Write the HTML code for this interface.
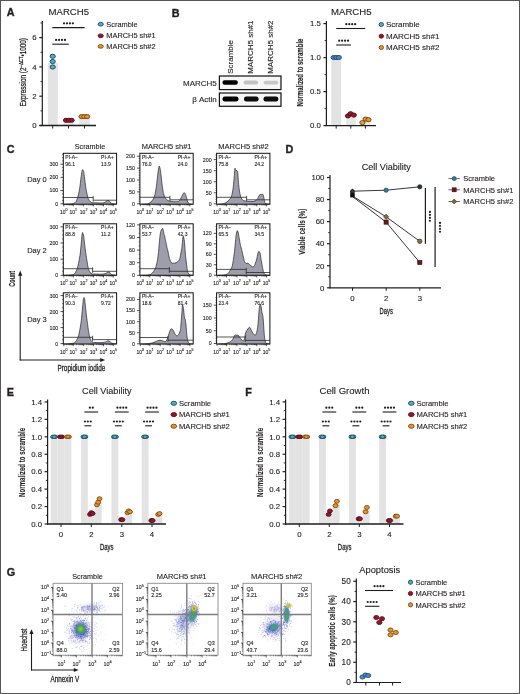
<!DOCTYPE html>
<html><head><meta charset="utf-8"><style>
html,body{margin:0;padding:0;background:#fff;width:520px;height:694px;overflow:hidden}
svg{display:block;filter:blur(0.4px)}
text{font-family:"Liberation Sans",sans-serif;fill:#231f20;stroke:#231f20;stroke-width:0.12px}
</style></head><body>
<svg width="520" height="694" viewBox="0 0 520 694">
<rect width="520" height="694" fill="#fff"/>
<rect x="0.5" y="0.5" width="519" height="693" fill="none" stroke="#555" stroke-width="1"/>
<text x="6.8" y="16" font-size="10.8" text-anchor="start" font-weight="bold" style="stroke-width:0.35px">A</text>
<text x="68.75" y="15" font-size="9" text-anchor="middle" textLength="40.5" lengthAdjust="spacingAndGlyphs">MARCH5</text>
<rect x="47.8" y="62.8" width="10" height="62.7" fill="#e3e3e3"/>
<rect x="63.5" y="120.67" width="10" height="4.83" fill="#e3e3e3"/>
<rect x="79.3" y="117" width="10.5" height="8.5" fill="#e3e6ea"/>
<line x1="42.3" y1="126" x2="42.3" y2="21" stroke="#1e1e1e" stroke-width="1.2"/>
<line x1="39.3" y1="125.5" x2="42.3" y2="125.5" stroke="#1e1e1e" stroke-width="1.2"/>
<text x="36.7" y="128.31" font-size="7.8" text-anchor="end">0</text>
<line x1="39.3" y1="96.2" x2="42.3" y2="96.2" stroke="#1e1e1e" stroke-width="1.2"/>
<text x="36.7" y="99.01" font-size="7.8" text-anchor="end">2</text>
<line x1="39.3" y1="66.9" x2="42.3" y2="66.9" stroke="#1e1e1e" stroke-width="1.2"/>
<text x="36.7" y="69.71" font-size="7.8" text-anchor="end">4</text>
<line x1="39.3" y1="37.6" x2="42.3" y2="37.6" stroke="#1e1e1e" stroke-width="1.2"/>
<text x="36.7" y="40.41" font-size="7.8" text-anchor="end">6</text>
<line x1="40.5" y1="110.85" x2="42.3" y2="110.85" stroke="#1e1e1e" stroke-width="0.9"/>
<line x1="40.5" y1="81.55" x2="42.3" y2="81.55" stroke="#1e1e1e" stroke-width="0.9"/>
<line x1="40.5" y1="52.25" x2="42.3" y2="52.25" stroke="#1e1e1e" stroke-width="0.9"/>
<line x1="40.5" y1="22.95" x2="42.3" y2="22.95" stroke="#1e1e1e" stroke-width="0.9"/>
<line x1="39.5" y1="125.5" x2="96" y2="125.5" stroke="#1e1e1e" stroke-width="1.3"/>
<line x1="52.7" y1="125.5" x2="52.7" y2="128.5" stroke="#1e1e1e" stroke-width="1"/>
<line x1="68.5" y1="125.5" x2="68.5" y2="128.5" stroke="#1e1e1e" stroke-width="1"/>
<line x1="84.5" y1="125.5" x2="84.5" y2="128.5" stroke="#1e1e1e" stroke-width="1"/>
<ellipse cx="52.7" cy="67" rx="2.58" ry="2.05" fill="#5aaac0" stroke="#124e62" stroke-width="1"/>
<ellipse cx="52.7" cy="61.5" rx="2.58" ry="2.05" fill="#5aaac0" stroke="#124e62" stroke-width="1"/>
<ellipse cx="52.7" cy="56.3" rx="2.58" ry="2.05" fill="#5aaac0" stroke="#124e62" stroke-width="1"/>
<ellipse cx="66" cy="120.3" rx="2.58" ry="2.05" fill="#8e1b2d" stroke="#5c0d1a" stroke-width="1"/>
<ellipse cx="68.8" cy="120.3" rx="2.58" ry="2.05" fill="#8e1b2d" stroke="#5c0d1a" stroke-width="1"/>
<ellipse cx="71.6" cy="120.3" rx="2.58" ry="2.05" fill="#8e1b2d" stroke="#5c0d1a" stroke-width="1"/>
<ellipse cx="81.5" cy="116.6" rx="2.58" ry="2.05" fill="#e8932e" stroke="#7a4a10" stroke-width="1"/>
<ellipse cx="84.3" cy="116.6" rx="2.58" ry="2.05" fill="#e8932e" stroke="#7a4a10" stroke-width="1"/>
<ellipse cx="87.1" cy="116.6" rx="2.58" ry="2.05" fill="#e8932e" stroke="#7a4a10" stroke-width="1"/>
<line x1="52.3" y1="27.6" x2="84.6" y2="27.6" stroke="#1e1e1e" stroke-width="1.1"/>
<circle cx="64.02" cy="23.3" r="1.1" fill="#1e1e1e"/>
<circle cx="66.97" cy="23.3" r="1.1" fill="#1e1e1e"/>
<circle cx="69.92" cy="23.3" r="1.1" fill="#1e1e1e"/>
<circle cx="72.87" cy="23.3" r="1.1" fill="#1e1e1e"/>
<line x1="52.3" y1="44.2" x2="68.8" y2="44.2" stroke="#1e1e1e" stroke-width="1.1"/>
<circle cx="56.12" cy="39.9" r="1.1" fill="#1e1e1e"/>
<circle cx="59.07" cy="39.9" r="1.1" fill="#1e1e1e"/>
<circle cx="62.02" cy="39.9" r="1.1" fill="#1e1e1e"/>
<circle cx="64.97" cy="39.9" r="1.1" fill="#1e1e1e"/>
<text x="25.9" y="72.2" font-size="9" style="stroke-width:0.28px" text-anchor="middle" transform="rotate(-90 25.9 72.2)" textLength="68.4" lengthAdjust="spacingAndGlyphs">Expression (2<tspan font-size="6" dy="-3.3">−ΔCT</tspan><tspan dy="3.3">•1000)</tspan></text>
<ellipse cx="100.7" cy="24.2" rx="2.6" ry="1.86" fill="#5aaac0" stroke="#124e62" stroke-width="0.9"/>
<text x="106.3" y="26.86" font-size="7.4" text-anchor="start">Scramble</text>
<ellipse cx="100.7" cy="35.8" rx="2.6" ry="1.86" fill="#8e1b2d" stroke="#5c0d1a" stroke-width="0.9"/>
<text x="106.3" y="38.46" font-size="7.4" text-anchor="start">MARCH5 sh#1</text>
<ellipse cx="100.7" cy="46.4" rx="2.6" ry="1.86" fill="#e8932e" stroke="#7a4a10" stroke-width="0.9"/>
<text x="106.3" y="49.06" font-size="7.4" text-anchor="start">MARCH5 sh#2</text>
<text x="171.8" y="17" font-size="10.8" text-anchor="start" font-weight="bold" style="stroke-width:0.35px">B</text>
<text x="232.6" y="73.8" font-size="8" text-anchor="start" transform="rotate(-90 232.6 73.8)">Scramble</text>
<text x="253" y="73.8" font-size="8" text-anchor="start" transform="rotate(-90 253 73.8)">MARCH5 sh#1</text>
<text x="273" y="73.8" font-size="8" text-anchor="start" transform="rotate(-90 273 73.8)">MARCH5 sh#2</text>
<text x="216.8" y="85.8" font-size="8" text-anchor="end">MARCH5</text>
<text x="216.8" y="102.3" font-size="8" text-anchor="end">β Actin</text>
<rect x="219.4" y="76" width="61.6" height="13.6" fill="#f6f6f6" stroke="#111" stroke-width="1.2"/>
<rect x="219.4" y="93" width="61.6" height="13.3" fill="#f6f6f6" stroke="#111" stroke-width="1.2"/>
<defs><filter id="bl" x="-20%" y="-50%" width="140%" height="200%"><feGaussianBlur stdDeviation="0.6"/></filter><filter id="bl2" x="-20%" y="-50%" width="140%" height="200%"><feGaussianBlur stdDeviation="0.5"/></filter></defs>
<g filter="url(#bl)">
<rect x="222.5" y="80.3" width="15.3" height="4.4" rx="2" fill="#050505"/>
<rect x="243.6" y="80.5" width="14.5" height="4" rx="1.8" fill="#c2c2c2" filter="url(#bl2)"/>
<rect x="263.6" y="80.7" width="14.6" height="3.8" rx="1.8" fill="#c8c8c8" filter="url(#bl2)"/>
<rect x="222.5" y="96.4" width="16" height="5.2" rx="2.4" fill="#050505"/>
<rect x="244" y="96.4" width="14.6" height="5.2" rx="2.4" fill="#080808"/>
<rect x="263.5" y="96.4" width="14.8" height="5.2" rx="2.4" fill="#080808"/>
</g>
<text x="351.25" y="15" font-size="9" text-anchor="middle" textLength="40.5" lengthAdjust="spacingAndGlyphs">MARCH5</text>
<rect x="331.3" y="57.6" width="9.8" height="68" fill="#e3e3e3"/>
<rect x="346.3" y="115.4" width="9.5" height="10.2" fill="#e4e8e8"/>
<rect x="360.8" y="120.84" width="9.7" height="4.76" fill="#e8e8e4"/>
<line x1="326.4" y1="126.1" x2="326.4" y2="21" stroke="#1e1e1e" stroke-width="1.2"/>
<line x1="323.4" y1="125.6" x2="326.4" y2="125.6" stroke="#1e1e1e" stroke-width="1.2"/>
<text x="320.8" y="128.41" font-size="7.8" text-anchor="end">0.0</text>
<line x1="323.4" y1="91.6" x2="326.4" y2="91.6" stroke="#1e1e1e" stroke-width="1.2"/>
<text x="320.8" y="94.41" font-size="7.8" text-anchor="end">0.5</text>
<line x1="323.4" y1="57.6" x2="326.4" y2="57.6" stroke="#1e1e1e" stroke-width="1.2"/>
<text x="320.8" y="60.41" font-size="7.8" text-anchor="end">1.0</text>
<line x1="323.4" y1="23.6" x2="326.4" y2="23.6" stroke="#1e1e1e" stroke-width="1.2"/>
<text x="320.8" y="26.41" font-size="7.8" text-anchor="end">1.5</text>
<line x1="324.6" y1="108.6" x2="326.4" y2="108.6" stroke="#1e1e1e" stroke-width="0.9"/>
<line x1="324.6" y1="74.6" x2="326.4" y2="74.6" stroke="#1e1e1e" stroke-width="0.9"/>
<line x1="324.6" y1="40.6" x2="326.4" y2="40.6" stroke="#1e1e1e" stroke-width="0.9"/>
<line x1="325.6" y1="125.6" x2="376" y2="125.6" stroke="#1e1e1e" stroke-width="1.3"/>
<line x1="336.2" y1="125.6" x2="336.2" y2="128.6" stroke="#1e1e1e" stroke-width="1"/>
<line x1="350.8" y1="125.6" x2="350.8" y2="128.6" stroke="#1e1e1e" stroke-width="1"/>
<line x1="365.4" y1="125.6" x2="365.4" y2="128.6" stroke="#1e1e1e" stroke-width="1"/>
<ellipse cx="333.6" cy="57.5" rx="2.58" ry="2.05" fill="#4a86b8" stroke="#1d4f7a" stroke-width="1"/>
<ellipse cx="336.2" cy="57.5" rx="2.58" ry="2.05" fill="#4a86b8" stroke="#1d4f7a" stroke-width="1"/>
<ellipse cx="338.8" cy="57.5" rx="2.58" ry="2.05" fill="#4a86b8" stroke="#1d4f7a" stroke-width="1"/>
<ellipse cx="348" cy="115.9" rx="2.58" ry="2.05" fill="#8e1b2d" stroke="#5c0d1a" stroke-width="1"/>
<ellipse cx="350.6" cy="113.7" rx="2.58" ry="2.05" fill="#8e1b2d" stroke="#5c0d1a" stroke-width="1"/>
<ellipse cx="353.8" cy="115.1" rx="2.58" ry="2.05" fill="#8e1b2d" stroke="#5c0d1a" stroke-width="1"/>
<ellipse cx="362.4" cy="122.6" rx="2.58" ry="2.05" fill="#c8b040" stroke="#7a4a10" stroke-width="1"/>
<ellipse cx="365.6" cy="119.1" rx="2.58" ry="2.05" fill="#e8932e" stroke="#7a4a10" stroke-width="1"/>
<ellipse cx="368.5" cy="119.7" rx="2.58" ry="2.05" fill="#e8932e" stroke="#7a4a10" stroke-width="1"/>
<line x1="336.2" y1="28.5" x2="365.2" y2="28.5" stroke="#1e1e1e" stroke-width="1.1"/>
<circle cx="346.27" cy="24.2" r="1.1" fill="#1e1e1e"/>
<circle cx="349.22" cy="24.2" r="1.1" fill="#1e1e1e"/>
<circle cx="352.18" cy="24.2" r="1.1" fill="#1e1e1e"/>
<circle cx="355.12" cy="24.2" r="1.1" fill="#1e1e1e"/>
<line x1="336.2" y1="45" x2="351" y2="45" stroke="#1e1e1e" stroke-width="1.1"/>
<circle cx="339.18" cy="40.7" r="1.1" fill="#1e1e1e"/>
<circle cx="342.12" cy="40.7" r="1.1" fill="#1e1e1e"/>
<circle cx="345.08" cy="40.7" r="1.1" fill="#1e1e1e"/>
<circle cx="348.03" cy="40.7" r="1.1" fill="#1e1e1e"/>
<text x="303.4" y="72.5" font-size="9" text-anchor="middle" font-weight="bold" textLength="67.8" lengthAdjust="spacingAndGlyphs" transform="rotate(-90 303.4 72.5)">Normalized to scramble</text>
<ellipse cx="381.3" cy="24.5" rx="2.21" ry="2" fill="#5aaac0" stroke="#124e62" stroke-width="0.9"/>
<text x="386" y="27.38" font-size="8" text-anchor="start">Scramble</text>
<ellipse cx="381.3" cy="36.2" rx="2.21" ry="2" fill="#8e1b2d" stroke="#5c0d1a" stroke-width="0.9"/>
<text x="386" y="39.08" font-size="8" text-anchor="start">MARCH5 sh#1</text>
<ellipse cx="381.3" cy="47.5" rx="2.21" ry="2" fill="#e8932e" stroke="#7a4a10" stroke-width="0.9"/>
<text x="386" y="50.38" font-size="8" text-anchor="start">MARCH5 sh#2</text>
<text x="6.8" y="152.5" font-size="10.8" text-anchor="start" font-weight="bold" style="stroke-width:0.35px">C</text>
<text x="90" y="149.2" font-size="7.6" text-anchor="middle" textLength="30.5" lengthAdjust="spacingAndGlyphs">Scramble</text>
<text x="166.6" y="149.2" font-size="7.6" text-anchor="middle" textLength="49.8" lengthAdjust="spacingAndGlyphs">MARCH5 sh#1</text>
<text x="243.5" y="149.2" font-size="7.6" text-anchor="middle" textLength="50.5" lengthAdjust="spacingAndGlyphs">MARCH5 sh#2</text>
<text x="37" y="181.5" font-size="7.5" text-anchor="middle">Day 0</text>
<text x="37" y="252.7" font-size="7.5" text-anchor="middle">Day 2</text>
<text x="37" y="321.5" font-size="7.5" text-anchor="middle">Day 3</text>
<path d="M64,204.2 C64.6,204.18 69.02,204.07 70,204 C70.98,203.93 73.2,203.75 73.8,203.5 C74.4,203.25 75.65,201.98 76,201.5 C76.35,201.02 77.02,199.55 77.3,198.7 C77.58,197.85 78.54,194.18 78.8,193 C79.06,191.82 79.68,188.4 79.9,186.9 C80.12,185.4 80.8,179.54 81,178 C81.2,176.46 81.72,172.34 81.9,171.5 C82.08,170.66 82.63,169.6 82.8,169.6 C82.97,169.6 83.42,170.66 83.6,171.5 C83.78,172.34 84.39,176.46 84.6,178 C84.81,179.54 85.48,185.4 85.7,186.9 C85.92,188.4 86.54,191.82 86.8,193 C87.06,194.18 87.98,197.85 88.3,198.7 C88.62,199.55 89.66,201.11 90,201.5 C90.34,201.89 91.2,202.47 91.7,202.6 C92.2,202.73 94.17,202.76 95,202.8 C95.83,202.84 99.1,203 100,203 C100.9,203 103.4,202.94 104,202.8 C104.6,202.66 105.65,201.83 106,201.6 C106.35,201.37 107.2,200.58 107.5,200.5 C107.8,200.42 108.72,200.62 109,200.8 C109.28,200.98 110,202.02 110.3,202.3 C110.6,202.58 111.43,203.41 112,203.6 C112.57,203.79 115.6,204.14 116,204.2 L116,204.2 L64,204.2 Z" fill="#9d9dab" stroke="none"/>
<path d="M64,204.2 C64.6,204.18 69.02,204.07 70,204 C70.98,203.93 73.2,203.75 73.8,203.5 C74.4,203.25 75.65,201.98 76,201.5 C76.35,201.02 77.02,199.55 77.3,198.7 C77.58,197.85 78.54,194.18 78.8,193 C79.06,191.82 79.68,188.4 79.9,186.9 C80.12,185.4 80.8,179.54 81,178 C81.2,176.46 81.72,172.34 81.9,171.5 C82.08,170.66 82.63,169.6 82.8,169.6 C82.97,169.6 83.42,170.66 83.6,171.5 C83.78,172.34 84.39,176.46 84.6,178 C84.81,179.54 85.48,185.4 85.7,186.9 C85.92,188.4 86.54,191.82 86.8,193 C87.06,194.18 87.98,197.85 88.3,198.7 C88.62,199.55 89.66,201.11 90,201.5 C90.34,201.89 91.2,202.47 91.7,202.6 C92.2,202.73 94.17,202.76 95,202.8 C95.83,202.84 99.1,203 100,203 C100.9,203 103.4,202.94 104,202.8 C104.6,202.66 105.65,201.83 106,201.6 C106.35,201.37 107.2,200.58 107.5,200.5 C107.8,200.42 108.72,200.62 109,200.8 C109.28,200.98 110,202.02 110.3,202.3 C110.6,202.58 111.43,203.41 112,203.6 C112.57,203.79 115.6,204.14 116,204.2" fill="none" stroke="#222" stroke-width="0.7"/>
<line x1="63.3" y1="197.5" x2="93.2" y2="197.5" stroke="#2a2a2a" stroke-width="0.8"/>
<line x1="93.2" y1="196" x2="93.2" y2="199" stroke="#2a2a2a" stroke-width="0.8"/>
<line x1="93.2" y1="200.2" x2="116.6" y2="200.2" stroke="#2a2a2a" stroke-width="0.8"/>
<line x1="93.2" y1="198.7" x2="93.2" y2="201.7" stroke="#2a2a2a" stroke-width="0.8"/>
<rect x="63.3" y="153.3" width="53.3" height="50.9" fill="none" stroke="#111" stroke-width="1"/>
<line x1="60.5" y1="203.75" x2="63.3" y2="203.75" stroke="#1e1e1e" stroke-width="0.8"/>
<text x="58.3" y="205.65" font-size="5.3" text-anchor="end">0</text>
<line x1="60.5" y1="190.57" x2="63.3" y2="190.57" stroke="#1e1e1e" stroke-width="0.8"/>
<text x="58.3" y="192.47" font-size="5.3" text-anchor="end">100</text>
<line x1="60.5" y1="177.39" x2="63.3" y2="177.39" stroke="#1e1e1e" stroke-width="0.8"/>
<text x="58.3" y="179.29" font-size="5.3" text-anchor="end">200</text>
<line x1="60.5" y1="164.21" x2="63.3" y2="164.21" stroke="#1e1e1e" stroke-width="0.8"/>
<text x="58.3" y="166.11" font-size="5.3" text-anchor="end">300</text>
<line x1="62" y1="200.46" x2="63.3" y2="200.46" stroke="#1e1e1e" stroke-width="0.55"/>
<line x1="62" y1="197.16" x2="63.3" y2="197.16" stroke="#1e1e1e" stroke-width="0.55"/>
<line x1="62" y1="193.87" x2="63.3" y2="193.87" stroke="#1e1e1e" stroke-width="0.55"/>
<line x1="62" y1="187.28" x2="63.3" y2="187.28" stroke="#1e1e1e" stroke-width="0.55"/>
<line x1="62" y1="183.98" x2="63.3" y2="183.98" stroke="#1e1e1e" stroke-width="0.55"/>
<line x1="62" y1="180.69" x2="63.3" y2="180.69" stroke="#1e1e1e" stroke-width="0.55"/>
<line x1="62" y1="174.09" x2="63.3" y2="174.09" stroke="#1e1e1e" stroke-width="0.55"/>
<line x1="62" y1="170.8" x2="63.3" y2="170.8" stroke="#1e1e1e" stroke-width="0.55"/>
<line x1="62" y1="167.5" x2="63.3" y2="167.5" stroke="#1e1e1e" stroke-width="0.55"/>
<line x1="62" y1="160.91" x2="63.3" y2="160.91" stroke="#1e1e1e" stroke-width="0.55"/>
<line x1="62" y1="157.62" x2="63.3" y2="157.62" stroke="#1e1e1e" stroke-width="0.55"/>
<line x1="62" y1="154.32" x2="63.3" y2="154.32" stroke="#1e1e1e" stroke-width="0.55"/>
<line x1="63.8" y1="204.2" x2="63.8" y2="206.4" stroke="#1e1e1e" stroke-width="0.7"/>
<text x="63.7" y="214.2" font-size="5" text-anchor="middle">10<tspan font-size="3.6" dy="-3.2">0</tspan></text>
<line x1="66.66" y1="204.2" x2="66.66" y2="205.4" stroke="#1e1e1e" stroke-width="0.5"/>
<line x1="68.33" y1="204.2" x2="68.33" y2="205.4" stroke="#1e1e1e" stroke-width="0.5"/>
<line x1="69.52" y1="204.2" x2="69.52" y2="205.4" stroke="#1e1e1e" stroke-width="0.5"/>
<line x1="70.44" y1="204.2" x2="70.44" y2="205.4" stroke="#1e1e1e" stroke-width="0.5"/>
<line x1="71.19" y1="204.2" x2="71.19" y2="205.4" stroke="#1e1e1e" stroke-width="0.5"/>
<line x1="71.83" y1="204.2" x2="71.83" y2="205.4" stroke="#1e1e1e" stroke-width="0.5"/>
<line x1="72.38" y1="204.2" x2="72.38" y2="205.4" stroke="#1e1e1e" stroke-width="0.5"/>
<line x1="72.87" y1="204.2" x2="72.87" y2="205.4" stroke="#1e1e1e" stroke-width="0.5"/>
<line x1="73.3" y1="204.2" x2="73.3" y2="206.4" stroke="#1e1e1e" stroke-width="0.7"/>
<text x="73.2" y="214.2" font-size="5" text-anchor="middle">10<tspan font-size="3.6" dy="-3.2">1</tspan></text>
<line x1="76.43" y1="204.2" x2="76.43" y2="205.4" stroke="#1e1e1e" stroke-width="0.5"/>
<line x1="78.26" y1="204.2" x2="78.26" y2="205.4" stroke="#1e1e1e" stroke-width="0.5"/>
<line x1="79.56" y1="204.2" x2="79.56" y2="205.4" stroke="#1e1e1e" stroke-width="0.5"/>
<line x1="80.57" y1="204.2" x2="80.57" y2="205.4" stroke="#1e1e1e" stroke-width="0.5"/>
<line x1="81.39" y1="204.2" x2="81.39" y2="205.4" stroke="#1e1e1e" stroke-width="0.5"/>
<line x1="82.09" y1="204.2" x2="82.09" y2="205.4" stroke="#1e1e1e" stroke-width="0.5"/>
<line x1="82.69" y1="204.2" x2="82.69" y2="205.4" stroke="#1e1e1e" stroke-width="0.5"/>
<line x1="83.22" y1="204.2" x2="83.22" y2="205.4" stroke="#1e1e1e" stroke-width="0.5"/>
<line x1="83.7" y1="204.2" x2="83.7" y2="206.4" stroke="#1e1e1e" stroke-width="0.7"/>
<text x="83.6" y="214.2" font-size="5" text-anchor="middle">10<tspan font-size="3.6" dy="-3.2">2</tspan></text>
<line x1="86.68" y1="204.2" x2="86.68" y2="205.4" stroke="#1e1e1e" stroke-width="0.5"/>
<line x1="88.42" y1="204.2" x2="88.42" y2="205.4" stroke="#1e1e1e" stroke-width="0.5"/>
<line x1="89.66" y1="204.2" x2="89.66" y2="205.4" stroke="#1e1e1e" stroke-width="0.5"/>
<line x1="90.62" y1="204.2" x2="90.62" y2="205.4" stroke="#1e1e1e" stroke-width="0.5"/>
<line x1="91.4" y1="204.2" x2="91.4" y2="205.4" stroke="#1e1e1e" stroke-width="0.5"/>
<line x1="92.07" y1="204.2" x2="92.07" y2="205.4" stroke="#1e1e1e" stroke-width="0.5"/>
<line x1="92.64" y1="204.2" x2="92.64" y2="205.4" stroke="#1e1e1e" stroke-width="0.5"/>
<line x1="93.15" y1="204.2" x2="93.15" y2="205.4" stroke="#1e1e1e" stroke-width="0.5"/>
<line x1="93.6" y1="204.2" x2="93.6" y2="206.4" stroke="#1e1e1e" stroke-width="0.7"/>
<text x="93.5" y="214.2" font-size="5" text-anchor="middle">10<tspan font-size="3.6" dy="-3.2">3</tspan></text>
<line x1="96.58" y1="204.2" x2="96.58" y2="205.4" stroke="#1e1e1e" stroke-width="0.5"/>
<line x1="98.32" y1="204.2" x2="98.32" y2="205.4" stroke="#1e1e1e" stroke-width="0.5"/>
<line x1="99.56" y1="204.2" x2="99.56" y2="205.4" stroke="#1e1e1e" stroke-width="0.5"/>
<line x1="100.52" y1="204.2" x2="100.52" y2="205.4" stroke="#1e1e1e" stroke-width="0.5"/>
<line x1="101.3" y1="204.2" x2="101.3" y2="205.4" stroke="#1e1e1e" stroke-width="0.5"/>
<line x1="101.97" y1="204.2" x2="101.97" y2="205.4" stroke="#1e1e1e" stroke-width="0.5"/>
<line x1="102.54" y1="204.2" x2="102.54" y2="205.4" stroke="#1e1e1e" stroke-width="0.5"/>
<line x1="103.05" y1="204.2" x2="103.05" y2="205.4" stroke="#1e1e1e" stroke-width="0.5"/>
<line x1="103.5" y1="204.2" x2="103.5" y2="206.4" stroke="#1e1e1e" stroke-width="0.7"/>
<text x="103.4" y="214.2" font-size="5" text-anchor="middle">10<tspan font-size="3.6" dy="-3.2">4</tspan></text>
<line x1="106.45" y1="204.2" x2="106.45" y2="205.4" stroke="#1e1e1e" stroke-width="0.5"/>
<line x1="108.18" y1="204.2" x2="108.18" y2="205.4" stroke="#1e1e1e" stroke-width="0.5"/>
<line x1="109.4" y1="204.2" x2="109.4" y2="205.4" stroke="#1e1e1e" stroke-width="0.5"/>
<line x1="110.35" y1="204.2" x2="110.35" y2="205.4" stroke="#1e1e1e" stroke-width="0.5"/>
<line x1="111.13" y1="204.2" x2="111.13" y2="205.4" stroke="#1e1e1e" stroke-width="0.5"/>
<line x1="111.78" y1="204.2" x2="111.78" y2="205.4" stroke="#1e1e1e" stroke-width="0.5"/>
<line x1="112.35" y1="204.2" x2="112.35" y2="205.4" stroke="#1e1e1e" stroke-width="0.5"/>
<line x1="112.85" y1="204.2" x2="112.85" y2="205.4" stroke="#1e1e1e" stroke-width="0.5"/>
<line x1="113.3" y1="204.2" x2="113.3" y2="206.4" stroke="#1e1e1e" stroke-width="0.7"/>
<text x="113.2" y="214.2" font-size="5" text-anchor="middle">10<tspan font-size="3.6" dy="-3.2">5</tspan></text>
<text x="65.3" y="158.9" font-size="5" text-anchor="start">PI-A−</text>
<text x="65.3" y="165.5" font-size="5" text-anchor="start">96.1</text>
<text x="101.1" y="158.9" font-size="5" text-anchor="start">PI-A+</text>
<text x="101.1" y="165.5" font-size="5" text-anchor="start">13.9</text>
<path d="M141,204.2 C141.5,204.18 145.25,204.07 146,204 C146.75,203.93 148,203.7 148.5,203.5 C149,203.3 150.55,202.4 151,202 C151.45,201.6 152.67,200 153,199.5 C153.33,199 154.05,197.75 154.3,197 C154.55,196.25 155.27,193.2 155.5,192 C155.73,190.8 156.39,186.6 156.6,185 C156.81,183.4 157.41,177.6 157.6,176 C157.79,174.4 158.33,169.99 158.5,169 C158.67,168.01 159.14,166.15 159.3,166.1 C159.46,166.05 159.93,167.61 160.1,168.5 C160.27,169.39 160.8,173.35 161,175 C161.2,176.65 161.87,183.25 162.1,185 C162.33,186.75 163.04,191.3 163.3,192.5 C163.56,193.7 164.38,196.3 164.7,197 C165.02,197.7 166.16,199.14 166.5,199.5 C166.84,199.86 167.59,200.4 168.1,200.6 C168.61,200.8 170.91,201.39 171.6,201.5 C172.29,201.61 174.31,201.7 175,201.7 C175.69,201.7 177.97,201.72 178.5,201.5 C179.03,201.28 179.95,200.05 180.3,199.5 C180.65,198.95 181.7,196.62 182,196 C182.3,195.38 183.07,193.63 183.3,193.3 C183.53,192.97 184.1,192.65 184.3,192.7 C184.5,192.75 185.08,193.32 185.3,193.8 C185.52,194.28 186.26,196.68 186.5,197.5 C186.74,198.32 187.4,201.37 187.7,202 C188,202.63 188.97,203.58 189.5,203.8 C190.03,204.02 192.65,204.16 193,204.2 L193,204.2 L141,204.2 Z" fill="#9d9dab" stroke="none"/>
<path d="M141,204.2 C141.5,204.18 145.25,204.07 146,204 C146.75,203.93 148,203.7 148.5,203.5 C149,203.3 150.55,202.4 151,202 C151.45,201.6 152.67,200 153,199.5 C153.33,199 154.05,197.75 154.3,197 C154.55,196.25 155.27,193.2 155.5,192 C155.73,190.8 156.39,186.6 156.6,185 C156.81,183.4 157.41,177.6 157.6,176 C157.79,174.4 158.33,169.99 158.5,169 C158.67,168.01 159.14,166.15 159.3,166.1 C159.46,166.05 159.93,167.61 160.1,168.5 C160.27,169.39 160.8,173.35 161,175 C161.2,176.65 161.87,183.25 162.1,185 C162.33,186.75 163.04,191.3 163.3,192.5 C163.56,193.7 164.38,196.3 164.7,197 C165.02,197.7 166.16,199.14 166.5,199.5 C166.84,199.86 167.59,200.4 168.1,200.6 C168.61,200.8 170.91,201.39 171.6,201.5 C172.29,201.61 174.31,201.7 175,201.7 C175.69,201.7 177.97,201.72 178.5,201.5 C179.03,201.28 179.95,200.05 180.3,199.5 C180.65,198.95 181.7,196.62 182,196 C182.3,195.38 183.07,193.63 183.3,193.3 C183.53,192.97 184.1,192.65 184.3,192.7 C184.5,192.75 185.08,193.32 185.3,193.8 C185.52,194.28 186.26,196.68 186.5,197.5 C186.74,198.32 187.4,201.37 187.7,202 C188,202.63 188.97,203.58 189.5,203.8 C190.03,204.02 192.65,204.16 193,204.2" fill="none" stroke="#222" stroke-width="0.7"/>
<line x1="139.9" y1="197.3" x2="169.9" y2="197.3" stroke="#2a2a2a" stroke-width="0.8"/>
<line x1="169.9" y1="195.8" x2="169.9" y2="198.8" stroke="#2a2a2a" stroke-width="0.8"/>
<line x1="169.9" y1="199.8" x2="193.2" y2="199.8" stroke="#2a2a2a" stroke-width="0.8"/>
<line x1="169.9" y1="198.3" x2="169.9" y2="201.3" stroke="#2a2a2a" stroke-width="0.8"/>
<rect x="139.9" y="153.3" width="53.3" height="50.9" fill="none" stroke="#111" stroke-width="1"/>
<line x1="137.1" y1="203.75" x2="139.9" y2="203.75" stroke="#1e1e1e" stroke-width="0.8"/>
<text x="134.9" y="205.65" font-size="5.3" text-anchor="end">0</text>
<line x1="137.1" y1="191.88" x2="139.9" y2="191.88" stroke="#1e1e1e" stroke-width="0.8"/>
<text x="134.9" y="193.78" font-size="5.3" text-anchor="end">50</text>
<line x1="137.1" y1="180" x2="139.9" y2="180" stroke="#1e1e1e" stroke-width="0.8"/>
<text x="134.9" y="181.9" font-size="5.3" text-anchor="end">100</text>
<line x1="137.1" y1="168.12" x2="139.9" y2="168.12" stroke="#1e1e1e" stroke-width="0.8"/>
<text x="134.9" y="170.03" font-size="5.3" text-anchor="end">150</text>
<line x1="137.1" y1="156.25" x2="139.9" y2="156.25" stroke="#1e1e1e" stroke-width="0.8"/>
<text x="134.9" y="158.15" font-size="5.3" text-anchor="end">200</text>
<line x1="138.6" y1="201.38" x2="139.9" y2="201.38" stroke="#1e1e1e" stroke-width="0.55"/>
<line x1="138.6" y1="199" x2="139.9" y2="199" stroke="#1e1e1e" stroke-width="0.55"/>
<line x1="138.6" y1="196.62" x2="139.9" y2="196.62" stroke="#1e1e1e" stroke-width="0.55"/>
<line x1="138.6" y1="194.25" x2="139.9" y2="194.25" stroke="#1e1e1e" stroke-width="0.55"/>
<line x1="138.6" y1="189.5" x2="139.9" y2="189.5" stroke="#1e1e1e" stroke-width="0.55"/>
<line x1="138.6" y1="187.12" x2="139.9" y2="187.12" stroke="#1e1e1e" stroke-width="0.55"/>
<line x1="138.6" y1="184.75" x2="139.9" y2="184.75" stroke="#1e1e1e" stroke-width="0.55"/>
<line x1="138.6" y1="182.38" x2="139.9" y2="182.38" stroke="#1e1e1e" stroke-width="0.55"/>
<line x1="138.6" y1="177.62" x2="139.9" y2="177.62" stroke="#1e1e1e" stroke-width="0.55"/>
<line x1="138.6" y1="175.25" x2="139.9" y2="175.25" stroke="#1e1e1e" stroke-width="0.55"/>
<line x1="138.6" y1="172.88" x2="139.9" y2="172.88" stroke="#1e1e1e" stroke-width="0.55"/>
<line x1="138.6" y1="170.5" x2="139.9" y2="170.5" stroke="#1e1e1e" stroke-width="0.55"/>
<line x1="138.6" y1="165.75" x2="139.9" y2="165.75" stroke="#1e1e1e" stroke-width="0.55"/>
<line x1="138.6" y1="163.38" x2="139.9" y2="163.38" stroke="#1e1e1e" stroke-width="0.55"/>
<line x1="138.6" y1="161" x2="139.9" y2="161" stroke="#1e1e1e" stroke-width="0.55"/>
<line x1="138.6" y1="158.62" x2="139.9" y2="158.62" stroke="#1e1e1e" stroke-width="0.55"/>
<line x1="140.4" y1="204.2" x2="140.4" y2="206.4" stroke="#1e1e1e" stroke-width="0.7"/>
<text x="140.3" y="214.2" font-size="5" text-anchor="middle">10<tspan font-size="3.6" dy="-3.2">0</tspan></text>
<line x1="143.26" y1="204.2" x2="143.26" y2="205.4" stroke="#1e1e1e" stroke-width="0.5"/>
<line x1="144.93" y1="204.2" x2="144.93" y2="205.4" stroke="#1e1e1e" stroke-width="0.5"/>
<line x1="146.12" y1="204.2" x2="146.12" y2="205.4" stroke="#1e1e1e" stroke-width="0.5"/>
<line x1="147.04" y1="204.2" x2="147.04" y2="205.4" stroke="#1e1e1e" stroke-width="0.5"/>
<line x1="147.79" y1="204.2" x2="147.79" y2="205.4" stroke="#1e1e1e" stroke-width="0.5"/>
<line x1="148.43" y1="204.2" x2="148.43" y2="205.4" stroke="#1e1e1e" stroke-width="0.5"/>
<line x1="148.98" y1="204.2" x2="148.98" y2="205.4" stroke="#1e1e1e" stroke-width="0.5"/>
<line x1="149.47" y1="204.2" x2="149.47" y2="205.4" stroke="#1e1e1e" stroke-width="0.5"/>
<line x1="149.9" y1="204.2" x2="149.9" y2="206.4" stroke="#1e1e1e" stroke-width="0.7"/>
<text x="149.8" y="214.2" font-size="5" text-anchor="middle">10<tspan font-size="3.6" dy="-3.2">1</tspan></text>
<line x1="153.03" y1="204.2" x2="153.03" y2="205.4" stroke="#1e1e1e" stroke-width="0.5"/>
<line x1="154.86" y1="204.2" x2="154.86" y2="205.4" stroke="#1e1e1e" stroke-width="0.5"/>
<line x1="156.16" y1="204.2" x2="156.16" y2="205.4" stroke="#1e1e1e" stroke-width="0.5"/>
<line x1="157.17" y1="204.2" x2="157.17" y2="205.4" stroke="#1e1e1e" stroke-width="0.5"/>
<line x1="157.99" y1="204.2" x2="157.99" y2="205.4" stroke="#1e1e1e" stroke-width="0.5"/>
<line x1="158.69" y1="204.2" x2="158.69" y2="205.4" stroke="#1e1e1e" stroke-width="0.5"/>
<line x1="159.29" y1="204.2" x2="159.29" y2="205.4" stroke="#1e1e1e" stroke-width="0.5"/>
<line x1="159.82" y1="204.2" x2="159.82" y2="205.4" stroke="#1e1e1e" stroke-width="0.5"/>
<line x1="160.3" y1="204.2" x2="160.3" y2="206.4" stroke="#1e1e1e" stroke-width="0.7"/>
<text x="160.2" y="214.2" font-size="5" text-anchor="middle">10<tspan font-size="3.6" dy="-3.2">2</tspan></text>
<line x1="163.28" y1="204.2" x2="163.28" y2="205.4" stroke="#1e1e1e" stroke-width="0.5"/>
<line x1="165.02" y1="204.2" x2="165.02" y2="205.4" stroke="#1e1e1e" stroke-width="0.5"/>
<line x1="166.26" y1="204.2" x2="166.26" y2="205.4" stroke="#1e1e1e" stroke-width="0.5"/>
<line x1="167.22" y1="204.2" x2="167.22" y2="205.4" stroke="#1e1e1e" stroke-width="0.5"/>
<line x1="168" y1="204.2" x2="168" y2="205.4" stroke="#1e1e1e" stroke-width="0.5"/>
<line x1="168.67" y1="204.2" x2="168.67" y2="205.4" stroke="#1e1e1e" stroke-width="0.5"/>
<line x1="169.24" y1="204.2" x2="169.24" y2="205.4" stroke="#1e1e1e" stroke-width="0.5"/>
<line x1="169.75" y1="204.2" x2="169.75" y2="205.4" stroke="#1e1e1e" stroke-width="0.5"/>
<line x1="170.2" y1="204.2" x2="170.2" y2="206.4" stroke="#1e1e1e" stroke-width="0.7"/>
<text x="170.1" y="214.2" font-size="5" text-anchor="middle">10<tspan font-size="3.6" dy="-3.2">3</tspan></text>
<line x1="173.18" y1="204.2" x2="173.18" y2="205.4" stroke="#1e1e1e" stroke-width="0.5"/>
<line x1="174.92" y1="204.2" x2="174.92" y2="205.4" stroke="#1e1e1e" stroke-width="0.5"/>
<line x1="176.16" y1="204.2" x2="176.16" y2="205.4" stroke="#1e1e1e" stroke-width="0.5"/>
<line x1="177.12" y1="204.2" x2="177.12" y2="205.4" stroke="#1e1e1e" stroke-width="0.5"/>
<line x1="177.9" y1="204.2" x2="177.9" y2="205.4" stroke="#1e1e1e" stroke-width="0.5"/>
<line x1="178.57" y1="204.2" x2="178.57" y2="205.4" stroke="#1e1e1e" stroke-width="0.5"/>
<line x1="179.14" y1="204.2" x2="179.14" y2="205.4" stroke="#1e1e1e" stroke-width="0.5"/>
<line x1="179.65" y1="204.2" x2="179.65" y2="205.4" stroke="#1e1e1e" stroke-width="0.5"/>
<line x1="180.1" y1="204.2" x2="180.1" y2="206.4" stroke="#1e1e1e" stroke-width="0.7"/>
<text x="180" y="214.2" font-size="5" text-anchor="middle">10<tspan font-size="3.6" dy="-3.2">4</tspan></text>
<line x1="183.05" y1="204.2" x2="183.05" y2="205.4" stroke="#1e1e1e" stroke-width="0.5"/>
<line x1="184.78" y1="204.2" x2="184.78" y2="205.4" stroke="#1e1e1e" stroke-width="0.5"/>
<line x1="186" y1="204.2" x2="186" y2="205.4" stroke="#1e1e1e" stroke-width="0.5"/>
<line x1="186.95" y1="204.2" x2="186.95" y2="205.4" stroke="#1e1e1e" stroke-width="0.5"/>
<line x1="187.73" y1="204.2" x2="187.73" y2="205.4" stroke="#1e1e1e" stroke-width="0.5"/>
<line x1="188.38" y1="204.2" x2="188.38" y2="205.4" stroke="#1e1e1e" stroke-width="0.5"/>
<line x1="188.95" y1="204.2" x2="188.95" y2="205.4" stroke="#1e1e1e" stroke-width="0.5"/>
<line x1="189.45" y1="204.2" x2="189.45" y2="205.4" stroke="#1e1e1e" stroke-width="0.5"/>
<line x1="189.9" y1="204.2" x2="189.9" y2="206.4" stroke="#1e1e1e" stroke-width="0.7"/>
<text x="189.8" y="214.2" font-size="5" text-anchor="middle">10<tspan font-size="3.6" dy="-3.2">5</tspan></text>
<text x="141.9" y="158.9" font-size="5" text-anchor="start">PI-A−</text>
<text x="141.9" y="165.5" font-size="5" text-anchor="start">76.0</text>
<text x="177.7" y="158.9" font-size="5" text-anchor="start">PI-A+</text>
<text x="177.7" y="165.5" font-size="5" text-anchor="start">24.0</text>
<path d="M218,204.2 C218.4,204.18 221.36,204.09 222,204 C222.64,203.91 223.9,203.5 224.4,203.3 C224.9,203.1 226.49,202.38 227,202 C227.51,201.62 229.07,200 229.5,199.5 C229.93,199 231,197.75 231.3,197 C231.6,196.25 232.29,193.1 232.5,192 C232.71,190.9 233.23,187.5 233.4,186 C233.57,184.5 234.07,178.55 234.2,177 C234.33,175.45 234.61,171.38 234.7,170.5 C234.79,169.62 234.99,168.17 235.1,168.2 C235.21,168.23 235.65,170.57 235.8,170.8 C235.95,171.03 236.42,170.43 236.6,170.5 C236.78,170.57 237.44,170.65 237.6,171.5 C237.76,172.35 238.08,177.55 238.2,179 C238.32,180.45 238.65,184.65 238.8,186 C238.95,187.35 239.5,191.4 239.7,192.5 C239.9,193.6 240.57,196.32 240.8,197 C241.03,197.68 241.74,198.95 242,199.3 C242.26,199.65 242.86,200.3 243.4,200.5 C243.94,200.7 246.42,201.2 247.4,201.3 C248.38,201.4 252.27,201.63 253.2,201.5 C254.13,201.37 256.17,200.45 256.7,200 C257.23,199.55 258.21,197.52 258.5,197 C258.79,196.48 259.3,195.07 259.6,194.8 C259.9,194.53 261.16,194.33 261.5,194.3 C261.84,194.27 262.77,194.18 263,194.5 C263.23,194.82 263.64,196.8 263.8,197.5 C263.96,198.2 264.43,200.9 264.6,201.5 C264.77,202.1 264.96,203.23 265.5,203.5 C266.04,203.77 269.55,204.13 270,204.2 L270,204.2 L218,204.2 Z" fill="#9d9dab" stroke="none"/>
<path d="M218,204.2 C218.4,204.18 221.36,204.09 222,204 C222.64,203.91 223.9,203.5 224.4,203.3 C224.9,203.1 226.49,202.38 227,202 C227.51,201.62 229.07,200 229.5,199.5 C229.93,199 231,197.75 231.3,197 C231.6,196.25 232.29,193.1 232.5,192 C232.71,190.9 233.23,187.5 233.4,186 C233.57,184.5 234.07,178.55 234.2,177 C234.33,175.45 234.61,171.38 234.7,170.5 C234.79,169.62 234.99,168.17 235.1,168.2 C235.21,168.23 235.65,170.57 235.8,170.8 C235.95,171.03 236.42,170.43 236.6,170.5 C236.78,170.57 237.44,170.65 237.6,171.5 C237.76,172.35 238.08,177.55 238.2,179 C238.32,180.45 238.65,184.65 238.8,186 C238.95,187.35 239.5,191.4 239.7,192.5 C239.9,193.6 240.57,196.32 240.8,197 C241.03,197.68 241.74,198.95 242,199.3 C242.26,199.65 242.86,200.3 243.4,200.5 C243.94,200.7 246.42,201.2 247.4,201.3 C248.38,201.4 252.27,201.63 253.2,201.5 C254.13,201.37 256.17,200.45 256.7,200 C257.23,199.55 258.21,197.52 258.5,197 C258.79,196.48 259.3,195.07 259.6,194.8 C259.9,194.53 261.16,194.33 261.5,194.3 C261.84,194.27 262.77,194.18 263,194.5 C263.23,194.82 263.64,196.8 263.8,197.5 C263.96,198.2 264.43,200.9 264.6,201.5 C264.77,202.1 264.96,203.23 265.5,203.5 C266.04,203.77 269.55,204.13 270,204.2" fill="none" stroke="#222" stroke-width="0.7"/>
<line x1="216.6" y1="197.3" x2="246.6" y2="197.3" stroke="#2a2a2a" stroke-width="0.8"/>
<line x1="246.6" y1="195.8" x2="246.6" y2="198.8" stroke="#2a2a2a" stroke-width="0.8"/>
<line x1="246.6" y1="199.8" x2="269.9" y2="199.8" stroke="#2a2a2a" stroke-width="0.8"/>
<line x1="246.6" y1="198.3" x2="246.6" y2="201.3" stroke="#2a2a2a" stroke-width="0.8"/>
<rect x="216.6" y="153.3" width="53.3" height="50.9" fill="none" stroke="#111" stroke-width="1"/>
<line x1="213.8" y1="203.8" x2="216.6" y2="203.8" stroke="#1e1e1e" stroke-width="0.8"/>
<text x="211.6" y="205.7" font-size="5.3" text-anchor="end">0</text>
<line x1="213.8" y1="192.75" x2="216.6" y2="192.75" stroke="#1e1e1e" stroke-width="0.8"/>
<text x="211.6" y="194.65" font-size="5.3" text-anchor="end">50</text>
<line x1="213.8" y1="181.7" x2="216.6" y2="181.7" stroke="#1e1e1e" stroke-width="0.8"/>
<text x="211.6" y="183.6" font-size="5.3" text-anchor="end">100</text>
<line x1="213.8" y1="170.65" x2="216.6" y2="170.65" stroke="#1e1e1e" stroke-width="0.8"/>
<text x="211.6" y="172.55" font-size="5.3" text-anchor="end">150</text>
<line x1="213.8" y1="159.6" x2="216.6" y2="159.6" stroke="#1e1e1e" stroke-width="0.8"/>
<text x="211.6" y="161.5" font-size="5.3" text-anchor="end">200</text>
<line x1="215.3" y1="201.59" x2="216.6" y2="201.59" stroke="#1e1e1e" stroke-width="0.55"/>
<line x1="215.3" y1="199.38" x2="216.6" y2="199.38" stroke="#1e1e1e" stroke-width="0.55"/>
<line x1="215.3" y1="197.17" x2="216.6" y2="197.17" stroke="#1e1e1e" stroke-width="0.55"/>
<line x1="215.3" y1="194.96" x2="216.6" y2="194.96" stroke="#1e1e1e" stroke-width="0.55"/>
<line x1="215.3" y1="190.54" x2="216.6" y2="190.54" stroke="#1e1e1e" stroke-width="0.55"/>
<line x1="215.3" y1="188.33" x2="216.6" y2="188.33" stroke="#1e1e1e" stroke-width="0.55"/>
<line x1="215.3" y1="186.12" x2="216.6" y2="186.12" stroke="#1e1e1e" stroke-width="0.55"/>
<line x1="215.3" y1="183.91" x2="216.6" y2="183.91" stroke="#1e1e1e" stroke-width="0.55"/>
<line x1="215.3" y1="179.49" x2="216.6" y2="179.49" stroke="#1e1e1e" stroke-width="0.55"/>
<line x1="215.3" y1="177.28" x2="216.6" y2="177.28" stroke="#1e1e1e" stroke-width="0.55"/>
<line x1="215.3" y1="175.07" x2="216.6" y2="175.07" stroke="#1e1e1e" stroke-width="0.55"/>
<line x1="215.3" y1="172.86" x2="216.6" y2="172.86" stroke="#1e1e1e" stroke-width="0.55"/>
<line x1="215.3" y1="168.44" x2="216.6" y2="168.44" stroke="#1e1e1e" stroke-width="0.55"/>
<line x1="215.3" y1="166.23" x2="216.6" y2="166.23" stroke="#1e1e1e" stroke-width="0.55"/>
<line x1="215.3" y1="164.02" x2="216.6" y2="164.02" stroke="#1e1e1e" stroke-width="0.55"/>
<line x1="215.3" y1="161.81" x2="216.6" y2="161.81" stroke="#1e1e1e" stroke-width="0.55"/>
<line x1="215.3" y1="157.39" x2="216.6" y2="157.39" stroke="#1e1e1e" stroke-width="0.55"/>
<line x1="215.3" y1="155.18" x2="216.6" y2="155.18" stroke="#1e1e1e" stroke-width="0.55"/>
<line x1="217.1" y1="204.2" x2="217.1" y2="206.4" stroke="#1e1e1e" stroke-width="0.7"/>
<text x="217" y="214.2" font-size="5" text-anchor="middle">10<tspan font-size="3.6" dy="-3.2">0</tspan></text>
<line x1="219.96" y1="204.2" x2="219.96" y2="205.4" stroke="#1e1e1e" stroke-width="0.5"/>
<line x1="221.63" y1="204.2" x2="221.63" y2="205.4" stroke="#1e1e1e" stroke-width="0.5"/>
<line x1="222.82" y1="204.2" x2="222.82" y2="205.4" stroke="#1e1e1e" stroke-width="0.5"/>
<line x1="223.74" y1="204.2" x2="223.74" y2="205.4" stroke="#1e1e1e" stroke-width="0.5"/>
<line x1="224.49" y1="204.2" x2="224.49" y2="205.4" stroke="#1e1e1e" stroke-width="0.5"/>
<line x1="225.13" y1="204.2" x2="225.13" y2="205.4" stroke="#1e1e1e" stroke-width="0.5"/>
<line x1="225.68" y1="204.2" x2="225.68" y2="205.4" stroke="#1e1e1e" stroke-width="0.5"/>
<line x1="226.17" y1="204.2" x2="226.17" y2="205.4" stroke="#1e1e1e" stroke-width="0.5"/>
<line x1="226.6" y1="204.2" x2="226.6" y2="206.4" stroke="#1e1e1e" stroke-width="0.7"/>
<text x="226.5" y="214.2" font-size="5" text-anchor="middle">10<tspan font-size="3.6" dy="-3.2">1</tspan></text>
<line x1="229.73" y1="204.2" x2="229.73" y2="205.4" stroke="#1e1e1e" stroke-width="0.5"/>
<line x1="231.56" y1="204.2" x2="231.56" y2="205.4" stroke="#1e1e1e" stroke-width="0.5"/>
<line x1="232.86" y1="204.2" x2="232.86" y2="205.4" stroke="#1e1e1e" stroke-width="0.5"/>
<line x1="233.87" y1="204.2" x2="233.87" y2="205.4" stroke="#1e1e1e" stroke-width="0.5"/>
<line x1="234.69" y1="204.2" x2="234.69" y2="205.4" stroke="#1e1e1e" stroke-width="0.5"/>
<line x1="235.39" y1="204.2" x2="235.39" y2="205.4" stroke="#1e1e1e" stroke-width="0.5"/>
<line x1="235.99" y1="204.2" x2="235.99" y2="205.4" stroke="#1e1e1e" stroke-width="0.5"/>
<line x1="236.52" y1="204.2" x2="236.52" y2="205.4" stroke="#1e1e1e" stroke-width="0.5"/>
<line x1="237" y1="204.2" x2="237" y2="206.4" stroke="#1e1e1e" stroke-width="0.7"/>
<text x="236.9" y="214.2" font-size="5" text-anchor="middle">10<tspan font-size="3.6" dy="-3.2">2</tspan></text>
<line x1="239.98" y1="204.2" x2="239.98" y2="205.4" stroke="#1e1e1e" stroke-width="0.5"/>
<line x1="241.72" y1="204.2" x2="241.72" y2="205.4" stroke="#1e1e1e" stroke-width="0.5"/>
<line x1="242.96" y1="204.2" x2="242.96" y2="205.4" stroke="#1e1e1e" stroke-width="0.5"/>
<line x1="243.92" y1="204.2" x2="243.92" y2="205.4" stroke="#1e1e1e" stroke-width="0.5"/>
<line x1="244.7" y1="204.2" x2="244.7" y2="205.4" stroke="#1e1e1e" stroke-width="0.5"/>
<line x1="245.37" y1="204.2" x2="245.37" y2="205.4" stroke="#1e1e1e" stroke-width="0.5"/>
<line x1="245.94" y1="204.2" x2="245.94" y2="205.4" stroke="#1e1e1e" stroke-width="0.5"/>
<line x1="246.45" y1="204.2" x2="246.45" y2="205.4" stroke="#1e1e1e" stroke-width="0.5"/>
<line x1="246.9" y1="204.2" x2="246.9" y2="206.4" stroke="#1e1e1e" stroke-width="0.7"/>
<text x="246.8" y="214.2" font-size="5" text-anchor="middle">10<tspan font-size="3.6" dy="-3.2">3</tspan></text>
<line x1="249.88" y1="204.2" x2="249.88" y2="205.4" stroke="#1e1e1e" stroke-width="0.5"/>
<line x1="251.62" y1="204.2" x2="251.62" y2="205.4" stroke="#1e1e1e" stroke-width="0.5"/>
<line x1="252.86" y1="204.2" x2="252.86" y2="205.4" stroke="#1e1e1e" stroke-width="0.5"/>
<line x1="253.82" y1="204.2" x2="253.82" y2="205.4" stroke="#1e1e1e" stroke-width="0.5"/>
<line x1="254.6" y1="204.2" x2="254.6" y2="205.4" stroke="#1e1e1e" stroke-width="0.5"/>
<line x1="255.27" y1="204.2" x2="255.27" y2="205.4" stroke="#1e1e1e" stroke-width="0.5"/>
<line x1="255.84" y1="204.2" x2="255.84" y2="205.4" stroke="#1e1e1e" stroke-width="0.5"/>
<line x1="256.35" y1="204.2" x2="256.35" y2="205.4" stroke="#1e1e1e" stroke-width="0.5"/>
<line x1="256.8" y1="204.2" x2="256.8" y2="206.4" stroke="#1e1e1e" stroke-width="0.7"/>
<text x="256.7" y="214.2" font-size="5" text-anchor="middle">10<tspan font-size="3.6" dy="-3.2">4</tspan></text>
<line x1="259.75" y1="204.2" x2="259.75" y2="205.4" stroke="#1e1e1e" stroke-width="0.5"/>
<line x1="261.48" y1="204.2" x2="261.48" y2="205.4" stroke="#1e1e1e" stroke-width="0.5"/>
<line x1="262.7" y1="204.2" x2="262.7" y2="205.4" stroke="#1e1e1e" stroke-width="0.5"/>
<line x1="263.65" y1="204.2" x2="263.65" y2="205.4" stroke="#1e1e1e" stroke-width="0.5"/>
<line x1="264.43" y1="204.2" x2="264.43" y2="205.4" stroke="#1e1e1e" stroke-width="0.5"/>
<line x1="265.08" y1="204.2" x2="265.08" y2="205.4" stroke="#1e1e1e" stroke-width="0.5"/>
<line x1="265.65" y1="204.2" x2="265.65" y2="205.4" stroke="#1e1e1e" stroke-width="0.5"/>
<line x1="266.15" y1="204.2" x2="266.15" y2="205.4" stroke="#1e1e1e" stroke-width="0.5"/>
<line x1="266.6" y1="204.2" x2="266.6" y2="206.4" stroke="#1e1e1e" stroke-width="0.7"/>
<text x="266.5" y="214.2" font-size="5" text-anchor="middle">10<tspan font-size="3.6" dy="-3.2">5</tspan></text>
<text x="218.6" y="158.9" font-size="5" text-anchor="start">PI-A−</text>
<text x="218.6" y="165.5" font-size="5" text-anchor="start">75.8</text>
<text x="254.4" y="158.9" font-size="5" text-anchor="start">PI-A+</text>
<text x="254.4" y="165.5" font-size="5" text-anchor="start">24.2</text>
<path d="M64,275.3 C64.6,275.27 69.07,275.07 70,275 C70.93,274.93 72.75,274.85 73.3,274.6 C73.85,274.35 75.1,273.12 75.5,272.5 C75.9,271.88 76.97,269.45 77.3,268.4 C77.63,267.35 78.51,263.44 78.8,262 C79.09,260.56 79.96,255.8 80.2,254 C80.44,252.2 81.02,245.9 81.2,244 C81.38,242.1 81.87,236.15 82,235 C82.13,233.85 82.39,232.6 82.5,232.5 C82.61,232.4 82.98,233.62 83.1,234 C83.22,234.38 83.56,235.4 83.7,236.3 C83.84,237.2 84.34,241.63 84.5,243 C84.66,244.37 85.15,248.85 85.3,250 C85.45,251.15 85.83,253.4 86,254.5 C86.17,255.6 86.77,259.61 87,261 C87.23,262.39 88,267.27 88.3,268.4 C88.6,269.53 89.6,271.75 90,272.3 C90.4,272.85 91.7,273.73 92.3,273.9 C92.9,274.07 95.23,273.97 96,274 C96.77,274.03 99.2,274.2 100,274.2 C100.8,274.2 103.35,274.12 104,274 C104.65,273.88 106.06,273.21 106.5,273 C106.94,272.79 108.05,271.92 108.4,271.9 C108.75,271.88 109.69,272.54 110,272.8 C110.31,273.06 110.9,274.25 111.5,274.5 C112.1,274.75 115.55,275.22 116,275.3 L116,275.3 L64,275.3 Z" fill="#9d9dab" stroke="none"/>
<path d="M64,275.3 C64.6,275.27 69.07,275.07 70,275 C70.93,274.93 72.75,274.85 73.3,274.6 C73.85,274.35 75.1,273.12 75.5,272.5 C75.9,271.88 76.97,269.45 77.3,268.4 C77.63,267.35 78.51,263.44 78.8,262 C79.09,260.56 79.96,255.8 80.2,254 C80.44,252.2 81.02,245.9 81.2,244 C81.38,242.1 81.87,236.15 82,235 C82.13,233.85 82.39,232.6 82.5,232.5 C82.61,232.4 82.98,233.62 83.1,234 C83.22,234.38 83.56,235.4 83.7,236.3 C83.84,237.2 84.34,241.63 84.5,243 C84.66,244.37 85.15,248.85 85.3,250 C85.45,251.15 85.83,253.4 86,254.5 C86.17,255.6 86.77,259.61 87,261 C87.23,262.39 88,267.27 88.3,268.4 C88.6,269.53 89.6,271.75 90,272.3 C90.4,272.85 91.7,273.73 92.3,273.9 C92.9,274.07 95.23,273.97 96,274 C96.77,274.03 99.2,274.2 100,274.2 C100.8,274.2 103.35,274.12 104,274 C104.65,273.88 106.06,273.21 106.5,273 C106.94,272.79 108.05,271.92 108.4,271.9 C108.75,271.88 109.69,272.54 110,272.8 C110.31,273.06 110.9,274.25 111.5,274.5 C112.1,274.75 115.55,275.22 116,275.3" fill="none" stroke="#222" stroke-width="0.7"/>
<line x1="63.3" y1="268.7" x2="92.6" y2="268.7" stroke="#2a2a2a" stroke-width="0.8"/>
<line x1="92.6" y1="267.2" x2="92.6" y2="270.2" stroke="#2a2a2a" stroke-width="0.8"/>
<line x1="92.6" y1="271.3" x2="116.6" y2="271.3" stroke="#2a2a2a" stroke-width="0.8"/>
<line x1="92.6" y1="269.8" x2="92.6" y2="272.8" stroke="#2a2a2a" stroke-width="0.8"/>
<rect x="63.3" y="223.8" width="53.3" height="51.5" fill="none" stroke="#111" stroke-width="1"/>
<line x1="60.5" y1="275.3" x2="63.3" y2="275.3" stroke="#1e1e1e" stroke-width="0.8"/>
<text x="58.3" y="277.2" font-size="5.3" text-anchor="end">0</text>
<line x1="60.5" y1="259.15" x2="63.3" y2="259.15" stroke="#1e1e1e" stroke-width="0.8"/>
<text x="58.3" y="261.05" font-size="5.3" text-anchor="end">100</text>
<line x1="60.5" y1="243" x2="63.3" y2="243" stroke="#1e1e1e" stroke-width="0.8"/>
<text x="58.3" y="244.9" font-size="5.3" text-anchor="end">200</text>
<line x1="60.5" y1="226.85" x2="63.3" y2="226.85" stroke="#1e1e1e" stroke-width="0.8"/>
<text x="58.3" y="228.75" font-size="5.3" text-anchor="end">300</text>
<line x1="62" y1="271.26" x2="63.3" y2="271.26" stroke="#1e1e1e" stroke-width="0.55"/>
<line x1="62" y1="267.23" x2="63.3" y2="267.23" stroke="#1e1e1e" stroke-width="0.55"/>
<line x1="62" y1="263.19" x2="63.3" y2="263.19" stroke="#1e1e1e" stroke-width="0.55"/>
<line x1="62" y1="255.11" x2="63.3" y2="255.11" stroke="#1e1e1e" stroke-width="0.55"/>
<line x1="62" y1="251.08" x2="63.3" y2="251.08" stroke="#1e1e1e" stroke-width="0.55"/>
<line x1="62" y1="247.04" x2="63.3" y2="247.04" stroke="#1e1e1e" stroke-width="0.55"/>
<line x1="62" y1="238.96" x2="63.3" y2="238.96" stroke="#1e1e1e" stroke-width="0.55"/>
<line x1="62" y1="234.93" x2="63.3" y2="234.93" stroke="#1e1e1e" stroke-width="0.55"/>
<line x1="62" y1="230.89" x2="63.3" y2="230.89" stroke="#1e1e1e" stroke-width="0.55"/>
<line x1="63.8" y1="275.3" x2="63.8" y2="277.5" stroke="#1e1e1e" stroke-width="0.7"/>
<text x="63.7" y="285.3" font-size="5" text-anchor="middle">10<tspan font-size="3.6" dy="-3.2">0</tspan></text>
<line x1="66.66" y1="275.3" x2="66.66" y2="276.5" stroke="#1e1e1e" stroke-width="0.5"/>
<line x1="68.33" y1="275.3" x2="68.33" y2="276.5" stroke="#1e1e1e" stroke-width="0.5"/>
<line x1="69.52" y1="275.3" x2="69.52" y2="276.5" stroke="#1e1e1e" stroke-width="0.5"/>
<line x1="70.44" y1="275.3" x2="70.44" y2="276.5" stroke="#1e1e1e" stroke-width="0.5"/>
<line x1="71.19" y1="275.3" x2="71.19" y2="276.5" stroke="#1e1e1e" stroke-width="0.5"/>
<line x1="71.83" y1="275.3" x2="71.83" y2="276.5" stroke="#1e1e1e" stroke-width="0.5"/>
<line x1="72.38" y1="275.3" x2="72.38" y2="276.5" stroke="#1e1e1e" stroke-width="0.5"/>
<line x1="72.87" y1="275.3" x2="72.87" y2="276.5" stroke="#1e1e1e" stroke-width="0.5"/>
<line x1="73.3" y1="275.3" x2="73.3" y2="277.5" stroke="#1e1e1e" stroke-width="0.7"/>
<text x="73.2" y="285.3" font-size="5" text-anchor="middle">10<tspan font-size="3.6" dy="-3.2">1</tspan></text>
<line x1="76.43" y1="275.3" x2="76.43" y2="276.5" stroke="#1e1e1e" stroke-width="0.5"/>
<line x1="78.26" y1="275.3" x2="78.26" y2="276.5" stroke="#1e1e1e" stroke-width="0.5"/>
<line x1="79.56" y1="275.3" x2="79.56" y2="276.5" stroke="#1e1e1e" stroke-width="0.5"/>
<line x1="80.57" y1="275.3" x2="80.57" y2="276.5" stroke="#1e1e1e" stroke-width="0.5"/>
<line x1="81.39" y1="275.3" x2="81.39" y2="276.5" stroke="#1e1e1e" stroke-width="0.5"/>
<line x1="82.09" y1="275.3" x2="82.09" y2="276.5" stroke="#1e1e1e" stroke-width="0.5"/>
<line x1="82.69" y1="275.3" x2="82.69" y2="276.5" stroke="#1e1e1e" stroke-width="0.5"/>
<line x1="83.22" y1="275.3" x2="83.22" y2="276.5" stroke="#1e1e1e" stroke-width="0.5"/>
<line x1="83.7" y1="275.3" x2="83.7" y2="277.5" stroke="#1e1e1e" stroke-width="0.7"/>
<text x="83.6" y="285.3" font-size="5" text-anchor="middle">10<tspan font-size="3.6" dy="-3.2">2</tspan></text>
<line x1="86.68" y1="275.3" x2="86.68" y2="276.5" stroke="#1e1e1e" stroke-width="0.5"/>
<line x1="88.42" y1="275.3" x2="88.42" y2="276.5" stroke="#1e1e1e" stroke-width="0.5"/>
<line x1="89.66" y1="275.3" x2="89.66" y2="276.5" stroke="#1e1e1e" stroke-width="0.5"/>
<line x1="90.62" y1="275.3" x2="90.62" y2="276.5" stroke="#1e1e1e" stroke-width="0.5"/>
<line x1="91.4" y1="275.3" x2="91.4" y2="276.5" stroke="#1e1e1e" stroke-width="0.5"/>
<line x1="92.07" y1="275.3" x2="92.07" y2="276.5" stroke="#1e1e1e" stroke-width="0.5"/>
<line x1="92.64" y1="275.3" x2="92.64" y2="276.5" stroke="#1e1e1e" stroke-width="0.5"/>
<line x1="93.15" y1="275.3" x2="93.15" y2="276.5" stroke="#1e1e1e" stroke-width="0.5"/>
<line x1="93.6" y1="275.3" x2="93.6" y2="277.5" stroke="#1e1e1e" stroke-width="0.7"/>
<text x="93.5" y="285.3" font-size="5" text-anchor="middle">10<tspan font-size="3.6" dy="-3.2">3</tspan></text>
<line x1="96.58" y1="275.3" x2="96.58" y2="276.5" stroke="#1e1e1e" stroke-width="0.5"/>
<line x1="98.32" y1="275.3" x2="98.32" y2="276.5" stroke="#1e1e1e" stroke-width="0.5"/>
<line x1="99.56" y1="275.3" x2="99.56" y2="276.5" stroke="#1e1e1e" stroke-width="0.5"/>
<line x1="100.52" y1="275.3" x2="100.52" y2="276.5" stroke="#1e1e1e" stroke-width="0.5"/>
<line x1="101.3" y1="275.3" x2="101.3" y2="276.5" stroke="#1e1e1e" stroke-width="0.5"/>
<line x1="101.97" y1="275.3" x2="101.97" y2="276.5" stroke="#1e1e1e" stroke-width="0.5"/>
<line x1="102.54" y1="275.3" x2="102.54" y2="276.5" stroke="#1e1e1e" stroke-width="0.5"/>
<line x1="103.05" y1="275.3" x2="103.05" y2="276.5" stroke="#1e1e1e" stroke-width="0.5"/>
<line x1="103.5" y1="275.3" x2="103.5" y2="277.5" stroke="#1e1e1e" stroke-width="0.7"/>
<text x="103.4" y="285.3" font-size="5" text-anchor="middle">10<tspan font-size="3.6" dy="-3.2">4</tspan></text>
<line x1="106.45" y1="275.3" x2="106.45" y2="276.5" stroke="#1e1e1e" stroke-width="0.5"/>
<line x1="108.18" y1="275.3" x2="108.18" y2="276.5" stroke="#1e1e1e" stroke-width="0.5"/>
<line x1="109.4" y1="275.3" x2="109.4" y2="276.5" stroke="#1e1e1e" stroke-width="0.5"/>
<line x1="110.35" y1="275.3" x2="110.35" y2="276.5" stroke="#1e1e1e" stroke-width="0.5"/>
<line x1="111.13" y1="275.3" x2="111.13" y2="276.5" stroke="#1e1e1e" stroke-width="0.5"/>
<line x1="111.78" y1="275.3" x2="111.78" y2="276.5" stroke="#1e1e1e" stroke-width="0.5"/>
<line x1="112.35" y1="275.3" x2="112.35" y2="276.5" stroke="#1e1e1e" stroke-width="0.5"/>
<line x1="112.85" y1="275.3" x2="112.85" y2="276.5" stroke="#1e1e1e" stroke-width="0.5"/>
<line x1="113.3" y1="275.3" x2="113.3" y2="277.5" stroke="#1e1e1e" stroke-width="0.7"/>
<text x="113.2" y="285.3" font-size="5" text-anchor="middle">10<tspan font-size="3.6" dy="-3.2">5</tspan></text>
<text x="65.3" y="229.4" font-size="5" text-anchor="start">PI-A−</text>
<text x="65.3" y="236" font-size="5" text-anchor="start">88.8</text>
<text x="101.1" y="229.4" font-size="5" text-anchor="start">PI-A+</text>
<text x="101.1" y="236" font-size="5" text-anchor="start">11.2</text>
<path d="M141,275.3 C141.6,275.28 146.05,275.18 147,275.1 C147.95,275.02 149.95,274.73 150.5,274.5 C151.05,274.27 152.1,273.25 152.5,272.8 C152.9,272.35 154.15,270.63 154.5,270 C154.85,269.37 155.72,267.4 156,266.5 C156.28,265.6 157.08,262.15 157.3,261 C157.52,259.85 158.06,256.1 158.2,255 C158.34,253.9 158.59,251.2 158.7,250 C158.81,248.8 159.19,244.25 159.3,243 C159.41,241.75 159.69,238.5 159.8,237.5 C159.91,236.5 160.26,233.73 160.4,233 C160.54,232.27 161.04,230.6 161.2,230.2 C161.36,229.8 161.84,229.17 162,229 C162.16,228.83 162.6,228.25 162.75,228.5 C162.9,228.75 163.38,230.9 163.5,231.5 C163.62,232.1 163.89,234.09 164,234.5 C164.11,234.91 164.47,235.1 164.6,235.6 C164.73,236.1 165.14,238.71 165.3,239.5 C165.46,240.29 166.01,242.6 166.2,243.5 C166.39,244.4 167.03,247.75 167.2,248.5 C167.37,249.25 167.68,250 167.9,251 C168.12,252 169.06,257.34 169.4,258.5 C169.74,259.66 170.89,262.12 171.25,262.6 C171.61,263.08 172.44,263.31 173,263.3 C173.56,263.29 176.32,262.78 176.9,262.5 C177.48,262.22 178.49,261 178.8,260.5 C179.11,260 179.69,258.8 180,257.5 C180.31,256.2 181.59,249.62 181.9,247.5 C182.21,245.38 182.85,236.88 183.1,236.25 C183.35,235.62 184.15,239.25 184.4,241.25 C184.65,243.25 185.29,253.25 185.6,256.25 C185.91,259.25 187.11,269.4 187.5,271.25 C187.89,273.1 188.95,274.29 189.5,274.7 C190.05,275.11 192.65,275.24 193,275.3 L193,275.3 L141,275.3 Z" fill="#9d9dab" stroke="none"/>
<path d="M141,275.3 C141.6,275.28 146.05,275.18 147,275.1 C147.95,275.02 149.95,274.73 150.5,274.5 C151.05,274.27 152.1,273.25 152.5,272.8 C152.9,272.35 154.15,270.63 154.5,270 C154.85,269.37 155.72,267.4 156,266.5 C156.28,265.6 157.08,262.15 157.3,261 C157.52,259.85 158.06,256.1 158.2,255 C158.34,253.9 158.59,251.2 158.7,250 C158.81,248.8 159.19,244.25 159.3,243 C159.41,241.75 159.69,238.5 159.8,237.5 C159.91,236.5 160.26,233.73 160.4,233 C160.54,232.27 161.04,230.6 161.2,230.2 C161.36,229.8 161.84,229.17 162,229 C162.16,228.83 162.6,228.25 162.75,228.5 C162.9,228.75 163.38,230.9 163.5,231.5 C163.62,232.1 163.89,234.09 164,234.5 C164.11,234.91 164.47,235.1 164.6,235.6 C164.73,236.1 165.14,238.71 165.3,239.5 C165.46,240.29 166.01,242.6 166.2,243.5 C166.39,244.4 167.03,247.75 167.2,248.5 C167.37,249.25 167.68,250 167.9,251 C168.12,252 169.06,257.34 169.4,258.5 C169.74,259.66 170.89,262.12 171.25,262.6 C171.61,263.08 172.44,263.31 173,263.3 C173.56,263.29 176.32,262.78 176.9,262.5 C177.48,262.22 178.49,261 178.8,260.5 C179.11,260 179.69,258.8 180,257.5 C180.31,256.2 181.59,249.62 181.9,247.5 C182.21,245.38 182.85,236.88 183.1,236.25 C183.35,235.62 184.15,239.25 184.4,241.25 C184.65,243.25 185.29,253.25 185.6,256.25 C185.91,259.25 187.11,269.4 187.5,271.25 C187.89,273.1 188.95,274.29 189.5,274.7 C190.05,275.11 192.65,275.24 193,275.3" fill="none" stroke="#222" stroke-width="0.7"/>
<line x1="139.9" y1="268.7" x2="169.4" y2="268.7" stroke="#2a2a2a" stroke-width="0.8"/>
<line x1="169.4" y1="267.2" x2="169.4" y2="270.2" stroke="#2a2a2a" stroke-width="0.8"/>
<line x1="169.4" y1="271.3" x2="193.2" y2="271.3" stroke="#2a2a2a" stroke-width="0.8"/>
<line x1="169.4" y1="269.8" x2="169.4" y2="272.8" stroke="#2a2a2a" stroke-width="0.8"/>
<rect x="139.9" y="223.8" width="53.3" height="51.5" fill="none" stroke="#111" stroke-width="1"/>
<line x1="137.1" y1="275.3" x2="139.9" y2="275.3" stroke="#1e1e1e" stroke-width="0.8"/>
<text x="134.9" y="277.2" font-size="5.3" text-anchor="end">0</text>
<line x1="137.1" y1="262.7" x2="139.9" y2="262.7" stroke="#1e1e1e" stroke-width="0.8"/>
<text x="134.9" y="264.6" font-size="5.3" text-anchor="end">30</text>
<line x1="137.1" y1="250.1" x2="139.9" y2="250.1" stroke="#1e1e1e" stroke-width="0.8"/>
<text x="134.9" y="252" font-size="5.3" text-anchor="end">60</text>
<line x1="137.1" y1="237.5" x2="139.9" y2="237.5" stroke="#1e1e1e" stroke-width="0.8"/>
<text x="134.9" y="239.4" font-size="5.3" text-anchor="end">90</text>
<line x1="137.1" y1="224.9" x2="139.9" y2="224.9" stroke="#1e1e1e" stroke-width="0.8"/>
<text x="134.9" y="226.8" font-size="5.3" text-anchor="end">120</text>
<line x1="138.6" y1="271.1" x2="139.9" y2="271.1" stroke="#1e1e1e" stroke-width="0.55"/>
<line x1="138.6" y1="266.9" x2="139.9" y2="266.9" stroke="#1e1e1e" stroke-width="0.55"/>
<line x1="138.6" y1="258.5" x2="139.9" y2="258.5" stroke="#1e1e1e" stroke-width="0.55"/>
<line x1="138.6" y1="254.3" x2="139.9" y2="254.3" stroke="#1e1e1e" stroke-width="0.55"/>
<line x1="138.6" y1="245.9" x2="139.9" y2="245.9" stroke="#1e1e1e" stroke-width="0.55"/>
<line x1="138.6" y1="241.7" x2="139.9" y2="241.7" stroke="#1e1e1e" stroke-width="0.55"/>
<line x1="138.6" y1="233.3" x2="139.9" y2="233.3" stroke="#1e1e1e" stroke-width="0.55"/>
<line x1="138.6" y1="229.1" x2="139.9" y2="229.1" stroke="#1e1e1e" stroke-width="0.55"/>
<line x1="140.4" y1="275.3" x2="140.4" y2="277.5" stroke="#1e1e1e" stroke-width="0.7"/>
<text x="140.3" y="285.3" font-size="5" text-anchor="middle">10<tspan font-size="3.6" dy="-3.2">0</tspan></text>
<line x1="143.26" y1="275.3" x2="143.26" y2="276.5" stroke="#1e1e1e" stroke-width="0.5"/>
<line x1="144.93" y1="275.3" x2="144.93" y2="276.5" stroke="#1e1e1e" stroke-width="0.5"/>
<line x1="146.12" y1="275.3" x2="146.12" y2="276.5" stroke="#1e1e1e" stroke-width="0.5"/>
<line x1="147.04" y1="275.3" x2="147.04" y2="276.5" stroke="#1e1e1e" stroke-width="0.5"/>
<line x1="147.79" y1="275.3" x2="147.79" y2="276.5" stroke="#1e1e1e" stroke-width="0.5"/>
<line x1="148.43" y1="275.3" x2="148.43" y2="276.5" stroke="#1e1e1e" stroke-width="0.5"/>
<line x1="148.98" y1="275.3" x2="148.98" y2="276.5" stroke="#1e1e1e" stroke-width="0.5"/>
<line x1="149.47" y1="275.3" x2="149.47" y2="276.5" stroke="#1e1e1e" stroke-width="0.5"/>
<line x1="149.9" y1="275.3" x2="149.9" y2="277.5" stroke="#1e1e1e" stroke-width="0.7"/>
<text x="149.8" y="285.3" font-size="5" text-anchor="middle">10<tspan font-size="3.6" dy="-3.2">1</tspan></text>
<line x1="153.03" y1="275.3" x2="153.03" y2="276.5" stroke="#1e1e1e" stroke-width="0.5"/>
<line x1="154.86" y1="275.3" x2="154.86" y2="276.5" stroke="#1e1e1e" stroke-width="0.5"/>
<line x1="156.16" y1="275.3" x2="156.16" y2="276.5" stroke="#1e1e1e" stroke-width="0.5"/>
<line x1="157.17" y1="275.3" x2="157.17" y2="276.5" stroke="#1e1e1e" stroke-width="0.5"/>
<line x1="157.99" y1="275.3" x2="157.99" y2="276.5" stroke="#1e1e1e" stroke-width="0.5"/>
<line x1="158.69" y1="275.3" x2="158.69" y2="276.5" stroke="#1e1e1e" stroke-width="0.5"/>
<line x1="159.29" y1="275.3" x2="159.29" y2="276.5" stroke="#1e1e1e" stroke-width="0.5"/>
<line x1="159.82" y1="275.3" x2="159.82" y2="276.5" stroke="#1e1e1e" stroke-width="0.5"/>
<line x1="160.3" y1="275.3" x2="160.3" y2="277.5" stroke="#1e1e1e" stroke-width="0.7"/>
<text x="160.2" y="285.3" font-size="5" text-anchor="middle">10<tspan font-size="3.6" dy="-3.2">2</tspan></text>
<line x1="163.28" y1="275.3" x2="163.28" y2="276.5" stroke="#1e1e1e" stroke-width="0.5"/>
<line x1="165.02" y1="275.3" x2="165.02" y2="276.5" stroke="#1e1e1e" stroke-width="0.5"/>
<line x1="166.26" y1="275.3" x2="166.26" y2="276.5" stroke="#1e1e1e" stroke-width="0.5"/>
<line x1="167.22" y1="275.3" x2="167.22" y2="276.5" stroke="#1e1e1e" stroke-width="0.5"/>
<line x1="168" y1="275.3" x2="168" y2="276.5" stroke="#1e1e1e" stroke-width="0.5"/>
<line x1="168.67" y1="275.3" x2="168.67" y2="276.5" stroke="#1e1e1e" stroke-width="0.5"/>
<line x1="169.24" y1="275.3" x2="169.24" y2="276.5" stroke="#1e1e1e" stroke-width="0.5"/>
<line x1="169.75" y1="275.3" x2="169.75" y2="276.5" stroke="#1e1e1e" stroke-width="0.5"/>
<line x1="170.2" y1="275.3" x2="170.2" y2="277.5" stroke="#1e1e1e" stroke-width="0.7"/>
<text x="170.1" y="285.3" font-size="5" text-anchor="middle">10<tspan font-size="3.6" dy="-3.2">3</tspan></text>
<line x1="173.18" y1="275.3" x2="173.18" y2="276.5" stroke="#1e1e1e" stroke-width="0.5"/>
<line x1="174.92" y1="275.3" x2="174.92" y2="276.5" stroke="#1e1e1e" stroke-width="0.5"/>
<line x1="176.16" y1="275.3" x2="176.16" y2="276.5" stroke="#1e1e1e" stroke-width="0.5"/>
<line x1="177.12" y1="275.3" x2="177.12" y2="276.5" stroke="#1e1e1e" stroke-width="0.5"/>
<line x1="177.9" y1="275.3" x2="177.9" y2="276.5" stroke="#1e1e1e" stroke-width="0.5"/>
<line x1="178.57" y1="275.3" x2="178.57" y2="276.5" stroke="#1e1e1e" stroke-width="0.5"/>
<line x1="179.14" y1="275.3" x2="179.14" y2="276.5" stroke="#1e1e1e" stroke-width="0.5"/>
<line x1="179.65" y1="275.3" x2="179.65" y2="276.5" stroke="#1e1e1e" stroke-width="0.5"/>
<line x1="180.1" y1="275.3" x2="180.1" y2="277.5" stroke="#1e1e1e" stroke-width="0.7"/>
<text x="180" y="285.3" font-size="5" text-anchor="middle">10<tspan font-size="3.6" dy="-3.2">4</tspan></text>
<line x1="183.05" y1="275.3" x2="183.05" y2="276.5" stroke="#1e1e1e" stroke-width="0.5"/>
<line x1="184.78" y1="275.3" x2="184.78" y2="276.5" stroke="#1e1e1e" stroke-width="0.5"/>
<line x1="186" y1="275.3" x2="186" y2="276.5" stroke="#1e1e1e" stroke-width="0.5"/>
<line x1="186.95" y1="275.3" x2="186.95" y2="276.5" stroke="#1e1e1e" stroke-width="0.5"/>
<line x1="187.73" y1="275.3" x2="187.73" y2="276.5" stroke="#1e1e1e" stroke-width="0.5"/>
<line x1="188.38" y1="275.3" x2="188.38" y2="276.5" stroke="#1e1e1e" stroke-width="0.5"/>
<line x1="188.95" y1="275.3" x2="188.95" y2="276.5" stroke="#1e1e1e" stroke-width="0.5"/>
<line x1="189.45" y1="275.3" x2="189.45" y2="276.5" stroke="#1e1e1e" stroke-width="0.5"/>
<line x1="189.9" y1="275.3" x2="189.9" y2="277.5" stroke="#1e1e1e" stroke-width="0.7"/>
<text x="189.8" y="285.3" font-size="5" text-anchor="middle">10<tspan font-size="3.6" dy="-3.2">5</tspan></text>
<text x="141.9" y="229.4" font-size="5" text-anchor="start">PI-A−</text>
<text x="141.9" y="236" font-size="5" text-anchor="start">53.7</text>
<text x="177.7" y="229.4" font-size="5" text-anchor="start">PI-A+</text>
<text x="177.7" y="236" font-size="5" text-anchor="start">42.3</text>
<path d="M218,275.3 C218.5,275.28 222.2,275.17 223,275.1 C223.8,275.03 225.45,274.81 226,274.6 C226.55,274.39 228.06,273.46 228.5,273 C228.94,272.54 230.08,270.55 230.4,270 C230.72,269.45 231.49,268 231.7,267.5 C231.91,267 232.31,265.95 232.5,265 C232.69,264.05 233.38,259.5 233.6,258 C233.82,256.5 234.51,251.7 234.7,250 C234.89,248.3 235.34,242.6 235.5,241 C235.66,239.4 236.12,235.04 236.3,234 C236.48,232.96 237.1,230.7 237.3,230.6 C237.5,230.5 238.1,232.16 238.3,233 C238.5,233.84 239.08,237.75 239.3,239 C239.52,240.25 240.24,244.35 240.5,245.5 C240.76,246.65 241.62,249.35 241.9,250.5 C242.18,251.65 243.04,255.9 243.3,257 C243.56,258.1 244.23,260.85 244.5,261.5 C244.77,262.15 245.66,263.34 246,263.5 C246.34,263.66 247.55,263 247.9,263.1 C248.25,263.2 249.01,264.11 249.5,264.5 C249.99,264.89 252.3,266.9 252.8,267 C253.3,267.1 254.13,266.2 254.5,265.5 C254.87,264.8 256.15,261.25 256.5,260 C256.85,258.75 257.76,253.87 258,253 C258.24,252.13 258.7,251.3 258.9,251.3 C259.1,251.3 259.74,251.93 260,253 C260.26,254.07 261.15,260.1 261.5,262 C261.85,263.9 263.1,270.72 263.5,272 C263.9,273.28 264.85,274.47 265.5,274.8 C266.15,275.13 269.55,275.25 270,275.3 L270,275.3 L218,275.3 Z" fill="#9d9dab" stroke="none"/>
<path d="M218,275.3 C218.5,275.28 222.2,275.17 223,275.1 C223.8,275.03 225.45,274.81 226,274.6 C226.55,274.39 228.06,273.46 228.5,273 C228.94,272.54 230.08,270.55 230.4,270 C230.72,269.45 231.49,268 231.7,267.5 C231.91,267 232.31,265.95 232.5,265 C232.69,264.05 233.38,259.5 233.6,258 C233.82,256.5 234.51,251.7 234.7,250 C234.89,248.3 235.34,242.6 235.5,241 C235.66,239.4 236.12,235.04 236.3,234 C236.48,232.96 237.1,230.7 237.3,230.6 C237.5,230.5 238.1,232.16 238.3,233 C238.5,233.84 239.08,237.75 239.3,239 C239.52,240.25 240.24,244.35 240.5,245.5 C240.76,246.65 241.62,249.35 241.9,250.5 C242.18,251.65 243.04,255.9 243.3,257 C243.56,258.1 244.23,260.85 244.5,261.5 C244.77,262.15 245.66,263.34 246,263.5 C246.34,263.66 247.55,263 247.9,263.1 C248.25,263.2 249.01,264.11 249.5,264.5 C249.99,264.89 252.3,266.9 252.8,267 C253.3,267.1 254.13,266.2 254.5,265.5 C254.87,264.8 256.15,261.25 256.5,260 C256.85,258.75 257.76,253.87 258,253 C258.24,252.13 258.7,251.3 258.9,251.3 C259.1,251.3 259.74,251.93 260,253 C260.26,254.07 261.15,260.1 261.5,262 C261.85,263.9 263.1,270.72 263.5,272 C263.9,273.28 264.85,274.47 265.5,274.8 C266.15,275.13 269.55,275.25 270,275.3" fill="none" stroke="#222" stroke-width="0.7"/>
<line x1="216.6" y1="269.4" x2="246.3" y2="269.4" stroke="#2a2a2a" stroke-width="0.8"/>
<line x1="246.3" y1="267.9" x2="246.3" y2="270.9" stroke="#2a2a2a" stroke-width="0.8"/>
<line x1="246.3" y1="272.5" x2="269.9" y2="272.5" stroke="#2a2a2a" stroke-width="0.8"/>
<line x1="246.3" y1="271" x2="246.3" y2="274" stroke="#2a2a2a" stroke-width="0.8"/>
<rect x="216.6" y="223.8" width="53.3" height="51.5" fill="none" stroke="#111" stroke-width="1"/>
<line x1="213.8" y1="275.2" x2="216.6" y2="275.2" stroke="#1e1e1e" stroke-width="0.8"/>
<text x="211.6" y="277.1" font-size="5.3" text-anchor="end">0</text>
<line x1="213.8" y1="264.75" x2="216.6" y2="264.75" stroke="#1e1e1e" stroke-width="0.8"/>
<text x="211.6" y="266.65" font-size="5.3" text-anchor="end">30</text>
<line x1="213.8" y1="254.3" x2="216.6" y2="254.3" stroke="#1e1e1e" stroke-width="0.8"/>
<text x="211.6" y="256.2" font-size="5.3" text-anchor="end">60</text>
<line x1="213.8" y1="243.85" x2="216.6" y2="243.85" stroke="#1e1e1e" stroke-width="0.8"/>
<text x="211.6" y="245.75" font-size="5.3" text-anchor="end">90</text>
<line x1="213.8" y1="233.4" x2="216.6" y2="233.4" stroke="#1e1e1e" stroke-width="0.8"/>
<text x="211.6" y="235.3" font-size="5.3" text-anchor="end">120</text>
<line x1="215.3" y1="271.72" x2="216.6" y2="271.72" stroke="#1e1e1e" stroke-width="0.55"/>
<line x1="215.3" y1="268.23" x2="216.6" y2="268.23" stroke="#1e1e1e" stroke-width="0.55"/>
<line x1="215.3" y1="261.27" x2="216.6" y2="261.27" stroke="#1e1e1e" stroke-width="0.55"/>
<line x1="215.3" y1="257.78" x2="216.6" y2="257.78" stroke="#1e1e1e" stroke-width="0.55"/>
<line x1="215.3" y1="250.82" x2="216.6" y2="250.82" stroke="#1e1e1e" stroke-width="0.55"/>
<line x1="215.3" y1="247.33" x2="216.6" y2="247.33" stroke="#1e1e1e" stroke-width="0.55"/>
<line x1="215.3" y1="240.37" x2="216.6" y2="240.37" stroke="#1e1e1e" stroke-width="0.55"/>
<line x1="215.3" y1="236.88" x2="216.6" y2="236.88" stroke="#1e1e1e" stroke-width="0.55"/>
<line x1="215.3" y1="229.92" x2="216.6" y2="229.92" stroke="#1e1e1e" stroke-width="0.55"/>
<line x1="215.3" y1="226.43" x2="216.6" y2="226.43" stroke="#1e1e1e" stroke-width="0.55"/>
<line x1="217.1" y1="275.3" x2="217.1" y2="277.5" stroke="#1e1e1e" stroke-width="0.7"/>
<text x="217" y="285.3" font-size="5" text-anchor="middle">10<tspan font-size="3.6" dy="-3.2">0</tspan></text>
<line x1="219.96" y1="275.3" x2="219.96" y2="276.5" stroke="#1e1e1e" stroke-width="0.5"/>
<line x1="221.63" y1="275.3" x2="221.63" y2="276.5" stroke="#1e1e1e" stroke-width="0.5"/>
<line x1="222.82" y1="275.3" x2="222.82" y2="276.5" stroke="#1e1e1e" stroke-width="0.5"/>
<line x1="223.74" y1="275.3" x2="223.74" y2="276.5" stroke="#1e1e1e" stroke-width="0.5"/>
<line x1="224.49" y1="275.3" x2="224.49" y2="276.5" stroke="#1e1e1e" stroke-width="0.5"/>
<line x1="225.13" y1="275.3" x2="225.13" y2="276.5" stroke="#1e1e1e" stroke-width="0.5"/>
<line x1="225.68" y1="275.3" x2="225.68" y2="276.5" stroke="#1e1e1e" stroke-width="0.5"/>
<line x1="226.17" y1="275.3" x2="226.17" y2="276.5" stroke="#1e1e1e" stroke-width="0.5"/>
<line x1="226.6" y1="275.3" x2="226.6" y2="277.5" stroke="#1e1e1e" stroke-width="0.7"/>
<text x="226.5" y="285.3" font-size="5" text-anchor="middle">10<tspan font-size="3.6" dy="-3.2">1</tspan></text>
<line x1="229.73" y1="275.3" x2="229.73" y2="276.5" stroke="#1e1e1e" stroke-width="0.5"/>
<line x1="231.56" y1="275.3" x2="231.56" y2="276.5" stroke="#1e1e1e" stroke-width="0.5"/>
<line x1="232.86" y1="275.3" x2="232.86" y2="276.5" stroke="#1e1e1e" stroke-width="0.5"/>
<line x1="233.87" y1="275.3" x2="233.87" y2="276.5" stroke="#1e1e1e" stroke-width="0.5"/>
<line x1="234.69" y1="275.3" x2="234.69" y2="276.5" stroke="#1e1e1e" stroke-width="0.5"/>
<line x1="235.39" y1="275.3" x2="235.39" y2="276.5" stroke="#1e1e1e" stroke-width="0.5"/>
<line x1="235.99" y1="275.3" x2="235.99" y2="276.5" stroke="#1e1e1e" stroke-width="0.5"/>
<line x1="236.52" y1="275.3" x2="236.52" y2="276.5" stroke="#1e1e1e" stroke-width="0.5"/>
<line x1="237" y1="275.3" x2="237" y2="277.5" stroke="#1e1e1e" stroke-width="0.7"/>
<text x="236.9" y="285.3" font-size="5" text-anchor="middle">10<tspan font-size="3.6" dy="-3.2">2</tspan></text>
<line x1="239.98" y1="275.3" x2="239.98" y2="276.5" stroke="#1e1e1e" stroke-width="0.5"/>
<line x1="241.72" y1="275.3" x2="241.72" y2="276.5" stroke="#1e1e1e" stroke-width="0.5"/>
<line x1="242.96" y1="275.3" x2="242.96" y2="276.5" stroke="#1e1e1e" stroke-width="0.5"/>
<line x1="243.92" y1="275.3" x2="243.92" y2="276.5" stroke="#1e1e1e" stroke-width="0.5"/>
<line x1="244.7" y1="275.3" x2="244.7" y2="276.5" stroke="#1e1e1e" stroke-width="0.5"/>
<line x1="245.37" y1="275.3" x2="245.37" y2="276.5" stroke="#1e1e1e" stroke-width="0.5"/>
<line x1="245.94" y1="275.3" x2="245.94" y2="276.5" stroke="#1e1e1e" stroke-width="0.5"/>
<line x1="246.45" y1="275.3" x2="246.45" y2="276.5" stroke="#1e1e1e" stroke-width="0.5"/>
<line x1="246.9" y1="275.3" x2="246.9" y2="277.5" stroke="#1e1e1e" stroke-width="0.7"/>
<text x="246.8" y="285.3" font-size="5" text-anchor="middle">10<tspan font-size="3.6" dy="-3.2">3</tspan></text>
<line x1="249.88" y1="275.3" x2="249.88" y2="276.5" stroke="#1e1e1e" stroke-width="0.5"/>
<line x1="251.62" y1="275.3" x2="251.62" y2="276.5" stroke="#1e1e1e" stroke-width="0.5"/>
<line x1="252.86" y1="275.3" x2="252.86" y2="276.5" stroke="#1e1e1e" stroke-width="0.5"/>
<line x1="253.82" y1="275.3" x2="253.82" y2="276.5" stroke="#1e1e1e" stroke-width="0.5"/>
<line x1="254.6" y1="275.3" x2="254.6" y2="276.5" stroke="#1e1e1e" stroke-width="0.5"/>
<line x1="255.27" y1="275.3" x2="255.27" y2="276.5" stroke="#1e1e1e" stroke-width="0.5"/>
<line x1="255.84" y1="275.3" x2="255.84" y2="276.5" stroke="#1e1e1e" stroke-width="0.5"/>
<line x1="256.35" y1="275.3" x2="256.35" y2="276.5" stroke="#1e1e1e" stroke-width="0.5"/>
<line x1="256.8" y1="275.3" x2="256.8" y2="277.5" stroke="#1e1e1e" stroke-width="0.7"/>
<text x="256.7" y="285.3" font-size="5" text-anchor="middle">10<tspan font-size="3.6" dy="-3.2">4</tspan></text>
<line x1="259.75" y1="275.3" x2="259.75" y2="276.5" stroke="#1e1e1e" stroke-width="0.5"/>
<line x1="261.48" y1="275.3" x2="261.48" y2="276.5" stroke="#1e1e1e" stroke-width="0.5"/>
<line x1="262.7" y1="275.3" x2="262.7" y2="276.5" stroke="#1e1e1e" stroke-width="0.5"/>
<line x1="263.65" y1="275.3" x2="263.65" y2="276.5" stroke="#1e1e1e" stroke-width="0.5"/>
<line x1="264.43" y1="275.3" x2="264.43" y2="276.5" stroke="#1e1e1e" stroke-width="0.5"/>
<line x1="265.08" y1="275.3" x2="265.08" y2="276.5" stroke="#1e1e1e" stroke-width="0.5"/>
<line x1="265.65" y1="275.3" x2="265.65" y2="276.5" stroke="#1e1e1e" stroke-width="0.5"/>
<line x1="266.15" y1="275.3" x2="266.15" y2="276.5" stroke="#1e1e1e" stroke-width="0.5"/>
<line x1="266.6" y1="275.3" x2="266.6" y2="277.5" stroke="#1e1e1e" stroke-width="0.7"/>
<text x="266.5" y="285.3" font-size="5" text-anchor="middle">10<tspan font-size="3.6" dy="-3.2">5</tspan></text>
<text x="218.6" y="229.4" font-size="5" text-anchor="start">PI-A−</text>
<text x="218.6" y="236" font-size="5" text-anchor="start">65.5</text>
<text x="254.4" y="229.4" font-size="5" text-anchor="start">PI-A+</text>
<text x="254.4" y="236" font-size="5" text-anchor="start">34.5</text>
<path d="M64,344 C64.6,343.97 68.96,343.82 70,343.7 C71.04,343.58 73.75,343.12 74.4,342.8 C75.05,342.48 76.09,341.18 76.5,340.5 C76.91,339.82 78.15,337.15 78.5,336 C78.85,334.85 79.72,330.55 80,329 C80.28,327.45 81.06,322.5 81.3,320.5 C81.54,318.5 82.2,311.05 82.4,309 C82.6,306.95 83.14,301.15 83.3,300 C83.46,298.85 83.86,297.55 84,297.5 C84.14,297.45 84.53,298.35 84.7,299.5 C84.87,300.65 85.52,307.35 85.7,309 C85.88,310.65 86.36,314.85 86.5,316 C86.64,317.15 86.93,319.2 87.1,320.5 C87.27,321.8 87.97,327.45 88.2,329 C88.43,330.55 89.12,334.85 89.4,336 C89.68,337.15 90.65,339.87 91,340.5 C91.35,341.13 92.3,342.09 92.9,342.3 C93.5,342.51 96.09,342.57 97,342.6 C97.91,342.63 101.15,342.66 102,342.6 C102.85,342.54 104.98,342.14 105.5,342 C106.02,341.86 106.91,341.33 107.2,341.2 C107.49,341.07 108.14,340.67 108.4,340.7 C108.66,340.73 109.49,341.27 109.8,341.5 C110.11,341.73 110.88,342.75 111.5,343 C112.12,343.25 115.55,343.9 116,344 L116,344 L64,344 Z" fill="#9d9dab" stroke="none"/>
<path d="M64,344 C64.6,343.97 68.96,343.82 70,343.7 C71.04,343.58 73.75,343.12 74.4,342.8 C75.05,342.48 76.09,341.18 76.5,340.5 C76.91,339.82 78.15,337.15 78.5,336 C78.85,334.85 79.72,330.55 80,329 C80.28,327.45 81.06,322.5 81.3,320.5 C81.54,318.5 82.2,311.05 82.4,309 C82.6,306.95 83.14,301.15 83.3,300 C83.46,298.85 83.86,297.55 84,297.5 C84.14,297.45 84.53,298.35 84.7,299.5 C84.87,300.65 85.52,307.35 85.7,309 C85.88,310.65 86.36,314.85 86.5,316 C86.64,317.15 86.93,319.2 87.1,320.5 C87.27,321.8 87.97,327.45 88.2,329 C88.43,330.55 89.12,334.85 89.4,336 C89.68,337.15 90.65,339.87 91,340.5 C91.35,341.13 92.3,342.09 92.9,342.3 C93.5,342.51 96.09,342.57 97,342.6 C97.91,342.63 101.15,342.66 102,342.6 C102.85,342.54 104.98,342.14 105.5,342 C106.02,341.86 106.91,341.33 107.2,341.2 C107.49,341.07 108.14,340.67 108.4,340.7 C108.66,340.73 109.49,341.27 109.8,341.5 C110.11,341.73 110.88,342.75 111.5,343 C112.12,343.25 115.55,343.9 116,344" fill="none" stroke="#222" stroke-width="0.7"/>
<line x1="63.3" y1="337.3" x2="92.6" y2="337.3" stroke="#2a2a2a" stroke-width="0.8"/>
<line x1="92.6" y1="335.8" x2="92.6" y2="338.8" stroke="#2a2a2a" stroke-width="0.8"/>
<line x1="92.6" y1="339.6" x2="116.6" y2="339.6" stroke="#2a2a2a" stroke-width="0.8"/>
<line x1="92.6" y1="338.1" x2="92.6" y2="341.1" stroke="#2a2a2a" stroke-width="0.8"/>
<rect x="63.3" y="292.8" width="53.3" height="51.2" fill="none" stroke="#111" stroke-width="1"/>
<line x1="60.5" y1="343.6" x2="63.3" y2="343.6" stroke="#1e1e1e" stroke-width="0.8"/>
<text x="58.3" y="345.5" font-size="5.3" text-anchor="end">0</text>
<line x1="60.5" y1="327.6" x2="63.3" y2="327.6" stroke="#1e1e1e" stroke-width="0.8"/>
<text x="58.3" y="329.5" font-size="5.3" text-anchor="end">100</text>
<line x1="60.5" y1="311.6" x2="63.3" y2="311.6" stroke="#1e1e1e" stroke-width="0.8"/>
<text x="58.3" y="313.5" font-size="5.3" text-anchor="end">200</text>
<line x1="60.5" y1="295.6" x2="63.3" y2="295.6" stroke="#1e1e1e" stroke-width="0.8"/>
<text x="58.3" y="297.5" font-size="5.3" text-anchor="end">300</text>
<line x1="62" y1="339.6" x2="63.3" y2="339.6" stroke="#1e1e1e" stroke-width="0.55"/>
<line x1="62" y1="335.6" x2="63.3" y2="335.6" stroke="#1e1e1e" stroke-width="0.55"/>
<line x1="62" y1="331.6" x2="63.3" y2="331.6" stroke="#1e1e1e" stroke-width="0.55"/>
<line x1="62" y1="323.6" x2="63.3" y2="323.6" stroke="#1e1e1e" stroke-width="0.55"/>
<line x1="62" y1="319.6" x2="63.3" y2="319.6" stroke="#1e1e1e" stroke-width="0.55"/>
<line x1="62" y1="315.6" x2="63.3" y2="315.6" stroke="#1e1e1e" stroke-width="0.55"/>
<line x1="62" y1="307.6" x2="63.3" y2="307.6" stroke="#1e1e1e" stroke-width="0.55"/>
<line x1="62" y1="303.6" x2="63.3" y2="303.6" stroke="#1e1e1e" stroke-width="0.55"/>
<line x1="62" y1="299.6" x2="63.3" y2="299.6" stroke="#1e1e1e" stroke-width="0.55"/>
<line x1="63.8" y1="344" x2="63.8" y2="346.2" stroke="#1e1e1e" stroke-width="0.7"/>
<text x="63.7" y="354" font-size="5" text-anchor="middle">10<tspan font-size="3.6" dy="-3.2">0</tspan></text>
<line x1="66.66" y1="344" x2="66.66" y2="345.2" stroke="#1e1e1e" stroke-width="0.5"/>
<line x1="68.33" y1="344" x2="68.33" y2="345.2" stroke="#1e1e1e" stroke-width="0.5"/>
<line x1="69.52" y1="344" x2="69.52" y2="345.2" stroke="#1e1e1e" stroke-width="0.5"/>
<line x1="70.44" y1="344" x2="70.44" y2="345.2" stroke="#1e1e1e" stroke-width="0.5"/>
<line x1="71.19" y1="344" x2="71.19" y2="345.2" stroke="#1e1e1e" stroke-width="0.5"/>
<line x1="71.83" y1="344" x2="71.83" y2="345.2" stroke="#1e1e1e" stroke-width="0.5"/>
<line x1="72.38" y1="344" x2="72.38" y2="345.2" stroke="#1e1e1e" stroke-width="0.5"/>
<line x1="72.87" y1="344" x2="72.87" y2="345.2" stroke="#1e1e1e" stroke-width="0.5"/>
<line x1="73.3" y1="344" x2="73.3" y2="346.2" stroke="#1e1e1e" stroke-width="0.7"/>
<text x="73.2" y="354" font-size="5" text-anchor="middle">10<tspan font-size="3.6" dy="-3.2">1</tspan></text>
<line x1="76.43" y1="344" x2="76.43" y2="345.2" stroke="#1e1e1e" stroke-width="0.5"/>
<line x1="78.26" y1="344" x2="78.26" y2="345.2" stroke="#1e1e1e" stroke-width="0.5"/>
<line x1="79.56" y1="344" x2="79.56" y2="345.2" stroke="#1e1e1e" stroke-width="0.5"/>
<line x1="80.57" y1="344" x2="80.57" y2="345.2" stroke="#1e1e1e" stroke-width="0.5"/>
<line x1="81.39" y1="344" x2="81.39" y2="345.2" stroke="#1e1e1e" stroke-width="0.5"/>
<line x1="82.09" y1="344" x2="82.09" y2="345.2" stroke="#1e1e1e" stroke-width="0.5"/>
<line x1="82.69" y1="344" x2="82.69" y2="345.2" stroke="#1e1e1e" stroke-width="0.5"/>
<line x1="83.22" y1="344" x2="83.22" y2="345.2" stroke="#1e1e1e" stroke-width="0.5"/>
<line x1="83.7" y1="344" x2="83.7" y2="346.2" stroke="#1e1e1e" stroke-width="0.7"/>
<text x="83.6" y="354" font-size="5" text-anchor="middle">10<tspan font-size="3.6" dy="-3.2">2</tspan></text>
<line x1="86.68" y1="344" x2="86.68" y2="345.2" stroke="#1e1e1e" stroke-width="0.5"/>
<line x1="88.42" y1="344" x2="88.42" y2="345.2" stroke="#1e1e1e" stroke-width="0.5"/>
<line x1="89.66" y1="344" x2="89.66" y2="345.2" stroke="#1e1e1e" stroke-width="0.5"/>
<line x1="90.62" y1="344" x2="90.62" y2="345.2" stroke="#1e1e1e" stroke-width="0.5"/>
<line x1="91.4" y1="344" x2="91.4" y2="345.2" stroke="#1e1e1e" stroke-width="0.5"/>
<line x1="92.07" y1="344" x2="92.07" y2="345.2" stroke="#1e1e1e" stroke-width="0.5"/>
<line x1="92.64" y1="344" x2="92.64" y2="345.2" stroke="#1e1e1e" stroke-width="0.5"/>
<line x1="93.15" y1="344" x2="93.15" y2="345.2" stroke="#1e1e1e" stroke-width="0.5"/>
<line x1="93.6" y1="344" x2="93.6" y2="346.2" stroke="#1e1e1e" stroke-width="0.7"/>
<text x="93.5" y="354" font-size="5" text-anchor="middle">10<tspan font-size="3.6" dy="-3.2">3</tspan></text>
<line x1="96.58" y1="344" x2="96.58" y2="345.2" stroke="#1e1e1e" stroke-width="0.5"/>
<line x1="98.32" y1="344" x2="98.32" y2="345.2" stroke="#1e1e1e" stroke-width="0.5"/>
<line x1="99.56" y1="344" x2="99.56" y2="345.2" stroke="#1e1e1e" stroke-width="0.5"/>
<line x1="100.52" y1="344" x2="100.52" y2="345.2" stroke="#1e1e1e" stroke-width="0.5"/>
<line x1="101.3" y1="344" x2="101.3" y2="345.2" stroke="#1e1e1e" stroke-width="0.5"/>
<line x1="101.97" y1="344" x2="101.97" y2="345.2" stroke="#1e1e1e" stroke-width="0.5"/>
<line x1="102.54" y1="344" x2="102.54" y2="345.2" stroke="#1e1e1e" stroke-width="0.5"/>
<line x1="103.05" y1="344" x2="103.05" y2="345.2" stroke="#1e1e1e" stroke-width="0.5"/>
<line x1="103.5" y1="344" x2="103.5" y2="346.2" stroke="#1e1e1e" stroke-width="0.7"/>
<text x="103.4" y="354" font-size="5" text-anchor="middle">10<tspan font-size="3.6" dy="-3.2">4</tspan></text>
<line x1="106.45" y1="344" x2="106.45" y2="345.2" stroke="#1e1e1e" stroke-width="0.5"/>
<line x1="108.18" y1="344" x2="108.18" y2="345.2" stroke="#1e1e1e" stroke-width="0.5"/>
<line x1="109.4" y1="344" x2="109.4" y2="345.2" stroke="#1e1e1e" stroke-width="0.5"/>
<line x1="110.35" y1="344" x2="110.35" y2="345.2" stroke="#1e1e1e" stroke-width="0.5"/>
<line x1="111.13" y1="344" x2="111.13" y2="345.2" stroke="#1e1e1e" stroke-width="0.5"/>
<line x1="111.78" y1="344" x2="111.78" y2="345.2" stroke="#1e1e1e" stroke-width="0.5"/>
<line x1="112.35" y1="344" x2="112.35" y2="345.2" stroke="#1e1e1e" stroke-width="0.5"/>
<line x1="112.85" y1="344" x2="112.85" y2="345.2" stroke="#1e1e1e" stroke-width="0.5"/>
<line x1="113.3" y1="344" x2="113.3" y2="346.2" stroke="#1e1e1e" stroke-width="0.7"/>
<text x="113.2" y="354" font-size="5" text-anchor="middle">10<tspan font-size="3.6" dy="-3.2">5</tspan></text>
<text x="65.3" y="298.4" font-size="5" text-anchor="start">PI-A−</text>
<text x="65.3" y="305" font-size="5" text-anchor="start">90.3</text>
<text x="101.1" y="298.4" font-size="5" text-anchor="start">PI-A+</text>
<text x="101.1" y="305" font-size="5" text-anchor="start">9.72</text>
<path d="M141,344 C141.6,343.98 145.9,343.9 147,343.8 C148.1,343.7 151.1,343.23 152,343 C152.9,342.77 155.3,341.77 156,341.5 C156.7,341.23 158.5,340.42 159,340.3 C159.5,340.18 160.55,340.21 161,340.3 C161.45,340.39 163.03,341.08 163.5,341.2 C163.97,341.32 165.3,341.77 165.7,341.5 C166.1,341.23 167.17,339.3 167.5,338.5 C167.83,337.7 168.7,334.4 169,333.5 C169.3,332.6 170.23,329.98 170.5,329.5 C170.77,329.02 171.45,328.65 171.7,328.7 C171.95,328.75 172.67,329.47 173,330 C173.33,330.53 174.6,333.4 175,334 C175.4,334.6 176.6,336 177,336 C177.4,336 178.65,334.65 179,334 C179.35,333.35 180.25,331.1 180.5,329.5 C180.75,327.9 181.3,320.43 181.5,318 C181.7,315.57 182.3,306.1 182.5,305.2 C182.7,304.3 183.3,307.72 183.5,309 C183.7,310.28 184.33,316.97 184.5,318 C184.67,319.03 185.05,318.6 185.2,319.3 C185.35,320 185.8,323.13 186,325 C186.2,326.87 186.95,336.25 187.2,338 C187.45,339.75 188.22,341.93 188.5,342.5 C188.78,343.07 189.55,343.55 190,343.7 C190.45,343.85 192.7,343.97 193,344 L193,344 L141,344 Z" fill="#9d9dab" stroke="none"/>
<path d="M141,344 C141.6,343.98 145.9,343.9 147,343.8 C148.1,343.7 151.1,343.23 152,343 C152.9,342.77 155.3,341.77 156,341.5 C156.7,341.23 158.5,340.42 159,340.3 C159.5,340.18 160.55,340.21 161,340.3 C161.45,340.39 163.03,341.08 163.5,341.2 C163.97,341.32 165.3,341.77 165.7,341.5 C166.1,341.23 167.17,339.3 167.5,338.5 C167.83,337.7 168.7,334.4 169,333.5 C169.3,332.6 170.23,329.98 170.5,329.5 C170.77,329.02 171.45,328.65 171.7,328.7 C171.95,328.75 172.67,329.47 173,330 C173.33,330.53 174.6,333.4 175,334 C175.4,334.6 176.6,336 177,336 C177.4,336 178.65,334.65 179,334 C179.35,333.35 180.25,331.1 180.5,329.5 C180.75,327.9 181.3,320.43 181.5,318 C181.7,315.57 182.3,306.1 182.5,305.2 C182.7,304.3 183.3,307.72 183.5,309 C183.7,310.28 184.33,316.97 184.5,318 C184.67,319.03 185.05,318.6 185.2,319.3 C185.35,320 185.8,323.13 186,325 C186.2,326.87 186.95,336.25 187.2,338 C187.45,339.75 188.22,341.93 188.5,342.5 C188.78,343.07 189.55,343.55 190,343.7 C190.45,343.85 192.7,343.97 193,344" fill="none" stroke="#222" stroke-width="0.7"/>
<line x1="139.9" y1="337.5" x2="168" y2="337.5" stroke="#2a2a2a" stroke-width="0.8"/>
<line x1="168" y1="336" x2="168" y2="339" stroke="#2a2a2a" stroke-width="0.8"/>
<line x1="168" y1="340.2" x2="193.2" y2="340.2" stroke="#2a2a2a" stroke-width="0.8"/>
<line x1="168" y1="338.7" x2="168" y2="341.7" stroke="#2a2a2a" stroke-width="0.8"/>
<rect x="139.9" y="292.8" width="53.3" height="51.2" fill="none" stroke="#111" stroke-width="1"/>
<line x1="137.1" y1="343.8" x2="139.9" y2="343.8" stroke="#1e1e1e" stroke-width="0.8"/>
<text x="134.9" y="345.7" font-size="5.3" text-anchor="end">0</text>
<line x1="137.1" y1="332.73" x2="139.9" y2="332.73" stroke="#1e1e1e" stroke-width="0.8"/>
<text x="134.9" y="334.63" font-size="5.3" text-anchor="end">50</text>
<line x1="137.1" y1="321.66" x2="139.9" y2="321.66" stroke="#1e1e1e" stroke-width="0.8"/>
<text x="134.9" y="323.56" font-size="5.3" text-anchor="end">100</text>
<line x1="137.1" y1="310.59" x2="139.9" y2="310.59" stroke="#1e1e1e" stroke-width="0.8"/>
<text x="134.9" y="312.49" font-size="5.3" text-anchor="end">150</text>
<line x1="137.1" y1="299.52" x2="139.9" y2="299.52" stroke="#1e1e1e" stroke-width="0.8"/>
<text x="134.9" y="301.42" font-size="5.3" text-anchor="end">200</text>
<line x1="138.6" y1="341.59" x2="139.9" y2="341.59" stroke="#1e1e1e" stroke-width="0.55"/>
<line x1="138.6" y1="339.37" x2="139.9" y2="339.37" stroke="#1e1e1e" stroke-width="0.55"/>
<line x1="138.6" y1="337.16" x2="139.9" y2="337.16" stroke="#1e1e1e" stroke-width="0.55"/>
<line x1="138.6" y1="334.94" x2="139.9" y2="334.94" stroke="#1e1e1e" stroke-width="0.55"/>
<line x1="138.6" y1="330.52" x2="139.9" y2="330.52" stroke="#1e1e1e" stroke-width="0.55"/>
<line x1="138.6" y1="328.3" x2="139.9" y2="328.3" stroke="#1e1e1e" stroke-width="0.55"/>
<line x1="138.6" y1="326.09" x2="139.9" y2="326.09" stroke="#1e1e1e" stroke-width="0.55"/>
<line x1="138.6" y1="323.87" x2="139.9" y2="323.87" stroke="#1e1e1e" stroke-width="0.55"/>
<line x1="138.6" y1="319.45" x2="139.9" y2="319.45" stroke="#1e1e1e" stroke-width="0.55"/>
<line x1="138.6" y1="317.23" x2="139.9" y2="317.23" stroke="#1e1e1e" stroke-width="0.55"/>
<line x1="138.6" y1="315.02" x2="139.9" y2="315.02" stroke="#1e1e1e" stroke-width="0.55"/>
<line x1="138.6" y1="312.8" x2="139.9" y2="312.8" stroke="#1e1e1e" stroke-width="0.55"/>
<line x1="138.6" y1="308.38" x2="139.9" y2="308.38" stroke="#1e1e1e" stroke-width="0.55"/>
<line x1="138.6" y1="306.16" x2="139.9" y2="306.16" stroke="#1e1e1e" stroke-width="0.55"/>
<line x1="138.6" y1="303.95" x2="139.9" y2="303.95" stroke="#1e1e1e" stroke-width="0.55"/>
<line x1="138.6" y1="301.73" x2="139.9" y2="301.73" stroke="#1e1e1e" stroke-width="0.55"/>
<line x1="138.6" y1="297.31" x2="139.9" y2="297.31" stroke="#1e1e1e" stroke-width="0.55"/>
<line x1="140.4" y1="344" x2="140.4" y2="346.2" stroke="#1e1e1e" stroke-width="0.7"/>
<text x="140.3" y="354" font-size="5" text-anchor="middle">10<tspan font-size="3.6" dy="-3.2">0</tspan></text>
<line x1="143.26" y1="344" x2="143.26" y2="345.2" stroke="#1e1e1e" stroke-width="0.5"/>
<line x1="144.93" y1="344" x2="144.93" y2="345.2" stroke="#1e1e1e" stroke-width="0.5"/>
<line x1="146.12" y1="344" x2="146.12" y2="345.2" stroke="#1e1e1e" stroke-width="0.5"/>
<line x1="147.04" y1="344" x2="147.04" y2="345.2" stroke="#1e1e1e" stroke-width="0.5"/>
<line x1="147.79" y1="344" x2="147.79" y2="345.2" stroke="#1e1e1e" stroke-width="0.5"/>
<line x1="148.43" y1="344" x2="148.43" y2="345.2" stroke="#1e1e1e" stroke-width="0.5"/>
<line x1="148.98" y1="344" x2="148.98" y2="345.2" stroke="#1e1e1e" stroke-width="0.5"/>
<line x1="149.47" y1="344" x2="149.47" y2="345.2" stroke="#1e1e1e" stroke-width="0.5"/>
<line x1="149.9" y1="344" x2="149.9" y2="346.2" stroke="#1e1e1e" stroke-width="0.7"/>
<text x="149.8" y="354" font-size="5" text-anchor="middle">10<tspan font-size="3.6" dy="-3.2">1</tspan></text>
<line x1="153.03" y1="344" x2="153.03" y2="345.2" stroke="#1e1e1e" stroke-width="0.5"/>
<line x1="154.86" y1="344" x2="154.86" y2="345.2" stroke="#1e1e1e" stroke-width="0.5"/>
<line x1="156.16" y1="344" x2="156.16" y2="345.2" stroke="#1e1e1e" stroke-width="0.5"/>
<line x1="157.17" y1="344" x2="157.17" y2="345.2" stroke="#1e1e1e" stroke-width="0.5"/>
<line x1="157.99" y1="344" x2="157.99" y2="345.2" stroke="#1e1e1e" stroke-width="0.5"/>
<line x1="158.69" y1="344" x2="158.69" y2="345.2" stroke="#1e1e1e" stroke-width="0.5"/>
<line x1="159.29" y1="344" x2="159.29" y2="345.2" stroke="#1e1e1e" stroke-width="0.5"/>
<line x1="159.82" y1="344" x2="159.82" y2="345.2" stroke="#1e1e1e" stroke-width="0.5"/>
<line x1="160.3" y1="344" x2="160.3" y2="346.2" stroke="#1e1e1e" stroke-width="0.7"/>
<text x="160.2" y="354" font-size="5" text-anchor="middle">10<tspan font-size="3.6" dy="-3.2">2</tspan></text>
<line x1="163.28" y1="344" x2="163.28" y2="345.2" stroke="#1e1e1e" stroke-width="0.5"/>
<line x1="165.02" y1="344" x2="165.02" y2="345.2" stroke="#1e1e1e" stroke-width="0.5"/>
<line x1="166.26" y1="344" x2="166.26" y2="345.2" stroke="#1e1e1e" stroke-width="0.5"/>
<line x1="167.22" y1="344" x2="167.22" y2="345.2" stroke="#1e1e1e" stroke-width="0.5"/>
<line x1="168" y1="344" x2="168" y2="345.2" stroke="#1e1e1e" stroke-width="0.5"/>
<line x1="168.67" y1="344" x2="168.67" y2="345.2" stroke="#1e1e1e" stroke-width="0.5"/>
<line x1="169.24" y1="344" x2="169.24" y2="345.2" stroke="#1e1e1e" stroke-width="0.5"/>
<line x1="169.75" y1="344" x2="169.75" y2="345.2" stroke="#1e1e1e" stroke-width="0.5"/>
<line x1="170.2" y1="344" x2="170.2" y2="346.2" stroke="#1e1e1e" stroke-width="0.7"/>
<text x="170.1" y="354" font-size="5" text-anchor="middle">10<tspan font-size="3.6" dy="-3.2">3</tspan></text>
<line x1="173.18" y1="344" x2="173.18" y2="345.2" stroke="#1e1e1e" stroke-width="0.5"/>
<line x1="174.92" y1="344" x2="174.92" y2="345.2" stroke="#1e1e1e" stroke-width="0.5"/>
<line x1="176.16" y1="344" x2="176.16" y2="345.2" stroke="#1e1e1e" stroke-width="0.5"/>
<line x1="177.12" y1="344" x2="177.12" y2="345.2" stroke="#1e1e1e" stroke-width="0.5"/>
<line x1="177.9" y1="344" x2="177.9" y2="345.2" stroke="#1e1e1e" stroke-width="0.5"/>
<line x1="178.57" y1="344" x2="178.57" y2="345.2" stroke="#1e1e1e" stroke-width="0.5"/>
<line x1="179.14" y1="344" x2="179.14" y2="345.2" stroke="#1e1e1e" stroke-width="0.5"/>
<line x1="179.65" y1="344" x2="179.65" y2="345.2" stroke="#1e1e1e" stroke-width="0.5"/>
<line x1="180.1" y1="344" x2="180.1" y2="346.2" stroke="#1e1e1e" stroke-width="0.7"/>
<text x="180" y="354" font-size="5" text-anchor="middle">10<tspan font-size="3.6" dy="-3.2">4</tspan></text>
<line x1="183.05" y1="344" x2="183.05" y2="345.2" stroke="#1e1e1e" stroke-width="0.5"/>
<line x1="184.78" y1="344" x2="184.78" y2="345.2" stroke="#1e1e1e" stroke-width="0.5"/>
<line x1="186" y1="344" x2="186" y2="345.2" stroke="#1e1e1e" stroke-width="0.5"/>
<line x1="186.95" y1="344" x2="186.95" y2="345.2" stroke="#1e1e1e" stroke-width="0.5"/>
<line x1="187.73" y1="344" x2="187.73" y2="345.2" stroke="#1e1e1e" stroke-width="0.5"/>
<line x1="188.38" y1="344" x2="188.38" y2="345.2" stroke="#1e1e1e" stroke-width="0.5"/>
<line x1="188.95" y1="344" x2="188.95" y2="345.2" stroke="#1e1e1e" stroke-width="0.5"/>
<line x1="189.45" y1="344" x2="189.45" y2="345.2" stroke="#1e1e1e" stroke-width="0.5"/>
<line x1="189.9" y1="344" x2="189.9" y2="346.2" stroke="#1e1e1e" stroke-width="0.7"/>
<text x="189.8" y="354" font-size="5" text-anchor="middle">10<tspan font-size="3.6" dy="-3.2">5</tspan></text>
<text x="141.9" y="298.4" font-size="5" text-anchor="start">PI-A−</text>
<text x="141.9" y="305" font-size="5" text-anchor="start">18.6</text>
<text x="177.7" y="298.4" font-size="5" text-anchor="start">PI-A+</text>
<text x="177.7" y="305" font-size="5" text-anchor="start">81.4</text>
<path d="M218,344 C218.5,343.98 222.15,343.88 223,343.8 C223.85,343.72 225.85,343.36 226.5,343.2 C227.15,343.04 229.01,342.42 229.5,342.2 C229.99,341.98 231.09,341.27 231.4,341 C231.71,340.73 232.38,339.85 232.6,339.5 C232.82,339.15 233.41,337.9 233.6,337.5 C233.79,337.1 234.33,335.75 234.5,335.5 C234.67,335.25 235.08,335.02 235.3,335 C235.52,334.98 236.43,335.3 236.7,335.3 C236.97,335.3 237.72,334.83 238,335 C238.28,335.17 239.17,336.55 239.5,337 C239.83,337.45 240.99,339.14 241.3,339.5 C241.61,339.86 242.36,340.51 242.6,340.6 C242.84,340.69 243.5,340.56 243.7,340.4 C243.9,340.24 244.43,339.64 244.6,339 C244.77,338.36 245.23,334.8 245.4,334 C245.57,333.2 246.11,331.4 246.3,331 C246.49,330.6 247.08,330.3 247.3,330 C247.52,329.7 248.28,328.27 248.5,328 C248.72,327.73 249.32,327.3 249.5,327.3 C249.68,327.3 250.1,327.68 250.3,328 C250.5,328.32 251.25,330 251.5,330.5 C251.75,331 252.53,332.57 252.8,333 C253.07,333.43 253.92,334.6 254.2,334.8 C254.48,335 255.34,335.28 255.6,335 C255.86,334.72 256.58,332.9 256.8,332 C257.02,331.1 257.63,327.4 257.8,326 C257.97,324.6 258.35,319.8 258.5,318 C258.65,316.2 259.15,309.3 259.3,308 C259.45,306.7 259.88,305.37 260,305 C260.12,304.63 260.38,304.1 260.5,304.3 C260.62,304.5 261.05,306.13 261.2,307 C261.35,307.87 261.85,312.18 262,313 C262.15,313.82 262.57,314.5 262.7,315.2 C262.83,315.9 263.19,318.72 263.3,320 C263.41,321.28 263.69,326.4 263.8,328 C263.91,329.6 264.28,334.75 264.4,336 C264.52,337.25 264.84,339.78 265,340.5 C265.16,341.22 265.5,342.85 266,343.2 C266.5,343.55 269.6,343.92 270,344 L270,344 L218,344 Z" fill="#9d9dab" stroke="none"/>
<path d="M218,344 C218.5,343.98 222.15,343.88 223,343.8 C223.85,343.72 225.85,343.36 226.5,343.2 C227.15,343.04 229.01,342.42 229.5,342.2 C229.99,341.98 231.09,341.27 231.4,341 C231.71,340.73 232.38,339.85 232.6,339.5 C232.82,339.15 233.41,337.9 233.6,337.5 C233.79,337.1 234.33,335.75 234.5,335.5 C234.67,335.25 235.08,335.02 235.3,335 C235.52,334.98 236.43,335.3 236.7,335.3 C236.97,335.3 237.72,334.83 238,335 C238.28,335.17 239.17,336.55 239.5,337 C239.83,337.45 240.99,339.14 241.3,339.5 C241.61,339.86 242.36,340.51 242.6,340.6 C242.84,340.69 243.5,340.56 243.7,340.4 C243.9,340.24 244.43,339.64 244.6,339 C244.77,338.36 245.23,334.8 245.4,334 C245.57,333.2 246.11,331.4 246.3,331 C246.49,330.6 247.08,330.3 247.3,330 C247.52,329.7 248.28,328.27 248.5,328 C248.72,327.73 249.32,327.3 249.5,327.3 C249.68,327.3 250.1,327.68 250.3,328 C250.5,328.32 251.25,330 251.5,330.5 C251.75,331 252.53,332.57 252.8,333 C253.07,333.43 253.92,334.6 254.2,334.8 C254.48,335 255.34,335.28 255.6,335 C255.86,334.72 256.58,332.9 256.8,332 C257.02,331.1 257.63,327.4 257.8,326 C257.97,324.6 258.35,319.8 258.5,318 C258.65,316.2 259.15,309.3 259.3,308 C259.45,306.7 259.88,305.37 260,305 C260.12,304.63 260.38,304.1 260.5,304.3 C260.62,304.5 261.05,306.13 261.2,307 C261.35,307.87 261.85,312.18 262,313 C262.15,313.82 262.57,314.5 262.7,315.2 C262.83,315.9 263.19,318.72 263.3,320 C263.41,321.28 263.69,326.4 263.8,328 C263.91,329.6 264.28,334.75 264.4,336 C264.52,337.25 264.84,339.78 265,340.5 C265.16,341.22 265.5,342.85 266,343.2 C266.5,343.55 269.6,343.92 270,344" fill="none" stroke="#222" stroke-width="0.7"/>
<line x1="216.6" y1="337" x2="245.3" y2="337" stroke="#2a2a2a" stroke-width="0.8"/>
<line x1="245.3" y1="335.5" x2="245.3" y2="338.5" stroke="#2a2a2a" stroke-width="0.8"/>
<line x1="245.3" y1="340.4" x2="269.9" y2="340.4" stroke="#2a2a2a" stroke-width="0.8"/>
<line x1="245.3" y1="338.9" x2="245.3" y2="341.9" stroke="#2a2a2a" stroke-width="0.8"/>
<rect x="216.6" y="292.8" width="53.3" height="51.2" fill="none" stroke="#111" stroke-width="1"/>
<line x1="213.8" y1="343.5" x2="216.6" y2="343.5" stroke="#1e1e1e" stroke-width="0.8"/>
<text x="211.6" y="345.4" font-size="5.3" text-anchor="end">0</text>
<line x1="213.8" y1="330.73" x2="216.6" y2="330.73" stroke="#1e1e1e" stroke-width="0.8"/>
<text x="211.6" y="332.63" font-size="5.3" text-anchor="end">50</text>
<line x1="213.8" y1="317.96" x2="216.6" y2="317.96" stroke="#1e1e1e" stroke-width="0.8"/>
<text x="211.6" y="319.86" font-size="5.3" text-anchor="end">100</text>
<line x1="213.8" y1="305.19" x2="216.6" y2="305.19" stroke="#1e1e1e" stroke-width="0.8"/>
<text x="211.6" y="307.09" font-size="5.3" text-anchor="end">150</text>
<line x1="215.3" y1="340.95" x2="216.6" y2="340.95" stroke="#1e1e1e" stroke-width="0.55"/>
<line x1="215.3" y1="338.39" x2="216.6" y2="338.39" stroke="#1e1e1e" stroke-width="0.55"/>
<line x1="215.3" y1="335.84" x2="216.6" y2="335.84" stroke="#1e1e1e" stroke-width="0.55"/>
<line x1="215.3" y1="333.28" x2="216.6" y2="333.28" stroke="#1e1e1e" stroke-width="0.55"/>
<line x1="215.3" y1="328.18" x2="216.6" y2="328.18" stroke="#1e1e1e" stroke-width="0.55"/>
<line x1="215.3" y1="325.62" x2="216.6" y2="325.62" stroke="#1e1e1e" stroke-width="0.55"/>
<line x1="215.3" y1="323.07" x2="216.6" y2="323.07" stroke="#1e1e1e" stroke-width="0.55"/>
<line x1="215.3" y1="320.51" x2="216.6" y2="320.51" stroke="#1e1e1e" stroke-width="0.55"/>
<line x1="215.3" y1="315.41" x2="216.6" y2="315.41" stroke="#1e1e1e" stroke-width="0.55"/>
<line x1="215.3" y1="312.85" x2="216.6" y2="312.85" stroke="#1e1e1e" stroke-width="0.55"/>
<line x1="215.3" y1="310.3" x2="216.6" y2="310.3" stroke="#1e1e1e" stroke-width="0.55"/>
<line x1="215.3" y1="307.74" x2="216.6" y2="307.74" stroke="#1e1e1e" stroke-width="0.55"/>
<line x1="215.3" y1="302.64" x2="216.6" y2="302.64" stroke="#1e1e1e" stroke-width="0.55"/>
<line x1="215.3" y1="300.08" x2="216.6" y2="300.08" stroke="#1e1e1e" stroke-width="0.55"/>
<line x1="215.3" y1="297.53" x2="216.6" y2="297.53" stroke="#1e1e1e" stroke-width="0.55"/>
<line x1="217.1" y1="344" x2="217.1" y2="346.2" stroke="#1e1e1e" stroke-width="0.7"/>
<text x="217" y="354" font-size="5" text-anchor="middle">10<tspan font-size="3.6" dy="-3.2">0</tspan></text>
<line x1="219.96" y1="344" x2="219.96" y2="345.2" stroke="#1e1e1e" stroke-width="0.5"/>
<line x1="221.63" y1="344" x2="221.63" y2="345.2" stroke="#1e1e1e" stroke-width="0.5"/>
<line x1="222.82" y1="344" x2="222.82" y2="345.2" stroke="#1e1e1e" stroke-width="0.5"/>
<line x1="223.74" y1="344" x2="223.74" y2="345.2" stroke="#1e1e1e" stroke-width="0.5"/>
<line x1="224.49" y1="344" x2="224.49" y2="345.2" stroke="#1e1e1e" stroke-width="0.5"/>
<line x1="225.13" y1="344" x2="225.13" y2="345.2" stroke="#1e1e1e" stroke-width="0.5"/>
<line x1="225.68" y1="344" x2="225.68" y2="345.2" stroke="#1e1e1e" stroke-width="0.5"/>
<line x1="226.17" y1="344" x2="226.17" y2="345.2" stroke="#1e1e1e" stroke-width="0.5"/>
<line x1="226.6" y1="344" x2="226.6" y2="346.2" stroke="#1e1e1e" stroke-width="0.7"/>
<text x="226.5" y="354" font-size="5" text-anchor="middle">10<tspan font-size="3.6" dy="-3.2">1</tspan></text>
<line x1="229.73" y1="344" x2="229.73" y2="345.2" stroke="#1e1e1e" stroke-width="0.5"/>
<line x1="231.56" y1="344" x2="231.56" y2="345.2" stroke="#1e1e1e" stroke-width="0.5"/>
<line x1="232.86" y1="344" x2="232.86" y2="345.2" stroke="#1e1e1e" stroke-width="0.5"/>
<line x1="233.87" y1="344" x2="233.87" y2="345.2" stroke="#1e1e1e" stroke-width="0.5"/>
<line x1="234.69" y1="344" x2="234.69" y2="345.2" stroke="#1e1e1e" stroke-width="0.5"/>
<line x1="235.39" y1="344" x2="235.39" y2="345.2" stroke="#1e1e1e" stroke-width="0.5"/>
<line x1="235.99" y1="344" x2="235.99" y2="345.2" stroke="#1e1e1e" stroke-width="0.5"/>
<line x1="236.52" y1="344" x2="236.52" y2="345.2" stroke="#1e1e1e" stroke-width="0.5"/>
<line x1="237" y1="344" x2="237" y2="346.2" stroke="#1e1e1e" stroke-width="0.7"/>
<text x="236.9" y="354" font-size="5" text-anchor="middle">10<tspan font-size="3.6" dy="-3.2">2</tspan></text>
<line x1="239.98" y1="344" x2="239.98" y2="345.2" stroke="#1e1e1e" stroke-width="0.5"/>
<line x1="241.72" y1="344" x2="241.72" y2="345.2" stroke="#1e1e1e" stroke-width="0.5"/>
<line x1="242.96" y1="344" x2="242.96" y2="345.2" stroke="#1e1e1e" stroke-width="0.5"/>
<line x1="243.92" y1="344" x2="243.92" y2="345.2" stroke="#1e1e1e" stroke-width="0.5"/>
<line x1="244.7" y1="344" x2="244.7" y2="345.2" stroke="#1e1e1e" stroke-width="0.5"/>
<line x1="245.37" y1="344" x2="245.37" y2="345.2" stroke="#1e1e1e" stroke-width="0.5"/>
<line x1="245.94" y1="344" x2="245.94" y2="345.2" stroke="#1e1e1e" stroke-width="0.5"/>
<line x1="246.45" y1="344" x2="246.45" y2="345.2" stroke="#1e1e1e" stroke-width="0.5"/>
<line x1="246.9" y1="344" x2="246.9" y2="346.2" stroke="#1e1e1e" stroke-width="0.7"/>
<text x="246.8" y="354" font-size="5" text-anchor="middle">10<tspan font-size="3.6" dy="-3.2">3</tspan></text>
<line x1="249.88" y1="344" x2="249.88" y2="345.2" stroke="#1e1e1e" stroke-width="0.5"/>
<line x1="251.62" y1="344" x2="251.62" y2="345.2" stroke="#1e1e1e" stroke-width="0.5"/>
<line x1="252.86" y1="344" x2="252.86" y2="345.2" stroke="#1e1e1e" stroke-width="0.5"/>
<line x1="253.82" y1="344" x2="253.82" y2="345.2" stroke="#1e1e1e" stroke-width="0.5"/>
<line x1="254.6" y1="344" x2="254.6" y2="345.2" stroke="#1e1e1e" stroke-width="0.5"/>
<line x1="255.27" y1="344" x2="255.27" y2="345.2" stroke="#1e1e1e" stroke-width="0.5"/>
<line x1="255.84" y1="344" x2="255.84" y2="345.2" stroke="#1e1e1e" stroke-width="0.5"/>
<line x1="256.35" y1="344" x2="256.35" y2="345.2" stroke="#1e1e1e" stroke-width="0.5"/>
<line x1="256.8" y1="344" x2="256.8" y2="346.2" stroke="#1e1e1e" stroke-width="0.7"/>
<text x="256.7" y="354" font-size="5" text-anchor="middle">10<tspan font-size="3.6" dy="-3.2">4</tspan></text>
<line x1="259.75" y1="344" x2="259.75" y2="345.2" stroke="#1e1e1e" stroke-width="0.5"/>
<line x1="261.48" y1="344" x2="261.48" y2="345.2" stroke="#1e1e1e" stroke-width="0.5"/>
<line x1="262.7" y1="344" x2="262.7" y2="345.2" stroke="#1e1e1e" stroke-width="0.5"/>
<line x1="263.65" y1="344" x2="263.65" y2="345.2" stroke="#1e1e1e" stroke-width="0.5"/>
<line x1="264.43" y1="344" x2="264.43" y2="345.2" stroke="#1e1e1e" stroke-width="0.5"/>
<line x1="265.08" y1="344" x2="265.08" y2="345.2" stroke="#1e1e1e" stroke-width="0.5"/>
<line x1="265.65" y1="344" x2="265.65" y2="345.2" stroke="#1e1e1e" stroke-width="0.5"/>
<line x1="266.15" y1="344" x2="266.15" y2="345.2" stroke="#1e1e1e" stroke-width="0.5"/>
<line x1="266.6" y1="344" x2="266.6" y2="346.2" stroke="#1e1e1e" stroke-width="0.7"/>
<text x="266.5" y="354" font-size="5" text-anchor="middle">10<tspan font-size="3.6" dy="-3.2">5</tspan></text>
<text x="218.6" y="298.4" font-size="5" text-anchor="start">PI-A−</text>
<text x="218.6" y="305" font-size="5" text-anchor="start">23.4</text>
<text x="254.4" y="298.4" font-size="5" text-anchor="start">PI-A+</text>
<text x="254.4" y="305" font-size="5" text-anchor="start">76.6</text>
<line x1="20.2" y1="274" x2="20.2" y2="360.5" stroke="#1e1e1e" stroke-width="1.1"/>
<line x1="19.7" y1="360" x2="101.5" y2="360" stroke="#1e1e1e" stroke-width="1.1"/>
<path d="M20.2,270.5 L18.1,275.8 L22.3,275.8 Z" fill="#1e1e1e"/>
<path d="M105.2,360 L100.2,357.9 L100.2,362.1 Z" fill="#1e1e1e"/>
<text x="15" y="278.75" font-size="9.4" text-anchor="middle" font-weight="bold" textLength="15.9" lengthAdjust="spacingAndGlyphs" transform="rotate(-90 15 278.75)">Count</text>
<text x="81.4" y="371" font-size="8.7" text-anchor="middle" textLength="48" lengthAdjust="spacingAndGlyphs" style="stroke-width:0.3px">Propidium iodide</text>
<text x="285.4" y="152.5" font-size="10.8" text-anchor="start" font-weight="bold" style="stroke-width:0.35px">D</text>
<text x="386.25" y="169.6" font-size="9.4" text-anchor="middle" textLength="49.2" lengthAdjust="spacingAndGlyphs">Cell Viability</text>
<line x1="330" y1="288.3" x2="330" y2="175" stroke="#1e1e1e" stroke-width="1.2"/>
<line x1="327" y1="287.8" x2="330" y2="287.8" stroke="#1e1e1e" stroke-width="1.2"/>
<text x="324.4" y="290.61" font-size="7.8" text-anchor="end">0</text>
<line x1="327" y1="265.74" x2="330" y2="265.74" stroke="#1e1e1e" stroke-width="1.2"/>
<text x="324.4" y="268.55" font-size="7.8" text-anchor="end">20</text>
<line x1="327" y1="243.68" x2="330" y2="243.68" stroke="#1e1e1e" stroke-width="1.2"/>
<text x="324.4" y="246.49" font-size="7.8" text-anchor="end">40</text>
<line x1="327" y1="221.62" x2="330" y2="221.62" stroke="#1e1e1e" stroke-width="1.2"/>
<text x="324.4" y="224.43" font-size="7.8" text-anchor="end">60</text>
<line x1="327" y1="199.56" x2="330" y2="199.56" stroke="#1e1e1e" stroke-width="1.2"/>
<text x="324.4" y="202.37" font-size="7.8" text-anchor="end">80</text>
<line x1="327" y1="177.5" x2="330" y2="177.5" stroke="#1e1e1e" stroke-width="1.2"/>
<text x="324.4" y="180.31" font-size="7.8" text-anchor="end">100</text>
<line x1="328.2" y1="276.77" x2="330" y2="276.77" stroke="#1e1e1e" stroke-width="0.9"/>
<line x1="328.2" y1="254.71" x2="330" y2="254.71" stroke="#1e1e1e" stroke-width="0.9"/>
<line x1="328.2" y1="232.65" x2="330" y2="232.65" stroke="#1e1e1e" stroke-width="0.9"/>
<line x1="328.2" y1="210.59" x2="330" y2="210.59" stroke="#1e1e1e" stroke-width="0.9"/>
<line x1="328.2" y1="188.53" x2="330" y2="188.53" stroke="#1e1e1e" stroke-width="0.9"/>
<line x1="329.4" y1="287.8" x2="441" y2="287.8" stroke="#1e1e1e" stroke-width="1.3"/>
<line x1="352.5" y1="287.8" x2="352.5" y2="290.8" stroke="#1e1e1e" stroke-width="1"/>
<text x="352.5" y="301.3" font-size="7.8" text-anchor="middle">0</text>
<line x1="386.2" y1="287.8" x2="386.2" y2="290.8" stroke="#1e1e1e" stroke-width="1"/>
<text x="386.2" y="301.3" font-size="7.8" text-anchor="middle">2</text>
<line x1="419.8" y1="287.8" x2="419.8" y2="290.8" stroke="#1e1e1e" stroke-width="1"/>
<text x="419.8" y="301.3" font-size="7.8" text-anchor="middle">3</text>
<text x="386.15" y="313.7" font-size="9.3" text-anchor="middle" textLength="13.3" lengthAdjust="spacingAndGlyphs" style="stroke-width:0.3px">Days</text>
<text x="305" y="231.7" font-size="9" text-anchor="middle" font-weight="bold" textLength="46.2" lengthAdjust="spacingAndGlyphs" transform="rotate(-90 305 231.7)">Viable cells (%)</text>
<polyline points="352.5,191.2 386.1,190.2 419.8,186.8" fill="none" stroke="#383838" stroke-width="1.0"/>
<polyline points="352.5,196.5 386.1,222.1 419.8,262.5" fill="none" stroke="#383838" stroke-width="1.0"/>
<polyline points="352.5,196 386.1,216.8 419.8,241.3" fill="none" stroke="#383838" stroke-width="1.0"/>
<path d="M352.4,188.6 L354.6,192 L354.6,197.3 L350.3,197.3 L350.3,192 Z" fill="#2a2a2a"/>
<circle cx="352.4" cy="191.3" r="1.9" fill="#3a3a3a" stroke="#111" stroke-width="0.6"/>
<rect x="350.4" y="193.4" width="4.1" height="3.9" fill="#111"/>
<circle cx="386.1" cy="190.2" r="2.1" fill="#3a7f9c" stroke="#163c4c" stroke-width="0.7"/>
<circle cx="419.8" cy="186.8" r="2.1" fill="#2a3a40" stroke="#111" stroke-width="0.7"/>
<path d="M386.1,214.2 L388.7,216.8 L386.1,219.4 L383.5,216.8 Z" fill="#7a6a3e" stroke="#3a3018" stroke-width="0.6"/>
<rect x="384" y="220" width="4.2" height="4.2" fill="#6e1523" stroke="#3a0810" stroke-width="0.6"/>
<circle cx="419.8" cy="241.3" r="2.2" fill="#8a7040" stroke="#3a3018" stroke-width="0.7"/>
<rect x="417.7" y="260.4" width="4.2" height="4.2" fill="#6e1523" stroke="#3a0810" stroke-width="0.6"/>
<line x1="425.4" y1="188.1" x2="425.4" y2="243.7" stroke="#1e1e1e" stroke-width="1.2"/>
<line x1="435.1" y1="187.1" x2="435.1" y2="266.9" stroke="#1e1e1e" stroke-width="1.2"/>
<circle cx="429.9" cy="211.88" r="1.1" fill="#1e1e1e"/>
<circle cx="429.9" cy="214.83" r="1.1" fill="#1e1e1e"/>
<circle cx="429.9" cy="217.78" r="1.1" fill="#1e1e1e"/>
<circle cx="429.9" cy="220.73" r="1.1" fill="#1e1e1e"/>
<circle cx="440" cy="222.88" r="1.1" fill="#1e1e1e"/>
<circle cx="440" cy="225.83" r="1.1" fill="#1e1e1e"/>
<circle cx="440" cy="228.78" r="1.1" fill="#1e1e1e"/>
<circle cx="440" cy="231.73" r="1.1" fill="#1e1e1e"/>
<line x1="448.5" y1="178.6" x2="459.8" y2="178.6" stroke="#666" stroke-width="1"/>
<circle cx="454.2" cy="178.6" r="1.99" fill="#3a7f9c" stroke="#163c4c" stroke-width="0.7"/>
<text x="463.3" y="181.3" font-size="7.5" text-anchor="start">Scramble</text>
<line x1="448.5" y1="189.8" x2="459.8" y2="189.8" stroke="#666" stroke-width="1"/>
<rect x="452.2" y="187.81" width="3.99" height="3.99" fill="#6e1523" stroke="#3a0810" stroke-width="0.6"/>
<text x="463.3" y="192.5" font-size="7.5" text-anchor="start">MARCH5 sh#1</text>
<line x1="448.5" y1="201.5" x2="459.8" y2="201.5" stroke="#666" stroke-width="1"/>
<path d="M454.2,199.03 L456.67,201.5 L454.2,203.97 L451.73,201.5 Z" fill="#7a6a3e" stroke="#3a3018" stroke-width="0.6"/>
<text x="463.3" y="204.2" font-size="7.5" text-anchor="start">MARCH5 sh#2</text>
<text x="6.8" y="395.6" font-size="10.8" text-anchor="start" font-weight="bold" style="stroke-width:0.35px">E</text>
<rect x="50.65" y="436.8" width="6.9" height="87.2" fill="#e3e3e3"/>
<rect x="57.55" y="436.8" width="6.9" height="87.2" fill="#e3e3e3"/>
<rect x="64.45" y="436.8" width="6.9" height="87.2" fill="#e3e3e3"/>
<rect x="80.95" y="436.8" width="6.9" height="87.2" fill="#e3e3e3"/>
<rect x="87.85" y="513.54" width="6.9" height="10.46" fill="#e3e3e3"/>
<rect x="94.75" y="501.91" width="6.9" height="22.09" fill="#e3e3e3"/>
<rect x="111.45" y="436.8" width="6.9" height="87.2" fill="#e3e3e3"/>
<rect x="118.35" y="519.64" width="6.9" height="4.36" fill="#e3e3e3"/>
<rect x="125.25" y="511.79" width="6.9" height="12.21" fill="#e3e3e3"/>
<rect x="141.65" y="436.8" width="6.9" height="87.2" fill="#e3e3e3"/>
<rect x="148.55" y="520.51" width="6.9" height="3.49" fill="#e3e3e3"/>
<rect x="155.45" y="513.97" width="6.9" height="10.03" fill="#e3e3e3"/>
<line x1="47.6" y1="524.5" x2="47.6" y2="399.4" stroke="#1e1e1e" stroke-width="1.2"/>
<line x1="44.6" y1="524" x2="47.6" y2="524" stroke="#1e1e1e" stroke-width="1.2"/>
<text x="42" y="526.81" font-size="7.8" text-anchor="end">0.0</text>
<line x1="44.6" y1="506.56" x2="47.6" y2="506.56" stroke="#1e1e1e" stroke-width="1.2"/>
<text x="42" y="509.37" font-size="7.8" text-anchor="end">0.2</text>
<line x1="44.6" y1="489.12" x2="47.6" y2="489.12" stroke="#1e1e1e" stroke-width="1.2"/>
<text x="42" y="491.93" font-size="7.8" text-anchor="end">0.4</text>
<line x1="44.6" y1="471.68" x2="47.6" y2="471.68" stroke="#1e1e1e" stroke-width="1.2"/>
<text x="42" y="474.49" font-size="7.8" text-anchor="end">0.6</text>
<line x1="44.6" y1="454.24" x2="47.6" y2="454.24" stroke="#1e1e1e" stroke-width="1.2"/>
<text x="42" y="457.05" font-size="7.8" text-anchor="end">0.8</text>
<line x1="44.6" y1="436.8" x2="47.6" y2="436.8" stroke="#1e1e1e" stroke-width="1.2"/>
<text x="42" y="439.61" font-size="7.8" text-anchor="end">1.0</text>
<line x1="44.6" y1="419.36" x2="47.6" y2="419.36" stroke="#1e1e1e" stroke-width="1.2"/>
<text x="42" y="422.17" font-size="7.8" text-anchor="end">1.2</text>
<line x1="44.6" y1="401.92" x2="47.6" y2="401.92" stroke="#1e1e1e" stroke-width="1.2"/>
<text x="42" y="404.73" font-size="7.8" text-anchor="end">1.4</text>
<line x1="45.8" y1="515.28" x2="47.6" y2="515.28" stroke="#1e1e1e" stroke-width="0.9"/>
<line x1="45.8" y1="497.84" x2="47.6" y2="497.84" stroke="#1e1e1e" stroke-width="0.9"/>
<line x1="45.8" y1="480.4" x2="47.6" y2="480.4" stroke="#1e1e1e" stroke-width="0.9"/>
<line x1="45.8" y1="462.96" x2="47.6" y2="462.96" stroke="#1e1e1e" stroke-width="0.9"/>
<line x1="45.8" y1="445.52" x2="47.6" y2="445.52" stroke="#1e1e1e" stroke-width="0.9"/>
<line x1="45.8" y1="428.08" x2="47.6" y2="428.08" stroke="#1e1e1e" stroke-width="0.9"/>
<line x1="45.8" y1="410.64" x2="47.6" y2="410.64" stroke="#1e1e1e" stroke-width="0.9"/>
<line x1="47" y1="524" x2="166" y2="524" stroke="#1e1e1e" stroke-width="1.4"/>
<line x1="61" y1="524" x2="61" y2="527" stroke="#1e1e1e" stroke-width="1"/>
<text x="61" y="537" font-size="7.8" text-anchor="middle">0</text>
<line x1="91.3" y1="524" x2="91.3" y2="527" stroke="#1e1e1e" stroke-width="1"/>
<text x="91.3" y="537" font-size="7.8" text-anchor="middle">2</text>
<line x1="121.8" y1="524" x2="121.8" y2="527" stroke="#1e1e1e" stroke-width="1"/>
<text x="121.8" y="537" font-size="7.8" text-anchor="middle">3</text>
<line x1="152" y1="524" x2="152" y2="527" stroke="#1e1e1e" stroke-width="1"/>
<text x="152" y="537" font-size="7.8" text-anchor="middle">4</text>
<text x="106.7" y="550" font-size="9.4" text-anchor="middle" textLength="13.5" lengthAdjust="spacingAndGlyphs" style="stroke-width:0.3px">Days</text>
<ellipse cx="52.8" cy="436.8" rx="2.13" ry="1.7" fill="#5aaac0" stroke="#124e62" stroke-width="0.9"/>
<ellipse cx="55.4" cy="436.8" rx="2.13" ry="1.7" fill="#5aaac0" stroke="#124e62" stroke-width="0.9"/>
<ellipse cx="54.1" cy="436.8" rx="2.13" ry="1.7" fill="#5aaac0" stroke="#124e62" stroke-width="0.9"/>
<ellipse cx="59.7" cy="436.8" rx="2.13" ry="1.7" fill="#8e1b2d" stroke="#5c0d1a" stroke-width="0.9"/>
<ellipse cx="62.3" cy="436.8" rx="2.13" ry="1.7" fill="#8e1b2d" stroke="#5c0d1a" stroke-width="0.9"/>
<ellipse cx="61" cy="436.8" rx="2.13" ry="1.7" fill="#8e1b2d" stroke="#5c0d1a" stroke-width="0.9"/>
<ellipse cx="66.6" cy="436.8" rx="2.13" ry="1.7" fill="#e8932e" stroke="#7a4a10" stroke-width="0.9"/>
<ellipse cx="69.2" cy="436.8" rx="2.13" ry="1.7" fill="#e8932e" stroke="#7a4a10" stroke-width="0.9"/>
<ellipse cx="67.9" cy="436.8" rx="2.13" ry="1.7" fill="#e8932e" stroke="#7a4a10" stroke-width="0.9"/>
<ellipse cx="83.1" cy="436.8" rx="2.13" ry="1.7" fill="#5aaac0" stroke="#124e62" stroke-width="0.9"/>
<ellipse cx="85.7" cy="436.8" rx="2.13" ry="1.7" fill="#5aaac0" stroke="#124e62" stroke-width="0.9"/>
<ellipse cx="84.4" cy="436.8" rx="2.13" ry="1.7" fill="#5aaac0" stroke="#124e62" stroke-width="0.9"/>
<ellipse cx="90" cy="514.41" rx="2.46" ry="1.96" fill="#8e1b2d" stroke="#5c0d1a" stroke-width="0.9"/>
<ellipse cx="91.3" cy="512.66" rx="2.46" ry="1.96" fill="#8e1b2d" stroke="#5c0d1a" stroke-width="0.9"/>
<ellipse cx="92.6" cy="513.54" rx="2.46" ry="1.96" fill="#8e1b2d" stroke="#5c0d1a" stroke-width="0.9"/>
<ellipse cx="96.9" cy="504.82" rx="2.46" ry="1.96" fill="#e8932e" stroke="#7a4a10" stroke-width="0.9"/>
<ellipse cx="98.2" cy="502.2" rx="2.46" ry="1.96" fill="#e8932e" stroke="#7a4a10" stroke-width="0.9"/>
<ellipse cx="99.5" cy="498.71" rx="2.46" ry="1.96" fill="#e8932e" stroke="#7a4a10" stroke-width="0.9"/>
<ellipse cx="113.6" cy="436.8" rx="2.13" ry="1.7" fill="#5aaac0" stroke="#124e62" stroke-width="0.9"/>
<ellipse cx="116.2" cy="436.8" rx="2.13" ry="1.7" fill="#5aaac0" stroke="#124e62" stroke-width="0.9"/>
<ellipse cx="114.9" cy="436.8" rx="2.13" ry="1.7" fill="#5aaac0" stroke="#124e62" stroke-width="0.9"/>
<ellipse cx="121.15" cy="519.64" rx="2.46" ry="1.96" fill="#8e1b2d" stroke="#5c0d1a" stroke-width="0.9"/>
<ellipse cx="122.45" cy="519.64" rx="2.46" ry="1.96" fill="#8e1b2d" stroke="#5c0d1a" stroke-width="0.9"/>
<ellipse cx="127.4" cy="512.66" rx="2.46" ry="1.96" fill="#e8932e" stroke="#7a4a10" stroke-width="0.9"/>
<ellipse cx="128.7" cy="510.92" rx="2.46" ry="1.96" fill="#e8932e" stroke="#7a4a10" stroke-width="0.9"/>
<ellipse cx="130" cy="511.79" rx="2.46" ry="1.96" fill="#e8932e" stroke="#7a4a10" stroke-width="0.9"/>
<ellipse cx="143.8" cy="436.8" rx="2.13" ry="1.7" fill="#5aaac0" stroke="#124e62" stroke-width="0.9"/>
<ellipse cx="146.4" cy="436.8" rx="2.13" ry="1.7" fill="#5aaac0" stroke="#124e62" stroke-width="0.9"/>
<ellipse cx="145.1" cy="436.8" rx="2.13" ry="1.7" fill="#5aaac0" stroke="#124e62" stroke-width="0.9"/>
<ellipse cx="151.35" cy="520.51" rx="2.46" ry="1.96" fill="#8e1b2d" stroke="#5c0d1a" stroke-width="0.9"/>
<ellipse cx="152.65" cy="520.51" rx="2.46" ry="1.96" fill="#8e1b2d" stroke="#5c0d1a" stroke-width="0.9"/>
<ellipse cx="158.25" cy="514.41" rx="2.46" ry="1.96" fill="#e8932e" stroke="#7a4a10" stroke-width="0.9"/>
<ellipse cx="159.55" cy="513.54" rx="2.46" ry="1.96" fill="#e8932e" stroke="#7a4a10" stroke-width="0.9"/>
<line x1="84.4" y1="412" x2="98.2" y2="412" stroke="#1e1e1e" stroke-width="1.1"/>
<circle cx="89.83" cy="407.7" r="1.1" fill="#1e1e1e"/>
<circle cx="92.77" cy="407.7" r="1.1" fill="#1e1e1e"/>
<line x1="84.4" y1="425.8" x2="91.3" y2="425.8" stroke="#1e1e1e" stroke-width="1.1"/>
<circle cx="84.9" cy="421.5" r="1.1" fill="#1e1e1e"/>
<circle cx="87.85" cy="421.5" r="1.1" fill="#1e1e1e"/>
<circle cx="90.8" cy="421.5" r="1.1" fill="#1e1e1e"/>
<line x1="114.9" y1="412" x2="128.7" y2="412" stroke="#1e1e1e" stroke-width="1.1"/>
<circle cx="117.37" cy="407.7" r="1.1" fill="#1e1e1e"/>
<circle cx="120.32" cy="407.7" r="1.1" fill="#1e1e1e"/>
<circle cx="123.27" cy="407.7" r="1.1" fill="#1e1e1e"/>
<circle cx="126.22" cy="407.7" r="1.1" fill="#1e1e1e"/>
<line x1="114.9" y1="425.8" x2="121.8" y2="425.8" stroke="#1e1e1e" stroke-width="1.1"/>
<circle cx="113.92" cy="421.5" r="1.1" fill="#1e1e1e"/>
<circle cx="116.88" cy="421.5" r="1.1" fill="#1e1e1e"/>
<circle cx="119.82" cy="421.5" r="1.1" fill="#1e1e1e"/>
<circle cx="122.77" cy="421.5" r="1.1" fill="#1e1e1e"/>
<line x1="145.1" y1="412" x2="158.9" y2="412" stroke="#1e1e1e" stroke-width="1.1"/>
<circle cx="147.57" cy="407.7" r="1.1" fill="#1e1e1e"/>
<circle cx="150.53" cy="407.7" r="1.1" fill="#1e1e1e"/>
<circle cx="153.47" cy="407.7" r="1.1" fill="#1e1e1e"/>
<circle cx="156.43" cy="407.7" r="1.1" fill="#1e1e1e"/>
<line x1="145.1" y1="425.8" x2="152" y2="425.8" stroke="#1e1e1e" stroke-width="1.1"/>
<circle cx="144.12" cy="421.5" r="1.1" fill="#1e1e1e"/>
<circle cx="147.08" cy="421.5" r="1.1" fill="#1e1e1e"/>
<circle cx="150.03" cy="421.5" r="1.1" fill="#1e1e1e"/>
<circle cx="152.98" cy="421.5" r="1.1" fill="#1e1e1e"/>
<text x="106.85" y="394.1" font-size="9.4" text-anchor="middle" textLength="49.5" lengthAdjust="spacingAndGlyphs">Cell Viability</text>
<text x="25.5" y="462.4" font-size="9" text-anchor="middle" font-weight="bold" textLength="69" lengthAdjust="spacingAndGlyphs" transform="rotate(-90 25.5 462.4)">Normalized to scramble</text>
<ellipse cx="173.8" cy="403.3" rx="2.83" ry="2.03" fill="#5aaac0" stroke="#124e62" stroke-width="0.9"/>
<text x="179" y="406.04" font-size="7.6" text-anchor="start">Scramble</text>
<ellipse cx="173.8" cy="414.6" rx="2.83" ry="2.03" fill="#8e1b2d" stroke="#5c0d1a" stroke-width="0.9"/>
<text x="179" y="417.34" font-size="7.6" text-anchor="start">MARCH5 sh#1</text>
<ellipse cx="173.8" cy="426.2" rx="2.83" ry="2.03" fill="#e8932e" stroke="#7a4a10" stroke-width="0.9"/>
<text x="179" y="428.94" font-size="7.6" text-anchor="start">MARCH5 sh#2</text>
<text x="245.2" y="395.6" font-size="10.8" text-anchor="start" font-weight="bold" style="stroke-width:0.35px">F</text>
<rect x="288.95" y="436.8" width="6.9" height="87.2" fill="#e3e3e3"/>
<rect x="295.85" y="436.8" width="6.9" height="87.2" fill="#e3e3e3"/>
<rect x="302.75" y="436.8" width="6.9" height="87.2" fill="#e3e3e3"/>
<rect x="318.95" y="436.8" width="6.9" height="87.2" fill="#e3e3e3"/>
<rect x="325.85" y="512.66" width="6.9" height="11.34" fill="#e3e3e3"/>
<rect x="332.75" y="503.51" width="6.9" height="20.49" fill="#e3e3e3"/>
<rect x="348.95" y="436.8" width="6.9" height="87.2" fill="#e3e3e3"/>
<rect x="355.85" y="518.77" width="6.9" height="5.23" fill="#e3e3e3"/>
<rect x="362.75" y="509.61" width="6.9" height="14.39" fill="#e3e3e3"/>
<rect x="379.15" y="436.8" width="6.9" height="87.2" fill="#e3e3e3"/>
<rect x="386.05" y="520.51" width="6.9" height="3.49" fill="#e3e3e3"/>
<rect x="392.95" y="516.15" width="6.9" height="7.85" fill="#e3e3e3"/>
<line x1="285.6" y1="524.5" x2="285.6" y2="399.4" stroke="#1e1e1e" stroke-width="1.2"/>
<line x1="282.6" y1="524" x2="285.6" y2="524" stroke="#1e1e1e" stroke-width="1.2"/>
<text x="280" y="526.81" font-size="7.8" text-anchor="end">0.0</text>
<line x1="282.6" y1="506.56" x2="285.6" y2="506.56" stroke="#1e1e1e" stroke-width="1.2"/>
<text x="280" y="509.37" font-size="7.8" text-anchor="end">0.2</text>
<line x1="282.6" y1="489.12" x2="285.6" y2="489.12" stroke="#1e1e1e" stroke-width="1.2"/>
<text x="280" y="491.93" font-size="7.8" text-anchor="end">0.4</text>
<line x1="282.6" y1="471.68" x2="285.6" y2="471.68" stroke="#1e1e1e" stroke-width="1.2"/>
<text x="280" y="474.49" font-size="7.8" text-anchor="end">0.6</text>
<line x1="282.6" y1="454.24" x2="285.6" y2="454.24" stroke="#1e1e1e" stroke-width="1.2"/>
<text x="280" y="457.05" font-size="7.8" text-anchor="end">0.8</text>
<line x1="282.6" y1="436.8" x2="285.6" y2="436.8" stroke="#1e1e1e" stroke-width="1.2"/>
<text x="280" y="439.61" font-size="7.8" text-anchor="end">1.0</text>
<line x1="282.6" y1="419.36" x2="285.6" y2="419.36" stroke="#1e1e1e" stroke-width="1.2"/>
<text x="280" y="422.17" font-size="7.8" text-anchor="end">1.2</text>
<line x1="282.6" y1="401.92" x2="285.6" y2="401.92" stroke="#1e1e1e" stroke-width="1.2"/>
<text x="280" y="404.73" font-size="7.8" text-anchor="end">1.4</text>
<line x1="283.8" y1="515.28" x2="285.6" y2="515.28" stroke="#1e1e1e" stroke-width="0.9"/>
<line x1="283.8" y1="497.84" x2="285.6" y2="497.84" stroke="#1e1e1e" stroke-width="0.9"/>
<line x1="283.8" y1="480.4" x2="285.6" y2="480.4" stroke="#1e1e1e" stroke-width="0.9"/>
<line x1="283.8" y1="462.96" x2="285.6" y2="462.96" stroke="#1e1e1e" stroke-width="0.9"/>
<line x1="283.8" y1="445.52" x2="285.6" y2="445.52" stroke="#1e1e1e" stroke-width="0.9"/>
<line x1="283.8" y1="428.08" x2="285.6" y2="428.08" stroke="#1e1e1e" stroke-width="0.9"/>
<line x1="283.8" y1="410.64" x2="285.6" y2="410.64" stroke="#1e1e1e" stroke-width="0.9"/>
<line x1="285" y1="524" x2="403.5" y2="524" stroke="#1e1e1e" stroke-width="1.4"/>
<line x1="299.3" y1="524" x2="299.3" y2="527" stroke="#1e1e1e" stroke-width="1"/>
<text x="299.3" y="537" font-size="7.8" text-anchor="middle">0</text>
<line x1="329.3" y1="524" x2="329.3" y2="527" stroke="#1e1e1e" stroke-width="1"/>
<text x="329.3" y="537" font-size="7.8" text-anchor="middle">2</text>
<line x1="359.3" y1="524" x2="359.3" y2="527" stroke="#1e1e1e" stroke-width="1"/>
<text x="359.3" y="537" font-size="7.8" text-anchor="middle">3</text>
<line x1="389.5" y1="524" x2="389.5" y2="527" stroke="#1e1e1e" stroke-width="1"/>
<text x="389.5" y="537" font-size="7.8" text-anchor="middle">4</text>
<text x="344.6" y="550" font-size="9.4" text-anchor="middle" textLength="13.5" lengthAdjust="spacingAndGlyphs" style="stroke-width:0.3px">Days</text>
<ellipse cx="291.1" cy="436.8" rx="2.13" ry="1.7" fill="#5aaac0" stroke="#124e62" stroke-width="0.9"/>
<ellipse cx="293.7" cy="436.8" rx="2.13" ry="1.7" fill="#5aaac0" stroke="#124e62" stroke-width="0.9"/>
<ellipse cx="292.4" cy="436.8" rx="2.13" ry="1.7" fill="#5aaac0" stroke="#124e62" stroke-width="0.9"/>
<ellipse cx="298" cy="436.8" rx="2.13" ry="1.7" fill="#8e1b2d" stroke="#5c0d1a" stroke-width="0.9"/>
<ellipse cx="300.6" cy="436.8" rx="2.13" ry="1.7" fill="#8e1b2d" stroke="#5c0d1a" stroke-width="0.9"/>
<ellipse cx="299.3" cy="436.8" rx="2.13" ry="1.7" fill="#8e1b2d" stroke="#5c0d1a" stroke-width="0.9"/>
<ellipse cx="304.9" cy="436.8" rx="2.13" ry="1.7" fill="#e8932e" stroke="#7a4a10" stroke-width="0.9"/>
<ellipse cx="307.5" cy="436.8" rx="2.13" ry="1.7" fill="#e8932e" stroke="#7a4a10" stroke-width="0.9"/>
<ellipse cx="306.2" cy="436.8" rx="2.13" ry="1.7" fill="#e8932e" stroke="#7a4a10" stroke-width="0.9"/>
<ellipse cx="321.1" cy="436.8" rx="2.13" ry="1.7" fill="#5aaac0" stroke="#124e62" stroke-width="0.9"/>
<ellipse cx="323.7" cy="436.8" rx="2.13" ry="1.7" fill="#5aaac0" stroke="#124e62" stroke-width="0.9"/>
<ellipse cx="322.4" cy="436.8" rx="2.13" ry="1.7" fill="#5aaac0" stroke="#124e62" stroke-width="0.9"/>
<ellipse cx="328.65" cy="514.41" rx="2.46" ry="1.96" fill="#8e1b2d" stroke="#5c0d1a" stroke-width="0.9"/>
<ellipse cx="329.95" cy="510.92" rx="2.46" ry="1.96" fill="#8e1b2d" stroke="#5c0d1a" stroke-width="0.9"/>
<ellipse cx="335.55" cy="505.69" rx="2.46" ry="1.96" fill="#e8932e" stroke="#7a4a10" stroke-width="0.9"/>
<ellipse cx="336.85" cy="501.33" rx="2.46" ry="1.96" fill="#e8932e" stroke="#7a4a10" stroke-width="0.9"/>
<ellipse cx="351.1" cy="436.8" rx="2.13" ry="1.7" fill="#5aaac0" stroke="#124e62" stroke-width="0.9"/>
<ellipse cx="353.7" cy="436.8" rx="2.13" ry="1.7" fill="#5aaac0" stroke="#124e62" stroke-width="0.9"/>
<ellipse cx="352.4" cy="436.8" rx="2.13" ry="1.7" fill="#5aaac0" stroke="#124e62" stroke-width="0.9"/>
<ellipse cx="358.65" cy="518.77" rx="2.46" ry="1.96" fill="#8e1b2d" stroke="#5c0d1a" stroke-width="0.9"/>
<ellipse cx="359.95" cy="518.77" rx="2.46" ry="1.96" fill="#8e1b2d" stroke="#5c0d1a" stroke-width="0.9"/>
<ellipse cx="365.55" cy="511.79" rx="2.46" ry="1.96" fill="#e8932e" stroke="#7a4a10" stroke-width="0.9"/>
<ellipse cx="366.85" cy="507.43" rx="2.46" ry="1.96" fill="#e8932e" stroke="#7a4a10" stroke-width="0.9"/>
<ellipse cx="381.3" cy="436.8" rx="2.13" ry="1.7" fill="#5aaac0" stroke="#124e62" stroke-width="0.9"/>
<ellipse cx="383.9" cy="436.8" rx="2.13" ry="1.7" fill="#5aaac0" stroke="#124e62" stroke-width="0.9"/>
<ellipse cx="382.6" cy="436.8" rx="2.13" ry="1.7" fill="#5aaac0" stroke="#124e62" stroke-width="0.9"/>
<ellipse cx="388.85" cy="520.51" rx="2.46" ry="1.96" fill="#8e1b2d" stroke="#5c0d1a" stroke-width="0.9"/>
<ellipse cx="390.15" cy="520.51" rx="2.46" ry="1.96" fill="#8e1b2d" stroke="#5c0d1a" stroke-width="0.9"/>
<ellipse cx="395.75" cy="516.15" rx="2.46" ry="1.96" fill="#e8932e" stroke="#7a4a10" stroke-width="0.9"/>
<ellipse cx="397.05" cy="516.15" rx="2.46" ry="1.96" fill="#e8932e" stroke="#7a4a10" stroke-width="0.9"/>
<line x1="322.4" y1="412" x2="336.2" y2="412" stroke="#1e1e1e" stroke-width="1.1"/>
<circle cx="326.35" cy="407.7" r="1.1" fill="#1e1e1e"/>
<circle cx="329.3" cy="407.7" r="1.1" fill="#1e1e1e"/>
<circle cx="332.25" cy="407.7" r="1.1" fill="#1e1e1e"/>
<line x1="322.4" y1="425.8" x2="329.3" y2="425.8" stroke="#1e1e1e" stroke-width="1.1"/>
<circle cx="322.9" cy="421.5" r="1.1" fill="#1e1e1e"/>
<circle cx="325.85" cy="421.5" r="1.1" fill="#1e1e1e"/>
<circle cx="328.8" cy="421.5" r="1.1" fill="#1e1e1e"/>
<line x1="352.4" y1="412" x2="366.2" y2="412" stroke="#1e1e1e" stroke-width="1.1"/>
<circle cx="356.35" cy="407.7" r="1.1" fill="#1e1e1e"/>
<circle cx="359.3" cy="407.7" r="1.1" fill="#1e1e1e"/>
<circle cx="362.25" cy="407.7" r="1.1" fill="#1e1e1e"/>
<line x1="352.4" y1="425.8" x2="359.3" y2="425.8" stroke="#1e1e1e" stroke-width="1.1"/>
<circle cx="351.43" cy="421.5" r="1.1" fill="#1e1e1e"/>
<circle cx="354.38" cy="421.5" r="1.1" fill="#1e1e1e"/>
<circle cx="357.33" cy="421.5" r="1.1" fill="#1e1e1e"/>
<circle cx="360.28" cy="421.5" r="1.1" fill="#1e1e1e"/>
<line x1="382.6" y1="412" x2="396.4" y2="412" stroke="#1e1e1e" stroke-width="1.1"/>
<circle cx="385.07" cy="407.7" r="1.1" fill="#1e1e1e"/>
<circle cx="388.02" cy="407.7" r="1.1" fill="#1e1e1e"/>
<circle cx="390.98" cy="407.7" r="1.1" fill="#1e1e1e"/>
<circle cx="393.93" cy="407.7" r="1.1" fill="#1e1e1e"/>
<line x1="382.6" y1="425.8" x2="389.5" y2="425.8" stroke="#1e1e1e" stroke-width="1.1"/>
<circle cx="381.62" cy="421.5" r="1.1" fill="#1e1e1e"/>
<circle cx="384.57" cy="421.5" r="1.1" fill="#1e1e1e"/>
<circle cx="387.53" cy="421.5" r="1.1" fill="#1e1e1e"/>
<circle cx="390.48" cy="421.5" r="1.1" fill="#1e1e1e"/>
<text x="344.5" y="394.1" font-size="9.4" text-anchor="middle" textLength="50" lengthAdjust="spacingAndGlyphs">Cell Growth</text>
<text x="263.5" y="462.4" font-size="9" text-anchor="middle" font-weight="bold" textLength="69" lengthAdjust="spacingAndGlyphs" transform="rotate(-90 263.5 462.4)">Normalized to scramble</text>
<ellipse cx="411.3" cy="403.3" rx="2.83" ry="2.03" fill="#5aaac0" stroke="#124e62" stroke-width="0.9"/>
<text x="416.5" y="406.04" font-size="7.6" text-anchor="start">Scramble</text>
<ellipse cx="411.3" cy="414.6" rx="2.83" ry="2.03" fill="#8e1b2d" stroke="#5c0d1a" stroke-width="0.9"/>
<text x="416.5" y="417.34" font-size="7.6" text-anchor="start">MARCH5 sh#1</text>
<ellipse cx="411.3" cy="426.2" rx="2.83" ry="2.03" fill="#e8932e" stroke="#7a4a10" stroke-width="0.9"/>
<text x="416.5" y="428.94" font-size="7.6" text-anchor="start">MARCH5 sh#2</text>
<text x="6.8" y="575.6" font-size="10.8" text-anchor="start" font-weight="bold" style="stroke-width:0.35px">G</text>
<defs><radialGradient id="gblue"><stop offset="0" stop-color="#3a48b8" stop-opacity="0.75"/><stop offset="0.6" stop-color="#5a66c8" stop-opacity="0.35"/><stop offset="1" stop-color="#8890d8" stop-opacity="0"/></radialGradient><radialGradient id="ggreen"><stop offset="0" stop-color="#a0cc30" stop-opacity="1"/><stop offset="0.45" stop-color="#58b040" stop-opacity="0.95"/><stop offset="0.8" stop-color="#309080" stop-opacity="0.6"/><stop offset="1" stop-color="#3a60b0" stop-opacity="0"/></radialGradient><radialGradient id="ggreen2"><stop offset="0" stop-color="#50b050" stop-opacity="1"/><stop offset="0.6" stop-color="#30a080" stop-opacity="0.8"/><stop offset="1" stop-color="#3a70b0" stop-opacity="0"/></radialGradient><radialGradient id="gyel"><stop offset="0" stop-color="#e85a20" stop-opacity="1"/><stop offset="0.4" stop-color="#e8c830" stop-opacity="0.95"/><stop offset="1" stop-color="#60b848" stop-opacity="0"/></radialGradient><radialGradient id="gyel2"><stop offset="0" stop-color="#e0a020" stop-opacity="1"/><stop offset="0.5" stop-color="#d8c838" stop-opacity="0.9"/><stop offset="1" stop-color="#70b040" stop-opacity="0"/></radialGradient><radialGradient id="gpale"><stop offset="0" stop-color="#7078d0" stop-opacity="0.35"/><stop offset="1" stop-color="#a0a8e0" stop-opacity="0"/></radialGradient></defs>
<clipPath id="gc0"><rect x="53.1" y="583.3" width="69.5" height="71.9"/></clipPath>
<g clip-path="url(#gc0)">
<ellipse cx="80.5" cy="631" rx="14" ry="15" fill="url(#gpale)"/>
<ellipse cx="91" cy="608" rx="14" ry="6" fill="url(#gpale)"/>
<g fill="#3a46b0" fill-opacity="0.45"><circle cx="78.96" cy="634.58" r="0.45"/><circle cx="79.14" cy="628.79" r="0.45"/><circle cx="74.92" cy="629.51" r="0.45"/><circle cx="87.17" cy="633.97" r="0.45"/><circle cx="86.72" cy="632.74" r="0.45"/><circle cx="82.87" cy="632.3" r="0.45"/><circle cx="70.5" cy="636.99" r="0.45"/><circle cx="83.54" cy="634.49" r="0.45"/><circle cx="70.35" cy="618.79" r="0.45"/><circle cx="75.16" cy="627.72" r="0.45"/><circle cx="82.33" cy="630.68" r="0.45"/><circle cx="83.63" cy="626.5" r="0.45"/><circle cx="82.35" cy="633.76" r="0.45"/><circle cx="76.53" cy="643.02" r="0.45"/><circle cx="83.84" cy="639.38" r="0.45"/><circle cx="76.78" cy="625.82" r="0.45"/><circle cx="78.44" cy="630.26" r="0.45"/><circle cx="84.29" cy="632.74" r="0.45"/><circle cx="77.82" cy="624.3" r="0.45"/><circle cx="77.38" cy="639.55" r="0.45"/><circle cx="75.65" cy="632.71" r="0.45"/><circle cx="83.06" cy="620.57" r="0.45"/><circle cx="80.79" cy="640.14" r="0.45"/><circle cx="68.41" cy="628.75" r="0.45"/><circle cx="79.86" cy="625.28" r="0.45"/><circle cx="83.48" cy="630.56" r="0.45"/><circle cx="71.71" cy="636.79" r="0.45"/><circle cx="84.52" cy="637.62" r="0.45"/><circle cx="89.14" cy="633.54" r="0.45"/><circle cx="81.22" cy="621.91" r="0.45"/><circle cx="84.19" cy="626.72" r="0.45"/><circle cx="77.78" cy="622.15" r="0.45"/><circle cx="74.69" cy="627.28" r="0.45"/><circle cx="88.23" cy="616.78" r="0.45"/><circle cx="71.75" cy="632.68" r="0.45"/><circle cx="89.16" cy="635.05" r="0.45"/><circle cx="69.1" cy="613.37" r="0.45"/><circle cx="82.64" cy="625.85" r="0.45"/><circle cx="73.78" cy="637.84" r="0.45"/><circle cx="87.11" cy="632.1" r="0.45"/><circle cx="81.97" cy="634.04" r="0.45"/><circle cx="90.06" cy="635.33" r="0.45"/><circle cx="83.61" cy="634.83" r="0.45"/><circle cx="71.09" cy="639.97" r="0.45"/><circle cx="86.23" cy="634.71" r="0.45"/><circle cx="68.66" cy="626.56" r="0.45"/><circle cx="85.55" cy="618.32" r="0.45"/><circle cx="79.4" cy="638.14" r="0.45"/><circle cx="72.63" cy="642.27" r="0.45"/><circle cx="83.81" cy="629.95" r="0.45"/><circle cx="82.45" cy="635.55" r="0.45"/><circle cx="81.22" cy="639.02" r="0.45"/><circle cx="76.53" cy="628.1" r="0.45"/><circle cx="86.75" cy="631.19" r="0.45"/><circle cx="75.22" cy="637.63" r="0.45"/><circle cx="89.29" cy="627.89" r="0.45"/><circle cx="72.22" cy="630.06" r="0.45"/><circle cx="79.61" cy="628.91" r="0.45"/><circle cx="88.93" cy="623.81" r="0.45"/><circle cx="88.06" cy="622.12" r="0.45"/><circle cx="75.78" cy="635.42" r="0.45"/><circle cx="87.27" cy="637.01" r="0.45"/><circle cx="82.57" cy="632" r="0.45"/><circle cx="81.41" cy="635.03" r="0.45"/><circle cx="79.44" cy="632.94" r="0.45"/><circle cx="83.94" cy="631.01" r="0.45"/><circle cx="85.08" cy="634.96" r="0.45"/><circle cx="92.56" cy="633.27" r="0.45"/><circle cx="77.93" cy="628.39" r="0.45"/><circle cx="80.42" cy="637.47" r="0.45"/><circle cx="78.48" cy="633.7" r="0.45"/><circle cx="91.52" cy="613.05" r="0.45"/><circle cx="73.76" cy="632.71" r="0.45"/><circle cx="82.89" cy="632.67" r="0.45"/><circle cx="77.91" cy="635.59" r="0.45"/><circle cx="82.19" cy="627.35" r="0.45"/><circle cx="95.08" cy="633.49" r="0.45"/><circle cx="77.17" cy="630.3" r="0.45"/><circle cx="79.15" cy="630.56" r="0.45"/><circle cx="64.13" cy="627.59" r="0.45"/><circle cx="86.55" cy="622.82" r="0.45"/><circle cx="80.1" cy="637.67" r="0.45"/><circle cx="85.64" cy="641.44" r="0.45"/><circle cx="70.29" cy="628.53" r="0.45"/><circle cx="78.45" cy="635.36" r="0.45"/><circle cx="87.05" cy="612.22" r="0.45"/><circle cx="87.03" cy="620.87" r="0.45"/><circle cx="84.6" cy="620.56" r="0.45"/><circle cx="81.56" cy="639.36" r="0.45"/><circle cx="79.6" cy="632.34" r="0.45"/><circle cx="85.28" cy="631.99" r="0.45"/><circle cx="79.97" cy="641.73" r="0.45"/><circle cx="86.79" cy="628.94" r="0.45"/><circle cx="96.97" cy="622.97" r="0.45"/><circle cx="85.99" cy="629.14" r="0.45"/><circle cx="81.29" cy="635.94" r="0.45"/><circle cx="81.83" cy="635.47" r="0.45"/><circle cx="71.34" cy="620.43" r="0.45"/><circle cx="84.19" cy="624.26" r="0.45"/><circle cx="74.34" cy="620.71" r="0.45"/><circle cx="88.1" cy="636.23" r="0.45"/><circle cx="89.34" cy="624.44" r="0.45"/><circle cx="80.51" cy="623.02" r="0.45"/><circle cx="85.1" cy="642.13" r="0.45"/><circle cx="75.16" cy="641.92" r="0.45"/><circle cx="86.43" cy="629.76" r="0.45"/><circle cx="68.67" cy="640.85" r="0.45"/><circle cx="79.92" cy="626.78" r="0.45"/><circle cx="82.9" cy="633.87" r="0.45"/><circle cx="89.49" cy="623.86" r="0.45"/><circle cx="87.32" cy="641.41" r="0.45"/><circle cx="89.21" cy="629.74" r="0.45"/><circle cx="76.04" cy="638.13" r="0.45"/><circle cx="81.19" cy="631.87" r="0.45"/><circle cx="89.05" cy="629.16" r="0.45"/><circle cx="66.72" cy="628.29" r="0.45"/><circle cx="69.38" cy="636.73" r="0.45"/><circle cx="82.4" cy="626.72" r="0.45"/><circle cx="80.44" cy="636.83" r="0.45"/><circle cx="80.97" cy="640.29" r="0.45"/><circle cx="80.13" cy="638.28" r="0.45"/><circle cx="89.45" cy="642.27" r="0.45"/><circle cx="76.47" cy="637.16" r="0.45"/><circle cx="69.24" cy="623.42" r="0.45"/><circle cx="68.72" cy="638.48" r="0.45"/><circle cx="73.11" cy="630.91" r="0.45"/><circle cx="79.35" cy="630.8" r="0.45"/><circle cx="76.95" cy="632.64" r="0.45"/><circle cx="91.25" cy="631.31" r="0.45"/><circle cx="83.69" cy="638" r="0.45"/><circle cx="79.31" cy="622.18" r="0.45"/><circle cx="77.17" cy="638.52" r="0.45"/><circle cx="70.62" cy="626.82" r="0.45"/><circle cx="86.54" cy="636.55" r="0.45"/><circle cx="80.55" cy="636.64" r="0.45"/><circle cx="81.5" cy="622.75" r="0.45"/><circle cx="71.12" cy="626.53" r="0.45"/><circle cx="86.04" cy="627.04" r="0.45"/><circle cx="75.09" cy="625.6" r="0.45"/><circle cx="71.31" cy="630.18" r="0.45"/><circle cx="73.42" cy="633.55" r="0.45"/><circle cx="66.34" cy="633.29" r="0.45"/><circle cx="76.65" cy="617.4" r="0.45"/><circle cx="84.85" cy="629.07" r="0.45"/><circle cx="67.12" cy="624.87" r="0.45"/><circle cx="82.25" cy="627.79" r="0.45"/><circle cx="85.18" cy="636.23" r="0.45"/><circle cx="84.5" cy="633.29" r="0.45"/><circle cx="88.5" cy="635.62" r="0.45"/><circle cx="83.21" cy="616.41" r="0.45"/><circle cx="85.88" cy="640.17" r="0.45"/><circle cx="78.72" cy="627.71" r="0.45"/><circle cx="92.14" cy="618.69" r="0.45"/><circle cx="83.31" cy="647.97" r="0.45"/><circle cx="74.93" cy="635.83" r="0.45"/><circle cx="91.82" cy="630.16" r="0.45"/><circle cx="83.87" cy="637.32" r="0.45"/><circle cx="75.07" cy="630.38" r="0.45"/><circle cx="82.26" cy="636.78" r="0.45"/><circle cx="80.29" cy="629.63" r="0.45"/><circle cx="74.4" cy="628.49" r="0.45"/><circle cx="85.85" cy="631.71" r="0.45"/><circle cx="75.38" cy="625.11" r="0.45"/><circle cx="96.5" cy="638.98" r="0.45"/><circle cx="84.32" cy="612.85" r="0.45"/><circle cx="84.23" cy="634.36" r="0.45"/><circle cx="90.6" cy="633.99" r="0.45"/><circle cx="80.1" cy="634.66" r="0.45"/><circle cx="68.83" cy="638.23" r="0.45"/><circle cx="82.45" cy="626.09" r="0.45"/><circle cx="88.45" cy="643.67" r="0.45"/><circle cx="72.09" cy="626.34" r="0.45"/><circle cx="82.25" cy="632.28" r="0.45"/><circle cx="78.11" cy="624.18" r="0.45"/><circle cx="93.22" cy="638.26" r="0.45"/><circle cx="73.33" cy="621.58" r="0.45"/><circle cx="90.72" cy="637.92" r="0.45"/><circle cx="91.43" cy="636.67" r="0.45"/><circle cx="75.27" cy="632.82" r="0.45"/><circle cx="67.54" cy="625.76" r="0.45"/><circle cx="80.15" cy="634.66" r="0.45"/><circle cx="76.13" cy="630.13" r="0.45"/><circle cx="83.25" cy="633.64" r="0.45"/><circle cx="84.33" cy="632.46" r="0.45"/><circle cx="78.56" cy="636.52" r="0.45"/><circle cx="80.8" cy="625.22" r="0.45"/><circle cx="76.74" cy="631" r="0.45"/><circle cx="79.84" cy="632.1" r="0.45"/><circle cx="80.5" cy="632.23" r="0.45"/><circle cx="79.69" cy="622.19" r="0.45"/><circle cx="83.03" cy="638.38" r="0.45"/><circle cx="83.11" cy="629.68" r="0.45"/><circle cx="83.18" cy="624.24" r="0.45"/><circle cx="69.12" cy="631.42" r="0.45"/><circle cx="74.92" cy="636.18" r="0.45"/><circle cx="74" cy="612.6" r="0.45"/><circle cx="74.26" cy="642.05" r="0.45"/><circle cx="78.21" cy="621.41" r="0.45"/><circle cx="75.92" cy="634.65" r="0.45"/><circle cx="83.48" cy="632.24" r="0.45"/><circle cx="89.4" cy="635.95" r="0.45"/><circle cx="80.37" cy="635.18" r="0.45"/><circle cx="90.43" cy="637.8" r="0.45"/><circle cx="86.64" cy="623.42" r="0.45"/><circle cx="79.61" cy="636.11" r="0.45"/><circle cx="78.72" cy="638.48" r="0.45"/><circle cx="84.08" cy="637.36" r="0.45"/><circle cx="79.23" cy="648.82" r="0.45"/><circle cx="87.94" cy="629.49" r="0.45"/><circle cx="81.04" cy="649.17" r="0.45"/><circle cx="78.44" cy="637.12" r="0.45"/><circle cx="86.38" cy="631.05" r="0.45"/><circle cx="73.5" cy="632.31" r="0.45"/><circle cx="82.66" cy="638.91" r="0.45"/><circle cx="85.2" cy="631.17" r="0.45"/><circle cx="85.62" cy="634.78" r="0.45"/><circle cx="81.74" cy="631.39" r="0.45"/><circle cx="79.04" cy="635.8" r="0.45"/><circle cx="74.17" cy="626.6" r="0.45"/><circle cx="80.53" cy="620.75" r="0.45"/><circle cx="77.88" cy="616.94" r="0.45"/><circle cx="76.4" cy="634.98" r="0.45"/><circle cx="83.9" cy="630.62" r="0.45"/><circle cx="79.11" cy="621.08" r="0.45"/><circle cx="91.47" cy="634.61" r="0.45"/><circle cx="87.06" cy="624.82" r="0.45"/><circle cx="79.39" cy="618.26" r="0.45"/><circle cx="85.18" cy="637.55" r="0.45"/><circle cx="69.12" cy="630.64" r="0.45"/><circle cx="84.28" cy="618.67" r="0.45"/><circle cx="69.55" cy="623.54" r="0.45"/><circle cx="76.72" cy="621.18" r="0.45"/><circle cx="80.69" cy="632.75" r="0.45"/><circle cx="84.3" cy="635.91" r="0.45"/><circle cx="89.52" cy="639.15" r="0.45"/><circle cx="72.63" cy="627.46" r="0.45"/><circle cx="74.14" cy="623.46" r="0.45"/><circle cx="80.01" cy="631.04" r="0.45"/><circle cx="83.44" cy="619.89" r="0.45"/><circle cx="73.07" cy="630.84" r="0.45"/><circle cx="79.3" cy="628.82" r="0.45"/><circle cx="80.12" cy="625.68" r="0.45"/><circle cx="84.71" cy="633.48" r="0.45"/><circle cx="79.97" cy="626.3" r="0.45"/><circle cx="79.45" cy="611.95" r="0.45"/><circle cx="74.61" cy="631.26" r="0.45"/><circle cx="71.48" cy="632.4" r="0.45"/><circle cx="81.38" cy="621.36" r="0.45"/><circle cx="79" cy="628.8" r="0.45"/><circle cx="83.26" cy="635.28" r="0.45"/><circle cx="80.28" cy="625.04" r="0.45"/><circle cx="79.63" cy="630.54" r="0.45"/><circle cx="84.91" cy="633.06" r="0.45"/><circle cx="76.16" cy="621.52" r="0.45"/><circle cx="78.26" cy="625.82" r="0.45"/><circle cx="73.83" cy="630.19" r="0.45"/><circle cx="77.55" cy="631.74" r="0.45"/><circle cx="83.64" cy="628.11" r="0.45"/><circle cx="94.45" cy="628.75" r="0.45"/><circle cx="87.11" cy="631.85" r="0.45"/><circle cx="87.2" cy="614.37" r="0.45"/><circle cx="75.99" cy="632.73" r="0.45"/><circle cx="84.11" cy="647.36" r="0.45"/><circle cx="82.44" cy="639.96" r="0.45"/><circle cx="85.1" cy="637.63" r="0.45"/><circle cx="83.56" cy="629.91" r="0.45"/><circle cx="83.55" cy="623.45" r="0.45"/><circle cx="87.59" cy="623.88" r="0.45"/><circle cx="82" cy="645.85" r="0.45"/><circle cx="79.16" cy="631.14" r="0.45"/><circle cx="87.48" cy="631.18" r="0.45"/><circle cx="75.65" cy="632.81" r="0.45"/><circle cx="83.99" cy="635.97" r="0.45"/><circle cx="75.86" cy="643.27" r="0.45"/><circle cx="90.5" cy="631.13" r="0.45"/><circle cx="82.11" cy="628" r="0.45"/><circle cx="88.98" cy="626.07" r="0.45"/><circle cx="84.54" cy="627.64" r="0.45"/><circle cx="76.34" cy="636.03" r="0.45"/><circle cx="88.5" cy="630.93" r="0.45"/><circle cx="76.44" cy="636.68" r="0.45"/><circle cx="80.2" cy="633.17" r="0.45"/><circle cx="89.64" cy="638.92" r="0.45"/><circle cx="77.38" cy="646.99" r="0.45"/><circle cx="80.52" cy="636.5" r="0.45"/><circle cx="76.62" cy="630.69" r="0.45"/><circle cx="70" cy="643.51" r="0.45"/><circle cx="88.69" cy="622.49" r="0.45"/><circle cx="71.47" cy="619.65" r="0.45"/><circle cx="87.55" cy="627.78" r="0.45"/><circle cx="80.14" cy="628.81" r="0.45"/><circle cx="79.77" cy="623.38" r="0.45"/><circle cx="80.64" cy="620.93" r="0.45"/><circle cx="80.07" cy="633.16" r="0.45"/><circle cx="83.31" cy="629.38" r="0.45"/><circle cx="75.08" cy="632.12" r="0.45"/><circle cx="77.59" cy="641.96" r="0.45"/><circle cx="85.11" cy="630.19" r="0.45"/><circle cx="77.67" cy="626.08" r="0.45"/><circle cx="74.88" cy="628.53" r="0.45"/><circle cx="82.27" cy="634.61" r="0.45"/><circle cx="83.91" cy="645.69" r="0.45"/><circle cx="76.27" cy="631.09" r="0.45"/><circle cx="97.27" cy="617.93" r="0.45"/><circle cx="77.37" cy="632.19" r="0.45"/><circle cx="81.43" cy="633.86" r="0.45"/><circle cx="79.07" cy="633.56" r="0.45"/><circle cx="80.82" cy="636.4" r="0.45"/><circle cx="69.14" cy="624.8" r="0.45"/><circle cx="80.49" cy="623.78" r="0.45"/><circle cx="74.23" cy="635.39" r="0.45"/><circle cx="76.6" cy="635.44" r="0.45"/><circle cx="84.97" cy="633.15" r="0.45"/><circle cx="83.55" cy="630.27" r="0.45"/><circle cx="72.05" cy="630.79" r="0.45"/><circle cx="83.23" cy="627.29" r="0.45"/><circle cx="79.9" cy="636.24" r="0.45"/><circle cx="75.23" cy="635.48" r="0.45"/><circle cx="91.68" cy="627.12" r="0.45"/><circle cx="81.38" cy="629.95" r="0.45"/><circle cx="89.74" cy="633.21" r="0.45"/><circle cx="85.89" cy="626.17" r="0.45"/><circle cx="80.4" cy="630.93" r="0.45"/><circle cx="69.84" cy="641.09" r="0.45"/><circle cx="85.9" cy="618.76" r="0.45"/><circle cx="84.97" cy="630.08" r="0.45"/><circle cx="83.19" cy="633.57" r="0.45"/><circle cx="71.51" cy="629.52" r="0.45"/><circle cx="89.46" cy="626.98" r="0.45"/><circle cx="74.36" cy="621.48" r="0.45"/><circle cx="73.17" cy="633.35" r="0.45"/><circle cx="90.66" cy="634.01" r="0.45"/><circle cx="81.97" cy="646.64" r="0.45"/><circle cx="77.38" cy="626.28" r="0.45"/><circle cx="83.67" cy="634.84" r="0.45"/><circle cx="74.41" cy="622.81" r="0.45"/><circle cx="82.25" cy="632.73" r="0.45"/><circle cx="72.66" cy="629.58" r="0.45"/><circle cx="77.24" cy="634.22" r="0.45"/><circle cx="79.8" cy="630.4" r="0.45"/><circle cx="78.38" cy="638.37" r="0.45"/><circle cx="88.84" cy="628.43" r="0.45"/><circle cx="85.58" cy="625.7" r="0.45"/><circle cx="80.93" cy="636.25" r="0.45"/><circle cx="89.59" cy="628.32" r="0.45"/><circle cx="80.06" cy="632.37" r="0.45"/><circle cx="71.51" cy="631.11" r="0.45"/><circle cx="76.44" cy="633.6" r="0.45"/><circle cx="73.72" cy="617.16" r="0.45"/><circle cx="80.73" cy="632.82" r="0.45"/><circle cx="77.21" cy="637.22" r="0.45"/><circle cx="78.86" cy="626.76" r="0.45"/><circle cx="83.37" cy="620.02" r="0.45"/><circle cx="76.44" cy="630.85" r="0.45"/><circle cx="85.59" cy="629.86" r="0.45"/><circle cx="82.35" cy="626.41" r="0.45"/><circle cx="82.31" cy="642.64" r="0.45"/><circle cx="76.38" cy="647.56" r="0.45"/><circle cx="76.64" cy="631.12" r="0.45"/><circle cx="81.54" cy="638.17" r="0.45"/><circle cx="73.08" cy="616.3" r="0.45"/><circle cx="84.14" cy="636.57" r="0.45"/><circle cx="84.24" cy="649.41" r="0.45"/><circle cx="81.73" cy="632.78" r="0.45"/><circle cx="86.08" cy="633.58" r="0.45"/><circle cx="90.48" cy="622.33" r="0.45"/><circle cx="78.25" cy="606.89" r="0.45"/><circle cx="85.37" cy="628.39" r="0.45"/><circle cx="86.04" cy="646.08" r="0.45"/><circle cx="80.46" cy="629.22" r="0.45"/><circle cx="77.5" cy="625.13" r="0.45"/><circle cx="76.72" cy="635.47" r="0.45"/><circle cx="80.72" cy="631.46" r="0.45"/><circle cx="79.46" cy="637.4" r="0.45"/><circle cx="83.46" cy="630.01" r="0.45"/><circle cx="84.49" cy="629.94" r="0.45"/><circle cx="73.58" cy="641.19" r="0.45"/><circle cx="83.29" cy="624.3" r="0.45"/><circle cx="86.97" cy="633.41" r="0.45"/><circle cx="71.11" cy="642.27" r="0.45"/><circle cx="82.5" cy="637.24" r="0.45"/><circle cx="81.69" cy="629.95" r="0.45"/><circle cx="71.21" cy="637.8" r="0.45"/><circle cx="80.68" cy="628.99" r="0.45"/><circle cx="82.61" cy="631.55" r="0.45"/><circle cx="84.55" cy="628.4" r="0.45"/><circle cx="80.28" cy="616.03" r="0.45"/><circle cx="77.96" cy="635.73" r="0.45"/><circle cx="88.52" cy="628.45" r="0.45"/><circle cx="79.77" cy="642.08" r="0.45"/><circle cx="78.55" cy="636.14" r="0.45"/><circle cx="90.57" cy="631.28" r="0.45"/><circle cx="87.86" cy="626.03" r="0.45"/><circle cx="81.75" cy="630.46" r="0.45"/><circle cx="81.19" cy="638.91" r="0.45"/><circle cx="94.84" cy="626.34" r="0.45"/><circle cx="77.05" cy="634.48" r="0.45"/><circle cx="74.17" cy="634.48" r="0.45"/><circle cx="83.93" cy="629.06" r="0.45"/><circle cx="83.69" cy="620.15" r="0.45"/><circle cx="85.06" cy="620.19" r="0.45"/><circle cx="76.32" cy="627.11" r="0.45"/><circle cx="78.09" cy="637.01" r="0.45"/><circle cx="80.99" cy="628.22" r="0.45"/><circle cx="83.76" cy="642.07" r="0.45"/><circle cx="80.54" cy="633.56" r="0.45"/><circle cx="87.94" cy="632.87" r="0.45"/><circle cx="72.8" cy="648.43" r="0.45"/><circle cx="93.75" cy="617.11" r="0.45"/><circle cx="80.27" cy="633.92" r="0.45"/><circle cx="86.29" cy="635.68" r="0.45"/><circle cx="78.87" cy="623.62" r="0.45"/><circle cx="81.12" cy="638.23" r="0.45"/><circle cx="73.96" cy="623.81" r="0.45"/><circle cx="80.35" cy="617.44" r="0.45"/><circle cx="78.94" cy="627.94" r="0.45"/><circle cx="83.2" cy="626.09" r="0.45"/><circle cx="75.21" cy="628.24" r="0.45"/><circle cx="80.2" cy="626.35" r="0.45"/><circle cx="80.57" cy="636.25" r="0.45"/><circle cx="87.61" cy="642.93" r="0.45"/><circle cx="75.8" cy="628.06" r="0.45"/><circle cx="65.6" cy="644.3" r="0.45"/><circle cx="76.15" cy="630.77" r="0.45"/><circle cx="83.64" cy="621.49" r="0.45"/><circle cx="83.28" cy="630.82" r="0.45"/><circle cx="69.54" cy="633.04" r="0.45"/><circle cx="87.67" cy="617.93" r="0.45"/><circle cx="85.34" cy="632.46" r="0.45"/><circle cx="83.35" cy="634.09" r="0.45"/><circle cx="88.32" cy="629.43" r="0.45"/><circle cx="85.74" cy="628.13" r="0.45"/><circle cx="84.87" cy="625.3" r="0.45"/><circle cx="79.85" cy="643.12" r="0.45"/><circle cx="83.17" cy="629.89" r="0.45"/><circle cx="73.63" cy="625.47" r="0.45"/><circle cx="81.66" cy="637.58" r="0.45"/><circle cx="83.06" cy="634.67" r="0.45"/><circle cx="80.25" cy="640.46" r="0.45"/><circle cx="78.16" cy="627.15" r="0.45"/><circle cx="85.83" cy="631.45" r="0.45"/><circle cx="78.83" cy="626.97" r="0.45"/><circle cx="78.96" cy="635.36" r="0.45"/><circle cx="82.62" cy="622.53" r="0.45"/><circle cx="83.06" cy="632.25" r="0.45"/><circle cx="74.5" cy="636.41" r="0.45"/><circle cx="78.82" cy="628.65" r="0.45"/><circle cx="85.27" cy="640.24" r="0.45"/><circle cx="76.37" cy="634.07" r="0.45"/><circle cx="75.24" cy="647.2" r="0.45"/><circle cx="77.54" cy="639.36" r="0.45"/><circle cx="76.62" cy="636.68" r="0.45"/><circle cx="93.81" cy="613.21" r="0.45"/><circle cx="77.89" cy="634.5" r="0.45"/><circle cx="79.94" cy="626.32" r="0.45"/><circle cx="93.41" cy="631.56" r="0.45"/><circle cx="70.63" cy="636.98" r="0.45"/><circle cx="70.17" cy="639.06" r="0.45"/><circle cx="77.03" cy="632.01" r="0.45"/><circle cx="88.07" cy="631.83" r="0.45"/><circle cx="72.15" cy="619.13" r="0.45"/><circle cx="87.6" cy="636.18" r="0.45"/><circle cx="75.61" cy="637.02" r="0.45"/><circle cx="83.48" cy="635.53" r="0.45"/><circle cx="66.95" cy="628.89" r="0.45"/><circle cx="85.9" cy="636.13" r="0.45"/><circle cx="85.79" cy="613.8" r="0.45"/><circle cx="81.51" cy="634.45" r="0.45"/><circle cx="95.81" cy="624.32" r="0.45"/><circle cx="78.52" cy="631.25" r="0.45"/><circle cx="85.82" cy="627.9" r="0.45"/><circle cx="87.38" cy="625.48" r="0.45"/><circle cx="82.1" cy="627.31" r="0.45"/><circle cx="81.45" cy="626.16" r="0.45"/><circle cx="70.92" cy="638.65" r="0.45"/><circle cx="82.32" cy="627.09" r="0.45"/><circle cx="81.71" cy="637.93" r="0.45"/><circle cx="74.64" cy="630.23" r="0.45"/><circle cx="83.73" cy="634.68" r="0.45"/><circle cx="78.49" cy="616.25" r="0.45"/><circle cx="87.96" cy="633.3" r="0.45"/><circle cx="80.58" cy="629.05" r="0.45"/><circle cx="82.08" cy="628.02" r="0.45"/><circle cx="74.35" cy="625.82" r="0.45"/><circle cx="76.92" cy="626.71" r="0.45"/><circle cx="73.55" cy="635.45" r="0.45"/><circle cx="72.64" cy="635.62" r="0.45"/><circle cx="74.41" cy="633.47" r="0.45"/><circle cx="88.74" cy="632.42" r="0.45"/><circle cx="76.12" cy="631.34" r="0.45"/><circle cx="81.39" cy="618.86" r="0.45"/><circle cx="76.85" cy="632.14" r="0.45"/><circle cx="77.68" cy="631.56" r="0.45"/><circle cx="84.9" cy="636.37" r="0.45"/><circle cx="85.93" cy="635.12" r="0.45"/><circle cx="78.77" cy="630.87" r="0.45"/><circle cx="78.87" cy="628.81" r="0.45"/><circle cx="79.42" cy="618.93" r="0.45"/><circle cx="78.5" cy="630.83" r="0.45"/><circle cx="74.66" cy="630.83" r="0.45"/><circle cx="83.59" cy="629.85" r="0.45"/><circle cx="92.96" cy="612.75" r="0.45"/><circle cx="79.26" cy="618.22" r="0.45"/><circle cx="86.38" cy="649.58" r="0.45"/><circle cx="65.49" cy="631.9" r="0.45"/><circle cx="83.61" cy="628.88" r="0.45"/><circle cx="83.81" cy="615.3" r="0.45"/><circle cx="85.61" cy="633.6" r="0.45"/><circle cx="80.64" cy="626.89" r="0.45"/><circle cx="84.33" cy="627.6" r="0.45"/><circle cx="81.84" cy="627.43" r="0.45"/><circle cx="67.02" cy="630.78" r="0.45"/><circle cx="81.71" cy="636.28" r="0.45"/><circle cx="75.24" cy="630.77" r="0.45"/><circle cx="84.2" cy="632.02" r="0.45"/><circle cx="87.95" cy="644.94" r="0.45"/><circle cx="75.05" cy="617.55" r="0.45"/><circle cx="85.64" cy="641.71" r="0.45"/><circle cx="86.03" cy="636.7" r="0.45"/><circle cx="76.79" cy="626.01" r="0.45"/><circle cx="85.83" cy="624.62" r="0.45"/><circle cx="69.62" cy="624.02" r="0.45"/><circle cx="95.45" cy="644.46" r="0.45"/><circle cx="76.38" cy="625.9" r="0.45"/><circle cx="81.89" cy="625.75" r="0.45"/><circle cx="88.36" cy="630.45" r="0.45"/><circle cx="73.98" cy="640.16" r="0.45"/><circle cx="77" cy="632.55" r="0.45"/><circle cx="80.42" cy="628.8" r="0.45"/><circle cx="82.45" cy="626.15" r="0.45"/><circle cx="69.43" cy="615.54" r="0.45"/><circle cx="72.9" cy="625.69" r="0.45"/><circle cx="80.36" cy="631.39" r="0.45"/><circle cx="83.84" cy="631.84" r="0.45"/><circle cx="75.74" cy="626.04" r="0.45"/><circle cx="67.79" cy="629.82" r="0.45"/><circle cx="83.41" cy="634.71" r="0.45"/><circle cx="79.77" cy="629.78" r="0.45"/><circle cx="86.12" cy="631.11" r="0.45"/><circle cx="84.93" cy="635.08" r="0.45"/><circle cx="81.78" cy="640.14" r="0.45"/><circle cx="77.06" cy="628.49" r="0.45"/><circle cx="75.65" cy="625.42" r="0.45"/><circle cx="89.84" cy="643.32" r="0.45"/><circle cx="80.64" cy="634.98" r="0.45"/><circle cx="87.55" cy="636.65" r="0.45"/><circle cx="87.73" cy="622.16" r="0.45"/><circle cx="76.66" cy="634.17" r="0.45"/><circle cx="89.11" cy="631.73" r="0.45"/><circle cx="75.35" cy="628.52" r="0.45"/><circle cx="76.54" cy="624.99" r="0.45"/><circle cx="89.51" cy="626.62" r="0.45"/><circle cx="80.62" cy="646.14" r="0.45"/><circle cx="87.61" cy="633.35" r="0.45"/><circle cx="76.83" cy="633.87" r="0.45"/><circle cx="90.23" cy="635.36" r="0.45"/><circle cx="88.07" cy="631.69" r="0.45"/><circle cx="83.6" cy="629.59" r="0.45"/><circle cx="83.06" cy="640.1" r="0.45"/><circle cx="71.91" cy="630.56" r="0.45"/><circle cx="81.94" cy="627" r="0.45"/><circle cx="78.65" cy="636.51" r="0.45"/><circle cx="92.51" cy="635.41" r="0.45"/><circle cx="82.46" cy="620.14" r="0.45"/><circle cx="92.07" cy="631.54" r="0.45"/><circle cx="80.3" cy="623.17" r="0.45"/><circle cx="80.16" cy="623.33" r="0.45"/><circle cx="80.93" cy="634.26" r="0.45"/><circle cx="80.69" cy="632.96" r="0.45"/><circle cx="75.39" cy="641.01" r="0.45"/><circle cx="76.58" cy="618.27" r="0.45"/><circle cx="79.37" cy="625.65" r="0.45"/><circle cx="74.44" cy="628.52" r="0.45"/><circle cx="82.25" cy="622.73" r="0.45"/><circle cx="79.67" cy="640.99" r="0.45"/><circle cx="84.6" cy="629.94" r="0.45"/><circle cx="81.27" cy="630.16" r="0.45"/><circle cx="80.21" cy="636.13" r="0.45"/><circle cx="79.94" cy="614.17" r="0.45"/><circle cx="80.37" cy="624.77" r="0.45"/><circle cx="84.41" cy="626.73" r="0.45"/><circle cx="81.39" cy="646.24" r="0.45"/><circle cx="74.22" cy="623.13" r="0.45"/><circle cx="72.03" cy="614.24" r="0.45"/><circle cx="69.23" cy="633.55" r="0.45"/><circle cx="76.67" cy="617.92" r="0.45"/><circle cx="71.6" cy="635.32" r="0.45"/><circle cx="75.85" cy="628.43" r="0.45"/><circle cx="82.48" cy="640.49" r="0.45"/><circle cx="92.15" cy="638.23" r="0.45"/><circle cx="81.36" cy="632.29" r="0.45"/><circle cx="91.31" cy="641" r="0.45"/><circle cx="78.64" cy="634.2" r="0.45"/><circle cx="82.22" cy="631.37" r="0.45"/><circle cx="77.5" cy="621.71" r="0.45"/><circle cx="77.3" cy="620.19" r="0.45"/><circle cx="87.84" cy="634.76" r="0.45"/><circle cx="73.26" cy="640.77" r="0.45"/><circle cx="85.85" cy="617.64" r="0.45"/><circle cx="91.55" cy="636.67" r="0.45"/><circle cx="92.89" cy="622.38" r="0.45"/><circle cx="83.68" cy="633.96" r="0.45"/><circle cx="81.71" cy="632.2" r="0.45"/><circle cx="86.82" cy="620.54" r="0.45"/><circle cx="73.05" cy="621.24" r="0.45"/><circle cx="77.15" cy="626.76" r="0.45"/><circle cx="82.7" cy="632.87" r="0.45"/><circle cx="80.69" cy="626.26" r="0.45"/><circle cx="77.85" cy="637.67" r="0.45"/><circle cx="85.08" cy="631.71" r="0.45"/><circle cx="78.56" cy="641.87" r="0.45"/><circle cx="76.94" cy="635.54" r="0.45"/><circle cx="87.42" cy="629.14" r="0.45"/><circle cx="85.45" cy="623.19" r="0.45"/><circle cx="86.58" cy="632.4" r="0.45"/><circle cx="70.98" cy="635.69" r="0.45"/><circle cx="75.15" cy="639.97" r="0.45"/><circle cx="76.43" cy="629.85" r="0.45"/><circle cx="82.2" cy="628.67" r="0.45"/><circle cx="82.06" cy="627.13" r="0.45"/><circle cx="84.53" cy="631.04" r="0.45"/><circle cx="81.77" cy="611.73" r="0.45"/><circle cx="87.47" cy="631.22" r="0.45"/><circle cx="69.8" cy="631.67" r="0.45"/><circle cx="83.3" cy="638.5" r="0.45"/><circle cx="74" cy="641.83" r="0.45"/><circle cx="79.54" cy="647.76" r="0.45"/><circle cx="79.62" cy="635.76" r="0.45"/><circle cx="78.3" cy="623.19" r="0.45"/><circle cx="87.08" cy="637.34" r="0.45"/><circle cx="89.73" cy="637" r="0.45"/><circle cx="77.06" cy="619.36" r="0.45"/><circle cx="76.6" cy="626.27" r="0.45"/><circle cx="75.61" cy="635.08" r="0.45"/><circle cx="82.47" cy="629.11" r="0.45"/><circle cx="81.54" cy="629.98" r="0.45"/><circle cx="81.78" cy="636.26" r="0.45"/><circle cx="86.26" cy="626.2" r="0.45"/><circle cx="71.46" cy="640.99" r="0.45"/><circle cx="81.19" cy="638.74" r="0.45"/><circle cx="70.64" cy="628.69" r="0.45"/><circle cx="80.66" cy="620.91" r="0.45"/><circle cx="77.4" cy="636.07" r="0.45"/><circle cx="86.97" cy="642.16" r="0.45"/><circle cx="75.32" cy="621.19" r="0.45"/><circle cx="83.62" cy="637.58" r="0.45"/><circle cx="81.66" cy="621.89" r="0.45"/><circle cx="85.19" cy="636.55" r="0.45"/><circle cx="83.82" cy="627.59" r="0.45"/><circle cx="82.32" cy="636.53" r="0.45"/><circle cx="77.15" cy="618.09" r="0.45"/><circle cx="82.47" cy="634.37" r="0.45"/><circle cx="80.58" cy="637.22" r="0.45"/><circle cx="76.98" cy="630.42" r="0.45"/><circle cx="78.67" cy="635" r="0.45"/><circle cx="90.07" cy="629.24" r="0.45"/><circle cx="92.83" cy="641.7" r="0.45"/><circle cx="85.24" cy="635.11" r="0.45"/><circle cx="91.12" cy="629.74" r="0.45"/><circle cx="79.83" cy="623.56" r="0.45"/><circle cx="83.34" cy="640.41" r="0.45"/><circle cx="83.69" cy="633.96" r="0.45"/><circle cx="79.3" cy="632.19" r="0.45"/><circle cx="71.95" cy="638.34" r="0.45"/><circle cx="78.04" cy="623.27" r="0.45"/><circle cx="75.99" cy="625.23" r="0.45"/><circle cx="85.63" cy="638.41" r="0.45"/><circle cx="72.35" cy="637.48" r="0.45"/><circle cx="85.83" cy="626.94" r="0.45"/><circle cx="71.58" cy="625.78" r="0.45"/><circle cx="76.7" cy="633.4" r="0.45"/><circle cx="78.35" cy="616.8" r="0.45"/><circle cx="81.9" cy="620.26" r="0.45"/><circle cx="85.93" cy="622.55" r="0.45"/><circle cx="76.34" cy="625.02" r="0.45"/><circle cx="77.24" cy="640.09" r="0.45"/><circle cx="85.61" cy="635.21" r="0.45"/><circle cx="82.42" cy="620.17" r="0.45"/><circle cx="77.38" cy="627.14" r="0.45"/><circle cx="74.64" cy="634.56" r="0.45"/><circle cx="76.05" cy="626.03" r="0.45"/><circle cx="74.23" cy="616.6" r="0.45"/><circle cx="84.07" cy="640.32" r="0.45"/><circle cx="81.55" cy="624.16" r="0.45"/><circle cx="64.27" cy="632.21" r="0.45"/><circle cx="87.8" cy="633.08" r="0.45"/><circle cx="86.06" cy="641.35" r="0.45"/><circle cx="87.26" cy="627.91" r="0.45"/><circle cx="86.81" cy="636.43" r="0.45"/><circle cx="71.28" cy="628.16" r="0.45"/><circle cx="71.96" cy="630.24" r="0.45"/><circle cx="83.97" cy="623.52" r="0.45"/><circle cx="68.17" cy="640.09" r="0.45"/><circle cx="82.76" cy="641.3" r="0.45"/><circle cx="72.56" cy="638.42" r="0.45"/><circle cx="92.94" cy="645.05" r="0.45"/><circle cx="79.24" cy="632.88" r="0.45"/><circle cx="79.58" cy="637.99" r="0.45"/><circle cx="86.73" cy="631.61" r="0.45"/><circle cx="72.35" cy="636.19" r="0.45"/></g>
<g fill="#2a3aa0" fill-opacity="0.5"><circle cx="78.86" cy="631.2" r="0.45"/><circle cx="81.42" cy="634.68" r="0.45"/><circle cx="84.48" cy="627.42" r="0.45"/><circle cx="81.72" cy="635.17" r="0.45"/><circle cx="78.62" cy="630.52" r="0.45"/><circle cx="84.67" cy="633.4" r="0.45"/><circle cx="82.32" cy="624.38" r="0.45"/><circle cx="76.09" cy="629.87" r="0.45"/><circle cx="81.86" cy="637.92" r="0.45"/><circle cx="77.49" cy="632.98" r="0.45"/><circle cx="83.2" cy="623.15" r="0.45"/><circle cx="77.64" cy="629.58" r="0.45"/><circle cx="78.77" cy="628.46" r="0.45"/><circle cx="82.15" cy="626.17" r="0.45"/><circle cx="82.13" cy="626.77" r="0.45"/><circle cx="78.59" cy="630.88" r="0.45"/><circle cx="78.49" cy="630.01" r="0.45"/><circle cx="86.1" cy="629.09" r="0.45"/><circle cx="79.99" cy="631.57" r="0.45"/><circle cx="79.22" cy="632.79" r="0.45"/><circle cx="76.01" cy="631.16" r="0.45"/><circle cx="78.71" cy="626.2" r="0.45"/><circle cx="86.69" cy="626.02" r="0.45"/><circle cx="86.65" cy="631.3" r="0.45"/><circle cx="85.59" cy="625.58" r="0.45"/><circle cx="84.7" cy="634.1" r="0.45"/><circle cx="80.09" cy="628.55" r="0.45"/><circle cx="89.1" cy="629.62" r="0.45"/><circle cx="79.02" cy="626.8" r="0.45"/><circle cx="82.06" cy="630.16" r="0.45"/><circle cx="81.12" cy="635.03" r="0.45"/><circle cx="79.35" cy="630.66" r="0.45"/><circle cx="85.61" cy="625.49" r="0.45"/><circle cx="84.14" cy="635.41" r="0.45"/><circle cx="75.76" cy="625.16" r="0.45"/><circle cx="76.87" cy="622.54" r="0.45"/><circle cx="82.08" cy="622.5" r="0.45"/><circle cx="82.25" cy="634.09" r="0.45"/><circle cx="74.85" cy="627.89" r="0.45"/><circle cx="73.79" cy="631.73" r="0.45"/><circle cx="77.92" cy="628.07" r="0.45"/><circle cx="80.69" cy="630.91" r="0.45"/><circle cx="79.29" cy="629.05" r="0.45"/><circle cx="78.59" cy="629.4" r="0.45"/><circle cx="76.4" cy="629.22" r="0.45"/><circle cx="73.74" cy="627.28" r="0.45"/><circle cx="87.2" cy="629.28" r="0.45"/><circle cx="76.09" cy="629.9" r="0.45"/><circle cx="77.1" cy="623.22" r="0.45"/><circle cx="77.92" cy="631.58" r="0.45"/><circle cx="81.84" cy="628.66" r="0.45"/><circle cx="77.26" cy="625.22" r="0.45"/><circle cx="85.22" cy="629.86" r="0.45"/><circle cx="77.17" cy="621.61" r="0.45"/><circle cx="75.71" cy="637.66" r="0.45"/><circle cx="76.48" cy="628.73" r="0.45"/><circle cx="81.24" cy="628.45" r="0.45"/><circle cx="79.53" cy="624.19" r="0.45"/><circle cx="76.82" cy="634.91" r="0.45"/><circle cx="77.85" cy="631.96" r="0.45"/><circle cx="74.57" cy="628.04" r="0.45"/><circle cx="81.41" cy="632.63" r="0.45"/><circle cx="76.57" cy="631.08" r="0.45"/><circle cx="81.85" cy="626.42" r="0.45"/><circle cx="82.17" cy="625.86" r="0.45"/><circle cx="77.71" cy="628.93" r="0.45"/><circle cx="71" cy="628.62" r="0.45"/><circle cx="77" cy="623.88" r="0.45"/><circle cx="79.01" cy="631.67" r="0.45"/><circle cx="79.08" cy="633.43" r="0.45"/><circle cx="76.44" cy="624.41" r="0.45"/><circle cx="85.93" cy="630.4" r="0.45"/><circle cx="83.81" cy="626.11" r="0.45"/><circle cx="83.32" cy="629.91" r="0.45"/><circle cx="82.77" cy="629.09" r="0.45"/><circle cx="84.72" cy="626.73" r="0.45"/><circle cx="77.13" cy="623.83" r="0.45"/><circle cx="84.56" cy="626.42" r="0.45"/><circle cx="76.85" cy="625.71" r="0.45"/><circle cx="78.94" cy="624.55" r="0.45"/><circle cx="79.48" cy="626.8" r="0.45"/><circle cx="78.57" cy="625.64" r="0.45"/><circle cx="80.63" cy="627.39" r="0.45"/><circle cx="80.9" cy="629.87" r="0.45"/><circle cx="81.69" cy="621.34" r="0.45"/><circle cx="78.63" cy="626.21" r="0.45"/><circle cx="83.21" cy="623.48" r="0.45"/><circle cx="78" cy="627.97" r="0.45"/><circle cx="79.32" cy="632.47" r="0.45"/><circle cx="78.95" cy="632.38" r="0.45"/><circle cx="75.37" cy="622.66" r="0.45"/><circle cx="84.77" cy="630.52" r="0.45"/><circle cx="82.21" cy="629.43" r="0.45"/><circle cx="82.2" cy="624.74" r="0.45"/><circle cx="83.82" cy="627.14" r="0.45"/><circle cx="83.95" cy="629.31" r="0.45"/><circle cx="73.59" cy="624.5" r="0.45"/><circle cx="84.45" cy="628.52" r="0.45"/><circle cx="79.12" cy="629.85" r="0.45"/><circle cx="79.01" cy="627.09" r="0.45"/><circle cx="80.86" cy="629.5" r="0.45"/><circle cx="85.81" cy="629.16" r="0.45"/><circle cx="87.08" cy="635.31" r="0.45"/><circle cx="86.51" cy="632.72" r="0.45"/><circle cx="80.96" cy="629.48" r="0.45"/><circle cx="80" cy="626.44" r="0.45"/><circle cx="80.27" cy="626.76" r="0.45"/><circle cx="86.24" cy="630.87" r="0.45"/><circle cx="78.94" cy="622.3" r="0.45"/><circle cx="80.31" cy="627.54" r="0.45"/><circle cx="76.7" cy="625.02" r="0.45"/><circle cx="72.62" cy="630.99" r="0.45"/><circle cx="80.27" cy="638.03" r="0.45"/><circle cx="80.39" cy="628.48" r="0.45"/><circle cx="85.55" cy="629.47" r="0.45"/><circle cx="81.09" cy="627.7" r="0.45"/><circle cx="78.38" cy="634.25" r="0.45"/><circle cx="84" cy="635.01" r="0.45"/><circle cx="79.28" cy="629.11" r="0.45"/><circle cx="77.42" cy="632.39" r="0.45"/><circle cx="75.62" cy="630.98" r="0.45"/><circle cx="84.34" cy="633.94" r="0.45"/><circle cx="77.21" cy="632.81" r="0.45"/><circle cx="78" cy="626.35" r="0.45"/><circle cx="75.87" cy="633.04" r="0.45"/><circle cx="86.27" cy="626.92" r="0.45"/><circle cx="77.84" cy="627.81" r="0.45"/><circle cx="89.28" cy="632.52" r="0.45"/><circle cx="78.6" cy="622.72" r="0.45"/><circle cx="78.15" cy="633.16" r="0.45"/><circle cx="87.04" cy="628.07" r="0.45"/><circle cx="78.08" cy="627.22" r="0.45"/><circle cx="73.9" cy="632.18" r="0.45"/><circle cx="76.7" cy="632.72" r="0.45"/><circle cx="74.52" cy="624.55" r="0.45"/><circle cx="81.51" cy="626.33" r="0.45"/><circle cx="83.23" cy="629.03" r="0.45"/><circle cx="76.39" cy="631.18" r="0.45"/><circle cx="83.45" cy="622.3" r="0.45"/><circle cx="86.89" cy="630.74" r="0.45"/><circle cx="83.16" cy="622.49" r="0.45"/><circle cx="77.98" cy="627.78" r="0.45"/><circle cx="84.27" cy="623.89" r="0.45"/><circle cx="77.41" cy="621.9" r="0.45"/><circle cx="79.66" cy="630.21" r="0.45"/><circle cx="74.6" cy="626.93" r="0.45"/><circle cx="82.29" cy="634.55" r="0.45"/><circle cx="82.82" cy="627.94" r="0.45"/><circle cx="76.38" cy="625.72" r="0.45"/><circle cx="78.18" cy="629.51" r="0.45"/><circle cx="80.33" cy="634.83" r="0.45"/><circle cx="81.51" cy="625.25" r="0.45"/><circle cx="85.91" cy="632.32" r="0.45"/><circle cx="80.85" cy="626.48" r="0.45"/><circle cx="73.95" cy="625.42" r="0.45"/><circle cx="83.69" cy="626.19" r="0.45"/><circle cx="75.88" cy="629.68" r="0.45"/><circle cx="81.35" cy="631.12" r="0.45"/><circle cx="82.79" cy="633.93" r="0.45"/><circle cx="77.56" cy="632.43" r="0.45"/><circle cx="77.04" cy="631.43" r="0.45"/><circle cx="81.13" cy="629.85" r="0.45"/><circle cx="83.89" cy="628.94" r="0.45"/><circle cx="84.39" cy="632.06" r="0.45"/><circle cx="80.97" cy="627.02" r="0.45"/><circle cx="77.86" cy="627.15" r="0.45"/><circle cx="79.79" cy="628.91" r="0.45"/><circle cx="90.93" cy="631.23" r="0.45"/><circle cx="83.19" cy="625.99" r="0.45"/><circle cx="78.01" cy="627.88" r="0.45"/><circle cx="81.17" cy="625.37" r="0.45"/><circle cx="86.14" cy="627.03" r="0.45"/><circle cx="84.27" cy="620.82" r="0.45"/><circle cx="80.48" cy="629.97" r="0.45"/><circle cx="81.17" cy="631.11" r="0.45"/><circle cx="81.48" cy="629.57" r="0.45"/><circle cx="73.88" cy="626.5" r="0.45"/><circle cx="72.3" cy="631.2" r="0.45"/><circle cx="81.58" cy="628.32" r="0.45"/><circle cx="77.63" cy="626.96" r="0.45"/><circle cx="86.96" cy="635.06" r="0.45"/><circle cx="80.3" cy="633.51" r="0.45"/><circle cx="74.94" cy="622.23" r="0.45"/><circle cx="78.81" cy="625.94" r="0.45"/><circle cx="78.54" cy="629.66" r="0.45"/><circle cx="91.09" cy="626.69" r="0.45"/><circle cx="80.67" cy="629.97" r="0.45"/><circle cx="80.38" cy="632.26" r="0.45"/><circle cx="86.71" cy="624.65" r="0.45"/><circle cx="81.07" cy="628.07" r="0.45"/><circle cx="81.75" cy="623.64" r="0.45"/><circle cx="74.35" cy="620.89" r="0.45"/><circle cx="82.34" cy="629.67" r="0.45"/><circle cx="80.76" cy="620.72" r="0.45"/><circle cx="79.19" cy="626.36" r="0.45"/><circle cx="75.55" cy="625.8" r="0.45"/><circle cx="82.94" cy="630.9" r="0.45"/><circle cx="80.42" cy="630.8" r="0.45"/><circle cx="78.39" cy="629.25" r="0.45"/><circle cx="80.64" cy="630.94" r="0.45"/><circle cx="80.26" cy="628.5" r="0.45"/><circle cx="80.03" cy="626.74" r="0.45"/><circle cx="88.32" cy="630.8" r="0.45"/><circle cx="82" cy="637.02" r="0.45"/><circle cx="85.41" cy="623.55" r="0.45"/><circle cx="82.93" cy="631.93" r="0.45"/><circle cx="87.1" cy="633.6" r="0.45"/><circle cx="83.2" cy="624.88" r="0.45"/><circle cx="77.45" cy="629.94" r="0.45"/><circle cx="82.27" cy="625.42" r="0.45"/><circle cx="79.15" cy="627.6" r="0.45"/><circle cx="80.71" cy="630.18" r="0.45"/><circle cx="79.5" cy="624.67" r="0.45"/><circle cx="84.85" cy="634.59" r="0.45"/><circle cx="80.13" cy="632.59" r="0.45"/><circle cx="82.05" cy="631.31" r="0.45"/><circle cx="82.19" cy="626.33" r="0.45"/><circle cx="82.51" cy="632.54" r="0.45"/><circle cx="77.36" cy="635.88" r="0.45"/><circle cx="87.81" cy="635.38" r="0.45"/><circle cx="87.46" cy="631.6" r="0.45"/><circle cx="79.32" cy="626.9" r="0.45"/><circle cx="77.65" cy="629.41" r="0.45"/><circle cx="80.39" cy="631.35" r="0.45"/><circle cx="73.43" cy="637.09" r="0.45"/><circle cx="88.47" cy="628.9" r="0.45"/><circle cx="82.87" cy="630.66" r="0.45"/><circle cx="81.46" cy="628.27" r="0.45"/><circle cx="80.07" cy="626.11" r="0.45"/><circle cx="81.12" cy="628.92" r="0.45"/><circle cx="81.62" cy="626.01" r="0.45"/><circle cx="80.64" cy="629.17" r="0.45"/><circle cx="82.61" cy="625.28" r="0.45"/><circle cx="81.97" cy="632.44" r="0.45"/><circle cx="82.59" cy="627.71" r="0.45"/><circle cx="78.78" cy="628.17" r="0.45"/><circle cx="83.05" cy="634.44" r="0.45"/><circle cx="79.95" cy="626.75" r="0.45"/><circle cx="81.82" cy="629.72" r="0.45"/><circle cx="77.32" cy="626.42" r="0.45"/><circle cx="80.14" cy="631.35" r="0.45"/><circle cx="76.32" cy="625.44" r="0.45"/><circle cx="82.25" cy="624.71" r="0.45"/><circle cx="80.88" cy="630.23" r="0.45"/><circle cx="80.11" cy="625.44" r="0.45"/><circle cx="80.29" cy="627.84" r="0.45"/><circle cx="81.68" cy="626.06" r="0.45"/><circle cx="84.32" cy="623.14" r="0.45"/><circle cx="79.88" cy="629.03" r="0.45"/><circle cx="83.87" cy="626.87" r="0.45"/></g>
<g fill="#5058b8" fill-opacity="0.45"><circle cx="95.09" cy="606.53" r="0.45"/><circle cx="96.54" cy="612.52" r="0.45"/><circle cx="87.99" cy="609.15" r="0.45"/><circle cx="84.04" cy="610.53" r="0.45"/><circle cx="100.08" cy="608.09" r="0.45"/><circle cx="82.49" cy="609.05" r="0.45"/><circle cx="99.62" cy="610.83" r="0.45"/><circle cx="97.1" cy="603.24" r="0.45"/><circle cx="85.9" cy="611.7" r="0.45"/><circle cx="81.8" cy="610.94" r="0.45"/><circle cx="105.12" cy="609.98" r="0.45"/><circle cx="99.4" cy="607.13" r="0.45"/><circle cx="81.81" cy="607.73" r="0.45"/><circle cx="89.51" cy="607.88" r="0.45"/><circle cx="96.23" cy="607.62" r="0.45"/><circle cx="92.44" cy="609.1" r="0.45"/><circle cx="90.96" cy="612.79" r="0.45"/><circle cx="94.32" cy="608.22" r="0.45"/><circle cx="89.44" cy="606.37" r="0.45"/><circle cx="101.08" cy="608.39" r="0.45"/><circle cx="82.91" cy="606.54" r="0.45"/><circle cx="89.98" cy="606.84" r="0.45"/><circle cx="99.13" cy="604.98" r="0.45"/><circle cx="94.69" cy="608.37" r="0.45"/><circle cx="82.17" cy="608.12" r="0.45"/><circle cx="90.29" cy="609.3" r="0.45"/><circle cx="87.62" cy="608.79" r="0.45"/><circle cx="78.51" cy="605.18" r="0.45"/><circle cx="96.89" cy="610.71" r="0.45"/><circle cx="90.9" cy="606.44" r="0.45"/><circle cx="99.12" cy="602.56" r="0.45"/><circle cx="85" cy="609.75" r="0.45"/><circle cx="95.89" cy="605.32" r="0.45"/><circle cx="76.84" cy="611.78" r="0.45"/><circle cx="92.15" cy="605.67" r="0.45"/><circle cx="91.41" cy="610.34" r="0.45"/><circle cx="71.56" cy="610.89" r="0.45"/><circle cx="96.55" cy="602.59" r="0.45"/><circle cx="96.78" cy="603.37" r="0.45"/><circle cx="99.55" cy="609.04" r="0.45"/><circle cx="107.89" cy="606.41" r="0.45"/><circle cx="91.04" cy="610.72" r="0.45"/><circle cx="86.2" cy="606.17" r="0.45"/><circle cx="88.21" cy="607.81" r="0.45"/><circle cx="82.88" cy="609.26" r="0.45"/><circle cx="95.07" cy="608.19" r="0.45"/><circle cx="103.75" cy="607.15" r="0.45"/><circle cx="100.8" cy="606.58" r="0.45"/><circle cx="96.67" cy="602.97" r="0.45"/><circle cx="92.49" cy="607.54" r="0.45"/><circle cx="87.29" cy="606.41" r="0.45"/><circle cx="88.39" cy="606.13" r="0.45"/><circle cx="74.55" cy="606.45" r="0.45"/><circle cx="86.88" cy="606.64" r="0.45"/><circle cx="83.07" cy="607.65" r="0.45"/><circle cx="96.88" cy="607.35" r="0.45"/><circle cx="87.3" cy="611.53" r="0.45"/><circle cx="98.33" cy="610.4" r="0.45"/><circle cx="99.67" cy="607.15" r="0.45"/><circle cx="90.03" cy="610.89" r="0.45"/><circle cx="86.84" cy="607.69" r="0.45"/><circle cx="93.83" cy="608.97" r="0.45"/><circle cx="88.93" cy="610.56" r="0.45"/><circle cx="89.66" cy="609.89" r="0.45"/><circle cx="99.03" cy="609.71" r="0.45"/><circle cx="96.5" cy="604.98" r="0.45"/><circle cx="81.17" cy="606.39" r="0.45"/><circle cx="94.56" cy="611.9" r="0.45"/><circle cx="81.83" cy="608.8" r="0.45"/><circle cx="84.59" cy="606.1" r="0.45"/><circle cx="88.93" cy="609.8" r="0.45"/><circle cx="92.6" cy="611.07" r="0.45"/><circle cx="83.61" cy="610.31" r="0.45"/><circle cx="97.98" cy="608.18" r="0.45"/><circle cx="94.58" cy="606.54" r="0.45"/><circle cx="82.83" cy="606.95" r="0.45"/><circle cx="86.18" cy="615.51" r="0.45"/><circle cx="87.36" cy="612.29" r="0.45"/><circle cx="92.52" cy="608.81" r="0.45"/><circle cx="96.58" cy="605.97" r="0.45"/><circle cx="97.87" cy="608.98" r="0.45"/><circle cx="79.63" cy="609.56" r="0.45"/><circle cx="95.14" cy="609.18" r="0.45"/><circle cx="102.89" cy="606.92" r="0.45"/><circle cx="94.84" cy="609.95" r="0.45"/><circle cx="84.25" cy="611.12" r="0.45"/><circle cx="80.12" cy="604.62" r="0.45"/><circle cx="94.92" cy="605.17" r="0.45"/><circle cx="90.13" cy="603.72" r="0.45"/><circle cx="91.52" cy="605.05" r="0.45"/><circle cx="93.56" cy="604.02" r="0.45"/><circle cx="94.36" cy="607.31" r="0.45"/><circle cx="91.48" cy="607.82" r="0.45"/><circle cx="91.98" cy="604.56" r="0.45"/><circle cx="71.76" cy="608.09" r="0.45"/><circle cx="83.98" cy="606.82" r="0.45"/><circle cx="94.2" cy="602.84" r="0.45"/><circle cx="85.28" cy="606.41" r="0.45"/><circle cx="83.07" cy="608.85" r="0.45"/><circle cx="89.95" cy="605.87" r="0.45"/><circle cx="83.62" cy="610.1" r="0.45"/><circle cx="86.05" cy="609.52" r="0.45"/><circle cx="94.37" cy="603.08" r="0.45"/><circle cx="82.87" cy="608.01" r="0.45"/><circle cx="93.57" cy="610.03" r="0.45"/><circle cx="97.02" cy="610.69" r="0.45"/><circle cx="88.2" cy="607.45" r="0.45"/><circle cx="96.82" cy="606.89" r="0.45"/><circle cx="98.93" cy="603.87" r="0.45"/><circle cx="95.9" cy="607.55" r="0.45"/><circle cx="76.25" cy="610.55" r="0.45"/><circle cx="93.33" cy="608.05" r="0.45"/><circle cx="82.93" cy="606.79" r="0.45"/><circle cx="102.34" cy="605.85" r="0.45"/><circle cx="64.96" cy="605.77" r="0.45"/><circle cx="82" cy="607.66" r="0.45"/><circle cx="88.05" cy="605.63" r="0.45"/><circle cx="84.69" cy="610.72" r="0.45"/><circle cx="80.18" cy="613.09" r="0.45"/><circle cx="86.92" cy="605.16" r="0.45"/><circle cx="96.9" cy="609.47" r="0.45"/><circle cx="83.18" cy="609.95" r="0.45"/><circle cx="77.2" cy="605.6" r="0.45"/><circle cx="99.45" cy="607.34" r="0.45"/><circle cx="81.23" cy="609.34" r="0.45"/><circle cx="97.88" cy="607.94" r="0.45"/><circle cx="77.45" cy="607.1" r="0.45"/><circle cx="94.14" cy="610" r="0.45"/><circle cx="104.9" cy="607.34" r="0.45"/><circle cx="87.38" cy="607.9" r="0.45"/><circle cx="100.05" cy="605.55" r="0.45"/><circle cx="100.79" cy="600.85" r="0.45"/><circle cx="96.98" cy="606.24" r="0.45"/><circle cx="94.44" cy="609.79" r="0.45"/><circle cx="82.13" cy="607.78" r="0.45"/><circle cx="92.8" cy="609.53" r="0.45"/><circle cx="84.02" cy="605.42" r="0.45"/><circle cx="76.57" cy="614.6" r="0.45"/><circle cx="89.56" cy="607.42" r="0.45"/><circle cx="79.79" cy="610.42" r="0.45"/><circle cx="86.99" cy="611.73" r="0.45"/><circle cx="97.39" cy="608.05" r="0.45"/><circle cx="96.45" cy="605.11" r="0.45"/><circle cx="88.56" cy="606.5" r="0.45"/><circle cx="81.48" cy="608.04" r="0.45"/><circle cx="89.91" cy="611.73" r="0.45"/><circle cx="65.85" cy="606.25" r="0.45"/><circle cx="84.11" cy="606.79" r="0.45"/><circle cx="94.16" cy="609.05" r="0.45"/><circle cx="91.21" cy="606.77" r="0.45"/><circle cx="94.71" cy="608.94" r="0.45"/><circle cx="77.18" cy="607.32" r="0.45"/><circle cx="80.69" cy="604.93" r="0.45"/><circle cx="92.1" cy="608.16" r="0.45"/><circle cx="91.85" cy="605.72" r="0.45"/><circle cx="89.49" cy="605.63" r="0.45"/><circle cx="93.86" cy="609.79" r="0.45"/><circle cx="104.16" cy="611.29" r="0.45"/><circle cx="84.96" cy="606.81" r="0.45"/><circle cx="83.96" cy="608.8" r="0.45"/><circle cx="105.85" cy="609.84" r="0.45"/><circle cx="74.5" cy="604.73" r="0.45"/><circle cx="81.31" cy="609.34" r="0.45"/><circle cx="91.01" cy="608.78" r="0.45"/><circle cx="104.36" cy="605.85" r="0.45"/><circle cx="84.64" cy="613.11" r="0.45"/><circle cx="93.57" cy="605.97" r="0.45"/><circle cx="75.78" cy="604.04" r="0.45"/><circle cx="72.67" cy="608.18" r="0.45"/><circle cx="91.33" cy="610.58" r="0.45"/><circle cx="89.96" cy="606.2" r="0.45"/><circle cx="85.44" cy="612.94" r="0.45"/><circle cx="77.76" cy="608.45" r="0.45"/><circle cx="91.19" cy="609.6" r="0.45"/><circle cx="87.97" cy="609.3" r="0.45"/><circle cx="97.12" cy="607.62" r="0.45"/><circle cx="87.57" cy="607.52" r="0.45"/><circle cx="83.76" cy="607.46" r="0.45"/><circle cx="88.74" cy="608.55" r="0.45"/><circle cx="101.02" cy="611.4" r="0.45"/><circle cx="87.66" cy="609.57" r="0.45"/><circle cx="93.21" cy="609.98" r="0.45"/><circle cx="91.16" cy="608.69" r="0.45"/><circle cx="87.48" cy="605.96" r="0.45"/><circle cx="97.54" cy="611.38" r="0.45"/><circle cx="95.97" cy="609.13" r="0.45"/><circle cx="93" cy="606.83" r="0.45"/><circle cx="77.63" cy="609.72" r="0.45"/><circle cx="92.49" cy="606.56" r="0.45"/><circle cx="83.76" cy="611.32" r="0.45"/><circle cx="77.47" cy="612.58" r="0.45"/><circle cx="95.8" cy="614.16" r="0.45"/><circle cx="85.62" cy="607.94" r="0.45"/><circle cx="87.2" cy="608.4" r="0.45"/><circle cx="89.43" cy="606.05" r="0.45"/><circle cx="99.06" cy="605.96" r="0.45"/><circle cx="87.19" cy="609.44" r="0.45"/><circle cx="86.97" cy="606.87" r="0.45"/><circle cx="93.67" cy="607.04" r="0.45"/><circle cx="81.65" cy="607.73" r="0.45"/><circle cx="89.35" cy="612.43" r="0.45"/><circle cx="82.77" cy="610.52" r="0.45"/><circle cx="85.11" cy="607.07" r="0.45"/><circle cx="88.55" cy="608.7" r="0.45"/><circle cx="97.48" cy="612.55" r="0.45"/><circle cx="86.23" cy="611.46" r="0.45"/><circle cx="98.47" cy="610.11" r="0.45"/><circle cx="85.31" cy="610.34" r="0.45"/><circle cx="90.19" cy="608.92" r="0.45"/><circle cx="88.98" cy="609.73" r="0.45"/><circle cx="99.36" cy="610.94" r="0.45"/><circle cx="89.46" cy="610.59" r="0.45"/><circle cx="101.89" cy="605.57" r="0.45"/><circle cx="102.04" cy="604.53" r="0.45"/><circle cx="95.07" cy="609.54" r="0.45"/><circle cx="102.12" cy="608.72" r="0.45"/><circle cx="87.39" cy="605.93" r="0.45"/><circle cx="81.62" cy="609.99" r="0.45"/><circle cx="89.22" cy="606.13" r="0.45"/><circle cx="94.99" cy="606.01" r="0.45"/></g>
<g fill="#7078c8" fill-opacity="0.35"><circle cx="94.82" cy="625.87" r="0.4"/><circle cx="105.27" cy="643.16" r="0.4"/><circle cx="96.21" cy="615.86" r="0.4"/><circle cx="98.38" cy="630.65" r="0.4"/><circle cx="98.74" cy="635.09" r="0.4"/><circle cx="95.4" cy="638.33" r="0.4"/><circle cx="101.18" cy="631.9" r="0.4"/><circle cx="94.97" cy="625.67" r="0.4"/><circle cx="100.46" cy="620.1" r="0.4"/><circle cx="96.2" cy="623.25" r="0.4"/><circle cx="90.03" cy="635.43" r="0.4"/><circle cx="96.87" cy="630.32" r="0.4"/><circle cx="101.37" cy="616.55" r="0.4"/><circle cx="96.66" cy="632.6" r="0.4"/><circle cx="101.16" cy="620.24" r="0.4"/><circle cx="100.58" cy="631.98" r="0.4"/><circle cx="103.78" cy="640.25" r="0.4"/><circle cx="99.75" cy="649.34" r="0.4"/><circle cx="96.99" cy="626.18" r="0.4"/><circle cx="95.3" cy="621.54" r="0.4"/><circle cx="96.86" cy="613.09" r="0.4"/><circle cx="96.58" cy="633.83" r="0.4"/><circle cx="101.96" cy="626.87" r="0.4"/><circle cx="103.94" cy="624.14" r="0.4"/><circle cx="96.33" cy="613.1" r="0.4"/><circle cx="93.19" cy="622.88" r="0.4"/><circle cx="104.29" cy="634.66" r="0.4"/><circle cx="91.61" cy="634.69" r="0.4"/><circle cx="99.35" cy="627.95" r="0.4"/><circle cx="97.11" cy="627.32" r="0.4"/><circle cx="94.35" cy="614.42" r="0.4"/><circle cx="96.56" cy="641.29" r="0.4"/><circle cx="103.99" cy="627.55" r="0.4"/><circle cx="93.35" cy="628.14" r="0.4"/><circle cx="101.38" cy="633.09" r="0.4"/><circle cx="94.15" cy="633.18" r="0.4"/><circle cx="95.99" cy="634.53" r="0.4"/><circle cx="95.01" cy="617.08" r="0.4"/><circle cx="97.28" cy="636.68" r="0.4"/><circle cx="91.6" cy="629.06" r="0.4"/><circle cx="101.28" cy="626.71" r="0.4"/><circle cx="93.83" cy="647.81" r="0.4"/><circle cx="101.04" cy="639.01" r="0.4"/><circle cx="92.39" cy="644.32" r="0.4"/><circle cx="88.93" cy="625.46" r="0.4"/><circle cx="100.6" cy="641.66" r="0.4"/><circle cx="92.47" cy="624.18" r="0.4"/><circle cx="97.96" cy="613.11" r="0.4"/><circle cx="100.11" cy="634.9" r="0.4"/><circle cx="94.82" cy="634.7" r="0.4"/></g>
<g fill="#e0a080" fill-opacity="0.45"><circle cx="87.02" cy="651.9" r="0.45"/><circle cx="82.14" cy="651.47" r="0.45"/><circle cx="81.97" cy="654.01" r="0.45"/><circle cx="82.42" cy="652.38" r="0.45"/><circle cx="84.53" cy="651.19" r="0.45"/><circle cx="90.66" cy="650.75" r="0.45"/><circle cx="89.49" cy="653.4" r="0.45"/><circle cx="89.11" cy="650.52" r="0.45"/><circle cx="87.59" cy="653.2" r="0.45"/><circle cx="81.62" cy="651.78" r="0.45"/><circle cx="83.5" cy="650.9" r="0.45"/><circle cx="89.03" cy="648.91" r="0.45"/><circle cx="77.5" cy="645.95" r="0.45"/></g>
<ellipse cx="80.7" cy="629.5" rx="10" ry="10.5" fill="url(#gblue)"/>
<ellipse cx="80.7" cy="629" rx="6" ry="6.3" fill="url(#ggreen)"/>
</g>
<line x1="92" y1="583.3" x2="92" y2="655.2" stroke="#7c7c7c" stroke-width="1.4"/>
<line x1="53.1" y1="614.5" x2="122.6" y2="614.5" stroke="#7c7c7c" stroke-width="1.4"/>
<rect x="53.1" y="583.3" width="69.5" height="71.9" fill="none" stroke="#8a8a8a" stroke-width="0.9"/>
<line x1="51.1" y1="587.5" x2="53.1" y2="587.5" stroke="#1e1e1e" stroke-width="0.7"/>
<text x="46.9" y="589.4" font-size="5.2" text-anchor="end">10</text>
<text x="47.1" y="587.2" font-size="3.7">5</text>
<line x1="52" y1="595.82" x2="53.1" y2="595.82" stroke="#1e1e1e" stroke-width="0.5"/>
<line x1="52" y1="593.72" x2="53.1" y2="593.72" stroke="#1e1e1e" stroke-width="0.5"/>
<line x1="52" y1="592.24" x2="53.1" y2="592.24" stroke="#1e1e1e" stroke-width="0.5"/>
<line x1="52" y1="591.08" x2="53.1" y2="591.08" stroke="#1e1e1e" stroke-width="0.5"/>
<line x1="52" y1="590.14" x2="53.1" y2="590.14" stroke="#1e1e1e" stroke-width="0.5"/>
<line x1="52" y1="589.34" x2="53.1" y2="589.34" stroke="#1e1e1e" stroke-width="0.5"/>
<line x1="52" y1="588.65" x2="53.1" y2="588.65" stroke="#1e1e1e" stroke-width="0.5"/>
<line x1="52" y1="588.04" x2="53.1" y2="588.04" stroke="#1e1e1e" stroke-width="0.5"/>
<line x1="51.1" y1="599.4" x2="53.1" y2="599.4" stroke="#1e1e1e" stroke-width="0.7"/>
<text x="46.9" y="601.3" font-size="5.2" text-anchor="end">10</text>
<text x="47.1" y="599.1" font-size="3.7">4</text>
<line x1="52" y1="607.09" x2="53.1" y2="607.09" stroke="#1e1e1e" stroke-width="0.5"/>
<line x1="52" y1="605.15" x2="53.1" y2="605.15" stroke="#1e1e1e" stroke-width="0.5"/>
<line x1="52" y1="603.78" x2="53.1" y2="603.78" stroke="#1e1e1e" stroke-width="0.5"/>
<line x1="52" y1="602.71" x2="53.1" y2="602.71" stroke="#1e1e1e" stroke-width="0.5"/>
<line x1="52" y1="601.84" x2="53.1" y2="601.84" stroke="#1e1e1e" stroke-width="0.5"/>
<line x1="52" y1="601.1" x2="53.1" y2="601.1" stroke="#1e1e1e" stroke-width="0.5"/>
<line x1="52" y1="600.47" x2="53.1" y2="600.47" stroke="#1e1e1e" stroke-width="0.5"/>
<line x1="52" y1="599.9" x2="53.1" y2="599.9" stroke="#1e1e1e" stroke-width="0.5"/>
<line x1="51.1" y1="610.4" x2="53.1" y2="610.4" stroke="#1e1e1e" stroke-width="0.7"/>
<text x="46.9" y="612.3" font-size="5.2" text-anchor="end">10</text>
<text x="47.1" y="610.1" font-size="3.7">3</text>
<line x1="52" y1="617.95" x2="53.1" y2="617.95" stroke="#1e1e1e" stroke-width="0.5"/>
<line x1="52" y1="616.05" x2="53.1" y2="616.05" stroke="#1e1e1e" stroke-width="0.5"/>
<line x1="52" y1="614.7" x2="53.1" y2="614.7" stroke="#1e1e1e" stroke-width="0.5"/>
<line x1="52" y1="613.65" x2="53.1" y2="613.65" stroke="#1e1e1e" stroke-width="0.5"/>
<line x1="52" y1="612.8" x2="53.1" y2="612.8" stroke="#1e1e1e" stroke-width="0.5"/>
<line x1="52" y1="612.07" x2="53.1" y2="612.07" stroke="#1e1e1e" stroke-width="0.5"/>
<line x1="52" y1="611.45" x2="53.1" y2="611.45" stroke="#1e1e1e" stroke-width="0.5"/>
<line x1="52" y1="610.89" x2="53.1" y2="610.89" stroke="#1e1e1e" stroke-width="0.5"/>
<line x1="51.1" y1="621.2" x2="53.1" y2="621.2" stroke="#1e1e1e" stroke-width="0.7"/>
<text x="46.9" y="623.1" font-size="5.2" text-anchor="end">10</text>
<text x="47.1" y="620.9" font-size="3.7">2</text>
<line x1="52" y1="629.03" x2="53.1" y2="629.03" stroke="#1e1e1e" stroke-width="0.5"/>
<line x1="52" y1="627.06" x2="53.1" y2="627.06" stroke="#1e1e1e" stroke-width="0.5"/>
<line x1="52" y1="625.66" x2="53.1" y2="625.66" stroke="#1e1e1e" stroke-width="0.5"/>
<line x1="52" y1="624.57" x2="53.1" y2="624.57" stroke="#1e1e1e" stroke-width="0.5"/>
<line x1="52" y1="623.68" x2="53.1" y2="623.68" stroke="#1e1e1e" stroke-width="0.5"/>
<line x1="52" y1="622.93" x2="53.1" y2="622.93" stroke="#1e1e1e" stroke-width="0.5"/>
<line x1="52" y1="622.29" x2="53.1" y2="622.29" stroke="#1e1e1e" stroke-width="0.5"/>
<line x1="52" y1="621.71" x2="53.1" y2="621.71" stroke="#1e1e1e" stroke-width="0.5"/>
<line x1="51.1" y1="632.4" x2="53.1" y2="632.4" stroke="#1e1e1e" stroke-width="0.7"/>
<text x="46.9" y="634.3" font-size="5.2" text-anchor="end">10</text>
<text x="47.1" y="632.1" font-size="3.7">1</text>
<line x1="52" y1="639.81" x2="53.1" y2="639.81" stroke="#1e1e1e" stroke-width="0.5"/>
<line x1="52" y1="637.94" x2="53.1" y2="637.94" stroke="#1e1e1e" stroke-width="0.5"/>
<line x1="52" y1="636.62" x2="53.1" y2="636.62" stroke="#1e1e1e" stroke-width="0.5"/>
<line x1="52" y1="635.59" x2="53.1" y2="635.59" stroke="#1e1e1e" stroke-width="0.5"/>
<line x1="52" y1="634.75" x2="53.1" y2="634.75" stroke="#1e1e1e" stroke-width="0.5"/>
<line x1="52" y1="634.04" x2="53.1" y2="634.04" stroke="#1e1e1e" stroke-width="0.5"/>
<line x1="52" y1="633.43" x2="53.1" y2="633.43" stroke="#1e1e1e" stroke-width="0.5"/>
<line x1="52" y1="632.89" x2="53.1" y2="632.89" stroke="#1e1e1e" stroke-width="0.5"/>
<line x1="51.1" y1="643" x2="53.1" y2="643" stroke="#1e1e1e" stroke-width="0.7"/>
<text x="46.9" y="644.9" font-size="5.2" text-anchor="end">10</text>
<text x="47.1" y="642.7" font-size="3.7">0</text>
<line x1="52" y1="650.97" x2="53.1" y2="650.97" stroke="#1e1e1e" stroke-width="0.5"/>
<line x1="52" y1="648.96" x2="53.1" y2="648.96" stroke="#1e1e1e" stroke-width="0.5"/>
<line x1="52" y1="647.54" x2="53.1" y2="647.54" stroke="#1e1e1e" stroke-width="0.5"/>
<line x1="52" y1="646.43" x2="53.1" y2="646.43" stroke="#1e1e1e" stroke-width="0.5"/>
<line x1="52" y1="645.53" x2="53.1" y2="645.53" stroke="#1e1e1e" stroke-width="0.5"/>
<line x1="52" y1="644.77" x2="53.1" y2="644.77" stroke="#1e1e1e" stroke-width="0.5"/>
<line x1="52" y1="644.1" x2="53.1" y2="644.1" stroke="#1e1e1e" stroke-width="0.5"/>
<line x1="52" y1="643.52" x2="53.1" y2="643.52" stroke="#1e1e1e" stroke-width="0.5"/>
<line x1="51.1" y1="654.4" x2="53.1" y2="654.4" stroke="#1e1e1e" stroke-width="0.7"/>
<text x="46.9" y="656.3" font-size="5.2" text-anchor="end">10</text>
<text x="47.1" y="654.1" font-size="3.7">−1</text>
<line x1="61.3" y1="655.2" x2="61.3" y2="657.4" stroke="#1e1e1e" stroke-width="0.7"/>
<text x="61.5" y="665.5" font-size="5.4" text-anchor="middle">10<tspan font-size="3.8" dy="-2.3">1</tspan></text>
<line x1="65.88" y1="655.2" x2="65.88" y2="656.3" stroke="#1e1e1e" stroke-width="0.5"/>
<line x1="68.55" y1="655.2" x2="68.55" y2="656.3" stroke="#1e1e1e" stroke-width="0.5"/>
<line x1="70.45" y1="655.2" x2="70.45" y2="656.3" stroke="#1e1e1e" stroke-width="0.5"/>
<line x1="71.92" y1="655.2" x2="71.92" y2="656.3" stroke="#1e1e1e" stroke-width="0.5"/>
<line x1="73.13" y1="655.2" x2="73.13" y2="656.3" stroke="#1e1e1e" stroke-width="0.5"/>
<line x1="74.15" y1="655.2" x2="74.15" y2="656.3" stroke="#1e1e1e" stroke-width="0.5"/>
<line x1="75.03" y1="655.2" x2="75.03" y2="656.3" stroke="#1e1e1e" stroke-width="0.5"/>
<line x1="75.8" y1="655.2" x2="75.8" y2="656.3" stroke="#1e1e1e" stroke-width="0.5"/>
<line x1="76.3" y1="655.2" x2="76.3" y2="657.4" stroke="#1e1e1e" stroke-width="0.7"/>
<text x="76.5" y="665.5" font-size="5.4" text-anchor="middle">10<tspan font-size="3.8" dy="-2.3">2</tspan></text>
<line x1="80.88" y1="655.2" x2="80.88" y2="656.3" stroke="#1e1e1e" stroke-width="0.5"/>
<line x1="83.55" y1="655.2" x2="83.55" y2="656.3" stroke="#1e1e1e" stroke-width="0.5"/>
<line x1="85.45" y1="655.2" x2="85.45" y2="656.3" stroke="#1e1e1e" stroke-width="0.5"/>
<line x1="86.92" y1="655.2" x2="86.92" y2="656.3" stroke="#1e1e1e" stroke-width="0.5"/>
<line x1="88.13" y1="655.2" x2="88.13" y2="656.3" stroke="#1e1e1e" stroke-width="0.5"/>
<line x1="89.15" y1="655.2" x2="89.15" y2="656.3" stroke="#1e1e1e" stroke-width="0.5"/>
<line x1="90.03" y1="655.2" x2="90.03" y2="656.3" stroke="#1e1e1e" stroke-width="0.5"/>
<line x1="90.8" y1="655.2" x2="90.8" y2="656.3" stroke="#1e1e1e" stroke-width="0.5"/>
<line x1="92.2" y1="655.2" x2="92.2" y2="657.4" stroke="#1e1e1e" stroke-width="0.7"/>
<text x="92.4" y="665.5" font-size="5.4" text-anchor="middle">10<tspan font-size="3.8" dy="-2.3">3</tspan></text>
<line x1="96.78" y1="655.2" x2="96.78" y2="656.3" stroke="#1e1e1e" stroke-width="0.5"/>
<line x1="99.45" y1="655.2" x2="99.45" y2="656.3" stroke="#1e1e1e" stroke-width="0.5"/>
<line x1="101.35" y1="655.2" x2="101.35" y2="656.3" stroke="#1e1e1e" stroke-width="0.5"/>
<line x1="102.82" y1="655.2" x2="102.82" y2="656.3" stroke="#1e1e1e" stroke-width="0.5"/>
<line x1="104.03" y1="655.2" x2="104.03" y2="656.3" stroke="#1e1e1e" stroke-width="0.5"/>
<line x1="105.05" y1="655.2" x2="105.05" y2="656.3" stroke="#1e1e1e" stroke-width="0.5"/>
<line x1="105.93" y1="655.2" x2="105.93" y2="656.3" stroke="#1e1e1e" stroke-width="0.5"/>
<line x1="106.7" y1="655.2" x2="106.7" y2="656.3" stroke="#1e1e1e" stroke-width="0.5"/>
<line x1="107.4" y1="655.2" x2="107.4" y2="657.4" stroke="#1e1e1e" stroke-width="0.7"/>
<text x="107.6" y="665.5" font-size="5.4" text-anchor="middle">10<tspan font-size="3.8" dy="-2.3">4</tspan></text>
<line x1="111.98" y1="655.2" x2="111.98" y2="656.3" stroke="#1e1e1e" stroke-width="0.5"/>
<line x1="114.65" y1="655.2" x2="114.65" y2="656.3" stroke="#1e1e1e" stroke-width="0.5"/>
<line x1="116.55" y1="655.2" x2="116.55" y2="656.3" stroke="#1e1e1e" stroke-width="0.5"/>
<line x1="118.02" y1="655.2" x2="118.02" y2="656.3" stroke="#1e1e1e" stroke-width="0.5"/>
<line x1="119.23" y1="655.2" x2="119.23" y2="656.3" stroke="#1e1e1e" stroke-width="0.5"/>
<line x1="120.25" y1="655.2" x2="120.25" y2="656.3" stroke="#1e1e1e" stroke-width="0.5"/>
<line x1="121.13" y1="655.2" x2="121.13" y2="656.3" stroke="#1e1e1e" stroke-width="0.5"/>
<line x1="121.9" y1="655.2" x2="121.9" y2="656.3" stroke="#1e1e1e" stroke-width="0.5"/>
<line x1="53.35" y1="655.2" x2="53.35" y2="656.3" stroke="#1e1e1e" stroke-width="0.5"/>
<line x1="55.25" y1="655.2" x2="55.25" y2="656.3" stroke="#1e1e1e" stroke-width="0.5"/>
<line x1="56.72" y1="655.2" x2="56.72" y2="656.3" stroke="#1e1e1e" stroke-width="0.5"/>
<line x1="57.93" y1="655.2" x2="57.93" y2="656.3" stroke="#1e1e1e" stroke-width="0.5"/>
<line x1="58.95" y1="655.2" x2="58.95" y2="656.3" stroke="#1e1e1e" stroke-width="0.5"/>
<line x1="59.83" y1="655.2" x2="59.83" y2="656.3" stroke="#1e1e1e" stroke-width="0.5"/>
<line x1="60.6" y1="655.2" x2="60.6" y2="656.3" stroke="#1e1e1e" stroke-width="0.5"/>
<text x="56.5" y="590.7" font-size="5.4" text-anchor="start">Q1</text>
<text x="56.5" y="597.3" font-size="5.4" text-anchor="start">5.40</text>
<text x="119.4" y="590.7" font-size="5.4" text-anchor="end">Q2</text>
<text x="119.4" y="597.3" font-size="5.4" text-anchor="end">3.96</text>
<text x="56.5" y="644.8" font-size="5.4" text-anchor="start">Q4</text>
<text x="56.5" y="651.6" font-size="5.4" text-anchor="start">88.0</text>
<text x="119.4" y="644.8" font-size="5.4" text-anchor="end">Q3</text>
<text x="119.4" y="651.6" font-size="5.4" text-anchor="end">2.59</text>
<text x="87.5" y="578.6" font-size="7.6" text-anchor="middle" textLength="30.5" lengthAdjust="spacingAndGlyphs">Scramble</text>
<clipPath id="gc1"><rect x="147.8" y="583.3" width="70.2" height="71.9"/></clipPath>
<g clip-path="url(#gc1)">
<ellipse cx="184" cy="622" rx="12" ry="16" fill="url(#gpale)"/>
<g fill="#4a56b8" fill-opacity="0.38"><circle cx="180.53" cy="619.33" r="0.45"/><circle cx="182.56" cy="628.1" r="0.45"/><circle cx="190.15" cy="626.24" r="0.45"/><circle cx="184.51" cy="618.68" r="0.45"/><circle cx="185.02" cy="633.83" r="0.45"/><circle cx="188.32" cy="609.86" r="0.45"/><circle cx="186.37" cy="635.46" r="0.45"/><circle cx="186.09" cy="613.19" r="0.45"/><circle cx="181.17" cy="628.25" r="0.45"/><circle cx="184.3" cy="618.14" r="0.45"/><circle cx="178.64" cy="630.98" r="0.45"/><circle cx="176.72" cy="634.36" r="0.45"/><circle cx="182.59" cy="626.17" r="0.45"/><circle cx="176.72" cy="619.7" r="0.45"/><circle cx="185.49" cy="613.38" r="0.45"/><circle cx="191.47" cy="613.87" r="0.45"/><circle cx="177.21" cy="624.31" r="0.45"/><circle cx="184.59" cy="629.29" r="0.45"/><circle cx="180.89" cy="622.5" r="0.45"/><circle cx="181.48" cy="619.85" r="0.45"/><circle cx="171.34" cy="630.93" r="0.45"/><circle cx="183.59" cy="625.14" r="0.45"/><circle cx="179.78" cy="625.81" r="0.45"/><circle cx="182.44" cy="623.45" r="0.45"/><circle cx="187.28" cy="611.59" r="0.45"/><circle cx="183.59" cy="616.32" r="0.45"/><circle cx="181.13" cy="634.8" r="0.45"/><circle cx="177.81" cy="623.28" r="0.45"/><circle cx="179.94" cy="630.84" r="0.45"/><circle cx="178.27" cy="611.88" r="0.45"/><circle cx="184.72" cy="621.45" r="0.45"/><circle cx="181.12" cy="631.78" r="0.45"/><circle cx="178.66" cy="621.31" r="0.45"/><circle cx="183.14" cy="626.98" r="0.45"/><circle cx="180.27" cy="631.45" r="0.45"/><circle cx="192.19" cy="621.06" r="0.45"/><circle cx="190.58" cy="608.81" r="0.45"/><circle cx="188.58" cy="621.52" r="0.45"/><circle cx="183.09" cy="621.55" r="0.45"/><circle cx="179.75" cy="614.8" r="0.45"/><circle cx="180.79" cy="633.34" r="0.45"/><circle cx="187.43" cy="621.49" r="0.45"/><circle cx="180.22" cy="618.94" r="0.45"/><circle cx="177.32" cy="636.99" r="0.45"/><circle cx="185.37" cy="624.84" r="0.45"/><circle cx="180.38" cy="616.64" r="0.45"/><circle cx="188.19" cy="629.62" r="0.45"/><circle cx="178.38" cy="631.12" r="0.45"/><circle cx="177.72" cy="628.62" r="0.45"/><circle cx="178.35" cy="621.02" r="0.45"/><circle cx="184.64" cy="627.11" r="0.45"/><circle cx="186.87" cy="617.97" r="0.45"/><circle cx="189.32" cy="633.68" r="0.45"/><circle cx="182.46" cy="627.35" r="0.45"/><circle cx="179.14" cy="622.9" r="0.45"/><circle cx="176.79" cy="624.64" r="0.45"/><circle cx="183.36" cy="633.67" r="0.45"/><circle cx="186.59" cy="629.87" r="0.45"/><circle cx="180.94" cy="622.38" r="0.45"/><circle cx="181.03" cy="625.6" r="0.45"/><circle cx="174.16" cy="629.55" r="0.45"/><circle cx="175.73" cy="620.29" r="0.45"/><circle cx="182.6" cy="620.3" r="0.45"/><circle cx="189.68" cy="623.3" r="0.45"/><circle cx="189.29" cy="632.45" r="0.45"/><circle cx="180.35" cy="626.89" r="0.45"/><circle cx="188.11" cy="621.6" r="0.45"/><circle cx="182.88" cy="619.98" r="0.45"/><circle cx="182.75" cy="621.45" r="0.45"/><circle cx="182.86" cy="631.21" r="0.45"/><circle cx="188.52" cy="624.96" r="0.45"/><circle cx="183.37" cy="630.16" r="0.45"/><circle cx="181.25" cy="616.38" r="0.45"/><circle cx="187.3" cy="617.27" r="0.45"/><circle cx="186.52" cy="617.05" r="0.45"/><circle cx="190.41" cy="616.48" r="0.45"/><circle cx="186.17" cy="634.8" r="0.45"/><circle cx="178.35" cy="634.69" r="0.45"/><circle cx="178.94" cy="611.3" r="0.45"/><circle cx="185.62" cy="629.05" r="0.45"/><circle cx="181.62" cy="605.82" r="0.45"/><circle cx="182.26" cy="621.8" r="0.45"/><circle cx="180.86" cy="621.91" r="0.45"/><circle cx="174.77" cy="619.92" r="0.45"/><circle cx="190.28" cy="635.13" r="0.45"/><circle cx="180.94" cy="618.87" r="0.45"/><circle cx="184.21" cy="631.65" r="0.45"/><circle cx="185.62" cy="615.58" r="0.45"/><circle cx="183.2" cy="625.01" r="0.45"/><circle cx="188.71" cy="632.61" r="0.45"/><circle cx="184.76" cy="632.76" r="0.45"/><circle cx="180.79" cy="635.07" r="0.45"/><circle cx="180.66" cy="626.85" r="0.45"/><circle cx="186.47" cy="617.42" r="0.45"/><circle cx="179.47" cy="611.34" r="0.45"/><circle cx="183.21" cy="623.6" r="0.45"/><circle cx="181.09" cy="627.59" r="0.45"/><circle cx="173.36" cy="623.83" r="0.45"/><circle cx="182.88" cy="622.09" r="0.45"/><circle cx="185.93" cy="636.62" r="0.45"/><circle cx="180.57" cy="617.23" r="0.45"/><circle cx="179.89" cy="624.67" r="0.45"/><circle cx="185.03" cy="617.8" r="0.45"/><circle cx="186.82" cy="616.62" r="0.45"/><circle cx="186.07" cy="627.08" r="0.45"/><circle cx="184.5" cy="639.53" r="0.45"/><circle cx="181.36" cy="622.81" r="0.45"/><circle cx="184.56" cy="630.21" r="0.45"/><circle cx="176.72" cy="625.98" r="0.45"/><circle cx="179.3" cy="628.54" r="0.45"/><circle cx="188.42" cy="624.37" r="0.45"/><circle cx="182.04" cy="625.32" r="0.45"/><circle cx="169.73" cy="629.55" r="0.45"/><circle cx="184.92" cy="625.18" r="0.45"/><circle cx="180.79" cy="618.74" r="0.45"/><circle cx="181.73" cy="632.74" r="0.45"/><circle cx="182.06" cy="633.7" r="0.45"/><circle cx="171.39" cy="620.69" r="0.45"/><circle cx="183.68" cy="623.9" r="0.45"/><circle cx="175.33" cy="619.21" r="0.45"/><circle cx="187.9" cy="614.7" r="0.45"/><circle cx="178.22" cy="616.1" r="0.45"/><circle cx="180.12" cy="628.63" r="0.45"/><circle cx="185.07" cy="609.38" r="0.45"/><circle cx="188.81" cy="619.73" r="0.45"/><circle cx="179.96" cy="636.01" r="0.45"/><circle cx="182.15" cy="615.07" r="0.45"/><circle cx="179.74" cy="618.77" r="0.45"/><circle cx="178.14" cy="621.6" r="0.45"/><circle cx="186.29" cy="626.52" r="0.45"/><circle cx="176.54" cy="644.07" r="0.45"/><circle cx="178.22" cy="624.83" r="0.45"/><circle cx="182.64" cy="629.48" r="0.45"/><circle cx="181.08" cy="627.29" r="0.45"/><circle cx="191.6" cy="624.69" r="0.45"/><circle cx="177.82" cy="626.36" r="0.45"/><circle cx="179.03" cy="621.34" r="0.45"/><circle cx="183.31" cy="626.43" r="0.45"/><circle cx="181.27" cy="630.11" r="0.45"/><circle cx="181.67" cy="614.61" r="0.45"/><circle cx="186.29" cy="621.38" r="0.45"/><circle cx="187.74" cy="619.29" r="0.45"/><circle cx="184.97" cy="626.27" r="0.45"/><circle cx="170.85" cy="613.25" r="0.45"/><circle cx="177.66" cy="634.13" r="0.45"/><circle cx="174.34" cy="630.58" r="0.45"/><circle cx="187.22" cy="627.57" r="0.45"/><circle cx="185.41" cy="620.43" r="0.45"/><circle cx="182.45" cy="625.62" r="0.45"/><circle cx="184.32" cy="629.09" r="0.45"/><circle cx="181.61" cy="618.95" r="0.45"/><circle cx="180.07" cy="626.96" r="0.45"/><circle cx="175.32" cy="614.97" r="0.45"/><circle cx="180.72" cy="620.02" r="0.45"/><circle cx="181.33" cy="604.83" r="0.45"/><circle cx="181.03" cy="622.19" r="0.45"/><circle cx="185.85" cy="609.75" r="0.45"/><circle cx="181.18" cy="627.42" r="0.45"/><circle cx="184.61" cy="632.61" r="0.45"/><circle cx="187.06" cy="616.44" r="0.45"/><circle cx="185.25" cy="621.59" r="0.45"/><circle cx="179.03" cy="635.05" r="0.45"/><circle cx="179.78" cy="617.84" r="0.45"/><circle cx="180.74" cy="617.86" r="0.45"/><circle cx="186.85" cy="626.74" r="0.45"/><circle cx="188.56" cy="626.97" r="0.45"/><circle cx="179.84" cy="631.55" r="0.45"/><circle cx="179.67" cy="620.67" r="0.45"/><circle cx="181.77" cy="624.28" r="0.45"/><circle cx="187.67" cy="619.63" r="0.45"/><circle cx="184.02" cy="623.8" r="0.45"/><circle cx="177.05" cy="616.1" r="0.45"/><circle cx="181.55" cy="626.92" r="0.45"/><circle cx="183.89" cy="627.46" r="0.45"/><circle cx="182.71" cy="620.76" r="0.45"/><circle cx="184.35" cy="616.76" r="0.45"/><circle cx="176.68" cy="621.6" r="0.45"/><circle cx="176.3" cy="620.28" r="0.45"/><circle cx="179.26" cy="620" r="0.45"/><circle cx="182.31" cy="618.22" r="0.45"/><circle cx="180.67" cy="611.64" r="0.45"/><circle cx="183.13" cy="617.63" r="0.45"/><circle cx="184.25" cy="603.56" r="0.45"/><circle cx="179.02" cy="625.76" r="0.45"/><circle cx="171.91" cy="621.4" r="0.45"/><circle cx="182.91" cy="624.74" r="0.45"/><circle cx="176.01" cy="625.66" r="0.45"/><circle cx="183.15" cy="616.97" r="0.45"/><circle cx="185.73" cy="623.64" r="0.45"/><circle cx="182.58" cy="620.75" r="0.45"/><circle cx="184.88" cy="624.7" r="0.45"/><circle cx="187.44" cy="627.27" r="0.45"/><circle cx="179.82" cy="622.38" r="0.45"/><circle cx="186.49" cy="621.36" r="0.45"/><circle cx="184.16" cy="627.78" r="0.45"/><circle cx="181.72" cy="607.13" r="0.45"/><circle cx="183.07" cy="625.55" r="0.45"/><circle cx="183.09" cy="618.5" r="0.45"/><circle cx="187.76" cy="623.02" r="0.45"/><circle cx="179.79" cy="618.8" r="0.45"/><circle cx="184.06" cy="616.09" r="0.45"/><circle cx="178.15" cy="638.5" r="0.45"/><circle cx="188.2" cy="631.64" r="0.45"/><circle cx="188.44" cy="628.32" r="0.45"/><circle cx="175.17" cy="632.67" r="0.45"/><circle cx="187.89" cy="627.56" r="0.45"/><circle cx="173.98" cy="633.02" r="0.45"/><circle cx="188.45" cy="620.43" r="0.45"/><circle cx="183.06" cy="629.64" r="0.45"/><circle cx="182.13" cy="631.98" r="0.45"/><circle cx="182.85" cy="629.02" r="0.45"/><circle cx="182.87" cy="613.26" r="0.45"/><circle cx="178.16" cy="647.01" r="0.45"/><circle cx="183.72" cy="633.52" r="0.45"/><circle cx="187.46" cy="636.46" r="0.45"/><circle cx="184.92" cy="619.67" r="0.45"/><circle cx="182.58" cy="610.05" r="0.45"/><circle cx="181.68" cy="630.59" r="0.45"/><circle cx="173.07" cy="625.43" r="0.45"/><circle cx="186.1" cy="633.66" r="0.45"/><circle cx="178.46" cy="619.26" r="0.45"/><circle cx="174.31" cy="616.58" r="0.45"/><circle cx="184.83" cy="639.06" r="0.45"/><circle cx="177.5" cy="634.03" r="0.45"/><circle cx="184.37" cy="620.4" r="0.45"/><circle cx="192.08" cy="605.64" r="0.45"/><circle cx="182.21" cy="625.59" r="0.45"/><circle cx="191.81" cy="637.09" r="0.45"/><circle cx="192.39" cy="624.98" r="0.45"/><circle cx="186.79" cy="633.94" r="0.45"/><circle cx="184.74" cy="626.62" r="0.45"/><circle cx="181.7" cy="621.03" r="0.45"/><circle cx="177.13" cy="638.21" r="0.45"/><circle cx="180.55" cy="608.84" r="0.45"/><circle cx="183.65" cy="623.75" r="0.45"/><circle cx="183.27" cy="637.23" r="0.45"/><circle cx="182.04" cy="622.06" r="0.45"/><circle cx="179.23" cy="623.84" r="0.45"/><circle cx="180.58" cy="625.49" r="0.45"/><circle cx="196.17" cy="626.87" r="0.45"/><circle cx="178.75" cy="638.08" r="0.45"/><circle cx="186.28" cy="629.95" r="0.45"/><circle cx="185.63" cy="629.98" r="0.45"/><circle cx="185.45" cy="634.29" r="0.45"/><circle cx="186.91" cy="633.84" r="0.45"/><circle cx="180.3" cy="623.98" r="0.45"/><circle cx="179.31" cy="630.99" r="0.45"/><circle cx="186.14" cy="620.6" r="0.45"/><circle cx="185.06" cy="643.16" r="0.45"/><circle cx="187.92" cy="615.85" r="0.45"/><circle cx="182.1" cy="628.64" r="0.45"/><circle cx="182.34" cy="626.82" r="0.45"/><circle cx="187.67" cy="626.4" r="0.45"/><circle cx="177.69" cy="629.22" r="0.45"/><circle cx="182.07" cy="624.83" r="0.45"/><circle cx="180.02" cy="613.9" r="0.45"/><circle cx="177.04" cy="621.42" r="0.45"/><circle cx="177.81" cy="604.17" r="0.45"/><circle cx="187.53" cy="615.52" r="0.45"/><circle cx="179.32" cy="627.88" r="0.45"/><circle cx="171.94" cy="633.8" r="0.45"/><circle cx="179.13" cy="628.82" r="0.45"/><circle cx="180.39" cy="626.23" r="0.45"/><circle cx="182.96" cy="623.99" r="0.45"/><circle cx="174.49" cy="613.26" r="0.45"/><circle cx="182.32" cy="634.3" r="0.45"/><circle cx="180.11" cy="627.89" r="0.45"/><circle cx="183.21" cy="627.53" r="0.45"/><circle cx="186.85" cy="613.05" r="0.45"/><circle cx="183.7" cy="622.7" r="0.45"/><circle cx="181.13" cy="617.76" r="0.45"/><circle cx="179.05" cy="616.48" r="0.45"/><circle cx="177.69" cy="642.34" r="0.45"/><circle cx="189.95" cy="624.07" r="0.45"/><circle cx="185.75" cy="616.87" r="0.45"/><circle cx="170.3" cy="610.68" r="0.45"/><circle cx="183.12" cy="634.52" r="0.45"/><circle cx="182.32" cy="616.69" r="0.45"/><circle cx="181.44" cy="616.71" r="0.45"/><circle cx="176.39" cy="622.3" r="0.45"/><circle cx="180.75" cy="618.07" r="0.45"/><circle cx="178.62" cy="617.2" r="0.45"/><circle cx="183.54" cy="634.18" r="0.45"/><circle cx="181.58" cy="640.34" r="0.45"/><circle cx="175.41" cy="626" r="0.45"/><circle cx="177.43" cy="622.82" r="0.45"/><circle cx="182.95" cy="628.08" r="0.45"/><circle cx="187.45" cy="619.94" r="0.45"/><circle cx="177.05" cy="622.62" r="0.45"/><circle cx="183.79" cy="618.89" r="0.45"/><circle cx="186.42" cy="636.31" r="0.45"/><circle cx="176.26" cy="626.65" r="0.45"/><circle cx="186.96" cy="609.95" r="0.45"/><circle cx="183.4" cy="622.35" r="0.45"/><circle cx="176.26" cy="633.62" r="0.45"/><circle cx="183.45" cy="620.5" r="0.45"/><circle cx="184.45" cy="628.7" r="0.45"/><circle cx="185.87" cy="628.24" r="0.45"/><circle cx="184.29" cy="615.4" r="0.45"/><circle cx="180.65" cy="624.94" r="0.45"/><circle cx="170.36" cy="639.58" r="0.45"/><circle cx="180.84" cy="616.29" r="0.45"/><circle cx="174.52" cy="625.82" r="0.45"/><circle cx="182.64" cy="619.73" r="0.45"/><circle cx="180.67" cy="617.51" r="0.45"/><circle cx="179.21" cy="623.28" r="0.45"/><circle cx="179.68" cy="628.96" r="0.45"/><circle cx="181.87" cy="624.96" r="0.45"/><circle cx="184.28" cy="633.29" r="0.45"/><circle cx="185.14" cy="625.67" r="0.45"/><circle cx="181.78" cy="618.11" r="0.45"/><circle cx="181" cy="628.99" r="0.45"/><circle cx="183.49" cy="621.17" r="0.45"/><circle cx="176.66" cy="612.8" r="0.45"/><circle cx="183.91" cy="631.51" r="0.45"/><circle cx="184.14" cy="613.96" r="0.45"/><circle cx="181.57" cy="625.62" r="0.45"/><circle cx="178.47" cy="626.53" r="0.45"/><circle cx="181.62" cy="617.9" r="0.45"/><circle cx="177.05" cy="629.93" r="0.45"/><circle cx="184.06" cy="617.51" r="0.45"/><circle cx="178.05" cy="630.5" r="0.45"/><circle cx="185.11" cy="621.77" r="0.45"/><circle cx="189.48" cy="621.88" r="0.45"/><circle cx="177.87" cy="631.98" r="0.45"/><circle cx="181.67" cy="626.52" r="0.45"/><circle cx="182.67" cy="616.68" r="0.45"/><circle cx="177.3" cy="622.58" r="0.45"/><circle cx="188.66" cy="616.67" r="0.45"/><circle cx="188.45" cy="625.61" r="0.45"/><circle cx="177.63" cy="625.95" r="0.45"/><circle cx="184.99" cy="617.43" r="0.45"/><circle cx="173.17" cy="626.6" r="0.45"/><circle cx="177.64" cy="627.22" r="0.45"/><circle cx="174.13" cy="622.96" r="0.45"/><circle cx="178.95" cy="613.19" r="0.45"/><circle cx="181.44" cy="625.25" r="0.45"/><circle cx="180.06" cy="615.38" r="0.45"/><circle cx="183.43" cy="611.24" r="0.45"/><circle cx="184.84" cy="627.58" r="0.45"/><circle cx="189.84" cy="630.44" r="0.45"/><circle cx="184.05" cy="625.92" r="0.45"/><circle cx="182.62" cy="614.33" r="0.45"/><circle cx="188.9" cy="627.84" r="0.45"/><circle cx="181.25" cy="615.64" r="0.45"/><circle cx="188.99" cy="627.88" r="0.45"/><circle cx="177.32" cy="628.9" r="0.45"/><circle cx="190.79" cy="623.83" r="0.45"/><circle cx="184.25" cy="620.97" r="0.45"/><circle cx="179.75" cy="631.82" r="0.45"/><circle cx="195.96" cy="624.85" r="0.45"/><circle cx="181.96" cy="629.78" r="0.45"/><circle cx="181.17" cy="629.31" r="0.45"/><circle cx="186.12" cy="616.6" r="0.45"/><circle cx="177.81" cy="623.46" r="0.45"/><circle cx="186.14" cy="626.02" r="0.45"/><circle cx="187.92" cy="613.98" r="0.45"/><circle cx="184.65" cy="619.47" r="0.45"/><circle cx="182.94" cy="626.34" r="0.45"/><circle cx="178.26" cy="622.33" r="0.45"/><circle cx="177.42" cy="625.94" r="0.45"/><circle cx="178.79" cy="620.4" r="0.45"/><circle cx="183.46" cy="619.25" r="0.45"/><circle cx="187.52" cy="619.36" r="0.45"/><circle cx="186.21" cy="626.06" r="0.45"/><circle cx="177.98" cy="622.41" r="0.45"/><circle cx="178.85" cy="621.37" r="0.45"/><circle cx="181.32" cy="637.23" r="0.45"/><circle cx="180.67" cy="635.41" r="0.45"/><circle cx="184.45" cy="614.5" r="0.45"/><circle cx="172.41" cy="628.93" r="0.45"/><circle cx="173.82" cy="629.22" r="0.45"/><circle cx="186.99" cy="626.84" r="0.45"/><circle cx="181.59" cy="622.18" r="0.45"/><circle cx="183.63" cy="621.8" r="0.45"/><circle cx="180.17" cy="621.31" r="0.45"/><circle cx="187.6" cy="619.49" r="0.45"/><circle cx="184.16" cy="615.64" r="0.45"/><circle cx="179.39" cy="614.02" r="0.45"/><circle cx="181.64" cy="628.96" r="0.45"/><circle cx="183.83" cy="620.42" r="0.45"/><circle cx="185.16" cy="621.48" r="0.45"/><circle cx="184.12" cy="625.99" r="0.45"/><circle cx="184.86" cy="606.01" r="0.45"/><circle cx="176.83" cy="629.62" r="0.45"/><circle cx="182.03" cy="640.29" r="0.45"/><circle cx="181.48" cy="620" r="0.45"/><circle cx="189.01" cy="628.03" r="0.45"/><circle cx="190.77" cy="627.7" r="0.45"/><circle cx="181.61" cy="629.25" r="0.45"/><circle cx="179.07" cy="620.76" r="0.45"/><circle cx="180.08" cy="622.39" r="0.45"/><circle cx="185.89" cy="620.51" r="0.45"/><circle cx="183.9" cy="620.38" r="0.45"/><circle cx="186.34" cy="604.01" r="0.45"/><circle cx="181.6" cy="625.22" r="0.45"/><circle cx="177.81" cy="631.35" r="0.45"/><circle cx="183.44" cy="633.29" r="0.45"/><circle cx="186.68" cy="628.65" r="0.45"/><circle cx="181.85" cy="616.12" r="0.45"/><circle cx="181.54" cy="620.67" r="0.45"/><circle cx="183.59" cy="620.63" r="0.45"/><circle cx="195.79" cy="612.42" r="0.45"/><circle cx="187.61" cy="620.59" r="0.45"/><circle cx="181.45" cy="630.71" r="0.45"/><circle cx="182.51" cy="615.21" r="0.45"/><circle cx="184.3" cy="622.59" r="0.45"/><circle cx="173.55" cy="625.43" r="0.45"/><circle cx="177.91" cy="618.61" r="0.45"/><circle cx="184.6" cy="626.17" r="0.45"/><circle cx="181.24" cy="639.72" r="0.45"/><circle cx="184.32" cy="619.55" r="0.45"/><circle cx="183.53" cy="623.12" r="0.45"/><circle cx="172.92" cy="612.59" r="0.45"/><circle cx="176.46" cy="638.96" r="0.45"/><circle cx="181.7" cy="622" r="0.45"/><circle cx="180.05" cy="631.1" r="0.45"/><circle cx="182.62" cy="636.35" r="0.45"/><circle cx="185.92" cy="635.91" r="0.45"/><circle cx="181.99" cy="626.72" r="0.45"/><circle cx="180.62" cy="622.78" r="0.45"/><circle cx="174.99" cy="619.79" r="0.45"/><circle cx="178.37" cy="619.28" r="0.45"/><circle cx="187.78" cy="625.89" r="0.45"/><circle cx="187.82" cy="630.21" r="0.45"/><circle cx="186.49" cy="631.26" r="0.45"/><circle cx="179.87" cy="629.8" r="0.45"/><circle cx="181.1" cy="620.16" r="0.45"/><circle cx="187.68" cy="639.65" r="0.45"/><circle cx="178.26" cy="636.56" r="0.45"/><circle cx="186.1" cy="617.87" r="0.45"/><circle cx="183.69" cy="626.68" r="0.45"/><circle cx="184.13" cy="621.42" r="0.45"/><circle cx="176.93" cy="624.23" r="0.45"/><circle cx="186.24" cy="629.67" r="0.45"/><circle cx="185.37" cy="631.97" r="0.45"/><circle cx="178.2" cy="623.69" r="0.45"/><circle cx="183.98" cy="631.22" r="0.45"/><circle cx="183.18" cy="627.74" r="0.45"/><circle cx="183.08" cy="639.16" r="0.45"/><circle cx="173.03" cy="623.82" r="0.45"/><circle cx="193.23" cy="625.7" r="0.45"/><circle cx="174.56" cy="624.97" r="0.45"/><circle cx="176.28" cy="619.09" r="0.45"/><circle cx="183.47" cy="636.38" r="0.45"/><circle cx="184.51" cy="628.83" r="0.45"/><circle cx="186.91" cy="625.45" r="0.45"/><circle cx="178.78" cy="623.29" r="0.45"/><circle cx="183.96" cy="622" r="0.45"/><circle cx="179.61" cy="621.41" r="0.45"/></g>
<g fill="#3a48a8" fill-opacity="0.45"><circle cx="182.38" cy="612.05" r="0.45"/><circle cx="185.78" cy="614.61" r="0.45"/><circle cx="186.09" cy="621.41" r="0.45"/><circle cx="186.72" cy="615.88" r="0.45"/><circle cx="183.18" cy="611.85" r="0.45"/><circle cx="186.9" cy="612.64" r="0.45"/><circle cx="187.03" cy="611.87" r="0.45"/><circle cx="186.32" cy="615.72" r="0.45"/><circle cx="188.4" cy="614.49" r="0.45"/><circle cx="185.1" cy="616.95" r="0.45"/><circle cx="186.13" cy="622.5" r="0.45"/><circle cx="185.38" cy="613.93" r="0.45"/><circle cx="185.23" cy="617.82" r="0.45"/><circle cx="186.56" cy="618.67" r="0.45"/><circle cx="182.67" cy="625.54" r="0.45"/><circle cx="190.43" cy="615.88" r="0.45"/><circle cx="183.09" cy="616.6" r="0.45"/><circle cx="187" cy="607.41" r="0.45"/><circle cx="186.03" cy="610.31" r="0.45"/><circle cx="187.1" cy="621.32" r="0.45"/><circle cx="188.49" cy="610.2" r="0.45"/><circle cx="189.32" cy="619.49" r="0.45"/><circle cx="185.13" cy="617.93" r="0.45"/><circle cx="189.65" cy="614.72" r="0.45"/><circle cx="185.96" cy="613.85" r="0.45"/><circle cx="188.78" cy="607.71" r="0.45"/><circle cx="189.41" cy="612.28" r="0.45"/><circle cx="188.23" cy="609.74" r="0.45"/><circle cx="183.75" cy="613.7" r="0.45"/><circle cx="187.99" cy="609.76" r="0.45"/><circle cx="187.45" cy="613.55" r="0.45"/><circle cx="188.99" cy="614.8" r="0.45"/><circle cx="187.17" cy="615.34" r="0.45"/><circle cx="190.31" cy="614.61" r="0.45"/><circle cx="185.94" cy="623.64" r="0.45"/><circle cx="186.19" cy="618.64" r="0.45"/><circle cx="184.23" cy="616.77" r="0.45"/><circle cx="180.54" cy="616.41" r="0.45"/><circle cx="184.44" cy="610.22" r="0.45"/><circle cx="182.59" cy="620.39" r="0.45"/><circle cx="187.03" cy="610.16" r="0.45"/><circle cx="190.36" cy="613.32" r="0.45"/><circle cx="185.11" cy="616.95" r="0.45"/><circle cx="183.26" cy="609.78" r="0.45"/><circle cx="184.21" cy="620.55" r="0.45"/><circle cx="188.29" cy="609.92" r="0.45"/><circle cx="188.9" cy="616.13" r="0.45"/><circle cx="187.2" cy="616.2" r="0.45"/><circle cx="186.99" cy="612.15" r="0.45"/><circle cx="183.81" cy="613.29" r="0.45"/><circle cx="185.11" cy="618.38" r="0.45"/><circle cx="183.07" cy="622.14" r="0.45"/><circle cx="184.48" cy="613.73" r="0.45"/><circle cx="187.69" cy="617.67" r="0.45"/><circle cx="185.18" cy="611.88" r="0.45"/><circle cx="183.59" cy="609.85" r="0.45"/><circle cx="188.75" cy="620.17" r="0.45"/><circle cx="190.49" cy="617.92" r="0.45"/><circle cx="186.8" cy="618.91" r="0.45"/><circle cx="188.29" cy="615" r="0.45"/><circle cx="186.85" cy="624.29" r="0.45"/><circle cx="181.92" cy="610.59" r="0.45"/><circle cx="183.68" cy="618.9" r="0.45"/><circle cx="188.86" cy="614.7" r="0.45"/><circle cx="187.62" cy="615.81" r="0.45"/><circle cx="186.72" cy="613.92" r="0.45"/><circle cx="185.93" cy="615.98" r="0.45"/><circle cx="188.72" cy="624.59" r="0.45"/><circle cx="181.63" cy="618.05" r="0.45"/><circle cx="185.99" cy="619.73" r="0.45"/><circle cx="188.55" cy="619.01" r="0.45"/><circle cx="187.95" cy="612.34" r="0.45"/><circle cx="181.9" cy="622.43" r="0.45"/><circle cx="188.91" cy="612.33" r="0.45"/><circle cx="189.11" cy="618.57" r="0.45"/><circle cx="180.09" cy="619.46" r="0.45"/><circle cx="183.62" cy="620.49" r="0.45"/><circle cx="184.36" cy="613.14" r="0.45"/><circle cx="182.28" cy="615.17" r="0.45"/><circle cx="188.45" cy="613.41" r="0.45"/><circle cx="181.52" cy="624.26" r="0.45"/><circle cx="190.44" cy="618.66" r="0.45"/><circle cx="184.71" cy="611.33" r="0.45"/><circle cx="182.05" cy="618.15" r="0.45"/><circle cx="189.13" cy="611.92" r="0.45"/><circle cx="186" cy="614.93" r="0.45"/><circle cx="185.38" cy="617.93" r="0.45"/><circle cx="191.04" cy="613.55" r="0.45"/><circle cx="188.05" cy="620.2" r="0.45"/><circle cx="185.32" cy="615.43" r="0.45"/><circle cx="182.77" cy="620.16" r="0.45"/><circle cx="184.72" cy="613.48" r="0.45"/><circle cx="186.16" cy="612.69" r="0.45"/><circle cx="183.49" cy="614.85" r="0.45"/><circle cx="189.58" cy="615.21" r="0.45"/><circle cx="187.27" cy="610.34" r="0.45"/><circle cx="181.31" cy="623.01" r="0.45"/><circle cx="185.04" cy="610.07" r="0.45"/><circle cx="185.74" cy="618.34" r="0.45"/><circle cx="181.84" cy="612.6" r="0.45"/><circle cx="186.63" cy="612.44" r="0.45"/><circle cx="187.92" cy="619.71" r="0.45"/><circle cx="187.07" cy="614.34" r="0.45"/><circle cx="185.89" cy="613.56" r="0.45"/><circle cx="185.69" cy="617.23" r="0.45"/><circle cx="185.28" cy="619.76" r="0.45"/><circle cx="192.26" cy="613.89" r="0.45"/><circle cx="186.83" cy="619.18" r="0.45"/><circle cx="187.56" cy="615.08" r="0.45"/><circle cx="184.84" cy="619.88" r="0.45"/><circle cx="187.51" cy="617.96" r="0.45"/><circle cx="184.06" cy="618.44" r="0.45"/><circle cx="187.92" cy="615.29" r="0.45"/><circle cx="187.56" cy="624.39" r="0.45"/><circle cx="181.47" cy="618.34" r="0.45"/><circle cx="183.17" cy="610.73" r="0.45"/><circle cx="185.43" cy="618.11" r="0.45"/><circle cx="186.13" cy="611.5" r="0.45"/><circle cx="182.53" cy="613.85" r="0.45"/><circle cx="186.03" cy="612.79" r="0.45"/></g>
<g fill="#3050a8" fill-opacity="0.5"><circle cx="188.35" cy="623.18" r="0.45"/><circle cx="190.41" cy="612.09" r="0.45"/><circle cx="191.3" cy="609.6" r="0.45"/><circle cx="193.12" cy="611.27" r="0.45"/><circle cx="194.92" cy="606.12" r="0.45"/><circle cx="188.4" cy="624.32" r="0.45"/><circle cx="192.77" cy="617.46" r="0.45"/><circle cx="196.65" cy="616.22" r="0.45"/><circle cx="193.11" cy="603.97" r="0.45"/><circle cx="188.04" cy="618.68" r="0.45"/><circle cx="195.1" cy="616.31" r="0.45"/><circle cx="187.86" cy="600.61" r="0.45"/><circle cx="189.73" cy="606.13" r="0.45"/><circle cx="193.49" cy="607.06" r="0.45"/><circle cx="197.91" cy="609.38" r="0.45"/><circle cx="191.26" cy="618.02" r="0.45"/><circle cx="194.02" cy="607.77" r="0.45"/><circle cx="195.55" cy="624.18" r="0.45"/><circle cx="189.19" cy="611.56" r="0.45"/><circle cx="189.66" cy="601.7" r="0.45"/><circle cx="194.94" cy="617.06" r="0.45"/><circle cx="196.02" cy="615.49" r="0.45"/><circle cx="186.75" cy="612.84" r="0.45"/><circle cx="190.93" cy="606.15" r="0.45"/><circle cx="189.56" cy="617.46" r="0.45"/><circle cx="192.08" cy="624.45" r="0.45"/><circle cx="194.46" cy="601.88" r="0.45"/><circle cx="195.78" cy="620.28" r="0.45"/><circle cx="193.1" cy="605.93" r="0.45"/><circle cx="198.5" cy="605.34" r="0.45"/><circle cx="192.74" cy="601.88" r="0.45"/><circle cx="189.1" cy="603.08" r="0.45"/><circle cx="196.39" cy="619.88" r="0.45"/><circle cx="191.74" cy="605.09" r="0.45"/><circle cx="192.81" cy="615.21" r="0.45"/><circle cx="188.25" cy="606.23" r="0.45"/><circle cx="192.68" cy="617.11" r="0.45"/><circle cx="193.23" cy="615.63" r="0.45"/><circle cx="189.11" cy="598.45" r="0.45"/><circle cx="193.97" cy="607.64" r="0.45"/><circle cx="192.61" cy="610.79" r="0.45"/><circle cx="194.5" cy="608.48" r="0.45"/><circle cx="197.51" cy="613.18" r="0.45"/><circle cx="194.65" cy="616.68" r="0.45"/><circle cx="196.24" cy="615.37" r="0.45"/><circle cx="187.53" cy="609.32" r="0.45"/><circle cx="198.81" cy="615.77" r="0.45"/><circle cx="194.75" cy="615.74" r="0.45"/><circle cx="191" cy="609.03" r="0.45"/><circle cx="190.98" cy="619.79" r="0.45"/><circle cx="194.14" cy="623.44" r="0.45"/><circle cx="194.56" cy="624.1" r="0.45"/><circle cx="194.43" cy="606.05" r="0.45"/><circle cx="198.45" cy="614.98" r="0.45"/><circle cx="196.73" cy="614.26" r="0.45"/><circle cx="191.97" cy="614" r="0.45"/><circle cx="189.48" cy="605.98" r="0.45"/><circle cx="190.21" cy="609.91" r="0.45"/><circle cx="188.75" cy="612.39" r="0.45"/><circle cx="193.96" cy="624.93" r="0.45"/><circle cx="198.78" cy="612.71" r="0.45"/><circle cx="195.78" cy="611.71" r="0.45"/><circle cx="194.23" cy="612.8" r="0.45"/><circle cx="191.3" cy="613.45" r="0.45"/><circle cx="188.35" cy="615.59" r="0.45"/><circle cx="192.09" cy="606.62" r="0.45"/><circle cx="191.87" cy="616.27" r="0.45"/><circle cx="190.86" cy="615.8" r="0.45"/><circle cx="194.79" cy="622.2" r="0.45"/><circle cx="189.58" cy="612.34" r="0.45"/><circle cx="194.61" cy="621.86" r="0.45"/><circle cx="193.83" cy="617.45" r="0.45"/><circle cx="188.38" cy="609.55" r="0.45"/><circle cx="198.23" cy="611.32" r="0.45"/><circle cx="199.82" cy="608.7" r="0.45"/><circle cx="192.12" cy="603.58" r="0.45"/><circle cx="195" cy="614.56" r="0.45"/><circle cx="199.37" cy="613.98" r="0.45"/><circle cx="192.21" cy="604.67" r="0.45"/><circle cx="192.74" cy="618.6" r="0.45"/><circle cx="195.34" cy="620.27" r="0.45"/><circle cx="195.73" cy="612.73" r="0.45"/><circle cx="194.91" cy="614.02" r="0.45"/><circle cx="188.79" cy="623.14" r="0.45"/><circle cx="194.18" cy="606.77" r="0.45"/><circle cx="194.22" cy="614.71" r="0.45"/><circle cx="196.15" cy="621.56" r="0.45"/><circle cx="183.39" cy="616.29" r="0.45"/><circle cx="197.84" cy="607.38" r="0.45"/><circle cx="187.12" cy="614.66" r="0.45"/><circle cx="194.06" cy="615.08" r="0.45"/><circle cx="189.49" cy="610.23" r="0.45"/><circle cx="193.62" cy="617.42" r="0.45"/><circle cx="199.94" cy="614.75" r="0.45"/><circle cx="191.09" cy="598.98" r="0.45"/><circle cx="196.4" cy="612.22" r="0.45"/><circle cx="192.65" cy="607.13" r="0.45"/><circle cx="195.33" cy="602.35" r="0.45"/><circle cx="193.34" cy="613.72" r="0.45"/><circle cx="193.95" cy="620.76" r="0.45"/><circle cx="192.69" cy="613.56" r="0.45"/><circle cx="195.72" cy="603.78" r="0.45"/><circle cx="192.07" cy="613.4" r="0.45"/><circle cx="196.03" cy="608.24" r="0.45"/><circle cx="195.55" cy="615.29" r="0.45"/><circle cx="188.28" cy="604.19" r="0.45"/><circle cx="188.45" cy="613.83" r="0.45"/><circle cx="193.66" cy="617.31" r="0.45"/><circle cx="195.61" cy="609.71" r="0.45"/><circle cx="196.4" cy="617.88" r="0.45"/><circle cx="194.5" cy="615.86" r="0.45"/><circle cx="188.91" cy="615.15" r="0.45"/><circle cx="189.72" cy="605.89" r="0.45"/><circle cx="191.89" cy="613.83" r="0.45"/><circle cx="192.83" cy="611.03" r="0.45"/><circle cx="189.82" cy="614.11" r="0.45"/><circle cx="190.64" cy="604.6" r="0.45"/><circle cx="193.3" cy="621.67" r="0.45"/><circle cx="191.71" cy="606.67" r="0.45"/><circle cx="197.41" cy="623.22" r="0.45"/><circle cx="192.06" cy="611.74" r="0.45"/><circle cx="193.67" cy="630.61" r="0.45"/><circle cx="193.43" cy="618.94" r="0.45"/><circle cx="194.41" cy="602.14" r="0.45"/><circle cx="189.49" cy="605.64" r="0.45"/><circle cx="194.38" cy="613.63" r="0.45"/><circle cx="198.7" cy="611.39" r="0.45"/><circle cx="193.98" cy="613.45" r="0.45"/><circle cx="193.44" cy="626.84" r="0.45"/><circle cx="193.91" cy="621.79" r="0.45"/><circle cx="197.14" cy="609.37" r="0.45"/><circle cx="195.19" cy="610.72" r="0.45"/><circle cx="193.35" cy="613.95" r="0.45"/><circle cx="193.07" cy="610.19" r="0.45"/><circle cx="197.96" cy="611.42" r="0.45"/><circle cx="195.24" cy="623.04" r="0.45"/><circle cx="195" cy="619.14" r="0.45"/><circle cx="197.43" cy="619.51" r="0.45"/><circle cx="198.48" cy="604.46" r="0.45"/><circle cx="199.25" cy="613.17" r="0.45"/><circle cx="187.42" cy="609.17" r="0.45"/><circle cx="188.55" cy="612.87" r="0.45"/><circle cx="188.25" cy="606.98" r="0.45"/><circle cx="193.94" cy="613.94" r="0.45"/><circle cx="190.45" cy="611.6" r="0.45"/><circle cx="192.68" cy="613.45" r="0.45"/><circle cx="192.98" cy="611.68" r="0.45"/><circle cx="195.81" cy="603.38" r="0.45"/><circle cx="191.42" cy="613.8" r="0.45"/><circle cx="191.72" cy="609.69" r="0.45"/><circle cx="191.6" cy="614.25" r="0.45"/><circle cx="196.98" cy="611.89" r="0.45"/><circle cx="192.15" cy="615.13" r="0.45"/><circle cx="192.23" cy="601.41" r="0.45"/><circle cx="193.86" cy="610.74" r="0.45"/><circle cx="191.17" cy="616.77" r="0.45"/><circle cx="193.14" cy="609.62" r="0.45"/><circle cx="186.04" cy="602.69" r="0.45"/><circle cx="193.04" cy="612.3" r="0.45"/><circle cx="194.4" cy="614.34" r="0.45"/><circle cx="191.47" cy="605.42" r="0.45"/><circle cx="189.5" cy="612.17" r="0.45"/><circle cx="189.33" cy="617.53" r="0.45"/><circle cx="188.76" cy="602.26" r="0.45"/><circle cx="192.38" cy="602.36" r="0.45"/><circle cx="198.21" cy="607.05" r="0.45"/><circle cx="192.83" cy="611.54" r="0.45"/><circle cx="190.38" cy="602.4" r="0.45"/><circle cx="187.05" cy="618.19" r="0.45"/><circle cx="196.27" cy="625.98" r="0.45"/><circle cx="188.32" cy="616.36" r="0.45"/><circle cx="192.96" cy="618.07" r="0.45"/><circle cx="191.36" cy="617.33" r="0.45"/><circle cx="195.87" cy="616.64" r="0.45"/><circle cx="197.63" cy="611.95" r="0.45"/><circle cx="197.94" cy="608.8" r="0.45"/><circle cx="198.33" cy="596.52" r="0.45"/><circle cx="193.04" cy="608.2" r="0.45"/><circle cx="193.01" cy="619.19" r="0.45"/><circle cx="195.3" cy="613.57" r="0.45"/><circle cx="198.45" cy="604.14" r="0.45"/><circle cx="190.39" cy="622.06" r="0.45"/><circle cx="194.05" cy="600.55" r="0.45"/><circle cx="194.09" cy="605.89" r="0.45"/><circle cx="197.73" cy="619.86" r="0.45"/><circle cx="191.25" cy="620.76" r="0.45"/><circle cx="190.33" cy="618.52" r="0.45"/><circle cx="194.85" cy="612.24" r="0.45"/><circle cx="188.45" cy="611.32" r="0.45"/><circle cx="185.67" cy="609.62" r="0.45"/><circle cx="187.08" cy="620.29" r="0.45"/><circle cx="189.91" cy="598.41" r="0.45"/><circle cx="194.87" cy="615.21" r="0.45"/><circle cx="191.38" cy="625.7" r="0.45"/><circle cx="195.48" cy="613.4" r="0.45"/><circle cx="190.94" cy="595.27" r="0.45"/><circle cx="194.53" cy="618.76" r="0.45"/><circle cx="191.11" cy="604.52" r="0.45"/><circle cx="192.87" cy="602.97" r="0.45"/><circle cx="193.02" cy="617.63" r="0.45"/><circle cx="197.83" cy="614.59" r="0.45"/><circle cx="193.63" cy="617.5" r="0.45"/><circle cx="197.48" cy="611.08" r="0.45"/><circle cx="189.07" cy="608.25" r="0.45"/><circle cx="188.97" cy="607.67" r="0.45"/><circle cx="192.61" cy="615.06" r="0.45"/><circle cx="193.5" cy="613.42" r="0.45"/><circle cx="191.86" cy="615.54" r="0.45"/><circle cx="195.83" cy="617.56" r="0.45"/><circle cx="197.79" cy="611.26" r="0.45"/><circle cx="192.2" cy="623.17" r="0.45"/><circle cx="193.64" cy="615.48" r="0.45"/><circle cx="191.92" cy="618.81" r="0.45"/><circle cx="191.71" cy="606.95" r="0.45"/><circle cx="192.81" cy="610.35" r="0.45"/><circle cx="195.67" cy="610.73" r="0.45"/><circle cx="193.39" cy="611.7" r="0.45"/><circle cx="194.09" cy="609.22" r="0.45"/><circle cx="196.53" cy="604.46" r="0.45"/><circle cx="191.77" cy="608.75" r="0.45"/><circle cx="195.07" cy="613.24" r="0.45"/><circle cx="194.55" cy="611.02" r="0.45"/><circle cx="190.7" cy="606.28" r="0.45"/><circle cx="191.93" cy="609.79" r="0.45"/><circle cx="193.9" cy="615.13" r="0.45"/><circle cx="196.13" cy="612.36" r="0.45"/><circle cx="190.6" cy="606.63" r="0.45"/><circle cx="193.2" cy="615.17" r="0.45"/><circle cx="199.23" cy="614.09" r="0.45"/><circle cx="198.62" cy="624.24" r="0.45"/><circle cx="189.64" cy="620.26" r="0.45"/><circle cx="196.64" cy="621.07" r="0.45"/><circle cx="192.97" cy="618.73" r="0.45"/><circle cx="191.46" cy="612.58" r="0.45"/><circle cx="193.06" cy="623.7" r="0.45"/><circle cx="192.31" cy="618.73" r="0.45"/><circle cx="193.21" cy="608.75" r="0.45"/><circle cx="193.78" cy="616.96" r="0.45"/><circle cx="190.72" cy="616.81" r="0.45"/><circle cx="190.72" cy="607.74" r="0.45"/><circle cx="193.7" cy="611.59" r="0.45"/><circle cx="189.86" cy="603.22" r="0.45"/><circle cx="193.07" cy="614.46" r="0.45"/><circle cx="191.53" cy="614.12" r="0.45"/><circle cx="188.11" cy="615.36" r="0.45"/><circle cx="194.33" cy="614.67" r="0.45"/><circle cx="191.04" cy="613.48" r="0.45"/><circle cx="193.42" cy="619.42" r="0.45"/><circle cx="193.88" cy="614.52" r="0.45"/><circle cx="190.68" cy="618.17" r="0.45"/><circle cx="196.75" cy="610.04" r="0.45"/><circle cx="195.04" cy="614.85" r="0.45"/><circle cx="192.85" cy="605.29" r="0.45"/><circle cx="198.62" cy="601.81" r="0.45"/><circle cx="193.97" cy="610.74" r="0.45"/><circle cx="196.66" cy="610.46" r="0.45"/><circle cx="193.13" cy="616.66" r="0.45"/><circle cx="194.46" cy="609.88" r="0.45"/><circle cx="195.18" cy="615.35" r="0.45"/><circle cx="196.16" cy="609.94" r="0.45"/><circle cx="192.85" cy="610.66" r="0.45"/><circle cx="190.32" cy="614.53" r="0.45"/><circle cx="194.31" cy="621.5" r="0.45"/><circle cx="191.96" cy="615.32" r="0.45"/><circle cx="196.65" cy="612.32" r="0.45"/><circle cx="193.2" cy="613.8" r="0.45"/><circle cx="190.8" cy="607.09" r="0.45"/><circle cx="196.56" cy="614.04" r="0.45"/><circle cx="192.76" cy="605.57" r="0.45"/><circle cx="193.38" cy="620.02" r="0.45"/><circle cx="189.33" cy="607.67" r="0.45"/><circle cx="196.54" cy="621.56" r="0.45"/><circle cx="197.95" cy="609.7" r="0.45"/><circle cx="194.91" cy="608.51" r="0.45"/><circle cx="194.66" cy="610.82" r="0.45"/><circle cx="193.63" cy="621.01" r="0.45"/><circle cx="194.08" cy="611.56" r="0.45"/><circle cx="193.18" cy="614.59" r="0.45"/><circle cx="191.37" cy="614.23" r="0.45"/><circle cx="194.91" cy="622.31" r="0.45"/><circle cx="186.44" cy="605.9" r="0.45"/><circle cx="189.06" cy="618.23" r="0.45"/><circle cx="200.77" cy="614.16" r="0.45"/><circle cx="193.39" cy="619.79" r="0.45"/><circle cx="185.23" cy="611.93" r="0.45"/><circle cx="183.09" cy="613.92" r="0.45"/><circle cx="191.38" cy="610.11" r="0.45"/><circle cx="194.08" cy="609.52" r="0.45"/><circle cx="196.53" cy="612.98" r="0.45"/><circle cx="194.21" cy="628.13" r="0.45"/><circle cx="191.57" cy="618.52" r="0.45"/><circle cx="190.37" cy="620.43" r="0.45"/><circle cx="196.06" cy="613.83" r="0.45"/><circle cx="196.15" cy="622.58" r="0.45"/><circle cx="197.38" cy="613.01" r="0.45"/><circle cx="192.83" cy="619.59" r="0.45"/><circle cx="188.33" cy="609.41" r="0.45"/><circle cx="194.54" cy="616.39" r="0.45"/><circle cx="198.91" cy="623.47" r="0.45"/><circle cx="194.03" cy="615.63" r="0.45"/></g>
<g fill="#8088d0" fill-opacity="0.3"><circle cx="173.16" cy="639.08" r="0.4"/><circle cx="182.55" cy="638.88" r="0.4"/><circle cx="181.36" cy="643.01" r="0.4"/><circle cx="175.34" cy="637.19" r="0.4"/><circle cx="170.44" cy="645.67" r="0.4"/><circle cx="174.73" cy="631.57" r="0.4"/><circle cx="185.58" cy="638.94" r="0.4"/><circle cx="186.74" cy="638.18" r="0.4"/><circle cx="193.62" cy="643.53" r="0.4"/><circle cx="181.89" cy="640.57" r="0.4"/><circle cx="179.78" cy="644" r="0.4"/><circle cx="192.87" cy="637.91" r="0.4"/><circle cx="174.54" cy="642.95" r="0.4"/><circle cx="187.33" cy="632.62" r="0.4"/><circle cx="176.9" cy="635.07" r="0.4"/><circle cx="184.33" cy="642.5" r="0.4"/><circle cx="176.65" cy="634.43" r="0.4"/><circle cx="185.05" cy="629.84" r="0.4"/><circle cx="184.82" cy="639.23" r="0.4"/><circle cx="192.37" cy="644.91" r="0.4"/><circle cx="177.57" cy="638.65" r="0.4"/><circle cx="179.36" cy="636.41" r="0.4"/><circle cx="181.48" cy="644.76" r="0.4"/><circle cx="172.08" cy="638.88" r="0.4"/><circle cx="189.83" cy="643.66" r="0.4"/><circle cx="176.18" cy="636.02" r="0.4"/><circle cx="175.94" cy="632.09" r="0.4"/><circle cx="187.8" cy="640.34" r="0.4"/><circle cx="176.88" cy="632.93" r="0.4"/><circle cx="178.73" cy="637.48" r="0.4"/><circle cx="191.17" cy="637.74" r="0.4"/><circle cx="181.68" cy="645.28" r="0.4"/><circle cx="184.95" cy="639.11" r="0.4"/><circle cx="168.11" cy="646.9" r="0.4"/><circle cx="184.53" cy="637.86" r="0.4"/><circle cx="180.48" cy="635.3" r="0.4"/><circle cx="175.7" cy="632.7" r="0.4"/><circle cx="183.96" cy="642.55" r="0.4"/><circle cx="182.03" cy="643.84" r="0.4"/><circle cx="184.16" cy="640.6" r="0.4"/></g>
<ellipse cx="192.8" cy="613.5" rx="6.5" ry="11.5" fill="url(#gblue)" transform="rotate(15 192.8 613.5)"/>
<ellipse cx="193" cy="614.5" rx="4.5" ry="9.5" fill="url(#ggreen2)" transform="rotate(15 193 614.5)"/>
<ellipse cx="194.2" cy="608.5" rx="4.2" ry="4.2" fill="url(#gyel)"/>
</g>
<line x1="186.8" y1="583.3" x2="186.8" y2="655.2" stroke="#7c7c7c" stroke-width="1.4"/>
<line x1="147.8" y1="614.5" x2="218" y2="614.5" stroke="#7c7c7c" stroke-width="1.4"/>
<rect x="147.8" y="583.3" width="70.2" height="71.9" fill="none" stroke="#8a8a8a" stroke-width="0.9"/>
<line x1="145.8" y1="587.5" x2="147.8" y2="587.5" stroke="#1e1e1e" stroke-width="0.7"/>
<text x="141.6" y="589.4" font-size="5.2" text-anchor="end">10</text>
<text x="141.8" y="587.2" font-size="3.7">5</text>
<line x1="146.7" y1="595.82" x2="147.8" y2="595.82" stroke="#1e1e1e" stroke-width="0.5"/>
<line x1="146.7" y1="593.72" x2="147.8" y2="593.72" stroke="#1e1e1e" stroke-width="0.5"/>
<line x1="146.7" y1="592.24" x2="147.8" y2="592.24" stroke="#1e1e1e" stroke-width="0.5"/>
<line x1="146.7" y1="591.08" x2="147.8" y2="591.08" stroke="#1e1e1e" stroke-width="0.5"/>
<line x1="146.7" y1="590.14" x2="147.8" y2="590.14" stroke="#1e1e1e" stroke-width="0.5"/>
<line x1="146.7" y1="589.34" x2="147.8" y2="589.34" stroke="#1e1e1e" stroke-width="0.5"/>
<line x1="146.7" y1="588.65" x2="147.8" y2="588.65" stroke="#1e1e1e" stroke-width="0.5"/>
<line x1="146.7" y1="588.04" x2="147.8" y2="588.04" stroke="#1e1e1e" stroke-width="0.5"/>
<line x1="145.8" y1="599.4" x2="147.8" y2="599.4" stroke="#1e1e1e" stroke-width="0.7"/>
<text x="141.6" y="601.3" font-size="5.2" text-anchor="end">10</text>
<text x="141.8" y="599.1" font-size="3.7">4</text>
<line x1="146.7" y1="607.09" x2="147.8" y2="607.09" stroke="#1e1e1e" stroke-width="0.5"/>
<line x1="146.7" y1="605.15" x2="147.8" y2="605.15" stroke="#1e1e1e" stroke-width="0.5"/>
<line x1="146.7" y1="603.78" x2="147.8" y2="603.78" stroke="#1e1e1e" stroke-width="0.5"/>
<line x1="146.7" y1="602.71" x2="147.8" y2="602.71" stroke="#1e1e1e" stroke-width="0.5"/>
<line x1="146.7" y1="601.84" x2="147.8" y2="601.84" stroke="#1e1e1e" stroke-width="0.5"/>
<line x1="146.7" y1="601.1" x2="147.8" y2="601.1" stroke="#1e1e1e" stroke-width="0.5"/>
<line x1="146.7" y1="600.47" x2="147.8" y2="600.47" stroke="#1e1e1e" stroke-width="0.5"/>
<line x1="146.7" y1="599.9" x2="147.8" y2="599.9" stroke="#1e1e1e" stroke-width="0.5"/>
<line x1="145.8" y1="610.4" x2="147.8" y2="610.4" stroke="#1e1e1e" stroke-width="0.7"/>
<text x="141.6" y="612.3" font-size="5.2" text-anchor="end">10</text>
<text x="141.8" y="610.1" font-size="3.7">3</text>
<line x1="146.7" y1="617.95" x2="147.8" y2="617.95" stroke="#1e1e1e" stroke-width="0.5"/>
<line x1="146.7" y1="616.05" x2="147.8" y2="616.05" stroke="#1e1e1e" stroke-width="0.5"/>
<line x1="146.7" y1="614.7" x2="147.8" y2="614.7" stroke="#1e1e1e" stroke-width="0.5"/>
<line x1="146.7" y1="613.65" x2="147.8" y2="613.65" stroke="#1e1e1e" stroke-width="0.5"/>
<line x1="146.7" y1="612.8" x2="147.8" y2="612.8" stroke="#1e1e1e" stroke-width="0.5"/>
<line x1="146.7" y1="612.07" x2="147.8" y2="612.07" stroke="#1e1e1e" stroke-width="0.5"/>
<line x1="146.7" y1="611.45" x2="147.8" y2="611.45" stroke="#1e1e1e" stroke-width="0.5"/>
<line x1="146.7" y1="610.89" x2="147.8" y2="610.89" stroke="#1e1e1e" stroke-width="0.5"/>
<line x1="145.8" y1="621.2" x2="147.8" y2="621.2" stroke="#1e1e1e" stroke-width="0.7"/>
<text x="141.6" y="623.1" font-size="5.2" text-anchor="end">10</text>
<text x="141.8" y="620.9" font-size="3.7">2</text>
<line x1="146.7" y1="629.03" x2="147.8" y2="629.03" stroke="#1e1e1e" stroke-width="0.5"/>
<line x1="146.7" y1="627.06" x2="147.8" y2="627.06" stroke="#1e1e1e" stroke-width="0.5"/>
<line x1="146.7" y1="625.66" x2="147.8" y2="625.66" stroke="#1e1e1e" stroke-width="0.5"/>
<line x1="146.7" y1="624.57" x2="147.8" y2="624.57" stroke="#1e1e1e" stroke-width="0.5"/>
<line x1="146.7" y1="623.68" x2="147.8" y2="623.68" stroke="#1e1e1e" stroke-width="0.5"/>
<line x1="146.7" y1="622.93" x2="147.8" y2="622.93" stroke="#1e1e1e" stroke-width="0.5"/>
<line x1="146.7" y1="622.29" x2="147.8" y2="622.29" stroke="#1e1e1e" stroke-width="0.5"/>
<line x1="146.7" y1="621.71" x2="147.8" y2="621.71" stroke="#1e1e1e" stroke-width="0.5"/>
<line x1="145.8" y1="632.4" x2="147.8" y2="632.4" stroke="#1e1e1e" stroke-width="0.7"/>
<text x="141.6" y="634.3" font-size="5.2" text-anchor="end">10</text>
<text x="141.8" y="632.1" font-size="3.7">1</text>
<line x1="146.7" y1="639.81" x2="147.8" y2="639.81" stroke="#1e1e1e" stroke-width="0.5"/>
<line x1="146.7" y1="637.94" x2="147.8" y2="637.94" stroke="#1e1e1e" stroke-width="0.5"/>
<line x1="146.7" y1="636.62" x2="147.8" y2="636.62" stroke="#1e1e1e" stroke-width="0.5"/>
<line x1="146.7" y1="635.59" x2="147.8" y2="635.59" stroke="#1e1e1e" stroke-width="0.5"/>
<line x1="146.7" y1="634.75" x2="147.8" y2="634.75" stroke="#1e1e1e" stroke-width="0.5"/>
<line x1="146.7" y1="634.04" x2="147.8" y2="634.04" stroke="#1e1e1e" stroke-width="0.5"/>
<line x1="146.7" y1="633.43" x2="147.8" y2="633.43" stroke="#1e1e1e" stroke-width="0.5"/>
<line x1="146.7" y1="632.89" x2="147.8" y2="632.89" stroke="#1e1e1e" stroke-width="0.5"/>
<line x1="145.8" y1="643" x2="147.8" y2="643" stroke="#1e1e1e" stroke-width="0.7"/>
<text x="141.6" y="644.9" font-size="5.2" text-anchor="end">10</text>
<text x="141.8" y="642.7" font-size="3.7">0</text>
<line x1="146.7" y1="650.97" x2="147.8" y2="650.97" stroke="#1e1e1e" stroke-width="0.5"/>
<line x1="146.7" y1="648.96" x2="147.8" y2="648.96" stroke="#1e1e1e" stroke-width="0.5"/>
<line x1="146.7" y1="647.54" x2="147.8" y2="647.54" stroke="#1e1e1e" stroke-width="0.5"/>
<line x1="146.7" y1="646.43" x2="147.8" y2="646.43" stroke="#1e1e1e" stroke-width="0.5"/>
<line x1="146.7" y1="645.53" x2="147.8" y2="645.53" stroke="#1e1e1e" stroke-width="0.5"/>
<line x1="146.7" y1="644.77" x2="147.8" y2="644.77" stroke="#1e1e1e" stroke-width="0.5"/>
<line x1="146.7" y1="644.1" x2="147.8" y2="644.1" stroke="#1e1e1e" stroke-width="0.5"/>
<line x1="146.7" y1="643.52" x2="147.8" y2="643.52" stroke="#1e1e1e" stroke-width="0.5"/>
<line x1="145.8" y1="654.4" x2="147.8" y2="654.4" stroke="#1e1e1e" stroke-width="0.7"/>
<text x="141.6" y="656.3" font-size="5.2" text-anchor="end">10</text>
<text x="141.8" y="654.1" font-size="3.7">−1</text>
<line x1="156" y1="655.2" x2="156" y2="657.4" stroke="#1e1e1e" stroke-width="0.7"/>
<text x="156.2" y="665.5" font-size="5.4" text-anchor="middle">10<tspan font-size="3.8" dy="-2.3">1</tspan></text>
<line x1="160.58" y1="655.2" x2="160.58" y2="656.3" stroke="#1e1e1e" stroke-width="0.5"/>
<line x1="163.25" y1="655.2" x2="163.25" y2="656.3" stroke="#1e1e1e" stroke-width="0.5"/>
<line x1="165.15" y1="655.2" x2="165.15" y2="656.3" stroke="#1e1e1e" stroke-width="0.5"/>
<line x1="166.62" y1="655.2" x2="166.62" y2="656.3" stroke="#1e1e1e" stroke-width="0.5"/>
<line x1="167.83" y1="655.2" x2="167.83" y2="656.3" stroke="#1e1e1e" stroke-width="0.5"/>
<line x1="168.85" y1="655.2" x2="168.85" y2="656.3" stroke="#1e1e1e" stroke-width="0.5"/>
<line x1="169.73" y1="655.2" x2="169.73" y2="656.3" stroke="#1e1e1e" stroke-width="0.5"/>
<line x1="170.5" y1="655.2" x2="170.5" y2="656.3" stroke="#1e1e1e" stroke-width="0.5"/>
<line x1="171" y1="655.2" x2="171" y2="657.4" stroke="#1e1e1e" stroke-width="0.7"/>
<text x="171.2" y="665.5" font-size="5.4" text-anchor="middle">10<tspan font-size="3.8" dy="-2.3">2</tspan></text>
<line x1="175.58" y1="655.2" x2="175.58" y2="656.3" stroke="#1e1e1e" stroke-width="0.5"/>
<line x1="178.25" y1="655.2" x2="178.25" y2="656.3" stroke="#1e1e1e" stroke-width="0.5"/>
<line x1="180.15" y1="655.2" x2="180.15" y2="656.3" stroke="#1e1e1e" stroke-width="0.5"/>
<line x1="181.62" y1="655.2" x2="181.62" y2="656.3" stroke="#1e1e1e" stroke-width="0.5"/>
<line x1="182.83" y1="655.2" x2="182.83" y2="656.3" stroke="#1e1e1e" stroke-width="0.5"/>
<line x1="183.85" y1="655.2" x2="183.85" y2="656.3" stroke="#1e1e1e" stroke-width="0.5"/>
<line x1="184.73" y1="655.2" x2="184.73" y2="656.3" stroke="#1e1e1e" stroke-width="0.5"/>
<line x1="185.5" y1="655.2" x2="185.5" y2="656.3" stroke="#1e1e1e" stroke-width="0.5"/>
<line x1="186.9" y1="655.2" x2="186.9" y2="657.4" stroke="#1e1e1e" stroke-width="0.7"/>
<text x="187.1" y="665.5" font-size="5.4" text-anchor="middle">10<tspan font-size="3.8" dy="-2.3">3</tspan></text>
<line x1="191.48" y1="655.2" x2="191.48" y2="656.3" stroke="#1e1e1e" stroke-width="0.5"/>
<line x1="194.15" y1="655.2" x2="194.15" y2="656.3" stroke="#1e1e1e" stroke-width="0.5"/>
<line x1="196.05" y1="655.2" x2="196.05" y2="656.3" stroke="#1e1e1e" stroke-width="0.5"/>
<line x1="197.52" y1="655.2" x2="197.52" y2="656.3" stroke="#1e1e1e" stroke-width="0.5"/>
<line x1="198.73" y1="655.2" x2="198.73" y2="656.3" stroke="#1e1e1e" stroke-width="0.5"/>
<line x1="199.75" y1="655.2" x2="199.75" y2="656.3" stroke="#1e1e1e" stroke-width="0.5"/>
<line x1="200.63" y1="655.2" x2="200.63" y2="656.3" stroke="#1e1e1e" stroke-width="0.5"/>
<line x1="201.4" y1="655.2" x2="201.4" y2="656.3" stroke="#1e1e1e" stroke-width="0.5"/>
<line x1="202.1" y1="655.2" x2="202.1" y2="657.4" stroke="#1e1e1e" stroke-width="0.7"/>
<text x="202.3" y="665.5" font-size="5.4" text-anchor="middle">10<tspan font-size="3.8" dy="-2.3">4</tspan></text>
<line x1="206.68" y1="655.2" x2="206.68" y2="656.3" stroke="#1e1e1e" stroke-width="0.5"/>
<line x1="209.35" y1="655.2" x2="209.35" y2="656.3" stroke="#1e1e1e" stroke-width="0.5"/>
<line x1="211.25" y1="655.2" x2="211.25" y2="656.3" stroke="#1e1e1e" stroke-width="0.5"/>
<line x1="212.72" y1="655.2" x2="212.72" y2="656.3" stroke="#1e1e1e" stroke-width="0.5"/>
<line x1="213.93" y1="655.2" x2="213.93" y2="656.3" stroke="#1e1e1e" stroke-width="0.5"/>
<line x1="214.95" y1="655.2" x2="214.95" y2="656.3" stroke="#1e1e1e" stroke-width="0.5"/>
<line x1="215.83" y1="655.2" x2="215.83" y2="656.3" stroke="#1e1e1e" stroke-width="0.5"/>
<line x1="216.6" y1="655.2" x2="216.6" y2="656.3" stroke="#1e1e1e" stroke-width="0.5"/>
<line x1="148.05" y1="655.2" x2="148.05" y2="656.3" stroke="#1e1e1e" stroke-width="0.5"/>
<line x1="149.95" y1="655.2" x2="149.95" y2="656.3" stroke="#1e1e1e" stroke-width="0.5"/>
<line x1="151.42" y1="655.2" x2="151.42" y2="656.3" stroke="#1e1e1e" stroke-width="0.5"/>
<line x1="152.63" y1="655.2" x2="152.63" y2="656.3" stroke="#1e1e1e" stroke-width="0.5"/>
<line x1="153.65" y1="655.2" x2="153.65" y2="656.3" stroke="#1e1e1e" stroke-width="0.5"/>
<line x1="154.53" y1="655.2" x2="154.53" y2="656.3" stroke="#1e1e1e" stroke-width="0.5"/>
<line x1="155.3" y1="655.2" x2="155.3" y2="656.3" stroke="#1e1e1e" stroke-width="0.5"/>
<text x="151.2" y="590.7" font-size="5.4" text-anchor="start">Q1</text>
<text x="151.2" y="597.3" font-size="5.4" text-anchor="start">2.25</text>
<text x="214.8" y="590.7" font-size="5.4" text-anchor="end">Q2</text>
<text x="214.8" y="597.3" font-size="5.4" text-anchor="end">52.7</text>
<text x="151.2" y="644.8" font-size="5.4" text-anchor="start">Q4</text>
<text x="151.2" y="651.6" font-size="5.4" text-anchor="start">15.6</text>
<text x="214.8" y="644.8" font-size="5.4" text-anchor="end">Q3</text>
<text x="214.8" y="651.6" font-size="5.4" text-anchor="end">29.4</text>
<text x="181.6" y="578.6" font-size="7.6" text-anchor="middle" textLength="49.8" lengthAdjust="spacingAndGlyphs">MARCH5 sh#1</text>
<clipPath id="gc2"><rect x="243" y="583.3" width="68.3" height="71.9"/></clipPath>
<g clip-path="url(#gc2)">
<ellipse cx="274" cy="626" rx="14" ry="14" fill="url(#gpale)"/>
<ellipse cx="276" cy="609" rx="9" ry="6" fill="url(#gpale)"/>
<g fill="#3a46b0" fill-opacity="0.45"><circle cx="267.72" cy="630.94" r="0.45"/><circle cx="278.92" cy="631.11" r="0.45"/><circle cx="279.25" cy="626.55" r="0.45"/><circle cx="267.21" cy="633.66" r="0.45"/><circle cx="269.35" cy="629.5" r="0.45"/><circle cx="271.47" cy="628.59" r="0.45"/><circle cx="271.04" cy="626.28" r="0.45"/><circle cx="262.87" cy="636.36" r="0.45"/><circle cx="273.6" cy="620.56" r="0.45"/><circle cx="267.6" cy="623.86" r="0.45"/><circle cx="268.49" cy="618" r="0.45"/><circle cx="275.6" cy="635.26" r="0.45"/><circle cx="271.17" cy="631.56" r="0.45"/><circle cx="275.74" cy="623.37" r="0.45"/><circle cx="279.07" cy="621.56" r="0.45"/><circle cx="269.4" cy="627.02" r="0.45"/><circle cx="279.27" cy="628.99" r="0.45"/><circle cx="271.83" cy="625.19" r="0.45"/><circle cx="272.99" cy="628.67" r="0.45"/><circle cx="276.44" cy="634.24" r="0.45"/><circle cx="276.47" cy="628.58" r="0.45"/><circle cx="271.68" cy="635.09" r="0.45"/><circle cx="273.58" cy="628.43" r="0.45"/><circle cx="282.18" cy="634.95" r="0.45"/><circle cx="275.56" cy="628.05" r="0.45"/><circle cx="269.08" cy="632.89" r="0.45"/><circle cx="270.06" cy="632.45" r="0.45"/><circle cx="268.28" cy="628.93" r="0.45"/><circle cx="274.67" cy="629.1" r="0.45"/><circle cx="273.76" cy="630.07" r="0.45"/><circle cx="266.46" cy="623.94" r="0.45"/><circle cx="271.71" cy="635.92" r="0.45"/><circle cx="271.83" cy="624.69" r="0.45"/><circle cx="268.95" cy="628.64" r="0.45"/><circle cx="278.86" cy="626.18" r="0.45"/><circle cx="275.52" cy="629.27" r="0.45"/><circle cx="270.59" cy="624.62" r="0.45"/><circle cx="271.68" cy="625.53" r="0.45"/><circle cx="275.39" cy="621.27" r="0.45"/><circle cx="278.56" cy="631.61" r="0.45"/><circle cx="275.61" cy="634.64" r="0.45"/><circle cx="275.74" cy="621.49" r="0.45"/><circle cx="272.79" cy="630.35" r="0.45"/><circle cx="268.83" cy="623.86" r="0.45"/><circle cx="274.83" cy="630.6" r="0.45"/><circle cx="270.22" cy="627.51" r="0.45"/><circle cx="269.78" cy="626.17" r="0.45"/><circle cx="272.19" cy="632.9" r="0.45"/><circle cx="263.86" cy="627.11" r="0.45"/><circle cx="281.16" cy="629.8" r="0.45"/><circle cx="273.33" cy="631.92" r="0.45"/><circle cx="267.12" cy="623.54" r="0.45"/><circle cx="263.6" cy="622.53" r="0.45"/><circle cx="273.84" cy="631.98" r="0.45"/><circle cx="270.27" cy="625.72" r="0.45"/><circle cx="274.67" cy="631.01" r="0.45"/><circle cx="273.88" cy="620.7" r="0.45"/><circle cx="269.58" cy="618.13" r="0.45"/><circle cx="273.8" cy="625.02" r="0.45"/><circle cx="268.99" cy="634.65" r="0.45"/><circle cx="279.58" cy="630.47" r="0.45"/><circle cx="273.98" cy="629.21" r="0.45"/><circle cx="269.36" cy="628.29" r="0.45"/><circle cx="282.74" cy="624.92" r="0.45"/><circle cx="268.95" cy="629.16" r="0.45"/><circle cx="277.28" cy="631.91" r="0.45"/><circle cx="267.32" cy="627.97" r="0.45"/><circle cx="271.08" cy="623.46" r="0.45"/><circle cx="272.91" cy="626.53" r="0.45"/><circle cx="277.42" cy="630.27" r="0.45"/><circle cx="268.33" cy="628.83" r="0.45"/><circle cx="270.59" cy="625.91" r="0.45"/><circle cx="269.9" cy="632.85" r="0.45"/><circle cx="270.29" cy="621.5" r="0.45"/><circle cx="268.36" cy="631.8" r="0.45"/><circle cx="284.02" cy="624.2" r="0.45"/><circle cx="270.6" cy="627.16" r="0.45"/><circle cx="264.97" cy="630.14" r="0.45"/><circle cx="272.23" cy="629.64" r="0.45"/><circle cx="284.48" cy="627.41" r="0.45"/><circle cx="276.75" cy="631.91" r="0.45"/><circle cx="269.1" cy="626.08" r="0.45"/><circle cx="280.83" cy="631.42" r="0.45"/><circle cx="273.27" cy="624.03" r="0.45"/><circle cx="277.22" cy="630.66" r="0.45"/><circle cx="284.25" cy="634.52" r="0.45"/><circle cx="276.8" cy="629.6" r="0.45"/><circle cx="272.83" cy="626.25" r="0.45"/><circle cx="274.15" cy="629.5" r="0.45"/><circle cx="275.99" cy="632.94" r="0.45"/><circle cx="274.17" cy="626.28" r="0.45"/><circle cx="276.82" cy="634.84" r="0.45"/><circle cx="268.04" cy="630.22" r="0.45"/><circle cx="275.43" cy="630.69" r="0.45"/><circle cx="275.2" cy="628.13" r="0.45"/><circle cx="271.96" cy="635.39" r="0.45"/><circle cx="281.76" cy="622.78" r="0.45"/><circle cx="258.93" cy="630.29" r="0.45"/><circle cx="268.9" cy="626.39" r="0.45"/><circle cx="263.98" cy="629.94" r="0.45"/><circle cx="272.21" cy="626.3" r="0.45"/><circle cx="277.31" cy="638.43" r="0.45"/><circle cx="280.39" cy="633.29" r="0.45"/><circle cx="270.3" cy="631.19" r="0.45"/><circle cx="272.3" cy="633.22" r="0.45"/><circle cx="275.61" cy="628.36" r="0.45"/><circle cx="275.46" cy="625.57" r="0.45"/><circle cx="276.74" cy="634.64" r="0.45"/><circle cx="270.57" cy="630.77" r="0.45"/><circle cx="263.6" cy="632.33" r="0.45"/><circle cx="277.19" cy="624.34" r="0.45"/><circle cx="281.82" cy="628.97" r="0.45"/><circle cx="263.26" cy="622.92" r="0.45"/><circle cx="277.17" cy="627.39" r="0.45"/><circle cx="278.4" cy="622.18" r="0.45"/><circle cx="271.97" cy="632.49" r="0.45"/><circle cx="268.88" cy="631.28" r="0.45"/><circle cx="270.58" cy="629.91" r="0.45"/><circle cx="274.23" cy="637.61" r="0.45"/><circle cx="265.88" cy="631.68" r="0.45"/><circle cx="279.51" cy="623.91" r="0.45"/><circle cx="272.94" cy="637.92" r="0.45"/><circle cx="278.11" cy="616.4" r="0.45"/><circle cx="271.23" cy="621.52" r="0.45"/><circle cx="274.12" cy="625.54" r="0.45"/><circle cx="269.5" cy="625.09" r="0.45"/><circle cx="274.07" cy="626.6" r="0.45"/><circle cx="267.67" cy="627.57" r="0.45"/><circle cx="274.67" cy="625.01" r="0.45"/><circle cx="278.44" cy="621.73" r="0.45"/><circle cx="274.68" cy="626.91" r="0.45"/><circle cx="280.91" cy="625.88" r="0.45"/><circle cx="268.96" cy="623.03" r="0.45"/><circle cx="283.11" cy="631.02" r="0.45"/><circle cx="266.7" cy="627.13" r="0.45"/><circle cx="267.38" cy="634.72" r="0.45"/><circle cx="274.73" cy="620.19" r="0.45"/><circle cx="273.62" cy="632.23" r="0.45"/><circle cx="272.51" cy="630.43" r="0.45"/><circle cx="271.91" cy="629.35" r="0.45"/><circle cx="273.64" cy="625.61" r="0.45"/><circle cx="274.36" cy="629.18" r="0.45"/><circle cx="272.3" cy="625.71" r="0.45"/><circle cx="267.08" cy="629.51" r="0.45"/><circle cx="276.91" cy="618.63" r="0.45"/><circle cx="269.64" cy="634.03" r="0.45"/><circle cx="277.39" cy="625.59" r="0.45"/><circle cx="279.73" cy="624.47" r="0.45"/><circle cx="268.28" cy="636.42" r="0.45"/><circle cx="270.17" cy="627.62" r="0.45"/><circle cx="263.68" cy="624.37" r="0.45"/><circle cx="266.22" cy="627.94" r="0.45"/><circle cx="262.69" cy="632.84" r="0.45"/><circle cx="270.6" cy="626.03" r="0.45"/><circle cx="269.11" cy="631.54" r="0.45"/><circle cx="280.7" cy="626.84" r="0.45"/><circle cx="281.13" cy="635.08" r="0.45"/><circle cx="279.68" cy="629.72" r="0.45"/><circle cx="264.53" cy="631.25" r="0.45"/><circle cx="270.31" cy="629.29" r="0.45"/><circle cx="262.42" cy="627.35" r="0.45"/><circle cx="273.75" cy="624.67" r="0.45"/><circle cx="274.07" cy="635.34" r="0.45"/><circle cx="273.73" cy="625.7" r="0.45"/><circle cx="285.26" cy="619.7" r="0.45"/><circle cx="267.58" cy="630.17" r="0.45"/><circle cx="269.34" cy="619.13" r="0.45"/><circle cx="273.89" cy="631.9" r="0.45"/><circle cx="268.25" cy="634.49" r="0.45"/><circle cx="275.18" cy="633.37" r="0.45"/><circle cx="264.33" cy="628.49" r="0.45"/><circle cx="281.06" cy="636.74" r="0.45"/><circle cx="279.56" cy="628.5" r="0.45"/><circle cx="273.48" cy="625.93" r="0.45"/><circle cx="278.38" cy="625.66" r="0.45"/><circle cx="273.16" cy="620.06" r="0.45"/><circle cx="264.44" cy="635.78" r="0.45"/><circle cx="272.82" cy="629.38" r="0.45"/><circle cx="260.73" cy="628.36" r="0.45"/><circle cx="283.6" cy="622.38" r="0.45"/><circle cx="259.75" cy="627.84" r="0.45"/><circle cx="269.65" cy="627.64" r="0.45"/><circle cx="265.76" cy="622.94" r="0.45"/><circle cx="265.87" cy="631.13" r="0.45"/><circle cx="272.25" cy="631.87" r="0.45"/><circle cx="266.71" cy="630.92" r="0.45"/><circle cx="270.13" cy="628.87" r="0.45"/><circle cx="277.51" cy="628.64" r="0.45"/><circle cx="270.61" cy="621.67" r="0.45"/><circle cx="272.84" cy="631.72" r="0.45"/><circle cx="269.1" cy="628.23" r="0.45"/><circle cx="262.99" cy="623.02" r="0.45"/><circle cx="274.67" cy="633.82" r="0.45"/><circle cx="270.83" cy="621.63" r="0.45"/><circle cx="270.46" cy="622.07" r="0.45"/><circle cx="271.02" cy="636.44" r="0.45"/><circle cx="274.11" cy="627.87" r="0.45"/><circle cx="278.08" cy="626.94" r="0.45"/><circle cx="274.29" cy="629.32" r="0.45"/><circle cx="274.9" cy="622.45" r="0.45"/><circle cx="276.33" cy="632.13" r="0.45"/><circle cx="260.2" cy="617.33" r="0.45"/><circle cx="267.67" cy="634.64" r="0.45"/><circle cx="272.61" cy="631.3" r="0.45"/><circle cx="275.49" cy="632.16" r="0.45"/><circle cx="269.06" cy="626.09" r="0.45"/><circle cx="274.53" cy="631.01" r="0.45"/><circle cx="275.6" cy="629.9" r="0.45"/><circle cx="269.88" cy="633.06" r="0.45"/><circle cx="275.05" cy="632.89" r="0.45"/><circle cx="258.76" cy="632.67" r="0.45"/><circle cx="259.31" cy="629.37" r="0.45"/><circle cx="268.91" cy="629" r="0.45"/><circle cx="269.92" cy="627.22" r="0.45"/><circle cx="273.54" cy="629.93" r="0.45"/><circle cx="268.18" cy="618.04" r="0.45"/><circle cx="268.28" cy="630.74" r="0.45"/><circle cx="267.93" cy="630.27" r="0.45"/><circle cx="270.5" cy="624.6" r="0.45"/><circle cx="278.83" cy="635.36" r="0.45"/><circle cx="271.94" cy="628.29" r="0.45"/><circle cx="277.7" cy="623" r="0.45"/><circle cx="267.77" cy="633.19" r="0.45"/><circle cx="277.39" cy="626.45" r="0.45"/><circle cx="268.28" cy="629.95" r="0.45"/><circle cx="264.86" cy="626.43" r="0.45"/><circle cx="271.24" cy="618.29" r="0.45"/><circle cx="275.71" cy="631.67" r="0.45"/><circle cx="278.3" cy="622.53" r="0.45"/><circle cx="265.52" cy="625.11" r="0.45"/><circle cx="265.4" cy="637.03" r="0.45"/><circle cx="267.18" cy="627.2" r="0.45"/><circle cx="273.62" cy="630.4" r="0.45"/><circle cx="280.4" cy="623.97" r="0.45"/><circle cx="277.29" cy="629.12" r="0.45"/><circle cx="266.12" cy="629.13" r="0.45"/><circle cx="264.86" cy="635.25" r="0.45"/><circle cx="268.52" cy="632.69" r="0.45"/><circle cx="279.59" cy="625.93" r="0.45"/><circle cx="267.61" cy="629.05" r="0.45"/><circle cx="266.78" cy="632.25" r="0.45"/><circle cx="273.46" cy="625.32" r="0.45"/><circle cx="268.76" cy="631.52" r="0.45"/><circle cx="264.59" cy="635.54" r="0.45"/><circle cx="268.21" cy="627.68" r="0.45"/><circle cx="267.45" cy="635.28" r="0.45"/><circle cx="277" cy="633.93" r="0.45"/><circle cx="276.07" cy="628.88" r="0.45"/><circle cx="281.77" cy="631.27" r="0.45"/><circle cx="274.89" cy="630.91" r="0.45"/><circle cx="276.53" cy="629.66" r="0.45"/><circle cx="271.59" cy="621.83" r="0.45"/><circle cx="283.77" cy="623.06" r="0.45"/><circle cx="260.71" cy="625.52" r="0.45"/><circle cx="283.09" cy="633.6" r="0.45"/><circle cx="269.2" cy="629.61" r="0.45"/><circle cx="272.37" cy="620.19" r="0.45"/><circle cx="270.67" cy="629.72" r="0.45"/><circle cx="278.92" cy="623.47" r="0.45"/><circle cx="260.13" cy="621.9" r="0.45"/><circle cx="274.31" cy="628.84" r="0.45"/><circle cx="273.32" cy="629.12" r="0.45"/><circle cx="270.49" cy="622.78" r="0.45"/><circle cx="274.99" cy="630.12" r="0.45"/><circle cx="275.67" cy="633.72" r="0.45"/><circle cx="265.7" cy="618.69" r="0.45"/><circle cx="262.71" cy="637.47" r="0.45"/><circle cx="267.48" cy="630.17" r="0.45"/><circle cx="272.42" cy="631.56" r="0.45"/><circle cx="290.14" cy="626.33" r="0.45"/><circle cx="271.57" cy="625.99" r="0.45"/><circle cx="273.85" cy="630.68" r="0.45"/><circle cx="267.17" cy="634.03" r="0.45"/><circle cx="278.8" cy="630.37" r="0.45"/><circle cx="271.89" cy="627.51" r="0.45"/><circle cx="263.46" cy="631.25" r="0.45"/><circle cx="267.14" cy="626.39" r="0.45"/><circle cx="277.98" cy="624.64" r="0.45"/><circle cx="269.63" cy="632.1" r="0.45"/><circle cx="282.71" cy="625.6" r="0.45"/><circle cx="278.57" cy="625.75" r="0.45"/><circle cx="274.63" cy="630.53" r="0.45"/><circle cx="266.24" cy="632.81" r="0.45"/><circle cx="282.4" cy="628.72" r="0.45"/><circle cx="273.98" cy="623.58" r="0.45"/><circle cx="282.33" cy="628.76" r="0.45"/><circle cx="265.48" cy="631.71" r="0.45"/><circle cx="264.46" cy="625.62" r="0.45"/><circle cx="260.78" cy="634.28" r="0.45"/><circle cx="284.66" cy="625.83" r="0.45"/><circle cx="268.91" cy="626.07" r="0.45"/><circle cx="269.39" cy="630.83" r="0.45"/><circle cx="280.52" cy="624.27" r="0.45"/><circle cx="274.92" cy="620.93" r="0.45"/><circle cx="280.88" cy="628.13" r="0.45"/><circle cx="268.65" cy="634.93" r="0.45"/><circle cx="271.92" cy="634.25" r="0.45"/><circle cx="278.41" cy="635.46" r="0.45"/><circle cx="268.1" cy="628.74" r="0.45"/><circle cx="274.53" cy="627.69" r="0.45"/><circle cx="280.88" cy="625.5" r="0.45"/><circle cx="278.01" cy="634.23" r="0.45"/><circle cx="261.76" cy="624.43" r="0.45"/><circle cx="267.53" cy="626.21" r="0.45"/><circle cx="274.65" cy="627.77" r="0.45"/><circle cx="272.93" cy="626.57" r="0.45"/><circle cx="272.05" cy="630.53" r="0.45"/><circle cx="276.6" cy="625.22" r="0.45"/><circle cx="271.87" cy="625.3" r="0.45"/><circle cx="271.52" cy="622.47" r="0.45"/><circle cx="277.75" cy="631.32" r="0.45"/><circle cx="271.83" cy="625.63" r="0.45"/><circle cx="269.99" cy="625.71" r="0.45"/><circle cx="264.01" cy="635.36" r="0.45"/><circle cx="290.59" cy="623.34" r="0.45"/><circle cx="266.08" cy="630.93" r="0.45"/><circle cx="275.83" cy="621.89" r="0.45"/><circle cx="261.93" cy="630.78" r="0.45"/><circle cx="261.55" cy="634.48" r="0.45"/><circle cx="269.78" cy="628.86" r="0.45"/><circle cx="272.48" cy="626.15" r="0.45"/><circle cx="271.72" cy="627.24" r="0.45"/><circle cx="279.34" cy="628.11" r="0.45"/><circle cx="272.32" cy="626.28" r="0.45"/><circle cx="269.01" cy="625.41" r="0.45"/><circle cx="272.56" cy="636.21" r="0.45"/><circle cx="278.63" cy="629.49" r="0.45"/><circle cx="281.68" cy="632.76" r="0.45"/><circle cx="273.64" cy="627.81" r="0.45"/><circle cx="266.46" cy="629.54" r="0.45"/><circle cx="270.76" cy="621.84" r="0.45"/><circle cx="265.43" cy="636.63" r="0.45"/><circle cx="273.68" cy="630.59" r="0.45"/><circle cx="273.6" cy="626.55" r="0.45"/><circle cx="275.04" cy="633.05" r="0.45"/><circle cx="270.8" cy="630.65" r="0.45"/><circle cx="278.14" cy="626.47" r="0.45"/><circle cx="273.43" cy="625.39" r="0.45"/><circle cx="275.82" cy="626.95" r="0.45"/><circle cx="278.81" cy="625.29" r="0.45"/><circle cx="281.79" cy="627.2" r="0.45"/><circle cx="267.88" cy="624.7" r="0.45"/><circle cx="276.14" cy="624.9" r="0.45"/><circle cx="282.42" cy="633.89" r="0.45"/><circle cx="275.35" cy="622.53" r="0.45"/><circle cx="272.37" cy="625.45" r="0.45"/><circle cx="262.54" cy="630.29" r="0.45"/><circle cx="284.61" cy="626.25" r="0.45"/><circle cx="276.95" cy="633.89" r="0.45"/><circle cx="267.22" cy="627.07" r="0.45"/><circle cx="273.98" cy="630.48" r="0.45"/><circle cx="266.2" cy="629.41" r="0.45"/><circle cx="271.91" cy="632.5" r="0.45"/><circle cx="263.71" cy="626.13" r="0.45"/><circle cx="269.73" cy="627.17" r="0.45"/><circle cx="276.47" cy="625.86" r="0.45"/><circle cx="287.56" cy="625.53" r="0.45"/><circle cx="277.12" cy="632.78" r="0.45"/><circle cx="277.81" cy="627.64" r="0.45"/><circle cx="267.94" cy="627.43" r="0.45"/><circle cx="276.16" cy="629.01" r="0.45"/><circle cx="275.7" cy="630.91" r="0.45"/><circle cx="267.64" cy="624.57" r="0.45"/><circle cx="280.43" cy="626.46" r="0.45"/><circle cx="263.79" cy="636.31" r="0.45"/><circle cx="267.91" cy="624.58" r="0.45"/><circle cx="277.82" cy="623.75" r="0.45"/><circle cx="267.71" cy="632.9" r="0.45"/><circle cx="267.99" cy="639.03" r="0.45"/><circle cx="273.04" cy="639.77" r="0.45"/><circle cx="273.21" cy="628.73" r="0.45"/><circle cx="268.97" cy="627.57" r="0.45"/><circle cx="269.74" cy="628.4" r="0.45"/><circle cx="276.74" cy="623.16" r="0.45"/><circle cx="267.45" cy="619.71" r="0.45"/><circle cx="280.77" cy="628.19" r="0.45"/><circle cx="272.42" cy="628.26" r="0.45"/><circle cx="278.02" cy="629.85" r="0.45"/><circle cx="277.18" cy="627.8" r="0.45"/><circle cx="271.83" cy="628.27" r="0.45"/><circle cx="262.26" cy="633.08" r="0.45"/><circle cx="263.82" cy="624.32" r="0.45"/><circle cx="276.19" cy="628.73" r="0.45"/><circle cx="276.97" cy="635.67" r="0.45"/><circle cx="282.74" cy="634.31" r="0.45"/><circle cx="271.26" cy="637.11" r="0.45"/><circle cx="267.66" cy="628.14" r="0.45"/><circle cx="277.98" cy="627.6" r="0.45"/><circle cx="271.83" cy="627.02" r="0.45"/><circle cx="280.01" cy="618.14" r="0.45"/><circle cx="279.5" cy="632.95" r="0.45"/><circle cx="272.1" cy="630.86" r="0.45"/><circle cx="267.17" cy="633.16" r="0.45"/><circle cx="289.33" cy="624.64" r="0.45"/><circle cx="280.18" cy="628.26" r="0.45"/><circle cx="270.64" cy="626.45" r="0.45"/><circle cx="271.46" cy="623.24" r="0.45"/><circle cx="265.03" cy="635.48" r="0.45"/><circle cx="272.4" cy="630.82" r="0.45"/><circle cx="274.21" cy="630.5" r="0.45"/><circle cx="264.11" cy="624.52" r="0.45"/><circle cx="275.98" cy="632.69" r="0.45"/><circle cx="266.21" cy="626.07" r="0.45"/><circle cx="266.62" cy="631.24" r="0.45"/><circle cx="274.39" cy="628.64" r="0.45"/><circle cx="268.93" cy="629.94" r="0.45"/><circle cx="272.68" cy="625.38" r="0.45"/><circle cx="274.33" cy="625.71" r="0.45"/><circle cx="277.74" cy="631.13" r="0.45"/><circle cx="268.72" cy="630.97" r="0.45"/><circle cx="272.87" cy="625.54" r="0.45"/><circle cx="267.47" cy="621.52" r="0.45"/><circle cx="266.28" cy="629.96" r="0.45"/><circle cx="279.14" cy="625.86" r="0.45"/><circle cx="273.38" cy="629.95" r="0.45"/><circle cx="276.79" cy="630.36" r="0.45"/><circle cx="279.25" cy="631.72" r="0.45"/><circle cx="268.31" cy="630.17" r="0.45"/><circle cx="259.62" cy="627.75" r="0.45"/><circle cx="272.61" cy="630.93" r="0.45"/><circle cx="270.84" cy="632" r="0.45"/><circle cx="279.77" cy="624.97" r="0.45"/><circle cx="269.51" cy="629.59" r="0.45"/><circle cx="275.2" cy="629.1" r="0.45"/><circle cx="277.07" cy="623.53" r="0.45"/><circle cx="276.77" cy="633.4" r="0.45"/><circle cx="278.61" cy="630.29" r="0.45"/><circle cx="271.19" cy="630.18" r="0.45"/><circle cx="272.09" cy="621.84" r="0.45"/><circle cx="269.17" cy="628.33" r="0.45"/><circle cx="269.66" cy="624.58" r="0.45"/><circle cx="271.22" cy="626.94" r="0.45"/><circle cx="272.88" cy="628.3" r="0.45"/><circle cx="273.45" cy="632.67" r="0.45"/><circle cx="273.25" cy="630.21" r="0.45"/><circle cx="265.78" cy="616.12" r="0.45"/><circle cx="270.3" cy="631.34" r="0.45"/><circle cx="270.63" cy="625.88" r="0.45"/><circle cx="265.68" cy="632.25" r="0.45"/><circle cx="269.6" cy="629.53" r="0.45"/><circle cx="278.72" cy="630.75" r="0.45"/><circle cx="284.84" cy="627.94" r="0.45"/><circle cx="277.76" cy="631.41" r="0.45"/><circle cx="268.9" cy="628.7" r="0.45"/><circle cx="269.39" cy="624.2" r="0.45"/><circle cx="274.15" cy="625.25" r="0.45"/><circle cx="281.74" cy="625.39" r="0.45"/><circle cx="269.51" cy="628.88" r="0.45"/><circle cx="269.65" cy="628.72" r="0.45"/><circle cx="269.16" cy="622.53" r="0.45"/></g>
<g fill="#3050a8" fill-opacity="0.5"><circle cx="280.71" cy="605.62" r="0.45"/><circle cx="290.15" cy="616.89" r="0.45"/><circle cx="286.87" cy="610.98" r="0.45"/><circle cx="286.15" cy="615.94" r="0.45"/><circle cx="283.17" cy="608.81" r="0.45"/><circle cx="284.36" cy="622.18" r="0.45"/><circle cx="283.96" cy="621.62" r="0.45"/><circle cx="285.38" cy="631.72" r="0.45"/><circle cx="286.31" cy="614.21" r="0.45"/><circle cx="289.74" cy="619.69" r="0.45"/><circle cx="288.75" cy="607.05" r="0.45"/><circle cx="289.23" cy="624.92" r="0.45"/><circle cx="286.25" cy="610.85" r="0.45"/><circle cx="283.88" cy="620.61" r="0.45"/><circle cx="287.21" cy="614.04" r="0.45"/><circle cx="283.54" cy="624.54" r="0.45"/><circle cx="288.6" cy="613.87" r="0.45"/><circle cx="290.04" cy="607.82" r="0.45"/><circle cx="288.62" cy="607.51" r="0.45"/><circle cx="289.89" cy="612.21" r="0.45"/><circle cx="289.44" cy="611.3" r="0.45"/><circle cx="287.46" cy="621.42" r="0.45"/><circle cx="284.34" cy="614.63" r="0.45"/><circle cx="284.49" cy="619.54" r="0.45"/><circle cx="285.05" cy="611.58" r="0.45"/><circle cx="286.01" cy="621.57" r="0.45"/><circle cx="284" cy="613.83" r="0.45"/><circle cx="285.71" cy="610.43" r="0.45"/><circle cx="284.61" cy="612.96" r="0.45"/><circle cx="286.97" cy="603.94" r="0.45"/><circle cx="287.06" cy="606.3" r="0.45"/><circle cx="286.54" cy="628.82" r="0.45"/><circle cx="284.18" cy="613.57" r="0.45"/><circle cx="285.89" cy="620.38" r="0.45"/><circle cx="285.36" cy="602.39" r="0.45"/><circle cx="282.63" cy="615.15" r="0.45"/><circle cx="287.11" cy="620.94" r="0.45"/><circle cx="285.21" cy="618.33" r="0.45"/><circle cx="283.95" cy="622.42" r="0.45"/><circle cx="286.33" cy="609.59" r="0.45"/><circle cx="286.93" cy="625.33" r="0.45"/><circle cx="284.47" cy="605.94" r="0.45"/><circle cx="284.06" cy="606.49" r="0.45"/><circle cx="286.38" cy="616.28" r="0.45"/><circle cx="286.11" cy="615.28" r="0.45"/><circle cx="289.34" cy="612.12" r="0.45"/><circle cx="283.49" cy="599.14" r="0.45"/><circle cx="287.08" cy="609.58" r="0.45"/><circle cx="285.9" cy="616.66" r="0.45"/><circle cx="287.61" cy="603.81" r="0.45"/><circle cx="284.2" cy="614.48" r="0.45"/><circle cx="286.15" cy="621.45" r="0.45"/><circle cx="285.3" cy="600.58" r="0.45"/><circle cx="289.31" cy="603.37" r="0.45"/><circle cx="284.17" cy="616.53" r="0.45"/><circle cx="283.96" cy="630.18" r="0.45"/><circle cx="287.07" cy="617.48" r="0.45"/><circle cx="285.45" cy="628.41" r="0.45"/><circle cx="287.8" cy="609.34" r="0.45"/><circle cx="289.51" cy="603.02" r="0.45"/><circle cx="285.09" cy="615.88" r="0.45"/><circle cx="286.83" cy="607.77" r="0.45"/><circle cx="290.29" cy="623.56" r="0.45"/><circle cx="284.26" cy="616.43" r="0.45"/><circle cx="284.98" cy="611.19" r="0.45"/><circle cx="288.87" cy="614.82" r="0.45"/><circle cx="286.24" cy="614.67" r="0.45"/><circle cx="283.69" cy="621.94" r="0.45"/><circle cx="284.7" cy="622.5" r="0.45"/><circle cx="285.4" cy="611.04" r="0.45"/><circle cx="290.07" cy="615.24" r="0.45"/><circle cx="284.97" cy="610.52" r="0.45"/><circle cx="287.95" cy="626.16" r="0.45"/><circle cx="287.97" cy="611.44" r="0.45"/><circle cx="283.81" cy="609.63" r="0.45"/><circle cx="286.21" cy="615.59" r="0.45"/><circle cx="284.93" cy="622.32" r="0.45"/><circle cx="284.2" cy="609.36" r="0.45"/><circle cx="287.69" cy="617.13" r="0.45"/><circle cx="285.56" cy="620.25" r="0.45"/><circle cx="283.12" cy="624.62" r="0.45"/><circle cx="291.75" cy="626.69" r="0.45"/><circle cx="286.79" cy="626.79" r="0.45"/><circle cx="286.63" cy="622.64" r="0.45"/><circle cx="286.02" cy="615.26" r="0.45"/><circle cx="287.76" cy="602.65" r="0.45"/><circle cx="286" cy="625.17" r="0.45"/><circle cx="279.49" cy="616.5" r="0.45"/><circle cx="288.71" cy="616.13" r="0.45"/><circle cx="286.97" cy="623.01" r="0.45"/><circle cx="287.31" cy="601.7" r="0.45"/><circle cx="284.23" cy="612.08" r="0.45"/><circle cx="286.85" cy="611.09" r="0.45"/><circle cx="286.25" cy="624.84" r="0.45"/><circle cx="279.46" cy="621.49" r="0.45"/><circle cx="288.75" cy="617.91" r="0.45"/><circle cx="286.54" cy="614.41" r="0.45"/><circle cx="287.37" cy="615.57" r="0.45"/><circle cx="284.76" cy="619.08" r="0.45"/><circle cx="284.52" cy="613.74" r="0.45"/><circle cx="285.64" cy="606.52" r="0.45"/><circle cx="287.95" cy="613.55" r="0.45"/><circle cx="283.71" cy="613.5" r="0.45"/><circle cx="283.2" cy="623.32" r="0.45"/><circle cx="287.74" cy="626.89" r="0.45"/><circle cx="285.14" cy="618.58" r="0.45"/><circle cx="284.18" cy="608.47" r="0.45"/><circle cx="286.29" cy="616.67" r="0.45"/><circle cx="288.71" cy="612.27" r="0.45"/><circle cx="289.14" cy="620.26" r="0.45"/><circle cx="284.4" cy="612.84" r="0.45"/><circle cx="284.31" cy="625.06" r="0.45"/><circle cx="285.18" cy="619.74" r="0.45"/><circle cx="288.69" cy="612.35" r="0.45"/><circle cx="285.34" cy="616.23" r="0.45"/><circle cx="284.65" cy="605.81" r="0.45"/><circle cx="284.19" cy="616.19" r="0.45"/><circle cx="286.96" cy="625.42" r="0.45"/><circle cx="282.13" cy="617.26" r="0.45"/><circle cx="283.74" cy="621.48" r="0.45"/><circle cx="288.16" cy="614.82" r="0.45"/><circle cx="290.02" cy="611.59" r="0.45"/><circle cx="285.23" cy="607.2" r="0.45"/><circle cx="284.93" cy="614.75" r="0.45"/><circle cx="288.11" cy="622.28" r="0.45"/><circle cx="285.86" cy="609.28" r="0.45"/><circle cx="285.7" cy="611.23" r="0.45"/><circle cx="285.38" cy="611.4" r="0.45"/><circle cx="284.42" cy="613.66" r="0.45"/><circle cx="285.28" cy="612.91" r="0.45"/><circle cx="283.19" cy="614.94" r="0.45"/><circle cx="287.87" cy="618.18" r="0.45"/><circle cx="285.19" cy="606.64" r="0.45"/><circle cx="283.4" cy="606.43" r="0.45"/><circle cx="284.97" cy="612" r="0.45"/><circle cx="282.27" cy="618.32" r="0.45"/><circle cx="282.83" cy="609.58" r="0.45"/><circle cx="284.78" cy="619.35" r="0.45"/><circle cx="290.88" cy="611.72" r="0.45"/><circle cx="285.85" cy="611.47" r="0.45"/><circle cx="286.02" cy="612.91" r="0.45"/><circle cx="292.37" cy="606.99" r="0.45"/><circle cx="286.24" cy="608.92" r="0.45"/><circle cx="287.35" cy="610.65" r="0.45"/><circle cx="287.87" cy="607.04" r="0.45"/><circle cx="291.52" cy="615.35" r="0.45"/><circle cx="282.3" cy="618.5" r="0.45"/><circle cx="285.38" cy="606.57" r="0.45"/><circle cx="287.55" cy="610.67" r="0.45"/><circle cx="288.25" cy="610.48" r="0.45"/><circle cx="288.65" cy="614.96" r="0.45"/><circle cx="287.35" cy="615.01" r="0.45"/><circle cx="285.63" cy="611.68" r="0.45"/><circle cx="287.57" cy="618.56" r="0.45"/><circle cx="285.53" cy="628.38" r="0.45"/><circle cx="290.52" cy="606.65" r="0.45"/><circle cx="289.08" cy="613.55" r="0.45"/><circle cx="287.05" cy="608.94" r="0.45"/><circle cx="290.42" cy="608.72" r="0.45"/><circle cx="286.31" cy="609.36" r="0.45"/><circle cx="291.09" cy="622.05" r="0.45"/><circle cx="283.37" cy="611.12" r="0.45"/><circle cx="287.36" cy="611.24" r="0.45"/><circle cx="285.66" cy="607.11" r="0.45"/><circle cx="287.09" cy="607.01" r="0.45"/><circle cx="288.47" cy="629.36" r="0.45"/><circle cx="285.73" cy="624.54" r="0.45"/><circle cx="287.38" cy="609.72" r="0.45"/><circle cx="285.68" cy="607.86" r="0.45"/><circle cx="286.77" cy="618.49" r="0.45"/><circle cx="288.7" cy="612.23" r="0.45"/><circle cx="283.67" cy="613.53" r="0.45"/><circle cx="290.46" cy="615.81" r="0.45"/><circle cx="286.35" cy="600.73" r="0.45"/><circle cx="285.47" cy="617.49" r="0.45"/><circle cx="284.26" cy="622.63" r="0.45"/><circle cx="285.16" cy="608.44" r="0.45"/><circle cx="285.13" cy="613.42" r="0.45"/><circle cx="288.86" cy="610.4" r="0.45"/><circle cx="282.28" cy="613.51" r="0.45"/><circle cx="287.74" cy="623.85" r="0.45"/><circle cx="283.85" cy="623.47" r="0.45"/><circle cx="288.1" cy="616.92" r="0.45"/><circle cx="284.69" cy="608.39" r="0.45"/><circle cx="284.24" cy="619.97" r="0.45"/><circle cx="287.02" cy="620.83" r="0.45"/><circle cx="290.8" cy="614.14" r="0.45"/><circle cx="286.39" cy="626.25" r="0.45"/><circle cx="283.42" cy="611.16" r="0.45"/><circle cx="285.63" cy="611.6" r="0.45"/><circle cx="286.84" cy="608.68" r="0.45"/><circle cx="289.24" cy="605.33" r="0.45"/><circle cx="284.58" cy="603.25" r="0.45"/><circle cx="283.19" cy="617.77" r="0.45"/><circle cx="287.99" cy="612.77" r="0.45"/><circle cx="288.49" cy="617.96" r="0.45"/><circle cx="285.14" cy="613.78" r="0.45"/><circle cx="287.37" cy="626.83" r="0.45"/><circle cx="285.46" cy="616.39" r="0.45"/><circle cx="287.79" cy="621.79" r="0.45"/><circle cx="287.5" cy="620.86" r="0.45"/><circle cx="283.99" cy="612.36" r="0.45"/><circle cx="281.93" cy="613.71" r="0.45"/><circle cx="292" cy="615.57" r="0.45"/><circle cx="286.71" cy="615.73" r="0.45"/><circle cx="286.84" cy="605.61" r="0.45"/><circle cx="284.87" cy="612.93" r="0.45"/><circle cx="286.9" cy="608.55" r="0.45"/><circle cx="286.25" cy="609.37" r="0.45"/><circle cx="283.39" cy="609.85" r="0.45"/><circle cx="284.6" cy="619.37" r="0.45"/><circle cx="289.66" cy="617.72" r="0.45"/><circle cx="286" cy="610.5" r="0.45"/><circle cx="282.8" cy="610.69" r="0.45"/><circle cx="290.19" cy="621.37" r="0.45"/><circle cx="287.03" cy="612.48" r="0.45"/><circle cx="286.51" cy="616.72" r="0.45"/><circle cx="286.48" cy="616.76" r="0.45"/><circle cx="284.68" cy="614.33" r="0.45"/><circle cx="285.67" cy="620.88" r="0.45"/><circle cx="283.57" cy="622.28" r="0.45"/><circle cx="286.3" cy="610.85" r="0.45"/><circle cx="286.55" cy="614.83" r="0.45"/><circle cx="285.95" cy="616.73" r="0.45"/><circle cx="285.14" cy="603.3" r="0.45"/><circle cx="288.14" cy="613.88" r="0.45"/><circle cx="290.43" cy="616.5" r="0.45"/><circle cx="281.78" cy="621.92" r="0.45"/><circle cx="284.88" cy="617.52" r="0.45"/><circle cx="291.74" cy="620.97" r="0.45"/><circle cx="283.92" cy="613.47" r="0.45"/><circle cx="282.71" cy="618.28" r="0.45"/><circle cx="287.83" cy="607.54" r="0.45"/><circle cx="287.57" cy="619.97" r="0.45"/><circle cx="288.41" cy="609.8" r="0.45"/><circle cx="284.87" cy="606.94" r="0.45"/><circle cx="283.45" cy="616.04" r="0.45"/><circle cx="286.59" cy="622.3" r="0.45"/><circle cx="287.15" cy="612.01" r="0.45"/><circle cx="283.14" cy="623.83" r="0.45"/><circle cx="286.89" cy="613.86" r="0.45"/><circle cx="284.13" cy="607.42" r="0.45"/><circle cx="287.99" cy="607.89" r="0.45"/><circle cx="287.88" cy="618.03" r="0.45"/><circle cx="285.6" cy="603.79" r="0.45"/><circle cx="287.47" cy="622.95" r="0.45"/><circle cx="284.56" cy="606.07" r="0.45"/><circle cx="289.07" cy="614.96" r="0.45"/><circle cx="285.03" cy="621.81" r="0.45"/><circle cx="285.85" cy="616.91" r="0.45"/><circle cx="285.55" cy="609.31" r="0.45"/><circle cx="287.02" cy="608.63" r="0.45"/><circle cx="282.32" cy="610.64" r="0.45"/><circle cx="289.41" cy="621" r="0.45"/><circle cx="291.62" cy="620.33" r="0.45"/><circle cx="290.3" cy="615.64" r="0.45"/><circle cx="285.47" cy="617" r="0.45"/><circle cx="284.26" cy="618.7" r="0.45"/><circle cx="285.44" cy="615.69" r="0.45"/><circle cx="284.49" cy="613.22" r="0.45"/></g>
<g fill="#6068c0" fill-opacity="0.4"><circle cx="280.29" cy="608.3" r="0.45"/><circle cx="271.37" cy="610" r="0.45"/><circle cx="279.75" cy="608.4" r="0.45"/><circle cx="268.69" cy="603.74" r="0.45"/><circle cx="267.77" cy="612.65" r="0.45"/><circle cx="274.52" cy="610.66" r="0.45"/><circle cx="280.79" cy="610" r="0.45"/><circle cx="277.6" cy="607.32" r="0.45"/><circle cx="266.31" cy="611.17" r="0.45"/><circle cx="274.48" cy="610.99" r="0.45"/><circle cx="269.25" cy="608.56" r="0.45"/><circle cx="285.87" cy="606.19" r="0.45"/><circle cx="275.53" cy="613.48" r="0.45"/><circle cx="273.75" cy="609.46" r="0.45"/><circle cx="263.51" cy="611.67" r="0.45"/><circle cx="272.62" cy="613.4" r="0.45"/><circle cx="274.51" cy="607.78" r="0.45"/><circle cx="277.35" cy="608.23" r="0.45"/><circle cx="272.22" cy="614.26" r="0.45"/><circle cx="280.3" cy="609.41" r="0.45"/><circle cx="279.36" cy="611.83" r="0.45"/><circle cx="278.13" cy="609.2" r="0.45"/><circle cx="275.39" cy="610.42" r="0.45"/><circle cx="278.05" cy="610.24" r="0.45"/><circle cx="272.03" cy="608.79" r="0.45"/><circle cx="277.47" cy="605.72" r="0.45"/><circle cx="274.95" cy="611.6" r="0.45"/><circle cx="275.91" cy="608.08" r="0.45"/><circle cx="274.88" cy="607.42" r="0.45"/><circle cx="280.3" cy="607.78" r="0.45"/><circle cx="266.03" cy="604.98" r="0.45"/><circle cx="276.62" cy="609.75" r="0.45"/><circle cx="272.46" cy="604.63" r="0.45"/><circle cx="274.2" cy="606.22" r="0.45"/><circle cx="271.47" cy="609.04" r="0.45"/><circle cx="270.87" cy="610.1" r="0.45"/><circle cx="271.02" cy="607.49" r="0.45"/><circle cx="273.78" cy="613.96" r="0.45"/><circle cx="283.49" cy="612.22" r="0.45"/><circle cx="271.04" cy="609.07" r="0.45"/><circle cx="279.92" cy="611.76" r="0.45"/><circle cx="266.23" cy="608.86" r="0.45"/><circle cx="271.02" cy="611.57" r="0.45"/><circle cx="278.43" cy="607.25" r="0.45"/><circle cx="286.54" cy="608.12" r="0.45"/><circle cx="288.15" cy="608.48" r="0.45"/><circle cx="274.54" cy="615.42" r="0.45"/><circle cx="272.17" cy="607.47" r="0.45"/><circle cx="282.94" cy="608.92" r="0.45"/><circle cx="277.57" cy="604.84" r="0.45"/><circle cx="284.63" cy="612.35" r="0.45"/><circle cx="276.92" cy="611.42" r="0.45"/><circle cx="272.31" cy="607.47" r="0.45"/><circle cx="266.54" cy="610.29" r="0.45"/><circle cx="281.66" cy="611.92" r="0.45"/><circle cx="279.95" cy="611.43" r="0.45"/><circle cx="270.05" cy="604.69" r="0.45"/><circle cx="278.45" cy="609.61" r="0.45"/><circle cx="280.31" cy="608.14" r="0.45"/><circle cx="270.25" cy="610.54" r="0.45"/><circle cx="272" cy="603.58" r="0.45"/><circle cx="271.73" cy="606.12" r="0.45"/><circle cx="269" cy="607.22" r="0.45"/><circle cx="280.11" cy="616.91" r="0.45"/><circle cx="284.3" cy="607.67" r="0.45"/><circle cx="281.15" cy="608.82" r="0.45"/><circle cx="277.17" cy="606.8" r="0.45"/><circle cx="274.6" cy="603.46" r="0.45"/><circle cx="284.65" cy="606.51" r="0.45"/><circle cx="278.15" cy="607.1" r="0.45"/><circle cx="276.46" cy="605.13" r="0.45"/><circle cx="272.98" cy="612.1" r="0.45"/><circle cx="278.2" cy="602.58" r="0.45"/><circle cx="279.59" cy="604.69" r="0.45"/><circle cx="276.54" cy="610.79" r="0.45"/><circle cx="271.54" cy="608" r="0.45"/><circle cx="273.68" cy="610.39" r="0.45"/><circle cx="279.92" cy="613.6" r="0.45"/><circle cx="276.76" cy="615.7" r="0.45"/><circle cx="269.9" cy="614.98" r="0.45"/><circle cx="273.59" cy="611.61" r="0.45"/><circle cx="274.32" cy="609.34" r="0.45"/><circle cx="270.06" cy="610.35" r="0.45"/><circle cx="285.9" cy="609.55" r="0.45"/><circle cx="274.89" cy="609.07" r="0.45"/><circle cx="278.84" cy="608.38" r="0.45"/><circle cx="274.98" cy="609.78" r="0.45"/><circle cx="282.01" cy="612.22" r="0.45"/><circle cx="269.33" cy="606.96" r="0.45"/><circle cx="275.11" cy="611.88" r="0.45"/><circle cx="280.21" cy="608.37" r="0.45"/><circle cx="286.45" cy="608.52" r="0.45"/><circle cx="282.57" cy="613.79" r="0.45"/><circle cx="283.59" cy="609.73" r="0.45"/><circle cx="278.1" cy="603.98" r="0.45"/><circle cx="265.42" cy="607.03" r="0.45"/><circle cx="278.87" cy="612.6" r="0.45"/><circle cx="274.45" cy="612.52" r="0.45"/><circle cx="278.11" cy="614.12" r="0.45"/><circle cx="266.43" cy="606.3" r="0.45"/><circle cx="269.85" cy="605.59" r="0.45"/><circle cx="283.88" cy="605.98" r="0.45"/><circle cx="270.54" cy="607.73" r="0.45"/><circle cx="279.76" cy="607.52" r="0.45"/><circle cx="278.97" cy="610.89" r="0.45"/><circle cx="271.55" cy="601.2" r="0.45"/><circle cx="270.06" cy="604.91" r="0.45"/><circle cx="283.81" cy="606.67" r="0.45"/><circle cx="269.23" cy="610.31" r="0.45"/><circle cx="275.29" cy="605.95" r="0.45"/><circle cx="280.9" cy="612.1" r="0.45"/><circle cx="276.5" cy="606.54" r="0.45"/><circle cx="270.3" cy="602.24" r="0.45"/><circle cx="277.07" cy="610.36" r="0.45"/><circle cx="270.04" cy="609.14" r="0.45"/><circle cx="292.67" cy="605.3" r="0.45"/><circle cx="265.8" cy="611.08" r="0.45"/><circle cx="272.7" cy="607.41" r="0.45"/><circle cx="278.35" cy="608.62" r="0.45"/><circle cx="280.36" cy="610.77" r="0.45"/></g>
<g fill="#6070c8" fill-opacity="0.35"><circle cx="284.69" cy="634.64" r="0.45"/><circle cx="268.43" cy="640.52" r="0.45"/><circle cx="270.66" cy="639.03" r="0.45"/><circle cx="280.24" cy="627.47" r="0.45"/><circle cx="279.33" cy="638.25" r="0.45"/><circle cx="273.99" cy="634.27" r="0.45"/><circle cx="275.38" cy="629.3" r="0.45"/><circle cx="275.97" cy="640.13" r="0.45"/><circle cx="282.36" cy="633.93" r="0.45"/><circle cx="278.6" cy="634.67" r="0.45"/><circle cx="280.4" cy="634.94" r="0.45"/><circle cx="270.58" cy="638.43" r="0.45"/><circle cx="274.8" cy="621.69" r="0.45"/><circle cx="282.45" cy="628.33" r="0.45"/><circle cx="278.31" cy="633.62" r="0.45"/><circle cx="276.1" cy="636.6" r="0.45"/><circle cx="277.66" cy="632.73" r="0.45"/><circle cx="274.32" cy="632.73" r="0.45"/><circle cx="273.92" cy="634.26" r="0.45"/><circle cx="285.49" cy="638.86" r="0.45"/><circle cx="281.1" cy="627.58" r="0.45"/><circle cx="284.05" cy="638.5" r="0.45"/><circle cx="289.12" cy="623.36" r="0.45"/><circle cx="279.08" cy="632.47" r="0.45"/><circle cx="284.34" cy="628.89" r="0.45"/><circle cx="277.13" cy="645.08" r="0.45"/><circle cx="283.89" cy="624.57" r="0.45"/><circle cx="279.1" cy="640.56" r="0.45"/><circle cx="275.97" cy="636.89" r="0.45"/><circle cx="279.49" cy="627.09" r="0.45"/><circle cx="275.92" cy="639.45" r="0.45"/><circle cx="284.82" cy="631.19" r="0.45"/><circle cx="284.53" cy="630.66" r="0.45"/><circle cx="280.21" cy="633.94" r="0.45"/><circle cx="272.86" cy="635.58" r="0.45"/><circle cx="277.09" cy="620.98" r="0.45"/><circle cx="274.93" cy="630.01" r="0.45"/><circle cx="274.9" cy="629.39" r="0.45"/><circle cx="275.62" cy="622.37" r="0.45"/><circle cx="283.38" cy="634.38" r="0.45"/><circle cx="280.25" cy="632.77" r="0.45"/><circle cx="279.31" cy="632.79" r="0.45"/><circle cx="273.64" cy="626.8" r="0.45"/><circle cx="279.37" cy="638.89" r="0.45"/><circle cx="280.15" cy="641.72" r="0.45"/><circle cx="272.29" cy="632.77" r="0.45"/><circle cx="275.96" cy="639.91" r="0.45"/><circle cx="287.34" cy="631.55" r="0.45"/><circle cx="282.6" cy="632.88" r="0.45"/><circle cx="274.09" cy="633.5" r="0.45"/><circle cx="273.88" cy="641.42" r="0.45"/><circle cx="281.9" cy="639.7" r="0.45"/><circle cx="280.76" cy="622.43" r="0.45"/><circle cx="282.95" cy="634.46" r="0.45"/><circle cx="267.28" cy="634.51" r="0.45"/><circle cx="283.97" cy="642.19" r="0.45"/><circle cx="273.97" cy="637.79" r="0.45"/><circle cx="280.64" cy="633.2" r="0.45"/><circle cx="277.61" cy="636.55" r="0.45"/><circle cx="281.84" cy="637.17" r="0.45"/><circle cx="276.99" cy="627.72" r="0.45"/><circle cx="285.48" cy="640.23" r="0.45"/><circle cx="276.22" cy="633.87" r="0.45"/><circle cx="282.97" cy="625.62" r="0.45"/><circle cx="281.46" cy="645.59" r="0.45"/><circle cx="280.34" cy="630.65" r="0.45"/><circle cx="289.05" cy="634.06" r="0.45"/><circle cx="280.04" cy="631.99" r="0.45"/><circle cx="279.89" cy="625.43" r="0.45"/><circle cx="272.69" cy="626.96" r="0.45"/><circle cx="283.44" cy="633.58" r="0.45"/><circle cx="284.67" cy="624.27" r="0.45"/><circle cx="276.05" cy="640.99" r="0.45"/><circle cx="275.1" cy="625.1" r="0.45"/><circle cx="275.33" cy="632.36" r="0.45"/><circle cx="278.94" cy="640.26" r="0.45"/><circle cx="285.54" cy="641.45" r="0.45"/><circle cx="281.86" cy="631.61" r="0.45"/><circle cx="276.57" cy="626.93" r="0.45"/><circle cx="285.26" cy="640.02" r="0.45"/></g>
<ellipse cx="273.5" cy="627.5" rx="10" ry="6.5" fill="url(#gblue)" transform="rotate(-25 273.5 627.5)"/>
<ellipse cx="273.8" cy="627.2" rx="5.5" ry="3.8" fill="url(#ggreen2)" transform="rotate(-25 273.8 627.2)"/>
<ellipse cx="286.7" cy="614.5" rx="4.4" ry="11" fill="url(#gblue)"/>
<ellipse cx="286.7" cy="615" rx="3.2" ry="9" fill="url(#ggreen2)"/>
<ellipse cx="288.5" cy="605.6" rx="3.8" ry="2.8" fill="url(#gyel2)"/>
</g>
<line x1="281.3" y1="583.3" x2="281.3" y2="655.2" stroke="#7c7c7c" stroke-width="1.4"/>
<line x1="243" y1="614.5" x2="311.3" y2="614.5" stroke="#7c7c7c" stroke-width="1.4"/>
<rect x="243" y="583.3" width="68.3" height="71.9" fill="none" stroke="#8a8a8a" stroke-width="0.9"/>
<line x1="241" y1="587.5" x2="243" y2="587.5" stroke="#1e1e1e" stroke-width="0.7"/>
<text x="236.8" y="589.4" font-size="5.2" text-anchor="end">10</text>
<text x="237" y="587.2" font-size="3.7">5</text>
<line x1="241.9" y1="595.82" x2="243" y2="595.82" stroke="#1e1e1e" stroke-width="0.5"/>
<line x1="241.9" y1="593.72" x2="243" y2="593.72" stroke="#1e1e1e" stroke-width="0.5"/>
<line x1="241.9" y1="592.24" x2="243" y2="592.24" stroke="#1e1e1e" stroke-width="0.5"/>
<line x1="241.9" y1="591.08" x2="243" y2="591.08" stroke="#1e1e1e" stroke-width="0.5"/>
<line x1="241.9" y1="590.14" x2="243" y2="590.14" stroke="#1e1e1e" stroke-width="0.5"/>
<line x1="241.9" y1="589.34" x2="243" y2="589.34" stroke="#1e1e1e" stroke-width="0.5"/>
<line x1="241.9" y1="588.65" x2="243" y2="588.65" stroke="#1e1e1e" stroke-width="0.5"/>
<line x1="241.9" y1="588.04" x2="243" y2="588.04" stroke="#1e1e1e" stroke-width="0.5"/>
<line x1="241" y1="599.4" x2="243" y2="599.4" stroke="#1e1e1e" stroke-width="0.7"/>
<text x="236.8" y="601.3" font-size="5.2" text-anchor="end">10</text>
<text x="237" y="599.1" font-size="3.7">4</text>
<line x1="241.9" y1="607.09" x2="243" y2="607.09" stroke="#1e1e1e" stroke-width="0.5"/>
<line x1="241.9" y1="605.15" x2="243" y2="605.15" stroke="#1e1e1e" stroke-width="0.5"/>
<line x1="241.9" y1="603.78" x2="243" y2="603.78" stroke="#1e1e1e" stroke-width="0.5"/>
<line x1="241.9" y1="602.71" x2="243" y2="602.71" stroke="#1e1e1e" stroke-width="0.5"/>
<line x1="241.9" y1="601.84" x2="243" y2="601.84" stroke="#1e1e1e" stroke-width="0.5"/>
<line x1="241.9" y1="601.1" x2="243" y2="601.1" stroke="#1e1e1e" stroke-width="0.5"/>
<line x1="241.9" y1="600.47" x2="243" y2="600.47" stroke="#1e1e1e" stroke-width="0.5"/>
<line x1="241.9" y1="599.9" x2="243" y2="599.9" stroke="#1e1e1e" stroke-width="0.5"/>
<line x1="241" y1="610.4" x2="243" y2="610.4" stroke="#1e1e1e" stroke-width="0.7"/>
<text x="236.8" y="612.3" font-size="5.2" text-anchor="end">10</text>
<text x="237" y="610.1" font-size="3.7">3</text>
<line x1="241.9" y1="617.95" x2="243" y2="617.95" stroke="#1e1e1e" stroke-width="0.5"/>
<line x1="241.9" y1="616.05" x2="243" y2="616.05" stroke="#1e1e1e" stroke-width="0.5"/>
<line x1="241.9" y1="614.7" x2="243" y2="614.7" stroke="#1e1e1e" stroke-width="0.5"/>
<line x1="241.9" y1="613.65" x2="243" y2="613.65" stroke="#1e1e1e" stroke-width="0.5"/>
<line x1="241.9" y1="612.8" x2="243" y2="612.8" stroke="#1e1e1e" stroke-width="0.5"/>
<line x1="241.9" y1="612.07" x2="243" y2="612.07" stroke="#1e1e1e" stroke-width="0.5"/>
<line x1="241.9" y1="611.45" x2="243" y2="611.45" stroke="#1e1e1e" stroke-width="0.5"/>
<line x1="241.9" y1="610.89" x2="243" y2="610.89" stroke="#1e1e1e" stroke-width="0.5"/>
<line x1="241" y1="621.2" x2="243" y2="621.2" stroke="#1e1e1e" stroke-width="0.7"/>
<text x="236.8" y="623.1" font-size="5.2" text-anchor="end">10</text>
<text x="237" y="620.9" font-size="3.7">2</text>
<line x1="241.9" y1="629.03" x2="243" y2="629.03" stroke="#1e1e1e" stroke-width="0.5"/>
<line x1="241.9" y1="627.06" x2="243" y2="627.06" stroke="#1e1e1e" stroke-width="0.5"/>
<line x1="241.9" y1="625.66" x2="243" y2="625.66" stroke="#1e1e1e" stroke-width="0.5"/>
<line x1="241.9" y1="624.57" x2="243" y2="624.57" stroke="#1e1e1e" stroke-width="0.5"/>
<line x1="241.9" y1="623.68" x2="243" y2="623.68" stroke="#1e1e1e" stroke-width="0.5"/>
<line x1="241.9" y1="622.93" x2="243" y2="622.93" stroke="#1e1e1e" stroke-width="0.5"/>
<line x1="241.9" y1="622.29" x2="243" y2="622.29" stroke="#1e1e1e" stroke-width="0.5"/>
<line x1="241.9" y1="621.71" x2="243" y2="621.71" stroke="#1e1e1e" stroke-width="0.5"/>
<line x1="241" y1="632.4" x2="243" y2="632.4" stroke="#1e1e1e" stroke-width="0.7"/>
<text x="236.8" y="634.3" font-size="5.2" text-anchor="end">10</text>
<text x="237" y="632.1" font-size="3.7">1</text>
<line x1="241.9" y1="639.81" x2="243" y2="639.81" stroke="#1e1e1e" stroke-width="0.5"/>
<line x1="241.9" y1="637.94" x2="243" y2="637.94" stroke="#1e1e1e" stroke-width="0.5"/>
<line x1="241.9" y1="636.62" x2="243" y2="636.62" stroke="#1e1e1e" stroke-width="0.5"/>
<line x1="241.9" y1="635.59" x2="243" y2="635.59" stroke="#1e1e1e" stroke-width="0.5"/>
<line x1="241.9" y1="634.75" x2="243" y2="634.75" stroke="#1e1e1e" stroke-width="0.5"/>
<line x1="241.9" y1="634.04" x2="243" y2="634.04" stroke="#1e1e1e" stroke-width="0.5"/>
<line x1="241.9" y1="633.43" x2="243" y2="633.43" stroke="#1e1e1e" stroke-width="0.5"/>
<line x1="241.9" y1="632.89" x2="243" y2="632.89" stroke="#1e1e1e" stroke-width="0.5"/>
<line x1="241" y1="643" x2="243" y2="643" stroke="#1e1e1e" stroke-width="0.7"/>
<text x="236.8" y="644.9" font-size="5.2" text-anchor="end">10</text>
<text x="237" y="642.7" font-size="3.7">0</text>
<line x1="241.9" y1="650.97" x2="243" y2="650.97" stroke="#1e1e1e" stroke-width="0.5"/>
<line x1="241.9" y1="648.96" x2="243" y2="648.96" stroke="#1e1e1e" stroke-width="0.5"/>
<line x1="241.9" y1="647.54" x2="243" y2="647.54" stroke="#1e1e1e" stroke-width="0.5"/>
<line x1="241.9" y1="646.43" x2="243" y2="646.43" stroke="#1e1e1e" stroke-width="0.5"/>
<line x1="241.9" y1="645.53" x2="243" y2="645.53" stroke="#1e1e1e" stroke-width="0.5"/>
<line x1="241.9" y1="644.77" x2="243" y2="644.77" stroke="#1e1e1e" stroke-width="0.5"/>
<line x1="241.9" y1="644.1" x2="243" y2="644.1" stroke="#1e1e1e" stroke-width="0.5"/>
<line x1="241.9" y1="643.52" x2="243" y2="643.52" stroke="#1e1e1e" stroke-width="0.5"/>
<line x1="241" y1="654.4" x2="243" y2="654.4" stroke="#1e1e1e" stroke-width="0.7"/>
<text x="236.8" y="656.3" font-size="5.2" text-anchor="end">10</text>
<text x="237" y="654.1" font-size="3.7">−1</text>
<line x1="251.2" y1="655.2" x2="251.2" y2="657.4" stroke="#1e1e1e" stroke-width="0.7"/>
<text x="251.4" y="665.5" font-size="5.4" text-anchor="middle">10<tspan font-size="3.8" dy="-2.3">1</tspan></text>
<line x1="255.78" y1="655.2" x2="255.78" y2="656.3" stroke="#1e1e1e" stroke-width="0.5"/>
<line x1="258.45" y1="655.2" x2="258.45" y2="656.3" stroke="#1e1e1e" stroke-width="0.5"/>
<line x1="260.35" y1="655.2" x2="260.35" y2="656.3" stroke="#1e1e1e" stroke-width="0.5"/>
<line x1="261.82" y1="655.2" x2="261.82" y2="656.3" stroke="#1e1e1e" stroke-width="0.5"/>
<line x1="263.03" y1="655.2" x2="263.03" y2="656.3" stroke="#1e1e1e" stroke-width="0.5"/>
<line x1="264.05" y1="655.2" x2="264.05" y2="656.3" stroke="#1e1e1e" stroke-width="0.5"/>
<line x1="264.93" y1="655.2" x2="264.93" y2="656.3" stroke="#1e1e1e" stroke-width="0.5"/>
<line x1="265.7" y1="655.2" x2="265.7" y2="656.3" stroke="#1e1e1e" stroke-width="0.5"/>
<line x1="266.2" y1="655.2" x2="266.2" y2="657.4" stroke="#1e1e1e" stroke-width="0.7"/>
<text x="266.4" y="665.5" font-size="5.4" text-anchor="middle">10<tspan font-size="3.8" dy="-2.3">2</tspan></text>
<line x1="270.78" y1="655.2" x2="270.78" y2="656.3" stroke="#1e1e1e" stroke-width="0.5"/>
<line x1="273.45" y1="655.2" x2="273.45" y2="656.3" stroke="#1e1e1e" stroke-width="0.5"/>
<line x1="275.35" y1="655.2" x2="275.35" y2="656.3" stroke="#1e1e1e" stroke-width="0.5"/>
<line x1="276.82" y1="655.2" x2="276.82" y2="656.3" stroke="#1e1e1e" stroke-width="0.5"/>
<line x1="278.03" y1="655.2" x2="278.03" y2="656.3" stroke="#1e1e1e" stroke-width="0.5"/>
<line x1="279.05" y1="655.2" x2="279.05" y2="656.3" stroke="#1e1e1e" stroke-width="0.5"/>
<line x1="279.93" y1="655.2" x2="279.93" y2="656.3" stroke="#1e1e1e" stroke-width="0.5"/>
<line x1="280.7" y1="655.2" x2="280.7" y2="656.3" stroke="#1e1e1e" stroke-width="0.5"/>
<line x1="282.1" y1="655.2" x2="282.1" y2="657.4" stroke="#1e1e1e" stroke-width="0.7"/>
<text x="282.3" y="665.5" font-size="5.4" text-anchor="middle">10<tspan font-size="3.8" dy="-2.3">3</tspan></text>
<line x1="286.68" y1="655.2" x2="286.68" y2="656.3" stroke="#1e1e1e" stroke-width="0.5"/>
<line x1="289.35" y1="655.2" x2="289.35" y2="656.3" stroke="#1e1e1e" stroke-width="0.5"/>
<line x1="291.25" y1="655.2" x2="291.25" y2="656.3" stroke="#1e1e1e" stroke-width="0.5"/>
<line x1="292.72" y1="655.2" x2="292.72" y2="656.3" stroke="#1e1e1e" stroke-width="0.5"/>
<line x1="293.93" y1="655.2" x2="293.93" y2="656.3" stroke="#1e1e1e" stroke-width="0.5"/>
<line x1="294.95" y1="655.2" x2="294.95" y2="656.3" stroke="#1e1e1e" stroke-width="0.5"/>
<line x1="295.83" y1="655.2" x2="295.83" y2="656.3" stroke="#1e1e1e" stroke-width="0.5"/>
<line x1="296.6" y1="655.2" x2="296.6" y2="656.3" stroke="#1e1e1e" stroke-width="0.5"/>
<line x1="297.3" y1="655.2" x2="297.3" y2="657.4" stroke="#1e1e1e" stroke-width="0.7"/>
<text x="297.5" y="665.5" font-size="5.4" text-anchor="middle">10<tspan font-size="3.8" dy="-2.3">4</tspan></text>
<line x1="301.88" y1="655.2" x2="301.88" y2="656.3" stroke="#1e1e1e" stroke-width="0.5"/>
<line x1="304.55" y1="655.2" x2="304.55" y2="656.3" stroke="#1e1e1e" stroke-width="0.5"/>
<line x1="306.45" y1="655.2" x2="306.45" y2="656.3" stroke="#1e1e1e" stroke-width="0.5"/>
<line x1="307.92" y1="655.2" x2="307.92" y2="656.3" stroke="#1e1e1e" stroke-width="0.5"/>
<line x1="309.13" y1="655.2" x2="309.13" y2="656.3" stroke="#1e1e1e" stroke-width="0.5"/>
<line x1="310.15" y1="655.2" x2="310.15" y2="656.3" stroke="#1e1e1e" stroke-width="0.5"/>
<line x1="311.03" y1="655.2" x2="311.03" y2="656.3" stroke="#1e1e1e" stroke-width="0.5"/>
<line x1="243.25" y1="655.2" x2="243.25" y2="656.3" stroke="#1e1e1e" stroke-width="0.5"/>
<line x1="245.15" y1="655.2" x2="245.15" y2="656.3" stroke="#1e1e1e" stroke-width="0.5"/>
<line x1="246.62" y1="655.2" x2="246.62" y2="656.3" stroke="#1e1e1e" stroke-width="0.5"/>
<line x1="247.83" y1="655.2" x2="247.83" y2="656.3" stroke="#1e1e1e" stroke-width="0.5"/>
<line x1="248.85" y1="655.2" x2="248.85" y2="656.3" stroke="#1e1e1e" stroke-width="0.5"/>
<line x1="249.73" y1="655.2" x2="249.73" y2="656.3" stroke="#1e1e1e" stroke-width="0.5"/>
<line x1="250.5" y1="655.2" x2="250.5" y2="656.3" stroke="#1e1e1e" stroke-width="0.5"/>
<text x="246.4" y="590.7" font-size="5.4" text-anchor="start">Q1</text>
<text x="246.4" y="597.3" font-size="5.4" text-anchor="start">3.21</text>
<text x="308.1" y="590.7" font-size="5.4" text-anchor="end">Q2</text>
<text x="308.1" y="597.3" font-size="5.4" text-anchor="end">29.5</text>
<text x="246.4" y="644.8" font-size="5.4" text-anchor="start">Q4</text>
<text x="246.4" y="651.6" font-size="5.4" text-anchor="start">43.7</text>
<text x="308.1" y="644.8" font-size="5.4" text-anchor="end">Q3</text>
<text x="308.1" y="651.6" font-size="5.4" text-anchor="end">23.6</text>
<text x="276.6" y="578.6" font-size="7.6" text-anchor="middle" textLength="51.2" lengthAdjust="spacingAndGlyphs">MARCH5 sh#2</text>
<line x1="31.5" y1="632" x2="31.5" y2="670.5" stroke="#1e1e1e" stroke-width="1.1"/>
<line x1="31" y1="670" x2="75" y2="670" stroke="#1e1e1e" stroke-width="1.1"/>
<path d="M31.5,629.2 L29.4,634 L33.6,634 Z" fill="#1e1e1e"/>
<path d="M78.6,670 L73.8,667.9 L73.8,672.1 Z" fill="#1e1e1e"/>
<text x="27.4" y="640.1" font-size="9.3" text-anchor="middle" textLength="22.9" lengthAdjust="spacingAndGlyphs" transform="rotate(-90 27.4 640.1)" style="stroke-width:0.3px">Hoechst</text>
<text x="64.95" y="681.6" font-size="9" text-anchor="middle" textLength="28.7" lengthAdjust="spacingAndGlyphs" style="stroke-width:0.3px">Annexin V</text>
<text x="379.75" y="572.8" font-size="9.4" text-anchor="middle" textLength="41" lengthAdjust="spacingAndGlyphs">Apoptosis</text>
<line x1="356.3" y1="683" x2="356.3" y2="578.6" stroke="#1e1e1e" stroke-width="1.2"/>
<line x1="353.3" y1="682.5" x2="356.3" y2="682.5" stroke="#1e1e1e" stroke-width="1.2"/>
<text x="350.7" y="685.45" font-size="8.2" text-anchor="end">0</text>
<line x1="353.3" y1="662.26" x2="356.3" y2="662.26" stroke="#1e1e1e" stroke-width="1.2"/>
<text x="350.7" y="665.21" font-size="8.2" text-anchor="end">10</text>
<line x1="353.3" y1="642.02" x2="356.3" y2="642.02" stroke="#1e1e1e" stroke-width="1.2"/>
<text x="350.7" y="644.97" font-size="8.2" text-anchor="end">20</text>
<line x1="353.3" y1="621.78" x2="356.3" y2="621.78" stroke="#1e1e1e" stroke-width="1.2"/>
<text x="350.7" y="624.73" font-size="8.2" text-anchor="end">30</text>
<line x1="353.3" y1="601.54" x2="356.3" y2="601.54" stroke="#1e1e1e" stroke-width="1.2"/>
<text x="350.7" y="604.49" font-size="8.2" text-anchor="end">40</text>
<line x1="353.3" y1="581.3" x2="356.3" y2="581.3" stroke="#1e1e1e" stroke-width="1.2"/>
<text x="350.7" y="584.25" font-size="8.2" text-anchor="end">50</text>
<line x1="354.5" y1="672.38" x2="356.3" y2="672.38" stroke="#1e1e1e" stroke-width="0.9"/>
<line x1="354.5" y1="652.14" x2="356.3" y2="652.14" stroke="#1e1e1e" stroke-width="0.9"/>
<line x1="354.5" y1="631.9" x2="356.3" y2="631.9" stroke="#1e1e1e" stroke-width="0.9"/>
<line x1="354.5" y1="611.66" x2="356.3" y2="611.66" stroke="#1e1e1e" stroke-width="0.9"/>
<line x1="354.5" y1="591.42" x2="356.3" y2="591.42" stroke="#1e1e1e" stroke-width="0.9"/>
<line x1="356.3" y1="682.5" x2="401" y2="682.5" stroke="#1e1e1e" stroke-width="1.2"/>
<line x1="365.8" y1="682.5" x2="365.8" y2="685.5" stroke="#1e1e1e" stroke-width="1"/>
<line x1="379.5" y1="682.5" x2="379.5" y2="685.5" stroke="#1e1e1e" stroke-width="1"/>
<line x1="392.6" y1="682.5" x2="392.6" y2="685.5" stroke="#1e1e1e" stroke-width="1"/>
<ellipse cx="362.5" cy="677" rx="2.58" ry="2.05" fill="#4a8cbc" stroke="#1d4f7a" stroke-width="0.9"/>
<ellipse cx="365.5" cy="675" rx="2.58" ry="2.05" fill="#4a8cbc" stroke="#1d4f7a" stroke-width="0.9"/>
<ellipse cx="368.2" cy="675.5" rx="2.58" ry="2.05" fill="#4a8cbc" stroke="#1d4f7a" stroke-width="0.9"/>
<ellipse cx="376.3" cy="617.5" rx="2.58" ry="2.05" fill="#8e1b2d" stroke="#5c0d1a" stroke-width="0.9"/>
<ellipse cx="382" cy="618.7" rx="2.58" ry="2.05" fill="#8e1b2d" stroke="#5c0d1a" stroke-width="0.9"/>
<ellipse cx="379.3" cy="622.5" rx="2.58" ry="2.05" fill="#8e1b2d" stroke="#5c0d1a" stroke-width="0.9"/>
<ellipse cx="390.5" cy="630" rx="2.58" ry="2.05" fill="#e8932e" stroke="#7a4a10" stroke-width="0.9"/>
<ellipse cx="390.5" cy="634.8" rx="2.58" ry="2.05" fill="#e8932e" stroke="#7a4a10" stroke-width="0.9"/>
<ellipse cx="395.8" cy="632.5" rx="2.58" ry="2.05" fill="#e8932e" stroke="#7a4a10" stroke-width="0.9"/>
<line x1="365" y1="590.5" x2="393" y2="590.5" stroke="#1e1e1e" stroke-width="1.1"/>
<circle cx="374.57" cy="586.2" r="1.1" fill="#1e1e1e"/>
<circle cx="377.52" cy="586.2" r="1.1" fill="#1e1e1e"/>
<circle cx="380.48" cy="586.2" r="1.1" fill="#1e1e1e"/>
<circle cx="383.43" cy="586.2" r="1.1" fill="#1e1e1e"/>
<line x1="365" y1="606.3" x2="379.3" y2="606.3" stroke="#1e1e1e" stroke-width="1.1"/>
<circle cx="367.72" cy="602" r="1.1" fill="#1e1e1e"/>
<circle cx="370.67" cy="602" r="1.1" fill="#1e1e1e"/>
<circle cx="373.62" cy="602" r="1.1" fill="#1e1e1e"/>
<circle cx="376.57" cy="602" r="1.1" fill="#1e1e1e"/>
<text x="335.2" y="631" font-size="9" text-anchor="middle" font-weight="bold" textLength="71.4" lengthAdjust="spacingAndGlyphs" transform="rotate(-90 335.2 631)">Early apoptotic cells (%)</text>
<circle cx="410.5" cy="582.2" r="2.1" fill="#5aaac0" stroke="#124e62" stroke-width="0.9"/>
<text x="415.6" y="584.9" font-size="7.5" text-anchor="start">Scramble</text>
<circle cx="410.5" cy="593.5" r="2.1" fill="#8e1b2d" stroke="#5c0d1a" stroke-width="0.9"/>
<text x="415.6" y="596.2" font-size="7.5" text-anchor="start">MARCH5 sh#1</text>
<circle cx="410.5" cy="604.8" r="2.1" fill="#e8932e" stroke="#7a4a10" stroke-width="0.9"/>
<text x="415.6" y="607.5" font-size="7.5" text-anchor="start">MARCH5 sh#2</text>
</svg>
</body></html>
